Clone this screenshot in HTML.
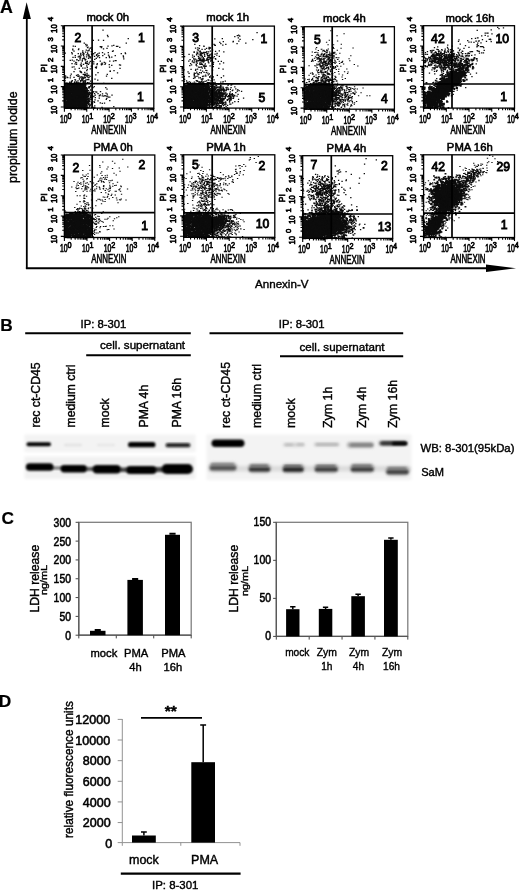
<!DOCTYPE html><html><head><meta charset="utf-8"><title>Figure</title><style>html,body{margin:0;padding:0;background:#fff}svg{display:block}text{font-family:"Liberation Sans",Arial,sans-serif;fill:#000;stroke:#000}</style></head><body>
<svg width="520" height="890" viewBox="0 0 520 890" stroke-width=".4">
<defs><filter id="b1" x="-20%" y="-50%" width="140%" height="200%"><feGaussianBlur stdDeviation="1.3"/></filter><filter id="b2" x="-20%" y="-50%" width="140%" height="200%"><feGaussianBlur stdDeviation="1.8"/></filter><filter id="b0" x="-20%" y="-50%" width="140%" height="200%"><feGaussianBlur stdDeviation="0.9"/></filter></defs>
<rect width="520" height="890" fill="#fff"/>
<text x="0" y="12.7" font-size="17.8" font-weight="bold" stroke-width=".2">A</text>
<path d="M26.8 268.8V18" stroke="#000" stroke-width="1.8" fill="none"/>
<path d="M26.6 2.2L30.9 19H22.8Z" fill="#000"/>
<path d="M25.9 268.2H487" stroke="#000" stroke-width="2.1" fill="none"/>
<path d="M516 268.2L486 264.5V271.9Z" fill="#000"/>
<text transform="translate(17.3,183) rotate(-90)" font-size="12.4">propidium Iodide</text>
<text x="255" y="288" font-size="11.6">Annexin-V</text>
<path transform="translate(64.40,108.10) scale(.25,-.25)" d="M26 12h1M57 5h1M46 34h1M0 48h1M0 40h1M3 40h1M74 10h1M16 60h1M86 55h1M33 94h1M1 82h1M9 9h1M24 78h1M12 55h1M56 34h1M48 4h1M0 18h1M60 40h1M25 55h1M38 27h1M71 67h1M18 54h1M45 84h1M65 26h1M35 72h1M9 46h1M3 64h1M50 84h1M25 66h1M52 55h1M39 81h1M86 44h1M59 4h1M62 62h1M22 36h1M59 2h1M11 9h1M0 73h1M7 22h1M32 84h1M2 42h1M48 85h1M74 83h1M22 39h1M29 85h1M87 12h1M12 20h1M17 45h1M52 24h1M1 39h1M49 92h1M61 48h1M54 64h1M3 86h1M79 76h1M33 37h1M5 60h1M1 4h1M15 14h1M27 3h1M4 33h1M54 12h1M19 32h1M30 10h1M40 45h1M3 8h1M28 24h1M75 13h1M46 12h1M47 0h1M46 94h1M78 66h1M20 34h1M11 74h1M46 75h1M26 20h1M73 95h1M77 77h1M74 71h1M17 49h1M29 0h1M1 25h1M62 92h1M38 90h1M30 19h1M17 17h1M14 59h1M82 81h1M41 62h1M72 6h1M58 87h1M70 72h1M41 15h1M71 30h1M72 94h1M33 37h1M86 69h1M11 10h1M9 87h1M73 12h1M74 94h1M58 32h1M48 10h1M57 50h1M85 40h1M79 79h1M15 22h1M23 21h1M51 23h1M35 10h1M82 33h1M39 55h1M82 39h1M83 47h1M46 49h1M1 41h1M11 44h1M65 53h1M26 49h1M48 75h1M5 53h1M19 25h1M69 48h1M49 73h1M83 41h1M54 48h1M44 66h1M38 50h1M41 91h1M62 84h1M86 23h1M49 91h1M76 11h1M6 41h1M2 21h1M2 64h1M70 86h1M10 68h1M58 12h1M80 93h1M16 92h1M33 46h1M10 40h1M44 31h1M14 29h1M64 2h1M37 1h1M55 48h1M71 94h1M5 24h1M1 75h1M7 39h1M83 79h1M20 12h1M83 54h1M62 6h1M0 66h1M36 5h1M85 60h1M72 6h1M77 4h1M78 42h1M27 52h1M84 24h1M7 50h1M18 8h1M10 3h1M14 28h1M24 73h1M23 47h1M12 32h1M0 22h1M65 52h1M13 44h1M85 8h1M74 40h1M42 80h1M33 48h1M61 95h1M28 80h1M63 60h1M34 32h1M0 10h1M66 23h1M10 6h1M76 84h1M59 25h1M18 27h1M39 13h1M38 24h1M47 22h1M88 28h1M29 1h1M40 47h1M14 47h1M0 24h1M33 2h1M1 28h1M51 50h1M67 63h1M64 84h1M32 30h1M65 61h1M3 80h1M55 70h1M73 11h1M45 47h1M75 77h1M74 55h1M81 65h1M62 20h1M1 11h1M5 80h1M49 60h1M55 65h1M42 3h1M67 47h1M46 63h1M1 70h1M19 5h1M20 70h1M14 71h1M89 46h1M32 45h1M61 73h1M54 61h1M2 12h1M19 71h1M24 54h1M21 64h1M61 64h1M23 49h1M40 44h1M6 86h1M14 94h1M39 79h1M88 42h1M21 18h1M86 18h1M51 12h1M45 92h1M7 79h1M44 85h1M63 20h1M81 46h1M42 42h1M24 11h1M28 29h1M67 80h1M6 89h1M63 87h1M23 34h1M33 96h1M52 33h1M36 25h1M3 8h1M22 90h1M19 24h1M44 16h1M31 92h1M80 78h1M56 88h1M85 52h1M64 2h1M65 42h1M67 61h1M22 2h1M84 10h1M40 32h1M23 71h1M89 23h1M58 27h1M48 37h1M11 14h1M15 87h1M43 19h1M38 11h1M13 6h1M28 7h1M18 23h1M50 85h1M67 38h1M35 49h1M31 31h1M1 25h1M88 10h1M43 60h1M78 19h1M21 22h1M33 42h1M87 81h1M3 68h1M40 56h1M3 36h1M74 82h1M89 22h1M5 13h1M45 65h1M86 69h1M57 73h1M39 52h1M1 75h1M83 61h1M24 10h1M19 60h1M62 9h1M1 49h1M51 36h1M16 57h1M2 27h1M87 61h1M80 45h1M17 22h1M87 67h1M24 2h1M60 39h1M19 64h1M84 20h1M2 31h1M61 17h1M72 71h1M43 18h1M88 28h1M74 20h1M16 73h1M23 92h1M43 16h1M16 39h1M59 91h1M9 36h1M15 94h1M8 3h1M0 36h1M81 85h1M65 96h1M85 30h1M13 90h1M67 1h1M59 35h1M31 30h1M22 32h1M87 10h1M88 18h1M29 79h1M74 40h1M1 44h1M83 17h1M30 86h1M3 38h1M69 2h1M83 23h1M67 86h1M27 24h1M87 59h1M20 68h1M25 25h1M3 72h1M56 91h1M2 21h1M32 22h1M36 46h1M84 16h1M72 71h1M74 74h1M53 30h1M25 33h1M70 5h1M14 72h1M19 4h1M1 52h1M90 24h1M3 7h1M43 68h1M38 21h1M35 59h1M60 71h1M76 63h1M6 81h1M23 54h1M31 71h1M14 22h1M18 13h1M80 55h1M26 37h1M90 48h1M17 77h1M58 96h1M5 44h1M74 81h1M23 9h1M13 94h1M51 90h1M31 83h1M38 23h1M70 91h1M5 56h1M54 19h1M30 12h1M14 23h1M53 62h1M14 1h1M60 16h1M25 18h1M71 52h1M1 8h1M33 52h1M56 7h1M10 66h1M34 26h1M24 92h1M25 54h1M29 39h1M30 17h1M65 18h1M36 79h1M34 85h1M39 14h1M2 52h1M82 6h1M55 34h1M43 12h1M22 49h1M84 8h1M42 77h1M88 17h1M7 91h1M89 45h1M32 87h1M55 79h1M10 75h1M16 38h1M76 80h1M12 19h1M33 49h1M32 10h1M18 69h1M81 2h1M49 72h1M0 80h1M53 52h1M55 28h1M35 55h1M36 63h1M38 41h1M2 59h1M17 73h1M70 43h1M12 44h1M5 10h1M36 7h1M37 48h1M0 60h1M65 74h1M44 3h1M43 35h1M86 11h1M65 78h1M13 95h1M42 92h1M83 14h1M71 90h1M1 32h1M68 13h1M81 25h1M73 12h1M43 88h1M15 24h1M43 29h1M1 16h1M85 65h1M81 14h1M70 9h1M46 60h1M29 84h1M48 55h1M80 8h1M91 60h1M33 76h1M20 95h1M50 33h1M68 41h1M12 71h1M1 79h1M56 95h1M51 63h1M25 0h1M9 58h1M36 48h1M81 11h1M17 62h1M29 8h1M29 20h1M51 56h1M14 59h1M40 11h1M85 22h1M9 7h1M56 84h1M70 37h1M20 2h1M49 32h1M57 41h1M85 70h1M19 87h1M1 50h1M18 3h1M70 2h1M85 12h1M14 58h1M44 61h1M73 15h1M25 27h1M3 85h1M64 3h1M67 44h1M66 42h1M16 8h1M17 1h1M27 72h1M62 81h1M63 24h1M48 41h1M71 49h1M20 61h1M88 19h1M20 21h1M66 91h1M67 30h1M80 30h1M18 87h1M56 66h1M59 94h1M40 81h1M62 82h1M37 69h1M50 28h1M15 59h1M2 88h1M9 0h1M5 89h1M28 12h1M62 60h1M62 70h1M1 56h1M30 78h1M74 86h1M1 83h1M83 91h1M5 18h1M5 1h1M76 78h1M56 79h1M56 26h1M4 7h1M68 18h1M25 39h1M1 23h1M64 34h1M26 93h1M43 82h1M54 1h1M35 41h1M69 32h1M63 51h1M16 83h1M3 79h1M14 73h1M42 46h1M72 16h1M42 32h1M75 23h1M86 26h1M15 67h1M43 8h1M56 6h1M71 66h1M71 60h1M29 37h1M33 86h1M3 85h1M1 18h1M82 47h1M31 85h1M17 43h1M46 72h1M67 61h1M28 30h1M10 81h1M59 71h1M11 41h1M69 55h1M7 43h1M80 21h1M13 27h1M63 81h1M10 13h1M19 30h1M45 13h1M26 16h1M89 70h1M4 93h1M4 36h1M90 76h1M65 41h1M14 61h1M5 18h1M32 1h1M33 76h1M62 47h1M56 43h1M8 57h1M34 71h1M82 40h1M50 72h1M35 20h1M64 85h1M69 67h1M77 65h1M57 42h1M25 60h1M4 39h1M70 68h1M55 22h1M36 43h1M55 38h1M60 90h1M12 62h1M70 36h1M42 94h1M1 51h1M70 91h1M45 8h1M50 51h1M64 48h1M56 79h1M45 38h1M86 18h1M61 36h1M68 10h1M90 33h1M0 25h1M33 1h1M35 67h1M29 24h1M16 71h1M85 50h1M16 77h1M32 18h1M7 74h1M73 60h1M40 53h1M16 93h1M29 61h1M74 78h1M40 27h1M48 10h1M75 33h1M77 24h1M31 23h1M36 16h1M1 69h1M18 27h1M41 40h1M56 63h1M30 89h1M77 3h1M75 87h1M70 11h1M75 60h1M87 62h1M19 8h1M8 21h1M70 32h1M9 87h1M71 14h1M81 58h1M70 64h1M81 75h1M76 17h1M62 50h1M66 41h1M80 52h1M20 21h1M8 46h1M0 44h1M9 46h1M43 51h1M76 44h1M49 63h1M76 35h1M35 93h1M2 61h1M56 0h1M54 65h1M85 30h1M89 48h1M41 86h1M2 69h1M27 83h1M30 44h1M45 74h1M15 41h1M35 52h1M74 26h1M75 37h1M43 24h1M44 94h1M58 76h1M27 29h1M24 56h1M56 75h1M3 69h1M47 2h1M24 1h1M84 58h1M58 76h1M82 58h1M54 60h1M62 56h1M60 19h1M59 43h1M68 8h1M12 1h1M69 88h1M58 34h1M74 75h1M49 23h1M24 39h1M25 40h1M57 90h1M0 54h1M6 78h1M50 88h1M38 1h1M52 90h1M89 45h1M34 8h1M57 19h1M0 65h1M79 10h1M1 69h1M65 16h1M3 74h1M77 70h1M3 60h1M63 43h1M85 23h1M88 68h1M57 78h1M2 28h1M65 14h1M78 46h1M0 34h1M50 41h1M60 12h1M72 33h1M57 60h1M35 36h1M71 91h1M70 54h1M23 4h1M89 67h1M75 30h1M53 94h1M75 57h1M24 40h1M80 35h1M61 57h1M81 77h1M22 1h1M35 56h1M73 85h1M3 80h1M78 54h1M21 82h1M73 65h1M83 32h1M3 52h1M72 17h1M67 90h1M17 58h1M60 44h1M15 23h1M67 76h1M39 6h1M73 74h1M17 55h1M81 85h1M45 45h1M52 16h1M13 15h1M62 33h1M49 37h1M45 12h1M31 8h1M56 75h1M10 57h1M28 49h1M42 54h1M20 75h1" stroke="#0c0c0c" stroke-width="6.4" stroke-linecap="square" fill="none"/><path transform="translate(64.40,108.10) scale(.25,-.25)" d="M3 79h1M86 1h1M71 50h1M55 57h1M90 58h1M75 20h1M120 23h1M91 62h1M35 55h1M75 39h1M5 28h1M98 33h1M20 67h1M97 114h1M73 44h1M75 51h1M5 100h1M103 12h1M106 61h1M37 2h1M61 44h1M84 87h1M97 28h1M35 85h1M50 31h1M37 67h1M77 71h1M61 65h1M81 82h1M103 49h1M52 53h1M71 36h1M112 20h1M63 34h1M35 50h1M108 19h1M23 21h1M15 95h1M2 52h1M64 63h1M100 63h1M31 40h1M68 27h1M32 55h1M41 105h1M39 62h1M19 47h1M63 37h1M61 44h1M89 17h1M59 80h1M43 69h1M59 74h1M169 39h1M63 39h1M31 110h1M100 63h1M24 129h1M110 51h1M39 60h1M113 46h1M28 42h1M1 73h1M32 38h1M74 94h1M44 25h1M62 52h1M18 22h1M46 66h1M9 13h1M66 7h1M53 56h1M45 13h1M47 35h1M61 19h1M86 2h1M123 52h1M1 55h1M74 100h1M36 59h1M18 76h1M90 46h1M11 58h1M88 79h1M77 1h1M41 16h1M49 34h1M108 2h1M8 42h1M42 44h1M73 41h1M56 59h1M49 103h1M64 48h1M42 26h1M95 50h1M13 28h1M45 31h1M86 9h1M66 50h1M9 47h1M46 61h1M34 55h1M1 11h1M1 22h1M86 1h1M2 74h1M3 91h1M36 65h1M31 74h1M110 39h1M102 15h1M56 37h1M3 37h1M49 78h1M27 23h1M37 43h1M12 60h1M68 48h1M107 35h1M94 28h1M75 3h1M97 55h1M44 92h1M43 84h1M91 25h1M49 83h1M1 76h1M32 88h1M82 74h1M88 35h1M45 80h1M30 42h1M62 57h1M40 76h1M43 68h1M86 66h1M74 9h1M5 26h1M65 92h1M8 55h1M20 22h1M40 67h1M56 82h1M16 73h1M81 47h1M65 28h1M12 33h1M27 136h1M33 97h1M56 55h1M74 21h1M80 57h1M0 64h1M63 124h1M48 27h1M33 70h1M28 7h1M86 2h1M45 3h1M3 54h1M64 37h1M51 43h1M54 4h1M2 46h1M3 72h1M23 26h1M13 56h1M44 20h1M16 71h1M27 64h1M64 2h1M29 52h1M43 62h1M9 26h1M114 82h1M20 99h1M94 1h1M0 76h1M91 57h1M3 46h1M2 18h1M1 40h1M21 78h1M0 107h1M31 11h1M76 63h1M14 69h1M3 16h1M13 48h1M1 2h1M58 28h1M10 124h1M68 12h1M105 88h1M26 3h1M76 24h1M65 67h1M9 43h1M57 64h1M18 14h1M2 125h1M83 54h1M56 19h1M48 43h1M27 102h1M6 21h1M62 80h1M24 37h1M24 15h1M94 45h1M35 54h1M81 89h1M61 54h1M69 79h1M70 7h1M53 35h1M107 50h1M25 90h1M37 60h1M48 60h1M86 22h1M28 73h1M41 52h1M84 19h1M85 37h1M30 29h1M125 65h1M67 24h1M99 11h1M34 85h1M88 36h1M73 38h1M8 77h1M54 72h1M77 20h1M56 23h1M64 71h1M84 122h1M38 84h1M81 71h1M23 66h1M65 52h1M64 19h1M50 66h1M44 68h1M98 55h1M38 61h1M45 32h1M41 104h1M75 70h1M81 1h1M16 85h1M1 100h1M88 34h1M54 79h1M85 81h1M44 112h1M21 30h1M50 88h1M65 107h1M78 72h1M23 39h1M54 15h1M25 11h1M37 74h1M67 55h1M67 23h1M41 32h1M19 34h1M21 45h1M76 56h1M52 61h1M43 20h1M3 84h1M99 4h1M68 64h1M100 54h1M33 20h1M7 69h1M41 23h1M67 21h1M34 31h1M105 91h1M44 0h1M69 50h1M58 71h1M42 51h1M31 87h1M77 99h1M0 24h1M48 79h1M37 19h1M114 46h1M54 20h1M113 62h1M41 39h1M50 61h1M55 25h1M98 19h1M94 70h1M5 78h1M62 23h1M119 86h1M2 79h1M45 2h1M38 48h1M38 14h1M0 40h1M50 36h1M31 1h1M2 22h1M24 39h1M79 56h1M30 56h1M42 61h1M36 0h1M51 69h1M12 42h1M78 34h1M28 107h1M77 77h1M18 95h1M1 30h1M26 9h1M3 58h1M70 62h1M34 62h1M75 55h1M66 91h1M33 50h1M32 77h1M36 60h1M54 47h1M106 43h1M96 70h1M93 40h1M80 68h1M29 53h1M45 44h1M92 24h1M2 1h1M50 62h1M107 55h1M64 23h1M68 86h1M93 1h1M63 2h1M39 63h1M63 21h1M20 74h1M6 89h1M50 54h1M6 27h1M72 1h1M117 3h1M9 47h1M65 67h1M37 39h1M41 28h1M0 74h1M85 54h1M69 92h1M114 46h1M86 2h1M24 57h1M28 13h1M22 59h1M3 63h1M83 1h1M39 78h1M20 34h1M54 58h1M32 76h1M122 33h1M110 3h1M4 6h1M97 63h1M27 29h1M2 12h1M32 24h1M10 100h1M71 49h1M33 15h1M92 69h1M18 75h1M13 65h1M18 33h1M65 58h1M82 20h1M101 86h1M49 59h1M24 41h1M6 48h1M56 86h1M80 70h1M37 39h1M38 52h1M2 68h1M37 0h1M103 42h1M100 81h1M33 57h1M92 35h1M52 29h1M51 35h1M52 75h1M95 49h1M56 71h1M40 14h1M85 17h1M80 16h1M109 14h1M77 90h1M18 90h1M22 0h1M10 82h1M101 29h1M94 57h1M84 68h1M55 31h1M95 24h1M49 66h1M2 65h1M54 50h1M96 81h1M66 82h1M36 92h1M35 57h1M79 18h1M26 3h1M80 48h1M73 75h1M92 5h1M70 50h1M70 2h1M19 68h1M85 96h1M2 85h1M76 58h1M64 110h1M41 40h1M65 71h1M6 54h1M25 64h1M94 47h1M46 51h1M0 68h1M80 82h1M45 70h1M23 45h1M11 29h1M151 19h1M92 54h1M58 3h1M17 12h1M31 65h1M69 3h1M37 21h1M54 2h1M28 23h1M16 35h1M78 56h1M4 129h1M17 49h1M50 68h1M38 59h1M118 48h1M14 55h1M23 34h1M55 55h1M40 71h1M43 6h1M78 34h1M89 26h1M68 55h1M1 0h1M55 13h1M58 37h1M1 52h1M49 52h1M63 67h1M42 24h1M31 58h1M2 8h1M67 93h1M94 36h1M104 73h1M71 25h1M64 61h1M2 31h1M70 35h1M23 91h1M29 20h1M36 20h1M82 57h1M95 58h1M29 77h1M28 31h1M44 47h1M88 27h1M61 44h1M8 12h1M42 58h1M60 60h1M51 32h1M63 15h1M5 35h1M2 30h1M25 29h1M48 21h1M35 3h1M28 96h1M86 40h1M42 83h1M66 39h1M88 47h1M16 1h1M1 117h1M50 32h1M67 48h1M86 59h1M29 39h1M79 34h1M62 61h1M43 1h1M107 55h1M54 134h1M1 46h1M15 92h1M20 52h1M63 37h1M48 34h1M28 20h1M57 37h1M17 33h1M121 9h1M32 29h1M49 70h1M27 54h1M66 96h1M31 25h1M73 45h1M31 38h1M94 1h1M50 1h1M30 77h1M65 34h1M30 7h1M6 57h1M66 31h1M73 26h1M62 1h1M122 1h1M65 48h1M54 45h1M66 36h1M48 31h1M74 87h1M75 61h1M96 21h1M119 0h1M55 101h1M46 37h1M25 45h1M35 52h1M152 57h1M21 104h1M78 70h1M73 70h1M71 88h1M82 86h1M33 45h1M25 74h1M77 31h1M68 125h1M90 11h1M46 65h1M48 57h1M88 55h1M13 67h1M46 49h1M30 3h1M8 35h1M14 3h1M42 14h1M34 75h1M82 40h1M23 67h1M125 133h1M96 47h1M72 35h1M24 26h1M50 66h1M98 86h1M65 0h1M39 19h1M23 14h1M13 122h1M105 46h1M74 16h1M1 2h1M48 15h1M41 15h1M3 38h1M36 21h1M20 17h1M57 88h1M42 114h1M2 54h1M25 49h1M98 101h1M8 38h1M1 35h1M79 97h1M2 56h1M83 3h1M81 54h1M80 0h1M64 65h1M75 63h1M63 9h1M35 49h1M2 110h1M12 57h1M66 0h1M35 18h1M24 42h1M28 66h1M44 49h1M63 84h1M69 52h1M44 21h1M38 66h1M57 33h1M5 1h1M2 71h1M42 52h1M19 56h1M43 20h1M8 70h1M61 18h1M16 72h1M69 36h1M102 36h1M14 79h1M43 56h1M50 15h1M10 39h1M96 15h1M94 52h1M12 53h1M68 18h1M2 56h1M9 47h1M72 4h1M47 14h1M99 57h1M3 28h1M67 60h1M105 72h1M61 53h1M50 5h1M97 61h1M40 10h1M98 62h1M10 66h1M112 45h1M62 33h1M28 78h1M151 49h1M45 69h1M39 67h1M77 14h1M14 43h1M77 54h1M90 3h1M65 26h1M52 55h1M17 38h1M11 53h1M21 30h1M56 25h1M87 26h1M77 54h1M15 39h1M22 34h1M40 101h1M35 93h1M64 6h1M2 66h1M58 38h1M5 63h1M114 64h1M90 64h1M82 109h1M2 24h1M26 4h1M43 66h1M59 30h1M69 35h1M61 54h1M67 1h1M35 25h1M92 19h1M56 54h1M46 37h1M64 23h1M54 86h1M31 82h1M92 102h1M20 99h1M84 91h1M83 41h1M82 52h1M34 28h1M35 41h1M2 57h1M42 31h1M57 31h1M150 3h1M21 41h1M16 88h1M0 47h1M2 51h1M35 42h1M66 64h1M101 8h1M60 116h1M94 54h1M80 39h1M96 30h1M78 54h1M25 53h1M48 26h1M56 20h1M89 62h1M85 68h1M60 4h1M41 47h1M34 44h1M38 32h1M21 32h1M14 78h1M60 62h1M78 35h1M87 2h1M58 57h1M61 35h1M7 46h1M77 69h1M71 79h1M17 44h1M60 75h1M54 61h1M54 109h1M0 45h1M86 33h1M60 6h1M40 24h1M49 27h1M48 53h1M17 69h1M31 109h1M88 66h1M54 87h1M61 0h1M50 88h1M59 44h1M11 13h1M61 19h1M63 13h1M54 43h1M82 33h1M37 53h1M51 96h1M41 29h1M39 60h1M57 66h1M4 120h1M109 44h1M10 50h1M63 2h1M34 30h1M3 2h1M53 32h1M43 17h1M95 115h1M23 0h1M87 3h1M47 3h1M19 27h1M76 3h1M23 121h1M0 30h1M108 34h1M48 105h1M52 66h1M25 51h1M2 48h1M41 15h1M62 2h1M108 24h1M37 53h1M12 1h1M3 12h1M89 46h1M66 47h1M63 15h1M19 24h1M37 64h1M9 93h1M28 28h1M72 58h1M38 13h1M16 0h1M45 37h1M59 27h1M38 123h1M33 62h1M85 18h1M76 26h1M2 45h1M71 44h1M59 29h1M48 45h1M86 113h1M1 61h1M40 57h1M2 25h1M3 96h1M42 35h1M23 21h1M80 38h1M24 8h1M20 72h1M16 2h1M0 110h1M75 4h1M15 33h1M50 2h1M49 37h1M41 60h1M118 26h1M77 78h1M40 41h1M5 78h1M32 26h1M51 19h1M15 36h1M98 39h1M66 1h1M3 100h1M39 22h1M73 80h1M77 1h1M75 74h1M64 32h1M48 26h1M45 55h1M39 75h1M134 29h1M60 70h1M70 38h1M33 76h1M70 61h1M23 64h1M75 40h1M70 111h1M2 64h1M54 19h1M82 88h1M6 53h1M22 1h1M2 98h1M38 88h1M46 99h1M111 60h1M20 33h1M74 36h1M50 57h1M2 30h1M0 75h1M32 88h1M96 36h1M28 1h1M101 26h1M31 72h1M60 18h1M76 104h1M9 38h1M14 0h1M43 55h1M15 65h1M79 8h1M19 30h1M25 34h1M83 3h1M79 83h1M50 8h1" stroke="#0c0c0c" stroke-width="4.32" stroke-linecap="square" fill="none"/><path transform="translate(64.40,108.10) scale(.25,-.25)" d="M130 174h1M73 160h1M38 165h1M109 234h1M64 173h1M74 215h1M30 178h1M73 223h1M78 217h1M38 146h1M85 184h1M72 197h1M91 187h1M120 207h1M92 221h1M108 216h1M23 191h1M133 217h1M93 217h1M56 190h1M56 234h1M87 249h1M91 252h1M90 177h1M129 214h1M112 211h1M66 210h1M42 177h1M49 193h1M34 203h1M85 255h1M132 205h1M103 201h1M88 205h1M59 208h1M31 217h1M67 180h1M65 219h1M55 218h1M94 244h1M43 203h1M92 242h1M84 224h1M31 192h1M127 199h1M143 188h1M67 167h1M96 212h1M138 210h1M68 172h1M73 229h1M99 236h1M103 205h1M95 210h1M35 248h1M88 180h1M88 213h1M107 241h1M3 220h1M86 179h1M83 194h1M107 226h1M55 205h1M76 211h1M117 185h1M159 183h1M29 222h1M33 236h1M85 195h1M98 207h1M50 194h1M135 209h1M84 179h1M139 220h1M64 204h1M57 237h1M103 187h1M62 193h1M79 260h1M65 214h1M62 199h1M87 232h1M38 188h1M67 180h1M122 222h1M109 215h1M38 228h1M71 188h1M48 175h1M59 208h1M112 188h1M97 213h1M98 205h1M33 233h1M96 175h1M76 199h1M147 244h1M79 199h1M98 212h1M96 199h1M42 156h1M31 164h1M75 220h1M128 211h1M143 246h1M71 191h1M83 192h1M61 205h1M91 155h1M78 205h1M100 181h1M92 180h1M45 183h1M80 197h1M113 216h1" stroke="#0c0c0c" stroke-width="4.32" stroke-linecap="square" fill="none"/><path transform="translate(64.40,108.10) scale(.25,-.25)" d="M149 246h1M235 209h1M244 218h1M180 164h1M208 247h1M174 248h1M255 278h1M121 195h1M221 243h1M212 141h1M195 229h1M136 272h1M197 251h1M237 197h1M179 207h1M213 247h1M117 177h1M117 218h1M111 168h1M224 172h1M189 119h1M198 150h1M227 218h1M189 171h1M181 188h1M206 190h1M152 176h1M148 242h1M152 222h1M43 247h1M102 127h1M168 128h1M236 204h1M156 237h1M153 210h1M172 291h1M196 188h1M171 135h1M222 159h1M140 202h1M179 174h1M131 178h1M48 181h1M190 249h1M128 165h1M203 190h1M220 173h1M180 202h1M170 239h1M167 202h1M156 271h1M189 204h1M98 230h1M134 142h1M162 175h1M160 216h1M150 180h1M154 312h1M124 163h1M127 160h1M148 173h1M176 212h1M203 210h1M175 222h1M43 210h1M147 176h1M164 180h1M192 227h1M103 240h1M93 229h1M247 260h1M115 271h1M243 221h1M174 286h1M183 148h1" stroke="#0c0c0c" stroke-width="4.32" stroke-linecap="square" fill="none"/><path transform="translate(64.40,108.10) scale(.25,-.25)" d="M78 123h1M89 169h1M89 150h1M62 101h1M82 132h1M110 160h1M64 144h1M70 112h1M81 121h1M83 109h1M91 114h1M77 106h1M81 101h1M68 142h1M86 132h1M82 100h1M62 148h1M80 135h1M81 143h1M66 146h1M52 128h1M97 131h1M84 104h1M93 124h1M90 138h1M77 109h1M90 139h1M83 135h1M72 124h1M90 129h1M48 131h1M74 116h1M82 160h1M54 100h1M104 108h1M103 157h1M69 117h1M91 163h1M80 129h1M76 175h1M58 129h1M92 132h1M75 135h1M72 99h1M107 168h1M70 121h1M98 122h1M76 119h1M57 127h1M69 115h1M60 120h1M74 108h1M89 63h1M77 71h1M59 159h1M83 136h1M55 89h1M87 128h1M93 125h1M84 132h1" stroke="#0c0c0c" stroke-width="4.32" stroke-linecap="square" fill="none"/><path transform="translate(64.40,108.10) scale(.25,-.25)" d="M143 21h1M175 44h1M141 50h1M167 48h1M103 58h1M181 44h1M190 52h1M157 99h1M183 147h1M120 58h1M172 48h1M117 66h1M139 49h1M129 64h1M143 53h1M123 42h1M101 63h1M139 40h1M144 66h1M162 50h1M170 76h1M81 28h1M166 60h1M165 82h1M110 61h1M181 30h1M197 6h1M133 112h1M134 58h1M157 48h1M171 56h1M122 116h1M167 35h1M78 45h1M160 20h1" stroke="#0c0c0c" stroke-width="4.32" stroke-linecap="square" fill="none"/><rect x="64.40" y="25.70" width="89.40" height="82.40" fill="none" stroke="#000" stroke-width="1.3"/><path d="M92.10 25.70V108.10M64.40 83.70H153.80" stroke="#000" stroke-width="1.7" fill="none"/><path d="M64.40 108.10v3.6M64.40 107.00h-3.6M71.13 108.10v2.2M64.40 100.88h-2.2M75.06 108.10v2.2M64.40 97.30h-2.2M77.86 108.10v2.2M64.40 94.76h-2.2M80.02 108.10v2.2M64.40 92.79h-2.2M81.79 108.10v2.2M64.40 91.18h-2.2M83.29 108.10v2.2M64.40 89.82h-2.2M84.58 108.10v2.2M64.40 88.64h-2.2M85.73 108.10v2.2M64.40 87.61h-2.2M86.75 108.10v3.6M64.40 86.67h-3.6M93.48 108.10v2.2M64.40 80.56h-2.2M97.41 108.10v2.2M64.40 76.98h-2.2M100.21 108.10v2.2M64.40 74.44h-2.2M102.37 108.10v2.2M64.40 72.47h-2.2M104.14 108.10v2.2M64.40 70.86h-2.2M105.64 108.10v2.2M64.40 69.50h-2.2M106.93 108.10v2.2M64.40 68.32h-2.2M108.08 108.10v2.2M64.40 67.28h-2.2M109.10 108.10v3.6M64.40 66.35h-3.6M115.83 108.10v2.2M64.40 60.23h-2.2M119.76 108.10v2.2M64.40 56.65h-2.2M122.56 108.10v2.2M64.40 54.11h-2.2M124.72 108.10v2.2M64.40 52.14h-2.2M126.49 108.10v2.2M64.40 50.53h-2.2M127.99 108.10v2.2M64.40 49.17h-2.2M129.28 108.10v2.2M64.40 47.99h-2.2M130.43 108.10v2.2M64.40 46.96h-2.2M131.45 108.10v3.6M64.40 46.02h-3.6M138.18 108.10v2.2M64.40 39.91h-2.2M142.11 108.10v2.2M64.40 36.33h-2.2M144.91 108.10v2.2M64.40 33.79h-2.2M147.07 108.10v2.2M64.40 31.82h-2.2M148.84 108.10v2.2M64.40 30.21h-2.2M150.34 108.10v2.2M64.40 28.85h-2.2M151.63 108.10v2.2M64.40 27.67h-2.2M152.78 108.10v2.2M64.40 26.63h-2.2M153.80 108.10v3.6M64.40 25.70h-3.6" stroke="#000" stroke-width="1.1" fill="none"/><g stroke-width=".7"><text transform="translate(60.00,123.00) scale(0.6,1)" font-size="11.4">10</text><text transform="translate(67.60,118.80) scale(0.78,1)" font-size="9.4">0</text><text transform="translate(57.00,114.20) rotate(-90) scale(0.86,1)" font-size="9">10</text><text transform="translate(52.90,102.60) rotate(-90) scale(0.95,1)" font-size="8.1">0</text><text transform="translate(81.63,123.00) scale(0.6,1)" font-size="11.4">10</text><text transform="translate(89.23,118.80) scale(0.78,1)" font-size="9.4">1</text><text transform="translate(57.00,93.88) rotate(-90) scale(0.86,1)" font-size="9">10</text><text transform="translate(52.90,82.27) rotate(-90) scale(0.95,1)" font-size="8.1">1</text><text transform="translate(103.26,123.00) scale(0.6,1)" font-size="11.4">10</text><text transform="translate(110.86,118.80) scale(0.78,1)" font-size="9.4">2</text><text transform="translate(57.00,73.55) rotate(-90) scale(0.86,1)" font-size="9">10</text><text transform="translate(52.90,61.95) rotate(-90) scale(0.95,1)" font-size="8.1">2</text><text transform="translate(124.89,123.00) scale(0.6,1)" font-size="11.4">10</text><text transform="translate(132.49,118.80) scale(0.78,1)" font-size="9.4">3</text><text transform="translate(57.00,53.23) rotate(-90) scale(0.86,1)" font-size="9">10</text><text transform="translate(52.90,41.62) rotate(-90) scale(0.95,1)" font-size="8.1">3</text><text transform="translate(146.52,123.00) scale(0.6,1)" font-size="11.4">10</text><text transform="translate(154.12,118.80) scale(0.78,1)" font-size="9.4">4</text><text transform="translate(57.00,32.90) rotate(-90) scale(0.86,1)" font-size="9">10</text><text transform="translate(52.90,21.30) rotate(-90) scale(0.95,1)" font-size="8.1">4</text><text x="91.20" y="133.90" font-size="12.2" textLength="35.2" lengthAdjust="spacingAndGlyphs" stroke-width=".6">ANNEXIN</text><text transform="translate(46.50,72.20) rotate(-90)" font-size="9" textLength="8" lengthAdjust="spacingAndGlyphs">PI</text></g><text x="107.80" y="21.20" font-size="11.3" text-anchor="middle" stroke-width=".55">mock 0h</text><text x="77.90" y="41.90" font-size="12.2" text-anchor="middle" stroke-width=".85">2</text><text x="141.30" y="41.90" font-size="12.2" text-anchor="middle" stroke-width=".85">1</text><text x="140.40" y="101.00" font-size="12.2" text-anchor="middle" stroke-width=".85">1</text>
<path transform="translate(183.70,108.10) scale(.25,-.25)" d="M47 9h1M20 62h1M54 76h1M85 92h1M15 5h1M85 54h1M14 66h1M21 21h1M32 49h1M63 5h1M69 59h1M43 64h1M75 2h1M63 67h1M60 15h1M91 75h1M19 40h1M91 18h1M36 92h1M85 20h1M69 33h1M62 73h1M8 19h1M17 24h1M1 11h1M37 5h1M54 90h1M53 33h1M66 41h1M13 45h1M1 64h1M32 92h1M72 80h1M60 60h1M66 93h1M15 73h1M25 23h1M77 57h1M80 84h1M54 17h1M3 50h1M23 4h1M65 1h1M22 68h1M7 90h1M92 12h1M29 49h1M27 39h1M43 23h1M1 6h1M12 7h1M58 66h1M22 75h1M68 31h1M45 16h1M88 53h1M1 13h1M65 35h1M67 20h1M75 76h1M5 55h1M15 67h1M76 75h1M19 7h1M62 53h1M9 17h1M54 8h1M59 21h1M21 39h1M49 69h1M1 69h1M24 60h1M64 58h1M85 18h1M27 63h1M21 13h1M18 73h1M78 68h1M91 76h1M26 29h1M67 3h1M56 6h1M0 48h1M11 89h1M83 43h1M15 9h1M46 49h1M32 68h1M48 74h1M6 4h1M34 45h1M21 63h1M18 29h1M43 68h1M72 34h1M40 89h1M89 58h1M6 42h1M59 25h1M86 10h1M42 58h1M25 4h1M70 73h1M39 6h1M35 7h1M24 73h1M9 8h1M3 14h1M49 80h1M12 15h1M72 39h1M29 10h1M20 93h1M7 23h1M69 85h1M86 44h1M91 57h1M24 43h1M67 70h1M8 17h1M91 8h1M77 31h1M20 23h1M42 95h1M10 82h1M28 15h1M70 31h1M14 39h1M77 82h1M53 3h1M56 86h1M90 30h1M80 78h1M22 34h1M33 32h1M33 8h1M18 87h1M36 60h1M84 72h1M20 88h1M76 95h1M68 72h1M77 22h1M61 35h1M79 11h1M49 31h1M77 32h1M80 81h1M83 11h1M89 71h1M63 62h1M0 83h1M50 42h1M29 75h1M74 83h1M17 31h1M20 7h1M28 0h1M75 20h1M3 4h1M69 17h1M42 37h1M76 91h1M26 60h1M85 44h1M85 70h1M27 84h1M53 8h1M54 79h1M47 45h1M37 84h1M62 18h1M32 33h1M91 66h1M8 88h1M2 56h1M67 40h1M5 49h1M77 75h1M31 19h1M70 76h1M17 84h1M94 40h1M33 67h1M88 17h1M26 30h1M69 16h1M50 47h1M62 12h1M51 76h1M14 87h1M50 72h1M82 33h1M88 18h1M3 47h1M85 92h1M46 89h1M51 12h1M58 77h1M38 57h1M21 25h1M37 48h1M42 7h1M3 31h1M70 21h1M21 48h1M13 57h1M86 17h1M54 68h1M70 68h1M66 24h1M79 89h1M40 6h1M2 76h1M63 12h1M41 60h1M95 31h1M72 22h1M15 13h1M36 58h1M26 13h1M17 6h1M15 29h1M46 16h1M43 41h1M93 45h1M90 44h1M15 56h1M10 14h1M3 67h1M92 37h1M31 39h1M31 66h1M35 13h1M82 54h1M68 32h1M58 88h1M36 40h1M25 52h1M62 70h1M90 12h1M32 81h1M74 56h1M63 31h1M90 52h1M36 15h1M7 86h1M75 0h1M28 45h1M45 33h1M85 32h1M49 89h1M59 44h1M29 36h1M56 75h1M21 34h1M34 33h1M87 51h1M23 30h1M77 13h1M64 1h1M1 77h1M10 20h1M1 24h1M69 68h1M86 91h1M50 88h1M4 89h1M39 17h1M70 82h1M34 7h1M83 72h1M55 94h1M66 60h1M7 13h1M14 57h1M63 93h1M31 94h1M39 36h1M21 20h1M66 15h1M13 13h1M30 70h1M1 50h1M63 1h1M39 75h1M53 42h1M83 57h1M29 36h1M90 82h1M87 53h1M10 15h1M34 66h1M74 48h1M37 63h1M52 69h1M36 92h1M57 29h1M33 24h1M86 75h1M74 78h1M94 65h1M27 72h1M22 58h1M11 82h1M44 25h1M88 6h1M88 72h1M10 72h1M53 87h1M54 40h1M89 6h1M73 8h1M23 9h1M82 41h1M68 23h1M68 61h1M5 46h1M67 19h1M61 25h1M32 88h1M38 54h1M76 72h1M41 83h1M35 91h1M43 9h1M70 12h1M63 3h1M94 51h1M69 10h1M59 35h1M20 78h1M0 45h1M80 85h1M2 43h1M67 69h1M30 89h1M14 11h1M77 9h1M14 47h1M29 14h1M88 44h1M74 22h1M87 19h1M86 58h1M92 73h1M58 50h1M81 41h1M5 87h1M76 65h1M70 20h1M42 79h1M11 65h1M51 37h1M12 11h1M42 46h1M22 34h1M51 73h1M54 13h1M84 34h1M9 55h1M92 35h1M50 28h1M0 18h1M24 59h1M52 91h1M64 33h1M90 60h1M50 82h1M62 33h1M56 27h1M92 22h1M1 52h1M46 9h1M79 63h1M64 89h1M94 64h1M67 0h1M38 93h1M27 53h1M3 38h1M54 79h1M1 17h1M79 8h1M88 24h1M83 48h1M28 93h1M36 66h1M2 79h1M70 24h1M10 33h1M61 91h1M58 62h1M12 69h1M50 33h1M85 23h1M10 13h1M10 55h1M75 13h1M46 54h1M51 38h1M50 0h1M38 21h1M71 21h1M78 21h1M5 45h1M34 31h1M72 19h1M62 80h1M41 47h1M88 57h1M14 4h1M4 30h1M4 61h1M38 28h1M47 90h1M20 13h1M26 29h1M86 67h1M38 14h1M3 10h1M60 13h1M58 3h1M46 31h1M6 71h1M67 48h1M12 63h1M39 63h1M5 86h1M35 17h1M4 65h1M95 31h1M22 64h1M18 37h1M64 40h1M11 4h1M50 95h1M87 7h1M46 46h1M15 63h1M45 77h1M25 89h1M77 44h1M10 45h1M8 65h1M65 54h1M67 76h1M7 29h1M1 55h1M68 32h1M65 34h1M67 25h1M93 41h1M68 83h1M59 13h1M82 68h1M7 35h1M62 0h1M31 84h1M95 29h1M86 75h1M82 55h1M92 61h1M90 53h1M15 49h1M44 31h1M33 48h1M54 19h1M23 47h1M46 39h1M62 16h1M49 25h1M72 67h1M73 48h1M20 89h1M46 34h1M24 37h1M66 78h1M44 69h1M17 42h1M31 28h1M31 72h1M69 18h1M19 75h1M61 64h1M59 66h1M23 4h1M31 1h1M91 49h1M62 93h1M76 20h1M29 8h1M75 70h1M44 34h1M22 45h1M67 86h1M80 83h1M39 39h1M27 93h1M14 13h1M23 88h1M81 30h1M80 85h1M38 16h1M73 34h1M7 86h1M39 37h1M55 23h1M1 36h1M3 34h1M29 64h1M58 16h1M2 64h1M25 17h1M81 87h1M19 55h1M53 29h1M2 30h1M56 48h1M8 18h1M27 39h1M32 86h1M19 82h1M20 55h1M33 1h1M75 77h1M22 74h1M43 95h1M1 35h1M18 59h1M73 80h1M50 36h1M75 8h1M21 72h1M39 95h1M5 43h1M5 6h1M32 40h1M46 26h1M66 48h1M93 14h1M46 46h1M33 82h1M16 84h1M31 31h1M57 53h1M24 6h1M91 34h1M7 62h1M49 30h1M28 81h1M29 39h1M91 33h1M36 13h1M62 63h1M40 37h1M19 75h1M41 79h1M33 70h1M3 19h1M64 64h1M45 44h1M15 15h1M60 66h1M21 61h1M9 58h1M13 48h1M27 52h1M9 45h1M57 11h1M26 64h1M50 58h1M73 54h1M18 41h1M78 53h1M71 33h1M40 93h1M77 62h1M6 58h1M92 69h1M22 81h1M13 79h1M47 3h1M39 79h1M64 50h1M82 18h1M85 31h1M0 31h1M3 59h1M8 13h1M25 25h1M87 87h1M39 76h1M23 89h1M76 70h1M18 7h1M88 52h1M57 82h1M10 66h1M42 75h1M41 17h1M91 25h1M70 79h1M20 66h1M35 20h1M17 91h1M32 48h1M45 0h1M71 71h1M83 33h1M16 32h1M69 62h1M36 49h1M11 88h1M43 47h1M74 17h1M68 32h1M77 7h1M23 60h1M44 35h1M53 19h1M39 3h1M21 79h1M51 57h1M58 10h1M73 26h1M82 75h1M63 78h1M39 64h1M91 16h1M6 38h1M46 12h1M18 83h1M34 12h1M14 54h1M14 44h1M49 41h1M46 80h1M15 1h1M72 54h1M49 19h1M73 28h1M68 20h1M53 61h1M33 45h1M2 61h1M64 13h1M50 70h1M6 80h1M82 3h1M20 6h1M21 6h1M44 22h1M25 43h1M33 75h1M68 9h1M18 1h1M6 66h1M16 1h1M71 38h1M88 36h1M27 5h1M90 48h1M39 41h1M72 79h1M43 15h1M36 85h1M36 63h1M51 43h1M53 22h1M51 83h1M3 34h1M2 59h1M80 44h1M9 27h1M67 69h1M16 61h1M61 62h1M1 41h1M55 31h1M8 64h1M24 75h1M26 51h1M76 9h1M68 4h1M68 34h1M13 36h1M45 38h1M8 49h1M25 93h1M34 40h1M18 93h1M28 61h1M79 36h1M71 25h1M6 2h1M40 84h1M16 41h1M72 25h1M11 49h1M38 90h1M85 21h1M51 38h1M3 41h1M26 55h1M66 4h1M88 8h1M26 68h1M0 34h1M43 0h1M18 6h1M4 17h1M47 11h1M77 39h1M21 21h1M79 2h1M70 7h1M90 38h1M55 82h1M5 4h1M65 55h1M67 25h1M45 16h1M39 25h1M54 27h1M23 61h1M4 76h1M45 20h1M7 48h1M46 68h1M33 38h1M85 24h1M21 78h1M57 18h1M95 61h1M76 52h1M3 82h1M13 23h1M57 17h1M42 68h1M5 63h1M6 44h1M60 65h1M3 16h1M34 39h1M33 66h1M69 62h1M36 54h1M47 16h1M73 95h1M42 80h1M19 71h1M67 90h1M79 84h1M22 75h1M43 28h1M32 76h1M80 81h1M62 14h1M11 53h1M17 31h1M6 13h1M67 20h1M80 30h1M80 27h1M22 36h1M1 40h1M33 3h1M18 22h1M66 55h1M46 22h1M24 93h1M33 95h1M84 10h1M80 2h1M76 66h1M50 78h1M11 51h1M22 37h1M15 67h1M53 74h1M58 56h1M87 77h1M52 30h1M88 34h1M6 30h1M66 89h1M60 63h1M89 74h1M40 43h1M71 29h1M6 59h1M76 22h1M64 85h1M8 11h1M45 30h1M40 76h1M58 15h1M92 15h1M3 42h1M1 45h1M91 38h1M80 74h1M54 21h1M26 46h1M35 61h1M46 29h1M56 96h1M16 31h1M1 39h1M79 66h1M92 80h1M54 55h1M1 35h1M57 4h1M50 34h1M45 37h1M6 70h1M75 56h1M7 56h1M71 2h1M83 63h1M23 88h1M78 86h1M20 54h1M33 27h1M71 58h1M29 51h1M88 53h1M87 53h1M41 52h1M68 93h1M58 45h1M59 50h1M66 91h1M3 29h1M1 75h1M3 61h1M19 35h1M18 67h1M48 57h1M28 55h1M91 74h1M90 22h1M47 35h1M30 77h1M13 52h1M73 90h1M2 24h1M89 14h1" stroke="#0c0c0c" stroke-width="6.4" stroke-linecap="square" fill="none"/><path transform="translate(183.70,108.10) scale(.25,-.25)" d="M86 19h1M0 24h1M52 61h1M87 65h1M47 6h1M116 84h1M41 44h1M96 1h1M133 24h1M64 46h1M115 2h1M120 76h1M72 1h1M122 1h1M110 1h1M38 2h1M94 12h1M59 69h1M42 41h1M118 1h1M44 1h1M115 83h1M67 19h1M91 60h1M70 10h1M73 28h1M93 63h1M81 32h1M125 68h1M114 70h1M90 57h1M21 1h1M54 48h1M47 65h1M79 3h1M1 36h1M92 67h1M55 70h1M62 24h1M48 68h1M102 12h1M24 49h1M149 10h1M13 58h1M84 27h1M62 60h1M1 44h1M2 84h1M6 85h1M94 26h1M105 76h1M58 2h1M46 80h1M53 78h1M3 59h1M105 29h1M85 41h1M115 24h1M93 22h1M73 45h1M107 1h1M77 26h1M64 10h1M41 56h1M84 0h1M92 42h1M34 68h1M3 15h1M37 23h1M76 52h1M10 40h1M2 74h1M38 71h1M109 110h1M21 24h1M36 56h1M44 78h1M2 74h1M67 55h1M84 69h1M81 1h1M72 12h1M15 36h1M78 48h1M33 4h1M3 93h1M59 56h1M7 30h1M65 54h1M53 46h1M59 2h1M55 78h1M66 65h1M95 97h1M2 59h1M21 91h1M14 19h1M23 70h1M104 123h1M40 11h1M51 34h1M49 65h1M67 41h1M3 66h1M57 19h1M71 93h1M44 93h1M23 88h1M4 20h1M0 108h1M71 40h1M25 36h1M68 18h1M82 98h1M2 29h1M132 57h1M73 80h1M95 45h1M28 2h1M1 63h1M50 27h1M10 36h1M60 25h1M50 72h1M95 61h1M57 5h1M94 90h1M114 80h1M75 56h1M63 83h1M53 109h1M94 35h1M63 2h1M60 121h1M70 44h1M46 69h1M77 76h1M71 41h1M81 22h1M151 51h1M60 66h1M93 65h1M82 58h1M63 86h1M31 54h1M3 36h1M13 103h1M77 6h1M27 49h1M120 94h1M49 36h1M140 16h1M125 55h1M67 84h1M83 20h1M3 46h1M84 86h1M1 85h1M61 36h1M60 61h1M93 76h1M97 94h1M110 70h1M77 33h1M78 97h1M1 59h1M1 92h1M148 31h1M79 82h1M83 39h1M104 1h1M63 3h1M147 91h1M121 78h1M58 18h1M47 16h1M64 36h1M100 33h1M79 12h1M77 21h1M55 43h1M47 46h1M102 9h1M3 83h1M80 42h1M45 2h1M156 52h1M13 61h1M76 22h1M154 58h1M62 54h1M150 122h1M62 24h1M116 98h1M36 10h1M92 69h1M67 44h1M51 50h1M83 45h1M139 28h1M62 36h1M47 11h1M41 46h1M0 41h1M94 22h1M60 68h1M6 56h1M2 17h1M1 38h1M100 48h1M55 60h1M54 49h1M105 28h1M109 12h1M55 1h1M60 24h1M12 31h1M67 26h1M21 93h1M101 0h1M68 59h1M52 2h1M73 8h1M2 18h1M33 11h1M2 47h1M93 69h1M25 61h1M28 34h1M30 66h1M0 105h1M128 50h1M28 66h1M31 29h1M64 51h1M131 1h1M28 51h1M144 69h1M79 25h1M62 93h1M77 12h1M41 60h1M88 3h1M105 73h1M128 41h1M41 50h1M125 64h1M131 69h1M40 15h1M137 2h1M108 69h1M36 56h1M123 23h1M85 61h1M34 79h1M44 75h1M74 27h1M57 18h1M158 19h1M37 83h1M96 66h1M22 14h1M58 52h1M101 73h1M80 69h1M2 1h1M35 32h1M68 27h1M60 78h1M84 35h1M71 61h1M72 72h1M9 77h1M25 65h1M7 78h1M99 26h1M91 34h1M113 40h1M47 17h1M61 62h1M92 26h1M49 12h1M36 42h1M80 70h1M42 10h1M128 46h1M49 50h1M62 67h1M86 10h1M49 66h1M55 70h1M22 90h1M79 3h1M52 33h1M87 50h1M61 83h1M87 8h1M36 55h1M131 39h1M57 53h1M95 42h1M75 32h1M42 21h1M90 28h1M85 57h1M102 2h1M50 22h1M61 58h1M76 44h1M35 26h1M80 76h1M91 35h1M93 83h1M37 14h1M99 102h1M83 57h1M66 82h1M12 51h1M51 2h1M138 60h1M99 48h1M98 78h1M68 29h1M42 104h1M56 31h1M35 1h1M97 83h1M54 60h1M85 72h1M92 67h1M14 33h1M3 77h1M95 60h1M138 20h1M125 20h1M2 33h1M87 61h1M132 82h1M45 74h1M45 42h1M44 3h1M90 27h1M106 87h1M50 17h1M50 60h1M86 15h1M78 19h1M42 79h1M61 1h1M49 15h1M108 5h1M27 35h1M51 109h1M74 20h1M87 56h1M75 43h1M82 10h1M16 32h1M19 66h1M141 83h1M81 55h1M36 6h1M85 0h1M76 41h1M93 47h1M68 27h1M1 35h1M3 34h1M26 66h1M45 123h1M76 1h1M58 9h1M75 17h1M109 13h1M13 57h1M80 9h1M68 44h1M115 15h1M1 49h1M30 87h1M81 18h1M122 43h1M84 50h1M111 64h1M50 67h1M48 49h1M129 13h1M22 33h1M44 85h1M3 115h1M52 0h1M90 65h1M94 68h1M141 40h1M91 39h1M65 52h1M61 56h1M30 40h1M39 10h1M35 30h1M58 2h1M19 51h1M61 54h1M8 54h1M95 102h1M121 3h1M83 12h1M78 67h1M54 0h1M102 46h1M31 79h1M123 84h1M17 103h1M47 68h1M111 117h1M0 14h1M4 32h1M81 39h1M2 127h1M94 39h1M161 57h1M59 85h1M29 77h1M154 15h1M86 28h1M67 40h1M1 83h1M27 76h1M69 94h1M53 34h1M77 39h1M51 18h1M74 55h1M137 44h1M4 59h1M109 28h1M56 82h1M129 39h1M26 1h1M1 23h1M69 40h1M12 36h1M119 101h1M39 53h1M17 67h1M61 46h1M117 72h1M85 63h1M92 3h1M65 48h1M65 3h1M58 50h1M36 55h1M1 0h1M57 31h1M71 78h1M99 43h1M45 77h1M85 72h1M52 19h1M71 26h1M110 71h1M0 65h1M62 1h1M102 76h1M66 10h1M2 53h1M30 24h1M81 77h1M4 25h1M29 35h1M73 88h1M61 22h1M7 1h1M104 33h1M16 1h1M0 119h1M47 78h1M62 1h1M118 25h1M79 45h1M106 53h1M113 52h1M45 30h1M90 20h1M101 38h1M26 18h1M58 99h1M94 46h1M27 103h1M52 45h1M47 86h1M71 31h1M71 15h1M21 40h1M3 81h1M121 20h1M57 29h1M139 58h1M37 6h1M51 68h1M108 27h1M100 49h1M55 55h1M151 36h1M65 42h1M46 53h1M52 3h1M69 30h1M81 46h1M106 2h1M71 106h1M90 64h1M180 46h1M3 72h1M81 6h1M134 41h1M158 10h1M123 71h1M69 72h1M0 123h1M44 52h1M111 45h1M49 9h1M67 17h1M6 72h1M38 1h1M102 4h1M26 31h1M49 40h1M92 61h1M73 52h1M50 2h1M81 93h1M90 7h1M71 85h1M38 60h1M112 95h1M1 1h1M49 44h1M47 82h1M2 53h1M28 14h1M72 16h1M178 45h1M69 29h1M86 59h1M52 31h1M111 50h1M95 46h1M43 59h1M95 45h1M65 73h1M30 60h1M60 51h1M98 2h1M60 45h1M73 112h1M37 51h1M100 0h1M11 45h1M90 63h1M19 14h1M24 14h1M52 53h1M141 51h1M122 0h1M67 26h1M48 62h1M112 1h1M83 19h1M93 36h1M9 24h1M68 75h1M122 78h1M72 61h1M53 89h1M31 16h1M105 4h1M76 82h1M78 65h1M73 55h1M13 98h1M54 34h1M74 86h1M54 44h1M107 68h1M50 38h1M68 22h1M21 25h1M11 109h1M30 65h1M4 30h1M70 7h1M51 2h1M168 24h1M65 23h1M24 31h1M72 99h1M75 93h1M21 47h1M46 3h1M137 45h1M58 91h1M2 47h1M58 51h1M14 52h1M57 59h1M48 46h1M84 75h1M36 75h1M24 39h1M69 50h1M1 15h1M42 67h1M61 9h1M65 42h1M82 61h1M35 68h1M2 98h1M2 8h1M0 12h1M58 52h1M112 35h1M50 39h1M62 15h1M43 25h1M98 30h1M50 110h1M69 70h1M0 52h1M81 99h1M101 60h1M77 3h1M127 89h1M17 90h1M2 57h1M62 63h1M50 45h1M106 100h1M1 17h1M18 49h1M88 60h1M121 22h1M8 43h1M128 2h1M142 65h1M79 65h1M95 73h1M24 28h1M41 48h1M53 7h1M36 100h1M149 19h1M79 44h1M29 67h1M61 96h1M82 36h1M3 42h1M45 50h1M16 55h1M69 26h1M42 134h1M119 48h1M120 74h1M1 78h1M85 30h1M80 49h1M99 59h1M101 40h1M61 37h1M13 41h1M107 69h1M29 54h1M94 3h1M78 55h1M94 53h1M4 3h1M115 84h1M67 10h1M119 44h1M84 60h1M102 76h1M6 2h1M69 45h1M95 41h1M56 107h1M119 81h1M105 21h1M60 43h1M19 18h1M70 8h1M85 60h1M54 35h1M88 60h1M78 8h1M2 108h1M67 85h1M88 22h1M14 61h1M122 42h1M86 82h1M43 77h1M62 39h1M28 44h1M2 11h1M7 54h1M56 68h1M13 43h1M75 97h1M25 45h1M62 104h1M142 3h1M64 57h1M57 40h1M102 8h1M41 74h1M54 28h1M16 86h1M41 8h1M86 58h1M63 53h1M30 14h1M110 27h1M103 28h1M31 42h1M2 61h1M102 45h1M82 86h1M17 43h1M126 22h1M72 49h1M47 5h1M36 15h1M107 53h1M92 9h1M84 50h1M106 23h1M96 87h1M136 17h1M18 0h1M102 63h1M77 19h1M114 94h1M62 41h1M111 61h1M118 33h1M77 35h1M41 36h1M52 61h1M51 47h1M31 8h1M121 15h1M137 74h1M2 26h1M119 69h1M118 125h1M2 29h1M36 86h1M52 12h1M57 77h1M57 23h1M89 75h1M55 35h1M49 127h1M56 98h1M58 58h1M3 51h1M124 60h1M30 20h1M38 13h1M89 89h1M88 65h1M95 13h1M2 42h1M25 71h1M101 49h1M194 70h1M113 20h1M107 96h1M48 100h1M31 11h1M62 21h1M89 11h1M67 1h1M31 61h1M137 75h1M45 12h1M0 27h1M25 82h1M17 37h1M62 67h1M46 20h1M145 19h1M96 40h1M44 44h1M53 55h1M3 44h1M42 64h1M76 41h1M109 0h1M120 32h1M31 66h1M25 21h1M122 1h1M134 48h1M28 9h1M78 51h1M95 27h1M1 59h1M54 37h1M1 26h1M101 89h1M138 34h1M88 2h1M3 28h1M22 12h1M80 71h1M27 100h1M70 20h1M78 45h1M97 56h1M152 81h1M38 69h1M94 15h1M33 21h1M1 64h1M18 39h1M78 59h1M2 43h1M152 72h1M119 94h1M120 58h1M83 64h1M3 70h1M24 58h1M23 67h1M44 121h1M71 61h1M27 36h1M61 36h1M46 19h1M94 33h1M31 56h1M31 40h1M43 17h1M55 20h1M13 56h1M52 1h1M48 51h1M81 56h1M74 63h1M44 21h1M88 33h1M64 65h1M102 82h1M36 34h1M86 2h1M13 64h1M39 17h1M96 61h1M101 35h1M52 35h1M76 1h1M30 72h1M63 66h1M106 79h1M3 41h1M133 3h1M85 48h1M146 36h1M21 16h1M24 58h1M95 76h1M60 61h1M100 15h1M88 27h1M34 33h1M77 26h1M32 13h1M56 56h1M14 48h1M75 26h1M77 70h1M73 24h1M57 39h1M119 69h1M44 45h1M1 58h1M24 34h1M51 45h1M103 18h1M44 66h1M100 112h1M85 20h1M22 21h1M67 53h1M61 27h1M57 43h1M88 48h1" stroke="#0c0c0c" stroke-width="4.32" stroke-linecap="square" fill="none"/><path transform="translate(183.70,108.10) scale(.25,-.25)" d="M92 21h1M153 47h1M109 49h1M144 42h1M118 44h1M129 25h1M119 74h1M145 64h1M122 87h1M133 83h1M82 23h1M135 43h1M102 27h1M153 21h1M117 16h1M109 103h1M179 37h1M87 88h1M91 7h1M123 24h1M75 76h1M94 24h1M118 45h1M144 52h1M156 76h1M161 76h1M116 62h1M114 12h1M82 67h1M51 30h1M80 48h1M86 55h1M109 38h1M91 2h1M89 43h1M123 55h1M59 37h1M125 38h1M113 5h1M60 55h1M123 70h1M70 46h1M91 56h1M132 31h1M96 58h1M71 53h1M87 77h1M109 49h1M135 44h1M47 32h1M116 58h1M118 63h1M133 25h1M134 54h1M97 48h1M93 99h1M95 55h1M102 42h1M74 45h1M142 66h1M97 87h1M69 13h1M100 39h1M130 84h1M117 41h1M94 59h1M59 59h1M72 34h1M115 29h1M94 33h1M80 54h1M105 36h1M122 37h1M93 93h1M139 47h1M121 47h1M131 45h1M158 58h1M137 84h1M127 50h1M106 57h1M89 53h1M111 21h1M165 39h1M142 98h1M141 30h1M97 47h1M105 65h1M126 81h1M92 87h1M68 29h1M158 74h1M75 48h1M116 87h1M77 71h1M100 42h1M99 88h1M152 53h1M72 38h1M99 74h1M69 55h1M143 62h1M111 82h1M112 66h1M120 101h1M77 88h1M111 30h1M110 48h1M148 35h1M138 69h1M73 50h1M99 102h1M106 43h1M137 3h1M99 86h1M149 10h1M160 69h1M114 93h1M102 24h1M153 24h1M182 47h1M74 31h1M100 27h1M81 49h1M118 68h1M143 10h1M100 14h1M78 47h1M112 47h1M46 72h1M122 76h1M132 58h1M117 44h1M128 7h1M128 35h1M137 39h1M50 68h1M74 39h1M115 51h1M112 61h1M123 33h1M153 39h1M129 85h1M100 77h1M159 71h1M122 18h1M104 28h1M130 65h1M111 18h1M127 63h1M109 50h1M142 57h1M151 88h1M145 79h1M120 29h1M32 29h1M93 33h1M134 46h1M136 43h1M93 59h1M81 8h1M107 35h1M157 47h1M60 47h1M142 70h1M124 8h1M109 41h1M92 52h1M92 34h1M81 58h1M65 22h1M109 69h1M119 60h1M149 4h1M131 66h1M158 21h1M198 39h1M110 58h1M113 78h1M134 51h1M73 56h1M121 60h1M108 59h1M123 57h1M131 1h1M161 61h1M135 19h1M98 93h1M121 53h1M132 44h1M153 28h1M125 52h1M104 38h1M93 17h1M117 77h1M126 98h1M85 22h1M106 43h1M149 21h1M77 46h1M68 51h1M92 45h1M95 47h1M146 50h1M143 21h1M122 78h1M82 33h1M82 56h1M92 2h1M66 45h1M108 38h1M112 71h1M94 72h1M87 132h1M111 26h1M94 1h1M66 4h1M74 85h1M121 29h1M144 84h1M92 61h1M71 58h1M161 15h1M115 34h1M111 51h1M121 71h1M127 74h1M140 76h1M96 59h1M104 29h1M165 56h1M115 1h1M110 87h1M156 100h1M94 24h1M134 56h1M46 81h1M136 75h1M177 80h1M112 4h1M113 34h1M114 56h1M103 46h1M120 63h1M155 28h1M97 113h1M121 61h1M77 79h1M152 74h1M67 37h1M109 55h1M149 72h1M67 47h1M120 68h1M126 96h1M109 36h1M112 42h1M93 53h1M117 10h1M106 34h1M151 59h1M112 46h1M144 5h1M92 72h1M77 4h1M94 25h1M117 21h1M147 56h1M92 61h1M98 60h1M96 87h1M136 31h1M121 39h1M69 45h1M119 25h1M148 104h1M83 27h1M106 59h1M88 38h1M144 26h1M115 17h1M114 36h1M149 48h1M99 40h1M149 70h1M107 13h1M112 78h1M118 14h1M123 43h1M114 45h1M90 28h1M139 61h1M86 6h1M142 63h1M117 37h1M164 13h1M103 63h1M125 63h1M76 68h1M145 37h1M141 42h1M113 49h1M108 52h1M147 82h1M131 63h1M81 44h1M126 51h1M101 27h1M139 65h1M39 119h1M130 54h1M144 63h1M159 39h1M139 69h1M66 102h1M103 17h1M112 76h1M87 45h1M103 45h1M43 84h1M87 66h1M114 4h1M111 25h1M109 33h1M110 46h1M119 63h1M87 81h1M169 56h1M169 82h1M149 39h1M148 1h1M118 44h1M121 14h1M116 35h1M142 64h1M81 26h1M129 78h1M134 46h1M143 2h1M87 59h1M100 52h1M133 58h1M140 96h1M77 87h1M60 29h1M148 26h1M94 55h1M92 41h1M117 43h1M97 32h1M84 64h1M199 41h1M71 97h1M145 41h1M97 43h1M121 22h1M118 2h1M102 20h1M134 69h1M129 55h1M140 46h1M133 69h1M148 62h1M116 66h1M73 7h1M156 53h1M86 35h1M110 51h1M94 73h1M69 117h1M85 89h1M131 9h1M81 51h1M121 39h1M114 53h1M84 51h1M174 34h1M87 65h1M149 74h1M97 47h1M119 44h1M124 75h1M128 49h1M108 93h1M81 98h1M133 51h1M94 94h1M146 71h1M169 6h1M116 42h1M94 51h1M128 62h1M110 17h1M129 64h1M170 72h1M114 21h1M186 33h1M119 67h1M127 81h1M86 32h1" stroke="#0c0c0c" stroke-width="4.32" stroke-linecap="square" fill="none"/><path transform="translate(183.70,108.10) scale(.25,-.25)" d="M143 25h1M114 85h1M148 51h1M115 54h1M135 29h1M166 24h1M185 46h1M51 18h1M147 34h1M204 85h1M216 74h1M187 40h1M185 43h1M135 22h1M139 62h1M134 28h1M171 74h1M133 71h1M174 31h1M135 11h1M98 63h1M103 62h1M150 6h1M118 88h1M137 56h1M110 17h1M76 119h1M130 33h1M141 9h1M189 92h1M108 61h1M102 73h1M105 50h1M186 65h1M124 19h1M76 81h1M156 55h1M184 57h1M109 51h1M133 53h1M231 67h1M147 48h1M111 31h1M65 43h1M79 11h1M101 7h1M189 82h1M100 100h1M162 2h1M100 71h1M139 46h1M88 46h1M129 33h1M87 30h1M94 77h1M166 41h1M93 49h1M152 38h1M127 76h1M123 42h1M181 50h1M131 30h1M173 57h1M121 49h1M186 49h1M127 55h1M137 74h1M122 42h1M106 55h1M83 39h1M73 49h1M125 47h1M112 31h1M141 1h1M152 40h1M134 51h1M155 31h1M93 61h1M117 65h1M117 23h1M165 59h1M164 46h1M123 82h1M72 93h1M156 52h1M140 67h1M107 60h1M100 11h1M144 56h1M161 66h1M163 71h1M96 81h1M239 40h1M88 69h1M171 77h1M195 21h1M151 64h1M184 33h1M137 45h1M130 50h1M130 13h1M135 55h1M121 2h1M113 69h1M174 1h1M159 129h1M99 64h1M113 88h1M179 50h1M160 35h1M76 73h1M199 46h1M116 12h1M218 26h1M99 49h1M183 55h1M135 54h1M169 52h1M142 52h1M94 84h1M110 23h1M119 54h1M168 19h1M88 57h1M151 28h1M93 57h1M131 16h1M103 88h1M96 78h1M77 88h1M197 39h1M110 68h1M89 66h1M183 59h1M149 50h1M175 34h1M197 53h1M124 16h1M119 59h1M184 16h1M131 37h1M90 53h1M107 73h1M33 70h1M63 8h1M156 45h1M141 31h1M96 36h1M134 34h1M120 33h1M145 27h1M56 1h1M217 55h1M82 48h1M175 11h1M51 98h1M89 77h1M154 34h1M104 64h1M115 73h1M144 47h1M203 51h1M85 41h1M116 90h1M162 37h1M109 53h1M136 98h1M110 34h1M121 42h1M172 54h1M114 47h1M103 48h1M131 91h1M96 82h1M136 31h1M208 62h1M88 44h1M117 27h1M140 52h1M188 47h1M67 81h1M177 34h1M189 55h1M94 69h1M146 43h1M154 37h1M136 60h1M160 65h1M47 43h1M151 70h1M98 77h1M102 80h1M143 59h1M82 36h1M144 59h1M129 46h1M188 37h1M157 73h1M151 57h1M89 91h1M190 33h1M103 30h1M81 51h1M98 54h1M153 37h1M88 73h1M170 49h1M101 63h1M145 74h1M142 39h1M105 56h1M78 35h1M169 71h1M157 84h1M124 39h1M140 73h1M98 96h1M183 24h1M103 69h1M149 78h1M152 50h1M116 63h1M154 37h1M124 54h1M119 28h1M155 18h1M135 35h1M136 84h1M221 70h1M128 27h1M126 60h1M74 40h1M149 60h1M119 30h1M146 30h1M213 48h1M116 79h1M100 40h1M161 21h1M148 37h1M88 52h1M130 51h1M152 30h1M177 91h1M77 40h1M133 21h1M147 49h1M125 65h1M118 41h1M156 55h1M158 79h1M95 60h1M183 55h1M136 63h1M156 58h1M117 61h1M114 56h1M129 7h1M129 61h1M152 51h1M98 22h1M56 58h1M173 83h1M204 26h1M160 33h1M62 50h1M115 65h1M161 56h1M192 94h1M123 73h1M194 48h1M120 58h1M115 68h1M174 46h1M166 50h1M214 68h1M196 72h1M110 43h1M156 32h1M184 50h1M219 35h1M94 78h1M128 20h1M194 58h1M138 38h1M148 58h1M119 50h1M159 34h1M198 52h1M114 60h1M89 67h1M188 16h1M132 58h1M106 23h1M95 20h1M156 24h1M145 43h1M189 42h1M155 61h1M116 38h1M164 46h1M91 56h1M166 46h1M184 30h1M53 30h1M183 28h1M125 51h1M146 86h1M177 75h1M114 72h1M168 14h1M135 28h1M28 38h1M183 39h1M208 77h1M154 57h1M122 41h1M137 18h1M178 97h1M192 53h1M204 49h1M66 60h1M190 40h1M168 64h1M126 32h1M157 75h1M163 73h1M186 75h1M157 106h1M178 74h1" stroke="#0c0c0c" stroke-width="4.32" stroke-linecap="square" fill="none"/><path transform="translate(183.70,108.10) scale(.25,-.25)" d="M76 190h1M65 182h1M75 192h1M42 207h1M73 190h1M62 239h1M112 209h1M61 199h1M97 201h1M100 181h1M79 223h1M95 204h1M105 169h1M93 219h1M104 210h1M47 196h1M40 199h1M117 201h1M98 204h1M80 191h1M93 197h1M160 225h1M61 216h1M76 195h1M75 218h1M83 164h1M81 188h1M35 212h1M96 218h1M29 155h1M122 206h1M58 207h1M92 193h1M69 190h1M87 167h1M74 207h1M90 168h1M50 187h1M103 196h1M70 165h1M81 247h1M63 250h1M31 173h1M117 176h1M68 218h1M50 181h1M42 224h1M92 226h1M95 211h1M84 207h1M56 188h1M53 224h1M52 192h1M104 211h1M100 203h1M94 192h1M67 189h1M64 163h1M115 152h1M109 196h1M126 198h1M82 220h1M41 195h1M127 227h1M71 176h1M67 212h1M55 220h1M51 213h1M93 195h1M142 207h1M101 238h1M72 209h1M111 203h1M80 197h1M106 202h1M115 177h1M85 223h1M54 218h1M81 220h1M69 201h1M51 216h1M78 201h1M68 223h1M89 222h1M65 193h1M106 241h1M133 219h1M111 216h1M63 195h1M52 169h1M83 208h1M101 243h1M54 180h1M70 213h1M75 175h1M98 194h1M66 228h1M108 188h1M89 191h1M73 186h1M79 184h1M93 216h1M80 168h1M107 189h1M125 216h1M85 235h1M61 202h1M103 204h1M86 177h1M118 175h1M20 188h1M110 201h1M78 199h1M95 192h1M70 193h1M67 217h1M83 214h1M70 175h1M142 229h1M99 210h1M82 221h1M35 204h1M111 217h1M73 189h1M70 219h1M117 177h1M77 202h1M59 232h1M65 209h1M82 196h1M65 175h1M105 215h1M98 188h1M65 197h1M64 194h1M56 241h1M56 128h1M73 221h1M55 233h1M62 225h1M99 225h1M80 248h1M47 240h1M66 193h1M34 185h1M71 164h1M56 189h1M115 232h1M64 177h1M73 235h1" stroke="#0c0c0c" stroke-width="4.32" stroke-linecap="square" fill="none"/><path transform="translate(183.70,108.10) scale(.25,-.25)" d="M50 174h1M144 177h1M52 110h1M70 142h1M157 156h1M63 142h1M71 180h1M134 131h1M48 155h1M84 172h1M59 199h1M55 156h1M21 126h1M66 191h1M150 187h1M43 189h1M98 184h1M159 181h1M112 191h1M35 189h1M91 239h1M14 89h1M107 199h1M106 201h1M84 190h1M92 150h1M79 105h1M84 172h1M21 139h1M48 139h1M21 215h1M49 172h1M41 182h1M102 237h1M108 129h1M119 183h1M84 159h1M27 178h1M50 173h1M138 187h1M106 228h1M24 170h1M156 252h1M81 97h1M105 240h1M41 224h1M70 141h1M118 166h1M25 194h1M126 251h1M44 255h1M93 197h1M59 164h1M59 191h1M72 114h1M74 160h1M128 196h1M132 212h1M1 153h1M104 126h1M102 137h1M78 195h1M66 122h1M52 144h1M3 206h1M67 196h1M140 159h1M166 108h1M62 190h1M40 183h1" stroke="#0c0c0c" stroke-width="4.32" stroke-linecap="square" fill="none"/><path transform="translate(183.70,108.10) scale(.25,-.25)" d="M47 151h1M77 188h1M81 143h1M85 107h1M74 104h1M56 138h1M78 169h1M125 103h1M80 128h1M42 138h1M22 105h1M111 120h1M75 148h1M98 133h1M77 102h1M88 151h1M103 101h1M96 140h1M83 168h1M56 136h1M91 109h1M17 145h1M67 152h1M65 105h1M61 104h1M91 96h1M73 91h1M70 100h1M90 142h1M75 127h1M80 93h1M42 128h1M88 128h1M76 116h1M95 102h1M121 113h1M60 135h1M42 140h1M42 132h1M115 121h1" stroke="#0c0c0c" stroke-width="4.32" stroke-linecap="square" fill="none"/><path transform="translate(183.70,108.10) scale(.25,-.25)" d="M144 263h1M158 266h1M124 277h1M276 274h1M198 267h1M123 252h1M219 292h1M214 290h1M204 286h1M220 268h1M248 260h1M218 281h1M148 258h1M225 275h1M224 288h1M154 278h1M213 258h1M197 265h1M168 255h1M222 289h1M293 302h1M121 255h1" stroke="#0c0c0c" stroke-width="4.32" stroke-linecap="square" fill="none"/><rect x="183.70" y="26.10" width="90.70" height="82.00" fill="none" stroke="#000" stroke-width="1.3"/><path d="M212.20 26.10V108.10M183.70 83.80H274.40" stroke="#000" stroke-width="1.7" fill="none"/><path d="M183.70 108.10v3.6M183.70 107.00h-3.6M190.53 108.10v2.2M183.70 100.91h-2.2M194.52 108.10v2.2M183.70 97.35h-2.2M197.35 108.10v2.2M183.70 94.82h-2.2M199.55 108.10v2.2M183.70 92.86h-2.2M201.34 108.10v2.2M183.70 91.26h-2.2M202.86 108.10v2.2M183.70 89.91h-2.2M204.18 108.10v2.2M183.70 88.74h-2.2M205.34 108.10v2.2M183.70 87.70h-2.2M206.38 108.10v3.6M183.70 86.78h-3.6M213.20 108.10v2.2M183.70 80.69h-2.2M217.19 108.10v2.2M183.70 77.13h-2.2M220.03 108.10v2.2M183.70 74.60h-2.2M222.22 108.10v2.2M183.70 72.64h-2.2M224.02 108.10v2.2M183.70 71.04h-2.2M225.54 108.10v2.2M183.70 69.68h-2.2M226.85 108.10v2.2M183.70 68.51h-2.2M228.01 108.10v2.2M183.70 67.48h-2.2M229.05 108.10v3.6M183.70 66.55h-3.6M235.88 108.10v2.2M183.70 60.46h-2.2M239.87 108.10v2.2M183.70 56.90h-2.2M242.70 108.10v2.2M183.70 54.37h-2.2M244.90 108.10v2.2M183.70 52.41h-2.2M246.69 108.10v2.2M183.70 50.81h-2.2M248.21 108.10v2.2M183.70 49.46h-2.2M249.53 108.10v2.2M183.70 48.29h-2.2M250.69 108.10v2.2M183.70 47.25h-2.2M251.72 108.10v3.6M183.70 46.33h-3.6M258.55 108.10v2.2M183.70 40.24h-2.2M262.54 108.10v2.2M183.70 36.68h-2.2M265.38 108.10v2.2M183.70 34.15h-2.2M267.57 108.10v2.2M183.70 32.19h-2.2M269.37 108.10v2.2M183.70 30.59h-2.2M270.89 108.10v2.2M183.70 29.23h-2.2M272.20 108.10v2.2M183.70 28.06h-2.2M273.36 108.10v2.2M183.70 27.03h-2.2M274.40 108.10v3.6M183.70 26.10h-3.6" stroke="#000" stroke-width="1.1" fill="none"/><g stroke-width=".7"><text transform="translate(179.30,123.00) scale(0.6,1)" font-size="11.4">10</text><text transform="translate(186.90,118.80) scale(0.78,1)" font-size="9.4">0</text><text transform="translate(176.30,114.20) rotate(-90) scale(0.86,1)" font-size="9">10</text><text transform="translate(172.20,102.60) rotate(-90) scale(0.95,1)" font-size="8.1">0</text><text transform="translate(201.25,123.00) scale(0.6,1)" font-size="11.4">10</text><text transform="translate(208.85,118.80) scale(0.78,1)" font-size="9.4">1</text><text transform="translate(176.30,93.98) rotate(-90) scale(0.86,1)" font-size="9">10</text><text transform="translate(172.20,82.38) rotate(-90) scale(0.95,1)" font-size="8.1">1</text><text transform="translate(223.21,123.00) scale(0.6,1)" font-size="11.4">10</text><text transform="translate(230.81,118.80) scale(0.78,1)" font-size="9.4">2</text><text transform="translate(176.30,73.75) rotate(-90) scale(0.86,1)" font-size="9">10</text><text transform="translate(172.20,62.15) rotate(-90) scale(0.95,1)" font-size="8.1">2</text><text transform="translate(245.16,123.00) scale(0.6,1)" font-size="11.4">10</text><text transform="translate(252.76,118.80) scale(0.78,1)" font-size="9.4">3</text><text transform="translate(176.30,53.53) rotate(-90) scale(0.86,1)" font-size="9">10</text><text transform="translate(172.20,41.93) rotate(-90) scale(0.95,1)" font-size="8.1">3</text><text transform="translate(267.12,123.00) scale(0.6,1)" font-size="11.4">10</text><text transform="translate(274.72,118.80) scale(0.78,1)" font-size="9.4">4</text><text transform="translate(176.30,33.30) rotate(-90) scale(0.86,1)" font-size="9">10</text><text transform="translate(172.20,21.70) rotate(-90) scale(0.95,1)" font-size="8.1">4</text><text x="210.50" y="133.90" font-size="12.2" textLength="35.2" lengthAdjust="spacingAndGlyphs" stroke-width=".6">ANNEXIN</text><text transform="translate(165.80,72.60) rotate(-90)" font-size="9" textLength="8" lengthAdjust="spacingAndGlyphs">PI</text></g><text x="227.70" y="21.20" font-size="11.3" text-anchor="middle" stroke-width=".55">mock 1h</text><text x="195.70" y="42.20" font-size="12.2" text-anchor="middle" stroke-width=".85">3</text><text x="263.90" y="42.60" font-size="12.2" text-anchor="middle" stroke-width=".85">1</text><text x="261.80" y="102.40" font-size="12.2" text-anchor="middle" stroke-width=".85">5</text>
<path transform="translate(304.20,109.20) scale(.25,-.25)" d="M71 20h1M78 61h1M42 69h1M80 68h1M26 97h1M95 43h1M38 18h1M28 48h1M18 23h1M78 0h1M65 40h1M75 25h1M52 20h1M41 29h1M98 36h1M58 13h1M45 88h1M87 82h1M96 22h1M9 12h1M69 54h1M41 71h1M26 61h1M46 13h1M82 17h1M84 76h1M48 45h1M24 13h1M74 36h1M60 36h1M31 15h1M81 43h1M19 88h1M19 22h1M19 56h1M82 2h1M97 70h1M88 42h1M48 8h1M30 87h1M32 91h1M88 93h1M18 42h1M88 30h1M28 0h1M57 55h1M25 25h1M68 16h1M83 88h1M46 12h1M61 29h1M14 71h1M60 26h1M29 72h1M96 34h1M63 21h1M51 58h1M34 60h1M58 3h1M16 41h1M19 54h1M64 62h1M93 61h1M82 10h1M92 93h1M63 83h1M59 43h1M20 48h1M76 80h1M94 51h1M99 36h1M5 42h1M58 77h1M27 1h1M77 18h1M90 56h1M17 52h1M82 21h1M19 59h1M72 60h1M97 19h1M8 53h1M39 39h1M44 89h1M32 69h1M61 27h1M96 24h1M34 18h1M74 69h1M40 10h1M64 33h1M59 65h1M86 87h1M12 21h1M47 84h1M35 96h1M13 91h1M9 60h1M102 72h1M96 34h1M100 91h1M31 77h1M96 20h1M43 77h1M62 92h1M47 44h1M21 26h1M92 25h1M94 80h1M61 29h1M87 96h1M101 27h1M98 43h1M41 91h1M86 68h1M33 9h1M22 25h1M23 57h1M35 20h1M92 36h1M59 1h1M60 1h1M51 62h1M58 20h1M88 98h1M86 94h1M102 36h1M59 41h1M83 16h1M26 44h1M59 100h1M38 1h1M92 8h1M56 60h1M88 32h1M65 96h1M102 56h1M38 65h1M77 68h1M72 38h1M76 34h1M27 9h1M60 16h1M32 29h1M41 41h1M102 52h1M59 39h1M59 82h1M56 51h1M39 17h1M25 7h1M32 3h1M46 57h1M15 76h1M49 62h1M47 80h1M72 11h1M59 25h1M79 36h1M26 2h1M29 94h1M9 40h1M47 68h1M83 98h1M36 7h1M31 62h1M94 9h1M31 89h1M63 39h1M26 61h1M9 50h1M33 41h1M65 74h1M72 43h1M38 62h1M50 93h1M57 58h1M71 48h1M53 66h1M64 101h1M34 49h1M102 82h1M60 29h1M22 41h1M47 43h1M29 48h1M62 9h1M70 71h1M23 24h1M7 47h1M72 40h1M63 60h1M55 93h1M75 44h1M30 12h1M69 77h1M43 7h1M32 71h1M81 39h1M93 38h1M6 19h1M94 71h1M12 28h1M43 48h1M57 25h1M7 57h1M98 72h1M90 88h1M71 4h1M35 58h1M46 21h1M10 87h1M71 29h1M51 88h1M18 63h1M27 91h1M84 95h1M42 50h1M36 34h1M53 66h1M95 42h1M96 80h1M32 35h1M73 15h1M29 18h1M14 91h1M55 75h1M73 43h1M56 11h1M28 34h1M40 66h1M28 23h1M92 78h1M98 78h1M23 48h1M88 81h1M27 48h1M63 1h1M79 67h1M49 57h1M57 34h1M12 74h1M82 43h1M81 83h1M73 81h1M99 45h1M82 74h1M14 58h1M13 73h1M38 37h1M31 81h1M68 29h1M78 17h1M85 60h1M81 61h1M103 69h1M50 59h1M61 28h1M35 80h1M86 97h1M73 50h1M44 70h1M69 95h1M79 38h1M32 3h1M82 42h1M43 4h1M54 90h1M32 74h1M80 66h1M64 24h1M72 58h1M101 51h1M39 91h1M67 33h1M69 14h1M23 89h1M50 80h1M25 47h1M28 80h1M64 39h1M42 20h1M25 69h1M35 9h1M43 45h1M103 38h1M44 98h1M76 45h1M44 21h1M19 47h1M68 9h1M52 16h1M64 34h1M71 78h1M44 37h1M12 20h1M66 81h1M18 98h1M96 36h1M58 67h1M37 36h1M77 48h1M48 56h1M15 46h1M33 15h1M57 70h1M57 49h1M71 41h1M103 20h1M4 57h1M74 37h1M44 33h1M28 79h1M91 27h1M61 45h1M17 73h1M57 100h1M96 91h1M30 10h1M85 9h1M73 16h1M75 4h1M12 87h1M56 44h1M102 79h1M26 71h1M43 46h1M35 22h1M34 26h1M23 88h1M42 56h1M86 68h1M19 96h1M98 84h1M37 83h1M68 2h1M42 70h1M59 95h1M83 84h1M103 33h1M84 7h1M54 43h1M11 63h1M83 21h1M28 77h1M57 0h1M35 95h1M31 28h1M49 89h1M85 38h1M71 1h1M10 36h1M68 13h1M8 86h1M22 4h1M12 6h1M32 58h1M70 28h1M56 32h1M62 10h1M67 3h1M25 55h1M23 44h1M30 64h1M82 85h1M102 45h1M59 34h1M33 50h1M79 31h1M64 26h1M76 49h1M35 44h1M95 7h1M44 67h1M24 97h1M47 58h1M65 7h1M55 75h1M83 73h1M72 11h1M45 50h1M8 77h1M14 56h1M31 15h1M100 62h1M78 60h1M61 88h1M10 37h1M26 59h1M43 93h1M27 26h1M96 72h1M47 37h1M78 14h1M77 22h1M85 6h1M96 87h1M6 15h1M96 82h1M33 80h1M62 24h1M73 41h1M18 85h1M76 23h1M47 68h1M41 25h1M57 96h1M13 24h1M52 99h1M68 12h1M25 12h1M54 100h1M101 36h1M94 69h1M11 91h1M31 98h1M17 90h1M55 51h1M22 48h1M80 55h1M103 53h1M95 12h1M78 60h1M93 33h1M50 81h1M29 36h1M89 65h1M53 3h1M46 23h1M43 12h1M89 80h1M101 67h1M20 42h1M38 14h1M21 26h1M66 5h1M91 42h1M21 9h1M57 34h1M54 9h1M39 50h1M12 50h1M89 59h1M17 63h1M12 13h1M5 53h1M22 27h1M16 90h1M18 67h1M85 44h1M62 32h1M86 68h1M11 70h1M18 48h1M22 48h1M70 73h1M36 4h1M49 92h1M59 62h1M81 64h1M78 81h1M18 25h1M75 58h1M91 78h1M37 16h1M70 10h1M54 27h1M44 65h1M68 62h1M10 90h1M75 91h1M65 64h1M93 75h1M68 2h1M6 72h1M89 38h1M25 44h1M89 76h1M17 19h1M25 75h1M29 89h1M45 18h1M46 13h1M46 37h1M7 21h1M46 88h1M95 86h1M77 56h1M55 72h1M64 98h1M22 90h1M80 44h1M89 28h1M43 57h1M102 23h1M89 66h1M97 29h1M71 89h1M93 70h1M88 63h1M59 18h1M56 98h1M34 23h1M89 17h1M81 18h1M38 98h1M16 58h1M31 76h1M10 68h1M30 96h1M37 67h1M68 92h1M79 5h1M79 37h1M24 89h1M71 34h1M11 65h1M10 23h1M8 16h1M79 26h1M103 27h1M84 74h1M69 60h1M18 83h1M97 53h1M23 7h1M29 98h1M36 27h1M57 2h1M83 78h1M35 1h1M95 81h1M81 20h1M100 64h1M74 17h1M94 59h1M68 1h1M25 79h1M5 18h1M11 58h1M18 79h1M49 78h1M23 36h1M84 32h1M98 33h1M67 25h1M77 27h1M46 72h1M87 13h1M21 20h1M81 67h1M76 81h1M27 49h1M4 34h1M64 25h1M84 20h1M48 68h1M26 66h1M44 3h1M14 65h1M87 68h1M91 66h1M82 84h1M64 53h1M20 23h1M12 10h1M43 28h1M60 83h1M31 90h1M88 18h1M63 19h1M10 21h1M24 0h1M85 87h1M91 6h1M6 86h1M41 34h1M74 53h1M37 14h1M15 71h1M26 52h1M31 48h1M54 25h1M15 41h1M86 13h1M58 81h1M61 34h1M97 78h1M104 29h1M52 44h1M89 62h1M59 51h1M94 34h1M17 16h1M28 8h1M102 55h1M84 45h1M56 21h1M94 41h1M45 74h1M52 42h1M87 42h1M24 47h1M35 25h1M82 34h1M67 29h1M15 78h1M82 70h1M65 16h1M54 84h1M83 59h1M67 16h1M9 85h1M5 24h1M44 70h1M74 87h1M98 26h1M29 11h1M37 9h1M101 57h1M53 4h1M96 23h1M81 19h1M31 12h1M58 27h1M61 71h1M26 12h1M56 39h1M49 36h1M20 11h1M77 63h1M73 64h1M55 18h1M96 53h1M50 25h1M42 99h1M45 81h1M16 60h1M31 22h1M34 39h1M69 40h1M91 14h1M90 43h1M84 39h1M30 90h1M68 72h1M56 71h1M100 74h1M101 34h1M34 89h1M88 89h1M48 41h1M99 19h1M20 16h1M34 41h1M42 45h1M7 33h1M55 4h1M52 91h1M70 95h1M90 49h1M62 85h1M37 12h1M80 53h1M51 11h1M60 57h1M75 91h1M11 83h1M36 41h1M38 81h1M48 6h1M52 14h1M42 44h1M95 54h1M103 54h1M100 69h1M43 3h1M19 79h1M71 29h1M20 64h1M98 24h1M104 53h1M25 17h1M75 93h1M24 23h1M18 20h1M26 41h1M28 66h1M28 26h1M46 16h1M9 8h1M4 67h1M9 47h1M93 61h1M35 39h1M47 31h1M9 14h1M18 20h1M37 9h1M66 19h1M55 69h1M54 74h1M82 44h1M25 3h1M74 36h1M33 7h1M22 90h1M51 85h1M89 24h1M26 89h1M28 60h1M98 46h1M47 96h1M91 93h1M75 21h1M97 54h1M93 96h1M28 98h1M31 17h1M31 100h1M99 34h1M52 83h1M85 90h1M40 22h1M55 94h1M66 88h1M23 50h1M96 57h1M84 81h1M48 69h1M74 43h1M56 81h1M41 68h1M59 85h1M28 46h1M29 81h1M75 0h1M18 59h1M82 34h1M12 58h1M66 42h1M31 34h1M27 82h1M42 71h1M59 22h1M32 67h1M91 92h1M19 25h1M14 18h1M43 72h1M96 59h1M18 37h1M18 27h1M62 50h1M21 27h1M94 63h1M64 31h1M34 76h1M5 65h1M100 63h1M83 17h1M46 65h1M72 28h1M73 92h1M51 39h1M73 88h1M73 93h1M83 96h1M29 67h1M25 10h1M38 95h1M33 30h1M80 34h1M87 5h1M37 23h1M90 44h1M90 48h1M41 33h1M8 45h1M98 8h1M48 84h1M19 5h1M24 7h1M78 71h1M75 80h1M22 6h1M103 79h1M11 17h1M70 16h1M48 14h1M13 48h1M58 85h1M4 35h1M11 55h1M20 32h1M102 65h1M71 60h1M24 68h1M88 34h1M24 65h1M90 15h1M24 50h1M24 50h1M47 19h1M20 59h1M99 46h1M60 70h1M90 97h1M37 16h1M96 60h1M93 13h1M83 10h1M17 11h1M40 41h1M70 94h1M47 58h1M45 38h1M30 1h1M77 80h1M73 43h1M45 18h1M63 40h1M58 49h1M33 41h1M47 90h1M94 28h1M50 21h1M100 12h1M52 2h1M50 1h1M54 47h1M34 4h1M36 34h1M14 60h1M26 53h1M75 2h1M68 90h1M73 84h1M71 21h1M86 76h1M53 93h1M9 91h1M40 54h1M84 15h1M54 0h1M100 21h1M47 11h1M98 50h1M90 26h1M50 24h1" stroke="#0c0c0c" stroke-width="6.4" stroke-linecap="square" fill="none"/><path transform="translate(304.20,109.20) scale(.25,-.25)" d="M36 49h1M40 56h1M48 127h1M88 72h1M36 12h1M84 55h1M100 61h1M37 55h1M31 36h1M91 57h1M91 57h1M66 57h1M57 54h1M112 69h1M20 111h1M106 97h1M69 66h1M59 73h1M85 70h1M50 47h1M117 111h1M39 55h1M71 84h1M69 76h1M82 98h1M37 97h1M84 83h1M31 65h1M65 86h1M90 87h1M37 101h1M74 93h1M72 53h1M142 86h1M92 59h1M66 97h1M84 112h1M104 44h1M30 98h1M88 64h1M64 57h1M120 66h1M35 92h1M70 79h1M61 69h1M21 83h1M53 61h1M80 101h1M14 67h1M87 95h1M47 78h1M83 93h1M55 66h1M58 97h1M101 60h1M68 76h1M47 68h1M95 89h1M53 55h1M69 35h1M80 73h1M36 65h1M54 64h1M48 103h1M46 88h1M77 105h1M70 70h1M74 26h1M137 65h1M63 44h1M68 109h1M51 81h1M100 93h1M61 29h1M83 84h1M63 60h1M119 33h1M58 56h1M30 54h1M50 100h1M25 38h1M79 34h1M18 56h1M39 47h1M67 81h1M54 64h1M91 67h1M91 57h1M85 100h1M34 141h1M63 62h1M67 81h1M39 71h1M56 104h1M25 86h1M63 53h1M75 65h1M73 76h1M104 61h1M117 7h1M121 99h1M114 75h1M79 47h1M108 43h1M50 70h1M78 78h1M40 62h1M85 98h1M92 80h1M65 58h1M58 68h1M86 59h1M127 47h1M94 66h1M68 62h1M113 63h1M87 73h1M92 84h1M116 53h1M49 110h1M106 72h1M64 76h1M107 53h1M111 69h1M62 61h1M15 78h1M36 57h1M47 76h1M91 71h1M77 80h1M115 84h1M114 69h1M81 55h1M88 50h1M84 56h1M62 99h1M76 89h1M65 27h1M111 66h1M54 93h1M41 53h1M103 54h1M102 63h1M66 72h1M58 96h1M101 72h1M88 83h1M117 33h1M99 92h1M63 71h1M62 99h1M41 85h1M106 84h1M59 60h1M15 47h1M101 48h1M28 65h1M32 81h1M48 93h1M69 37h1M51 55h1M49 99h1M45 79h1M56 84h1M33 34h1M85 104h1M34 63h1M58 49h1M98 72h1M34 66h1M108 54h1M58 51h1M76 58h1M96 51h1M32 81h1M0 48h1M106 83h1M75 88h1M105 70h1M65 93h1M75 89h1M121 121h1M70 47h1M129 113h1M81 63h1M95 47h1M101 68h1M69 71h1M54 62h1M86 58h1M90 55h1M87 33h1M105 57h1M59 85h1M73 82h1M65 91h1M74 68h1M40 70h1M95 102h1M84 109h1M99 115h1M68 80h1M83 84h1M88 86h1M98 66h1M37 96h1M83 75h1M89 54h1M80 84h1M69 2h1M38 93h1M54 74h1M62 91h1M72 114h1M95 83h1M71 64h1M109 62h1M62 57h1M87 116h1M77 69h1M80 55h1M104 86h1M115 97h1M85 53h1M92 94h1M72 63h1M68 58h1M60 80h1M101 85h1M54 122h1M108 48h1M33 68h1M57 94h1M45 62h1M22 87h1M116 67h1M87 54h1M89 78h1M26 70h1M66 15h1M76 50h1M101 80h1M46 114h1M100 53h1M79 31h1M43 67h1M118 57h1M0 39h1M100 104h1M49 63h1M97 93h1M84 59h1M136 27h1M84 100h1M48 72h1M88 83h1M121 53h1M102 61h1M63 70h1M40 85h1M82 70h1M68 64h1M90 67h1M59 37h1M80 97h1M57 77h1M64 76h1M53 7h1M46 64h1M57 69h1M69 32h1M93 85h1M102 97h1M127 75h1M119 89h1M84 98h1M57 13h1M83 60h1M66 44h1M87 94h1M77 68h1M61 41h1M95 51h1M72 118h1M104 94h1M70 78h1M98 112h1M106 116h1M109 116h1M110 82h1M37 63h1M89 62h1M107 69h1M80 53h1M115 69h1M54 73h1M97 48h1M128 67h1M72 31h1M97 111h1" stroke="#0c0c0c" stroke-width="6.4" stroke-linecap="square" fill="none"/><path transform="translate(304.20,109.20) scale(.25,-.25)" d="M59 36h1M80 56h1M77 102h1M70 1h1M1 104h1M69 83h1M59 101h1M97 5h1M39 86h1M43 86h1M40 46h1M105 2h1M66 36h1M70 101h1M83 9h1M102 36h1M70 85h1M51 79h1M70 22h1M51 9h1M111 55h1M102 16h1M98 13h1M75 49h1M39 59h1M65 23h1M33 10h1M119 54h1M48 71h1M28 14h1M78 98h1M75 54h1M134 3h1M187 16h1M60 9h1M14 42h1M162 21h1M38 58h1M22 42h1M96 2h1M107 69h1M98 78h1M89 7h1M40 53h1M138 23h1M50 50h1M45 21h1M32 68h1M60 67h1M34 19h1M2 71h1M39 49h1M57 89h1M34 11h1M62 20h1M69 8h1M63 66h1M8 6h1M134 32h1M87 12h1M64 76h1M84 30h1M12 53h1M83 51h1M86 103h1M67 36h1M126 128h1M100 98h1M3 17h1M120 80h1M61 41h1M95 40h1M15 58h1M14 36h1M136 74h1M45 47h1M37 49h1M4 70h1M64 31h1M38 130h1M45 35h1M39 34h1M116 70h1M80 61h1M17 0h1M63 32h1M70 52h1M128 56h1M69 47h1M71 57h1M33 65h1M90 103h1M109 77h1M100 85h1M82 65h1M95 48h1M6 63h1M114 49h1M108 81h1M41 12h1M7 88h1M110 65h1M3 30h1M66 80h1M30 32h1M181 87h1M42 54h1M67 54h1M82 40h1M3 20h1M35 36h1M29 1h1M69 81h1M2 11h1M56 100h1M74 62h1M116 52h1M23 33h1M38 43h1M76 90h1M24 71h1M102 32h1M63 38h1M50 50h1M71 69h1M45 62h1M95 39h1M58 61h1M15 90h1M2 30h1M37 23h1M86 20h1M82 67h1M67 39h1M87 89h1M44 18h1M39 23h1M53 45h1M2 94h1M33 86h1M108 44h1M3 79h1M72 96h1M52 77h1M76 21h1M103 31h1M77 37h1M54 54h1M117 2h1M1 68h1M56 66h1M127 22h1M3 41h1M54 36h1M14 2h1M11 69h1M74 70h1M9 0h1M39 18h1M87 54h1M42 95h1M90 72h1M14 13h1M141 48h1M82 87h1M23 25h1M30 32h1M68 96h1M106 16h1M7 1h1M2 23h1M112 50h1M74 30h1M2 105h1M10 38h1M89 22h1M114 20h1M17 75h1M59 59h1M51 50h1M39 107h1M90 46h1M82 75h1M42 55h1M71 32h1M32 43h1M51 37h1M0 52h1M69 61h1M94 9h1M67 117h1M85 82h1M56 7h1M75 53h1M103 119h1M91 34h1M118 63h1M90 112h1M125 23h1M75 3h1M16 84h1M125 53h1M3 80h1M2 64h1M15 27h1M92 51h1M60 98h1M113 27h1M66 5h1M82 69h1M4 24h1M8 73h1M45 73h1M84 78h1M46 42h1M68 48h1M59 21h1M94 40h1M125 57h1M9 90h1M41 20h1M31 9h1M50 68h1M33 16h1M86 55h1M47 55h1M23 45h1M44 100h1M62 38h1M2 3h1M66 72h1M49 70h1M80 70h1M3 49h1M130 63h1M42 31h1M144 52h1M84 67h1M39 102h1M148 26h1M109 0h1M50 51h1M65 67h1M79 61h1M58 59h1M41 109h1M66 87h1M67 45h1M56 11h1M147 62h1M68 36h1M115 40h1M45 33h1M125 59h1M57 30h1M115 58h1M50 76h1M99 20h1M110 82h1M53 10h1M107 39h1M55 41h1M52 75h1M19 66h1M110 81h1M92 58h1M55 46h1M28 100h1M59 19h1M97 95h1M75 40h1M19 69h1M54 30h1M88 11h1M93 2h1M47 26h1M57 80h1M83 10h1M48 116h1M2 40h1M60 21h1M109 48h1M44 21h1M38 47h1M35 73h1M62 31h1M82 92h1M0 60h1M3 70h1M34 80h1M60 51h1M89 61h1M82 35h1M52 89h1M44 7h1M50 76h1M135 54h1M39 68h1M76 85h1M84 72h1M84 62h1M27 45h1M127 89h1M102 61h1M59 60h1M51 82h1M51 27h1M2 96h1M37 57h1M84 1h1M86 25h1M54 50h1M65 73h1M85 106h1M97 41h1M74 24h1M40 39h1M104 29h1M2 20h1M17 44h1M52 15h1M33 37h1M80 68h1M116 42h1M89 52h1M21 31h1M151 45h1M129 74h1M130 44h1M101 41h1M21 15h1M82 2h1M79 24h1M78 9h1M98 43h1M4 7h1M67 1h1M78 64h1M39 91h1M121 59h1M83 64h1M54 88h1M44 1h1M132 81h1M3 12h1M89 71h1M72 83h1M45 110h1M84 37h1M167 49h1M1 92h1M125 32h1M26 83h1M67 21h1M46 52h1M103 96h1M40 95h1M5 71h1M59 63h1M48 29h1M76 83h1M3 51h1M23 63h1M46 40h1M47 90h1M114 34h1M90 129h1M71 28h1M56 56h1M65 28h1M93 5h1M72 10h1M64 58h1M58 47h1M1 43h1M16 65h1M79 67h1M44 37h1M80 68h1M143 24h1M104 76h1M55 54h1M63 95h1M165 59h1M55 78h1M84 44h1M94 75h1M49 75h1M1 11h1M101 58h1M89 23h1M92 58h1M69 78h1M38 92h1M61 40h1M109 96h1M114 11h1M91 93h1M117 71h1M77 109h1M88 20h1M48 3h1M29 15h1M25 87h1M92 76h1M78 57h1M42 21h1M89 123h1M50 87h1M37 51h1M132 47h1M90 33h1M139 13h1M87 42h1M73 60h1M116 76h1M106 60h1M23 89h1M125 64h1M96 43h1M8 79h1M36 107h1M92 49h1M41 53h1M25 38h1M128 41h1M137 47h1M81 22h1M53 36h1M10 107h1M88 47h1M22 51h1M23 21h1M57 114h1M3 66h1M112 45h1M4 21h1M65 59h1M87 5h1M63 1h1M105 18h1M112 36h1M72 41h1M89 84h1M43 23h1M139 78h1M140 78h1M70 98h1M38 37h1M49 70h1M31 44h1M31 43h1M109 83h1M56 126h1M37 63h1M46 1h1M59 22h1M97 49h1M67 50h1M8 38h1M54 81h1M31 66h1M82 86h1M58 43h1M86 33h1M35 53h1M44 21h1M27 34h1M46 49h1M106 46h1M25 103h1M43 103h1M45 57h1M34 38h1M100 140h1M105 36h1M85 6h1M56 65h1M40 40h1M65 7h1M76 103h1M109 42h1M107 43h1M108 53h1M9 106h1M1 38h1M58 53h1M124 65h1M91 54h1M1 78h1M126 51h1M56 33h1M136 22h1M133 27h1M3 35h1M105 81h1M41 72h1M57 61h1M89 0h1M112 52h1M114 55h1M115 119h1M42 84h1M56 117h1M98 51h1M73 101h1M7 94h1M53 64h1M47 53h1M92 81h1M38 40h1M84 84h1M19 62h1M52 34h1M78 50h1M81 3h1M84 73h1M30 116h1M8 75h1M73 54h1M72 94h1M3 70h1M3 3h1M98 66h1M97 84h1M45 49h1M103 66h1M34 27h1M6 57h1M43 3h1M42 59h1M71 43h1M70 69h1M16 25h1M103 72h1M8 28h1M122 72h1M58 80h1M118 92h1M8 11h1M44 48h1M50 57h1M123 83h1M103 50h1M130 63h1M74 49h1M1 114h1M19 136h1M98 35h1M29 1h1M61 51h1M19 84h1M106 42h1M29 66h1M56 45h1M149 9h1M68 50h1M54 66h1M73 2h1M91 42h1M76 79h1M37 56h1M123 25h1M56 71h1M55 80h1M23 5h1M79 46h1M76 78h1M106 39h1M48 2h1M13 87h1M1 3h1M2 55h1M0 26h1M54 85h1M74 31h1M66 36h1M36 78h1M52 12h1M100 10h1M26 75h1M1 90h1M76 71h1M63 107h1M51 28h1M3 82h1M80 124h1M201 90h1M20 120h1M124 59h1M130 23h1M42 42h1M71 124h1M82 33h1M32 85h1M54 70h1M77 38h1M35 26h1M3 61h1M64 44h1M90 0h1M73 100h1M98 21h1M76 41h1M58 107h1M71 28h1M24 35h1M60 18h1M34 98h1M50 21h1M56 26h1M37 49h1M40 77h1M93 64h1M42 72h1M3 47h1M57 66h1M135 84h1M67 3h1M43 61h1M98 67h1M65 36h1M48 54h1M75 88h1M6 1h1M65 61h1M67 57h1M83 50h1M19 42h1M102 30h1M83 59h1M28 2h1M67 78h1M23 62h1M58 67h1M146 60h1M174 36h1M18 82h1M68 64h1M100 50h1M78 13h1M68 85h1M37 44h1M2 73h1M128 46h1M126 100h1M48 18h1M85 92h1M80 82h1M88 76h1M117 41h1M7 46h1M32 14h1M57 71h1M3 5h1M29 51h1M52 44h1M3 51h1M86 61h1M8 55h1M82 46h1M95 76h1M66 42h1M16 83h1M41 59h1M125 72h1M13 47h1M35 1h1M32 67h1M77 43h1M71 15h1M33 45h1M95 40h1M57 59h1M122 12h1M85 55h1M61 57h1M3 50h1M1 48h1M50 72h1M27 28h1M97 75h1M144 36h1M5 6h1M16 53h1M54 30h1M23 29h1M49 85h1M89 90h1M96 72h1M111 63h1M125 83h1M136 56h1M33 124h1M52 65h1M48 29h1M81 17h1M57 91h1M69 74h1M89 61h1M68 68h1M25 67h1M21 27h1M40 10h1M1 61h1M62 54h1M134 15h1M2 83h1M142 21h1M47 72h1M2 89h1M57 55h1M2 97h1M87 3h1M58 13h1M33 120h1M86 1h1M118 65h1M55 34h1M42 80h1M63 64h1M89 78h1M135 54h1M35 62h1M63 77h1M11 21h1M5 71h1M3 24h1M64 43h1M51 62h1M75 33h1M96 36h1M99 89h1M78 77h1M10 66h1M4 44h1M91 2h1M21 66h1M19 98h1M3 36h1M89 6h1M97 27h1M35 2h1M77 27h1M106 101h1M2 24h1M62 65h1M88 35h1M88 83h1M52 9h1M131 66h1M47 25h1M105 32h1M65 36h1M39 99h1M38 5h1M60 43h1M70 42h1M65 76h1M45 50h1M43 57h1M44 74h1M119 86h1M90 54h1M95 30h1M96 41h1M14 45h1M1 103h1M77 14h1M17 99h1M69 47h1M8 19h1M22 48h1M59 32h1M36 53h1M110 8h1M6 83h1M6 37h1M68 103h1M1 1h1M69 26h1M71 1h1M59 24h1M58 78h1M74 6h1M17 81h1M73 30h1M96 21h1M10 3h1M73 84h1M61 44h1M24 74h1M17 61h1M74 36h1M57 24h1M102 67h1M94 75h1M85 79h1M151 129h1M74 82h1M15 21h1M117 94h1M51 59h1M12 68h1M21 88h1M35 103h1M131 26h1M102 62h1M24 43h1M84 88h1M81 62h1M1 102h1M122 39h1M9 2h1M60 14h1M87 0h1M73 46h1M53 40h1M65 16h1M114 95h1M65 117h1M24 76h1M1 67h1M34 48h1M53 62h1M61 75h1M55 33h1M125 119h1M52 39h1M108 10h1M2 0h1M81 50h1M13 59h1M71 39h1M80 56h1M1 105h1M65 40h1M42 39h1M69 77h1M64 76h1M69 78h1M19 28h1M59 24h1M115 56h1M52 69h1M2 90h1M61 40h1M3 36h1M108 10h1M177 79h1M132 55h1M3 63h1M63 36h1M51 37h1M44 57h1M59 59h1M46 46h1M66 104h1M49 89h1M101 16h1M103 1h1M114 142h1M94 36h1M79 44h1M75 111h1M127 87h1M75 102h1M96 76h1M17 31h1M70 43h1M43 2h1M70 105h1M35 60h1M73 3h1M56 50h1M114 55h1M118 59h1M110 90h1M125 55h1M89 166h1M15 56h1M82 29h1M97 45h1M95 55h1M26 81h1M144 77h1M75 3h1M122 65h1M79 34h1M40 61h1M104 34h1M78 29h1M9 19h1M46 70h1M112 72h1M40 61h1M48 74h1M102 79h1M79 68h1M3 121h1M81 108h1M97 39h1M80 7h1M2 27h1M6 2h1M67 52h1M55 15h1M141 1h1M80 88h1M82 51h1M94 61h1M38 57h1M37 1h1M88 15h1M65 2h1M41 87h1M77 28h1M59 53h1M47 40h1M39 56h1M127 93h1M14 119h1M59 8h1M5 54h1M73 31h1M32 43h1M74 70h1M86 1h1M75 67h1M50 78h1M100 24h1M6 52h1M80 77h1M49 54h1M45 88h1M38 35h1M111 67h1M65 52h1M127 38h1M96 39h1M73 2h1M95 55h1M32 73h1M40 41h1M65 56h1M47 59h1M64 56h1M79 31h1M10 48h1M112 60h1M73 28h1M19 13h1M28 39h1M3 46h1M2 69h1M63 1h1M78 65h1M48 88h1M96 59h1M93 81h1M86 105h1M98 61h1M62 1h1M141 27h1M30 39h1M85 94h1M118 66h1M67 70h1M33 29h1M85 56h1M73 19h1M74 7h1M100 50h1M39 36h1M173 143h1M36 91h1M1 83h1M121 58h1M36 0h1M84 81h1M59 66h1M71 57h1M44 57h1M81 52h1M46 6h1M22 96h1M104 59h1M75 45h1M91 78h1M54 59h1M101 3h1M27 33h1M18 37h1M31 38h1M83 15h1M68 91h1M71 13h1M40 85h1M54 31h1M95 28h1" stroke="#0c0c0c" stroke-width="4.32" stroke-linecap="square" fill="none"/><path transform="translate(304.20,109.20) scale(.25,-.25)" d="M106 67h1M146 40h1M161 78h1M183 56h1M161 65h1M93 90h1M122 42h1M116 33h1M183 54h1M125 14h1M151 53h1M109 52h1M81 68h1M103 65h1M148 7h1M106 39h1M173 67h1M167 91h1M135 43h1M80 31h1M165 35h1M115 75h1M59 84h1M190 14h1M161 54h1M177 46h1M141 85h1M124 63h1M167 51h1M175 65h1M174 16h1M109 60h1M186 85h1M146 37h1M107 11h1M128 67h1M143 21h1M142 55h1M119 86h1M160 78h1M149 32h1M183 78h1M125 25h1M173 41h1M105 52h1M164 37h1M146 76h1M171 20h1M170 93h1M177 52h1M158 19h1M125 42h1M217 54h1M111 91h1M188 18h1M138 17h1M181 4h1M209 31h1M109 100h1M164 62h1M175 32h1M175 48h1M163 59h1M193 26h1M97 68h1M227 66h1M139 69h1M103 56h1M87 56h1M170 91h1M128 74h1M192 31h1M136 13h1M115 64h1M75 47h1M170 86h1M59 62h1M124 3h1M110 67h1M144 69h1M135 68h1M111 32h1M139 15h1M188 48h1M111 35h1M112 57h1M132 73h1M105 52h1M93 44h1M192 51h1M176 52h1M107 34h1M106 61h1M153 119h1M203 73h1M111 56h1M114 106h1M120 80h1M98 71h1M103 44h1M151 57h1M143 52h1M115 51h1M143 33h1M165 58h1M119 83h1M125 12h1M189 46h1M195 63h1M114 79h1M161 74h1M146 88h1M177 46h1M93 53h1M147 32h1M138 87h1M129 79h1M113 32h1M177 50h1M152 77h1M201 26h1M165 59h1M150 94h1M137 41h1M162 9h1M158 34h1M156 37h1M162 48h1M120 66h1M171 18h1M100 48h1M132 83h1M200 64h1M183 47h1M98 61h1M84 90h1M154 80h1M123 18h1M138 65h1M137 43h1M148 50h1M193 25h1M69 52h1M154 20h1M143 64h1M156 61h1M119 22h1M178 46h1M97 88h1M170 0h1M180 47h1M152 39h1M86 44h1M134 19h1M212 81h1M207 68h1M98 41h1M155 94h1M146 36h1M178 43h1M161 41h1M127 65h1M164 56h1M169 76h1M127 55h1M189 37h1M116 52h1M75 79h1M106 66h1M177 43h1M153 47h1M140 42h1M142 63h1M200 20h1M156 27h1M178 72h1M191 32h1M251 54h1M190 44h1M201 59h1M142 52h1M138 55h1M195 67h1M147 33h1M160 69h1M151 83h1M133 104h1M170 55h1M116 36h1M175 65h1M132 94h1M148 87h1M127 32h1M187 62h1M165 64h1M164 47h1M165 50h1M153 55h1M185 12h1M140 75h1M117 81h1M131 78h1M128 38h1M179 79h1M142 52h1M81 72h1M99 34h1M168 51h1M128 62h1M183 35h1M181 30h1M114 84h1M139 81h1M101 25h1M146 92h1M95 45h1M181 70h1M187 72h1M154 32h1M98 67h1M50 30h1M174 24h1M137 60h1M133 39h1M129 21h1M152 47h1M112 56h1M129 69h1M164 32h1M127 50h1M96 42h1M168 68h1M140 83h1M235 85h1M81 87h1M203 62h1M176 39h1M109 76h1M135 70h1M189 37h1M104 54h1M161 17h1M138 73h1M134 58h1M129 59h1M128 36h1M133 68h1M144 70h1M174 37h1M114 48h1M191 45h1M171 84h1M262 54h1M143 38h1M73 75h1M154 14h1M123 46h1M117 29h1M152 60h1M65 45h1M120 83h1M203 82h1M168 41h1M133 16h1M77 74h1M173 59h1M194 83h1M142 37h1M121 30h1M110 44h1M102 42h1M130 74h1M171 82h1M155 39h1M114 41h1M150 61h1M202 62h1M164 68h1M120 53h1M109 41h1M153 88h1M88 10h1M112 88h1M111 33h1M174 58h1M134 57h1M199 79h1M180 73h1M148 82h1M122 65h1M116 59h1M182 45h1M186 81h1M175 86h1M157 2h1M85 49h1M161 13h1M84 24h1M143 31h1M97 86h1" stroke="#0c0c0c" stroke-width="4.32" stroke-linecap="square" fill="none"/><path transform="translate(304.20,109.20) scale(.25,-.25)" d="M103 178h1M118 167h1M76 166h1M80 212h1M73 162h1M85 205h1M88 173h1M96 219h1M105 199h1M96 241h1M58 179h1M79 191h1M113 135h1M112 192h1M93 138h1M130 174h1M93 180h1M148 187h1M54 146h1M81 219h1M103 209h1M118 187h1M64 196h1M89 218h1M77 220h1M62 178h1M64 174h1M57 190h1M109 142h1M50 166h1M79 205h1M78 203h1M88 129h1M73 175h1M109 224h1M72 183h1M121 188h1M146 172h1M94 129h1M95 184h1M67 217h1M75 178h1M78 236h1M108 183h1M125 167h1M95 179h1M58 216h1M99 142h1M108 218h1M102 193h1M109 200h1M106 218h1M49 217h1M52 264h1M90 197h1M56 190h1M86 185h1M90 208h1M45 210h1M74 173h1M54 220h1M73 185h1M80 194h1M67 195h1M76 213h1M89 181h1M93 197h1M61 202h1M116 171h1M82 204h1M42 174h1M89 236h1M46 241h1M96 185h1M93 156h1M62 211h1M104 172h1M59 177h1M121 197h1M121 225h1M112 191h1M82 231h1M57 158h1M111 116h1M95 203h1M32 196h1M71 201h1M64 186h1M119 213h1M41 204h1M99 205h1M115 225h1M54 202h1M106 199h1M56 217h1M89 268h1M70 218h1M63 194h1M89 192h1M137 151h1M74 180h1M90 212h1M103 195h1M79 213h1M98 160h1M102 190h1M118 209h1M77 140h1M54 226h1M112 215h1M73 157h1M64 170h1M60 203h1M49 157h1M68 220h1M72 200h1M82 187h1M88 184h1M101 229h1M66 199h1M31 194h1M70 169h1M99 183h1M113 215h1M96 144h1M56 215h1M87 211h1M124 171h1M110 178h1M78 165h1M42 227h1M81 125h1M97 213h1M128 159h1M103 138h1M80 233h1M103 208h1M107 192h1M91 216h1M67 154h1M122 147h1M76 213h1M68 200h1M105 150h1M66 156h1M78 211h1M84 178h1M96 189h1M93 234h1M94 181h1M108 178h1M103 214h1M87 229h1M53 152h1M122 164h1M66 151h1M112 152h1M29 191h1M97 185h1M90 226h1M60 182h1M68 190h1M57 208h1M84 147h1M95 201h1M44 195h1M77 234h1M85 213h1M92 175h1M98 161h1M108 195h1M72 186h1M65 212h1M33 200h1M47 228h1M73 233h1M100 220h1M82 139h1M118 204h1M116 248h1M68 240h1M117 258h1M67 185h1M117 165h1M79 161h1M87 228h1M104 154h1M81 180h1M65 195h1M50 181h1M82 189h1M77 211h1M67 200h1M89 208h1M36 193h1M95 258h1M58 140h1M111 160h1M96 181h1M69 171h1M92 209h1M76 178h1M118 222h1M85 183h1M84 192h1M19 174h1M100 219h1M49 206h1M52 166h1M132 236h1M85 177h1M124 193h1M87 163h1M112 173h1M76 189h1M61 192h1M64 199h1M96 169h1M97 202h1M97 162h1M56 235h1M106 187h1M96 208h1M118 226h1M78 166h1M57 147h1M97 189h1M51 200h1M57 201h1M61 197h1M63 178h1M76 217h1M86 174h1M67 193h1M86 188h1M49 247h1M79 170h1M81 158h1M92 197h1M101 196h1M32 229h1M105 168h1M67 157h1M91 166h1M74 174h1M86 211h1M67 203h1M78 185h1M71 224h1M94 144h1M54 206h1M134 200h1M63 148h1M101 207h1M70 240h1M84 174h1M98 186h1M102 216h1M31 215h1M130 207h1M79 167h1M103 224h1M101 194h1M101 202h1M127 188h1M52 177h1M56 155h1M111 128h1M102 181h1M99 183h1M108 216h1M127 206h1M123 183h1M82 223h1M106 200h1M90 174h1M95 211h1M71 209h1M79 199h1M67 165h1M68 174h1M115 163h1M62 181h1M97 166h1M58 207h1M108 201h1M127 220h1M86 176h1M91 229h1M61 182h1M70 200h1M77 194h1M98 198h1M99 193h1M90 214h1M25 144h1M71 141h1M47 173h1M81 187h1M75 200h1" stroke="#0c0c0c" stroke-width="4.32" stroke-linecap="square" fill="none"/><path transform="translate(304.20,109.20) scale(.25,-.25)" d="M74 102h1M72 130h1M95 120h1M92 142h1M76 138h1M75 99h1M125 128h1M107 158h1M104 121h1M81 121h1M91 166h1M78 112h1M80 134h1M88 90h1M68 150h1M67 124h1M79 123h1M72 63h1M91 146h1M58 103h1M83 102h1M81 100h1M85 95h1M47 100h1M91 150h1M78 131h1M83 108h1M86 135h1M86 86h1M71 149h1M68 146h1M96 129h1M96 118h1M74 91h1M57 131h1M73 93h1M85 103h1M84 151h1M86 96h1M101 125h1M90 115h1M68 115h1M52 113h1M76 137h1M32 146h1M96 127h1M85 151h1M86 93h1M70 115h1M52 115h1M79 128h1M102 118h1M105 116h1M75 137h1M109 107h1M78 122h1M75 148h1M98 139h1M69 127h1M37 114h1M105 91h1M77 141h1M40 132h1M83 133h1M83 121h1M30 119h1M79 122h1M71 163h1M78 114h1M61 130h1M86 135h1M74 147h1M97 117h1M84 121h1M71 127h1M95 131h1M73 92h1M74 163h1M71 76h1M78 114h1M90 63h1M100 99h1M107 159h1M52 125h1M92 116h1M123 132h1M87 117h1M47 137h1M65 104h1M86 124h1M74 134h1M104 116h1M78 173h1M99 109h1M93 119h1M61 51h1M85 162h1M98 80h1M79 148h1M97 143h1" stroke="#0c0c0c" stroke-width="4.32" stroke-linecap="square" fill="none"/><path transform="translate(304.20,109.20) scale(.25,-.25)" d="M152 188h1M153 192h1M90 226h1M164 123h1M116 247h1M139 141h1M141 183h1M170 161h1M111 194h1M133 199h1M133 172h1M138 160h1M118 243h1M118 214h1M133 273h1M159 302h1M108 208h1M147 244h1M122 228h1M106 314h1M200 179h1M182 194h1M179 202h1M119 228h1M88 127h1M214 173h1M90 237h1M186 214h1M175 149h1M75 186h1M100 276h1M115 226h1M161 150h1M112 179h1M131 294h1M111 162h1M138 206h1M153 137h1M142 224h1M152 190h1M64 194h1M148 260h1M195 245h1M157 181h1M140 192h1" stroke="#0c0c0c" stroke-width="4.32" stroke-linecap="square" fill="none"/><rect x="304.20" y="26.70" width="90.20" height="82.50" fill="none" stroke="#000" stroke-width="1.3"/><path d="M332.20 26.70V109.20M304.20 84.70H394.40" stroke="#000" stroke-width="1.7" fill="none"/><path d="M304.20 109.20v3.6M304.20 108.10h-3.6M310.99 109.20v2.2M304.20 101.97h-2.2M314.96 109.20v2.2M304.20 98.39h-2.2M317.78 109.20v2.2M304.20 95.85h-2.2M319.96 109.20v2.2M304.20 93.88h-2.2M321.75 109.20v2.2M304.20 92.26h-2.2M323.26 109.20v2.2M304.20 90.90h-2.2M324.56 109.20v2.2M304.20 89.72h-2.2M325.72 109.20v2.2M304.20 88.68h-2.2M326.75 109.20v3.6M304.20 87.75h-3.6M333.54 109.20v2.2M304.20 81.62h-2.2M337.51 109.20v2.2M304.20 78.04h-2.2M340.33 109.20v2.2M304.20 75.50h-2.2M342.51 109.20v2.2M304.20 73.53h-2.2M344.30 109.20v2.2M304.20 71.91h-2.2M345.81 109.20v2.2M304.20 70.55h-2.2M347.11 109.20v2.2M304.20 69.37h-2.2M348.27 109.20v2.2M304.20 68.33h-2.2M349.30 109.20v3.6M304.20 67.40h-3.6M356.09 109.20v2.2M304.20 61.27h-2.2M360.06 109.20v2.2M304.20 57.69h-2.2M362.88 109.20v2.2M304.20 55.15h-2.2M365.06 109.20v2.2M304.20 53.18h-2.2M366.85 109.20v2.2M304.20 51.56h-2.2M368.36 109.20v2.2M304.20 50.20h-2.2M369.66 109.20v2.2M304.20 49.02h-2.2M370.82 109.20v2.2M304.20 47.98h-2.2M371.85 109.20v3.6M304.20 47.05h-3.6M378.64 109.20v2.2M304.20 40.92h-2.2M382.61 109.20v2.2M304.20 37.34h-2.2M385.43 109.20v2.2M304.20 34.80h-2.2M387.61 109.20v2.2M304.20 32.83h-2.2M389.40 109.20v2.2M304.20 31.21h-2.2M390.91 109.20v2.2M304.20 29.85h-2.2M392.21 109.20v2.2M304.20 28.67h-2.2M393.37 109.20v2.2M304.20 27.63h-2.2M394.40 109.20v3.6M304.20 26.70h-3.6" stroke="#000" stroke-width="1.1" fill="none"/><g stroke-width=".7"><text transform="translate(299.80,124.10) scale(0.6,1)" font-size="11.4">10</text><text transform="translate(307.40,119.90) scale(0.78,1)" font-size="9.4">0</text><text transform="translate(296.80,115.30) rotate(-90) scale(0.86,1)" font-size="9">10</text><text transform="translate(292.70,103.70) rotate(-90) scale(0.95,1)" font-size="8.1">0</text><text transform="translate(321.63,124.10) scale(0.6,1)" font-size="11.4">10</text><text transform="translate(329.23,119.90) scale(0.78,1)" font-size="9.4">1</text><text transform="translate(296.80,94.95) rotate(-90) scale(0.86,1)" font-size="9">10</text><text transform="translate(292.70,83.35) rotate(-90) scale(0.95,1)" font-size="8.1">1</text><text transform="translate(343.46,124.10) scale(0.6,1)" font-size="11.4">10</text><text transform="translate(351.06,119.90) scale(0.78,1)" font-size="9.4">2</text><text transform="translate(296.80,74.60) rotate(-90) scale(0.86,1)" font-size="9">10</text><text transform="translate(292.70,63.00) rotate(-90) scale(0.95,1)" font-size="8.1">2</text><text transform="translate(365.29,124.10) scale(0.6,1)" font-size="11.4">10</text><text transform="translate(372.89,119.90) scale(0.78,1)" font-size="9.4">3</text><text transform="translate(296.80,54.25) rotate(-90) scale(0.86,1)" font-size="9">10</text><text transform="translate(292.70,42.65) rotate(-90) scale(0.95,1)" font-size="8.1">3</text><text transform="translate(387.12,124.10) scale(0.6,1)" font-size="11.4">10</text><text transform="translate(394.72,119.90) scale(0.78,1)" font-size="9.4">4</text><text transform="translate(296.80,33.90) rotate(-90) scale(0.86,1)" font-size="9">10</text><text transform="translate(292.70,22.30) rotate(-90) scale(0.95,1)" font-size="8.1">4</text><text x="331.00" y="135.00" font-size="12.2" textLength="35.2" lengthAdjust="spacingAndGlyphs" stroke-width=".6">ANNEXIN</text><text transform="translate(286.30,73.20) rotate(-90)" font-size="9" textLength="8" lengthAdjust="spacingAndGlyphs">PI</text></g><text x="344.40" y="22.40" font-size="11.3" text-anchor="middle" stroke-width=".55">mock 4h</text><text x="317.50" y="44.30" font-size="12.2" text-anchor="middle" stroke-width=".85">5</text><text x="383.40" y="42.60" font-size="12.2" text-anchor="middle" stroke-width=".85">1</text><text x="384.40" y="102.70" font-size="12.2" text-anchor="middle" stroke-width=".85">4</text>
<path transform="translate(423.60,108.10) scale(.25,-.25)" d="M134 99h1M92 87h1M59 87h1M124 103h1M85 66h1M68 60h1M94 131h1M62 57h1M72 89h1M69 68h1M54 60h1M56 69h1M161 170h1M53 84h1M130 122h1M44 69h1M140 130h1M84 76h1M64 84h1M78 62h1M106 68h1M78 102h1M113 122h1M37 21h1M97 129h1M70 39h1M128 136h1M117 143h1M86 73h1M174 169h1M65 74h1M106 88h1M117 104h1M121 105h1M67 59h1M84 79h1M60 74h1M43 25h1M1 2h1M65 74h1M63 80h1M45 48h1M127 93h1M27 48h1M84 81h1M148 111h1M72 54h1M197 165h1M81 78h1M66 65h1M37 44h1M90 96h1M32 35h1M24 20h1M194 191h1M59 78h1M71 65h1M159 144h1M130 125h1M44 45h1M110 118h1M63 26h1M119 125h1M52 52h1M82 94h1M83 89h1M84 91h1M142 121h1M57 58h1M84 68h1M147 114h1M83 106h1M1 40h1M116 118h1M146 135h1M99 76h1M90 70h1M38 35h1M140 94h1M60 33h1M98 109h1M105 101h1M61 65h1M62 58h1M108 103h1M158 113h1M22 44h1M76 67h1M72 71h1M82 89h1M105 140h1M15 15h1M57 62h1M54 56h1M102 100h1M92 105h1M53 53h1M119 136h1M136 118h1M56 76h1M88 94h1M69 87h1M108 88h1M108 101h1M75 87h1M103 91h1M54 46h1M99 75h1M44 90h1M67 69h1M50 45h1M98 101h1M29 32h1M44 66h1M70 102h1M117 93h1M131 120h1M86 88h1M32 56h1M108 87h1M37 47h1M131 137h1M107 98h1M125 134h1M69 57h1M1 25h1M200 195h1M99 113h1M60 103h1M64 48h1M140 156h1M119 116h1M88 91h1M113 100h1M110 143h1M82 64h1M69 118h1M42 69h1M75 60h1M132 127h1M82 96h1M129 133h1M155 139h1M65 79h1M133 98h1M72 86h1M66 102h1M32 37h1M78 47h1M83 82h1M83 70h1M133 111h1M84 56h1M149 118h1M163 143h1M72 104h1M38 65h1M49 41h1M107 114h1M100 105h1M165 131h1M57 74h1M45 33h1M165 189h1M108 110h1M94 77h1M70 51h1M43 47h1M116 97h1M110 84h1M108 101h1M86 90h1M136 139h1M66 69h1M99 110h1M138 120h1M41 54h1M45 55h1M176 198h1M46 32h1M108 102h1M114 118h1M97 108h1M22 46h1M49 33h1M3 6h1M109 102h1M71 29h1M124 100h1M75 80h1M84 92h1M143 156h1M54 55h1M92 75h1M119 111h1M92 105h1M174 160h1M94 136h1M146 150h1M62 66h1M73 65h1M31 27h1M7 29h1M114 106h1M91 93h1M78 85h1M79 89h1M60 63h1M161 143h1M51 71h1M101 104h1M102 94h1M66 77h1M90 103h1M83 127h1M79 107h1M72 117h1M135 119h1M155 142h1M136 120h1M102 105h1M166 122h1M10 32h1M124 113h1M113 79h1M84 72h1M121 125h1M73 96h1M59 75h1M77 87h1M65 94h1M53 94h1M129 112h1M60 88h1M158 133h1M90 103h1M171 182h1M73 93h1M103 86h1M92 88h1M82 85h1M112 97h1M132 101h1M110 120h1M122 93h1M70 75h1M100 115h1M34 37h1M143 119h1M51 44h1M84 79h1M134 139h1M12 30h1M85 103h1M75 103h1M101 92h1M37 57h1M104 71h1M108 134h1M8 22h1M96 131h1M144 129h1M99 115h1M21 52h1M100 117h1M49 67h1M92 87h1M88 96h1M35 37h1M121 90h1M125 176h1M115 116h1M64 44h1M36 56h1M56 62h1M65 84h1M128 146h1M103 125h1M163 145h1M107 95h1M95 91h1M87 102h1M70 21h1M89 111h1M60 91h1M173 173h1M77 89h1M135 105h1M131 91h1M49 55h1M115 92h1M78 105h1M24 38h1M152 125h1M129 138h1M79 81h1M89 91h1M91 78h1M106 140h1M68 98h1M76 52h1M111 117h1M117 99h1M65 87h1M146 151h1M133 81h1M52 80h1M169 152h1M2 5h1M50 41h1M96 113h1M24 25h1M62 56h1M107 105h1M98 113h1M135 131h1M21 44h1M80 114h1M130 141h1M145 133h1M85 98h1M109 94h1M133 122h1M131 148h1M103 73h1M127 127h1M4 9h1M118 129h1M47 70h1M56 62h1M42 45h1M121 124h1M82 97h1M65 78h1M40 63h1M74 122h1M115 122h1M98 70h1M72 87h1M93 74h1M141 100h1M111 134h1M82 107h1M143 125h1M123 109h1M68 92h1M51 70h1M83 96h1M80 74h1M88 97h1M88 78h1M59 97h1M50 48h1M58 79h1M107 88h1M102 110h1M89 68h1M119 112h1M93 74h1M62 93h1M72 85h1M49 56h1M171 197h1M56 67h1M102 109h1M93 100h1M43 35h1M115 102h1M129 97h1M112 116h1M94 131h1M94 87h1M86 97h1M71 56h1M167 151h1M76 91h1M52 52h1M105 92h1M136 115h1M1 29h1M131 80h1M196 158h1M22 36h1M115 100h1M1 16h1M106 89h1M99 89h1M43 60h1M88 90h1M50 39h1M84 74h1M100 102h1M81 80h1M92 113h1M38 60h1M112 129h1M65 72h1M179 152h1M121 117h1M147 150h1M126 114h1M52 86h1M47 39h1M92 69h1M124 100h1M92 89h1M6 12h1M31 35h1M8 2h1M115 121h1M111 144h1M117 114h1M77 91h1M54 36h1M68 105h1M44 52h1M54 71h1M101 102h1M124 119h1M4 49h1M80 88h1M125 110h1M79 66h1M104 114h1M109 84h1M73 47h1M46 34h1M93 104h1M15 31h1M84 117h1M135 106h1M103 109h1M108 94h1M139 141h1M86 52h1M93 68h1M16 52h1M75 96h1M120 136h1M85 63h1M80 85h1M86 81h1M109 81h1M139 116h1M102 85h1M144 132h1M58 53h1M134 109h1M46 38h1M148 89h1M97 143h1M71 92h1M103 68h1M65 80h1M50 47h1M59 69h1M178 179h1M22 58h1M82 75h1M98 114h1M92 100h1M108 85h1M107 125h1M78 45h1M64 69h1M137 142h1M1 0h1M36 32h1M85 101h1M100 134h1M67 61h1M66 78h1M160 163h1M104 87h1M21 60h1M69 99h1M124 114h1M107 90h1M113 111h1M103 129h1M57 76h1M110 100h1M85 111h1M83 104h1M87 114h1M87 82h1M137 91h1M52 85h1M40 80h1M153 143h1M56 66h1M102 139h1M153 138h1M126 116h1M123 133h1M143 141h1M133 108h1M47 59h1M82 102h1M181 167h1M56 37h1M52 78h1M106 101h1M115 113h1M98 99h1M29 48h1M71 117h1M99 88h1M103 89h1M91 85h1M111 93h1M89 82h1M53 54h1M106 122h1M102 100h1M127 122h1M133 98h1M52 39h1M134 129h1M118 96h1M1 61h1M131 166h1M97 84h1M101 97h1M99 50h1M122 77h1M87 57h1M178 151h1M70 79h1M74 81h1M131 118h1M110 108h1M37 45h1M37 61h1M87 92h1M136 119h1M43 75h1M112 121h1M14 18h1M60 50h1M46 15h1M69 78h1M72 70h1M77 106h1M66 70h1M194 191h1M134 109h1M54 47h1M212 197h1M148 137h1M63 27h1M84 106h1M64 57h1M56 43h1M134 123h1M43 57h1M100 100h1M165 169h1M148 122h1M73 100h1M108 127h1M36 33h1M138 167h1M0 2h1M172 114h1M84 101h1M148 127h1M122 138h1M52 86h1M129 147h1M69 76h1M70 105h1M194 175h1M163 170h1M72 58h1M146 152h1M66 64h1M77 75h1M168 152h1M112 50h1M99 119h1M177 163h1M83 76h1M42 44h1M62 59h1M88 104h1M66 116h1M97 108h1M112 110h1M126 129h1M44 35h1M166 132h1M158 159h1M87 113h1M105 95h1M12 2h1M36 53h1M105 86h1M127 144h1M175 178h1M41 45h1M110 128h1M33 45h1M112 120h1M32 24h1M88 84h1M131 122h1M42 1h1M118 102h1M77 100h1M70 71h1M47 24h1M101 124h1M67 64h1M108 99h1M98 90h1M120 109h1M87 60h1M77 47h1M74 95h1M49 34h1M55 66h1M82 76h1M56 52h1M86 70h1M141 150h1M81 88h1M174 185h1M70 70h1M131 139h1M79 81h1M50 45h1M77 73h1M144 143h1M137 135h1M18 45h1M71 69h1M119 146h1M83 109h1M64 78h1M44 65h1M61 75h1M28 58h1M158 151h1M104 84h1M99 70h1M120 118h1M137 136h1M91 74h1M117 114h1M60 31h1M130 127h1M94 83h1M70 70h1M112 87h1M178 194h1M15 18h1M142 128h1M31 43h1M67 67h1M156 154h1M152 135h1M23 17h1M68 82h1M130 89h1M52 44h1M69 57h1M76 80h1M42 25h1M42 67h1M100 70h1M100 118h1M41 18h1M108 108h1M97 129h1M106 125h1M56 85h1M60 67h1M16 10h1M132 112h1M96 53h1M92 65h1M98 89h1M67 61h1M75 75h1M68 91h1M160 108h1M146 140h1M115 96h1M109 119h1M81 59h1M106 115h1M79 36h1M43 52h1M152 130h1M80 59h1M113 97h1M151 160h1M88 80h1M135 126h1M75 77h1M117 144h1M91 66h1M57 55h1M145 91h1M112 119h1M115 85h1M101 90h1M48 61h1M138 140h1M103 122h1M97 88h1M157 142h1M76 83h1M86 67h1M134 132h1M71 60h1M106 121h1M87 110h1M74 105h1M139 115h1M85 91h1M102 82h1M111 109h1M48 24h1M67 85h1M89 92h1M131 125h1M93 92h1M134 120h1M115 100h1M84 105h1M57 67h1M93 97h1M112 112h1M92 127h1M77 56h1M117 123h1M175 160h1M126 114h1M80 68h1M71 53h1M82 79h1M86 101h1M59 58h1M50 67h1M61 55h1M51 73h1M59 37h1M81 74h1M45 68h1M94 53h1M99 73h1M73 63h1M63 55h1M71 83h1M195 178h1M63 85h1M148 161h1M62 100h1M83 106h1M85 61h1M153 133h1M52 55h1M50 64h1M98 93h1M56 85h1M132 153h1M25 59h1M78 111h1M120 105h1M37 25h1M143 132h1M168 141h1M118 114h1M36 44h1M80 75h1M25 7h1M69 66h1M39 80h1M75 79h1M66 91h1M103 122h1M33 37h1M80 92h1M66 69h1M59 53h1M111 100h1M62 60h1M100 107h1M52 45h1M59 40h1M169 190h1M122 115h1M108 137h1M131 143h1M29 77h1M111 127h1M101 108h1M95 61h1M131 180h1M103 115h1M83 98h1M87 85h1M134 99h1M149 139h1M106 117h1M134 165h1M53 35h1M115 82h1M116 113h1M53 70h1M64 50h1M82 98h1M88 81h1M103 95h1M11 31h1M98 119h1M91 100h1M43 17h1M6 31h1M50 77h1M112 102h1M96 80h1M70 77h1M122 111h1M19 43h1M41 56h1M43 26h1M8 23h1M74 135h1M160 160h1M15 13h1M96 103h1M107 86h1M58 96h1M74 66h1M52 40h1M132 137h1M75 68h1M127 114h1M63 57h1M1 6h1M60 64h1M60 69h1M184 170h1M117 142h1M146 126h1M122 116h1M158 138h1M84 64h1M101 55h1M93 96h1M85 79h1M164 139h1M112 110h1M77 80h1M90 81h1M106 114h1M114 146h1M151 135h1M89 69h1M92 103h1M103 107h1M68 92h1M130 139h1M58 59h1M120 128h1M142 115h1M92 75h1M106 135h1M122 131h1M70 80h1M119 123h1M56 46h1M126 100h1M119 115h1M70 87h1M103 115h1M53 54h1M56 89h1M103 59h1M46 40h1M33 9h1M37 71h1M26 26h1M106 90h1M62 51h1M101 117h1M127 121h1M119 139h1M36 42h1M114 130h1M39 48h1M41 46h1M110 109h1M121 126h1M96 99h1M111 73h1M115 115h1M90 108h1M107 106h1M46 63h1M92 109h1M90 62h1M124 94h1M75 85h1M146 147h1M124 94h1M66 55h1M128 132h1M110 119h1M110 84h1M164 138h1M99 54h1M113 138h1M68 50h1M115 130h1M151 132h1M159 143h1M122 129h1M140 112h1M48 50h1M56 68h1M55 73h1M76 70h1M104 127h1M57 47h1M57 55h1M123 122h1M61 58h1M70 60h1M79 82h1M58 77h1M54 32h1M120 124h1M81 103h1M178 151h1M101 56h1M38 39h1M119 141h1M73 97h1M83 106h1M15 41h1M29 25h1M76 99h1M60 58h1M83 85h1M103 117h1M82 59h1M92 83h1M85 128h1M101 110h1M55 48h1M159 129h1M60 50h1M0 2h1M112 82h1M138 156h1M156 140h1M109 145h1M94 96h1M89 60h1M113 88h1M99 101h1M66 40h1M39 67h1M52 68h1M83 56h1M83 74h1M83 52h1M106 79h1M71 64h1M194 190h1M72 101h1M104 81h1M72 90h1M114 142h1M1 3h1M73 54h1M100 104h1M71 72h1M78 67h1M147 132h1M157 167h1M87 74h1M39 61h1M128 115h1M147 103h1M146 137h1M101 94h1M94 57h1M31 63h1M32 63h1M55 78h1M81 74h1M117 125h1M35 47h1M186 172h1M121 142h1M99 103h1M144 166h1M91 69h1M50 38h1M118 131h1M101 97h1M91 84h1M69 67h1M102 104h1M1 11h1M57 64h1M67 78h1M1 23h1M141 109h1M30 39h1M0 2h1M129 102h1M104 102h1M54 34h1M128 137h1M129 101h1M26 51h1M119 110h1M71 108h1M103 82h1M198 192h1M66 55h1M95 97h1M52 66h1M111 117h1M146 121h1M75 83h1M176 156h1M112 82h1M86 72h1M89 88h1M74 85h1M127 146h1M56 63h1M117 89h1M73 36h1M97 116h1M140 152h1M94 88h1M79 86h1M126 100h1M76 106h1M171 153h1M83 86h1M64 76h1M91 74h1M116 102h1M175 145h1M82 80h1M129 91h1M119 142h1M114 122h1M79 90h1M45 2h1M1 1h1M106 117h1M114 97h1M29 62h1M68 56h1M110 101h1M93 118h1M32 35h1M129 100h1M104 131h1M88 96h1M70 88h1M72 72h1M74 60h1M136 133h1M142 110h1M56 39h1M151 171h1M180 169h1M111 116h1M75 86h1M85 94h1M35 16h1M36 69h1M135 115h1M116 104h1M58 41h1M203 201h1M75 99h1M114 91h1M150 189h1M130 113h1M88 90h1M22 74h1M98 86h1M85 78h1M0 2h1M109 106h1M19 32h1M128 107h1M55 44h1M67 20h1M83 71h1M84 106h1M73 44h1M80 93h1M136 152h1M96 96h1M19 33h1M122 119h1M76 83h1M103 112h1M123 93h1M88 56h1M95 143h1M63 60h1M108 94h1M153 155h1M149 190h1M118 102h1M144 137h1M63 59h1M142 125h1M74 90h1M71 88h1M143 131h1M59 37h1M134 142h1M98 90h1M137 126h1M191 194h1M20 41h1M101 100h1M72 95h1M57 86h1M53 71h1M25 44h1M57 53h1M128 111h1M111 110h1M131 146h1M103 98h1M43 70h1M95 71h1M81 44h1M63 54h1M91 107h1M141 105h1M67 78h1M104 103h1M54 67h1M90 85h1M89 84h1M91 111h1M100 87h1M88 84h1M102 115h1M144 158h1M36 20h1M40 46h1M175 180h1M55 81h1M123 106h1M39 68h1M141 100h1M57 67h1M40 40h1M75 43h1M77 66h1M119 85h1M104 96h1M18 42h1M69 77h1M145 151h1M124 126h1M67 70h1M26 36h1M117 124h1M77 54h1M65 60h1M16 54h1M58 61h1M71 73h1M19 1h1M90 88h1M111 99h1M119 122h1M88 88h1M131 128h1M148 148h1M99 98h1M97 104h1M58 73h1M182 189h1M103 87h1M70 54h1M107 93h1M156 145h1M66 48h1M88 84h1M133 117h1M93 110h1M97 64h1M89 107h1M105 104h1M3 32h1M51 49h1M141 154h1M79 86h1M108 106h1M30 37h1M57 52h1M97 82h1M89 70h1M169 158h1M83 123h1M55 61h1M100 109h1M116 118h1M36 56h1M149 130h1M187 173h1M119 106h1M137 142h1M0 39h1M123 117h1M80 51h1M23 29h1M106 97h1M164 110h1M127 102h1M79 74h1M64 59h1M76 120h1M83 95h1M131 111h1M112 103h1M130 117h1M140 121h1M63 79h1M120 134h1M155 172h1M80 97h1M50 65h1M107 102h1M51 71h1M15 13h1M40 34h1M82 65h1M64 69h1M147 177h1M87 78h1M122 104h1M23 42h1M59 87h1M118 89h1M96 104h1M106 79h1M13 49h1M1 3h1M115 113h1M93 113h1M56 81h1M97 100h1M103 108h1M39 68h1M74 69h1M17 3h1M117 139h1M146 164h1M53 78h1M133 121h1M82 88h1M77 52h1M88 81h1M67 81h1M97 104h1M80 118h1M137 116h1M67 83h1M111 104h1M143 173h1M51 99h1M81 90h1M39 75h1M135 113h1M52 49h1M19 59h1M73 79h1M64 55h1M30 74h1M79 61h1M116 109h1M109 156h1M128 147h1M82 91h1M154 142h1M73 85h1M95 63h1M85 90h1M51 71h1" stroke="#0c0c0c" stroke-width="6.4" stroke-linecap="square" fill="none"/><path transform="translate(423.60,108.10) scale(.25,-.25)" d="M24 66h1M21 37h1M25 32h1M21 1h1M49 58h1M37 44h1M22 34h1M25 13h1M45 77h1M3 25h1M36 49h1M30 58h1M35 25h1M36 38h1M52 2h1M17 24h1M27 52h1M52 35h1M17 37h1M27 27h1M1 65h1M38 35h1M93 25h1M99 1h1M62 31h1M42 23h1M42 24h1M60 8h1M21 3h1M18 66h1M64 21h1M30 21h1M8 53h1M13 22h1M39 37h1M4 39h1M75 78h1M25 87h1M3 53h1M8 22h1M47 39h1M43 31h1M2 3h1M6 20h1M41 19h1M50 46h1M26 25h1M22 52h1M19 59h1M61 25h1M41 21h1M70 10h1M39 37h1M22 42h1M49 35h1M47 14h1M20 17h1M85 70h1M58 26h1M68 28h1M27 39h1M42 34h1M20 43h1M34 15h1M57 41h1M65 39h1M66 23h1M64 28h1M10 26h1M55 37h1M10 40h1M64 16h1M3 83h1M30 30h1M18 32h1M12 51h1M55 8h1M63 26h1M58 52h1M50 22h1M45 33h1M24 25h1M23 27h1M23 32h1M80 14h1M23 34h1M22 31h1M74 17h1M45 42h1M26 23h1M46 43h1M79 44h1M42 40h1M35 39h1M44 2h1M3 23h1M25 29h1M36 32h1M73 25h1M31 26h1M50 2h1M58 27h1M5 63h1M7 48h1M37 21h1M0 20h1M53 33h1M24 53h1M37 36h1M17 7h1M26 40h1M27 40h1M31 29h1M35 41h1M2 34h1M45 42h1M32 27h1M31 32h1M73 59h1M21 45h1M70 45h1M4 24h1M54 46h1M35 37h1M12 44h1M1 35h1M13 42h1M46 53h1M39 55h1M22 16h1M42 67h1M64 63h1M47 26h1M48 57h1M62 40h1M1 37h1M36 27h1M14 32h1M19 51h1M19 61h1M36 33h1M20 42h1M14 4h1M45 3h1M32 33h1M25 3h1M26 39h1M24 35h1M32 47h1M67 3h1M3 13h1M18 44h1M32 47h1M44 19h1M0 56h1M31 31h1M29 29h1M20 35h1M41 9h1M1 44h1M55 23h1M32 24h1M45 32h1M24 19h1M46 41h1M26 41h1M3 25h1M54 20h1M39 40h1M16 26h1M28 19h1M30 62h1M56 23h1M37 30h1M0 32h1M40 14h1M63 49h1M57 32h1M54 52h1M91 55h1M19 18h1M55 43h1M48 35h1M18 36h1M4 39h1M86 48h1M17 17h1M89 46h1M25 45h1M29 13h1M39 43h1M65 9h1M69 29h1M0 53h1M2 46h1M47 2h1M21 82h1M73 41h1M47 35h1M50 38h1M15 27h1M1 17h1M79 52h1M93 28h1M59 21h1M76 62h1M56 29h1M40 40h1M23 43h1M25 50h1M43 15h1M51 58h1M28 35h1M19 38h1M35 77h1M62 35h1M54 22h1M53 17h1M30 51h1M72 11h1M81 15h1M36 39h1M25 10h1M28 47h1M31 1h1M48 49h1M28 49h1M37 31h1M16 65h1M57 44h1M95 25h1M25 2h1M20 21h1M61 39h1M46 35h1M1 31h1M25 34h1M1 6h1M44 34h1M38 57h1M3 42h1M25 28h1M25 14h1M36 34h1M22 46h1M15 48h1M43 11h1M43 56h1M30 32h1M12 22h1M16 11h1M37 26h1M29 49h1M6 4h1M11 61h1M53 36h1M3 24h1M80 3h1M30 81h1M52 57h1M39 44h1M22 62h1M32 24h1M3 76h1M3 14h1M47 35h1M75 46h1M44 19h1M49 6h1M19 61h1M42 12h1M22 31h1M43 38h1M55 3h1M53 18h1M74 62h1M8 28h1M34 20h1M62 24h1M21 23h1M1 14h1M43 65h1M30 12h1M37 10h1M41 51h1M28 52h1M63 70h1M29 45h1M55 50h1M58 44h1M52 52h1M47 45h1M43 33h1M3 33h1M48 48h1M4 22h1M60 23h1M40 39h1M1 17h1M24 4h1M51 35h1M21 35h1M61 52h1M54 57h1M42 34h1M37 44h1M3 40h1M29 51h1M10 28h1M79 55h1M48 4h1M60 47h1M68 70h1M41 43h1M11 33h1M3 46h1M15 27h1M47 25h1M28 33h1M40 22h1M5 22h1M45 39h1M7 34h1M43 52h1M66 25h1M50 59h1M36 40h1M76 37h1M52 31h1M32 1h1M66 77h1M42 31h1M39 66h1M28 41h1M82 43h1M58 27h1M35 5h1M55 34h1M7 38h1M81 18h1M42 11h1M4 82h1M33 1h1M13 39h1M2 54h1M34 11h1M70 14h1M11 101h1M61 7h1M27 15h1M43 42h1M17 56h1M51 21h1M28 9h1M76 9h1M72 37h1M23 80h1M56 42h1M66 41h1M45 37h1M25 29h1M81 37h1M50 15h1M53 13h1M44 28h1M68 42h1M28 59h1M35 11h1M22 81h1M19 49h1M31 34h1M7 27h1M53 61h1M1 49h1M79 57h1M25 83h1M26 19h1M3 34h1M48 47h1M58 48h1" stroke="#0c0c0c" stroke-width="6.4" stroke-linecap="square" fill="none"/><path transform="translate(423.60,108.10) scale(.25,-.25)" d="M70 98h1M69 1h1M49 44h1M63 50h1M92 117h1M146 124h1M100 97h1M88 159h1M119 147h1M92 108h1M2 11h1M120 121h1M169 163h1M55 52h1M82 90h1M66 131h1M7 59h1M162 146h1M60 95h1M105 121h1M80 87h1M139 106h1M33 72h1M50 59h1M42 68h1M60 91h1M3 16h1M139 108h1M107 103h1M151 107h1M168 176h1M40 82h1M141 156h1M84 57h1M24 77h1M94 93h1M53 94h1M60 88h1M28 3h1M123 90h1M211 140h1M98 115h1M112 108h1M23 140h1M114 93h1M1 5h1M110 84h1M2 19h1M3 11h1M149 133h1M107 127h1M92 117h1M105 146h1M96 89h1M153 95h1M0 0h1M102 114h1M123 75h1M125 168h1M102 58h1M68 101h1M153 145h1M127 139h1M41 22h1M64 60h1M89 52h1M76 3h1M32 85h1M84 114h1M151 170h1M71 134h1M46 10h1M92 72h1M118 55h1M8 33h1M75 89h1M75 74h1M3 54h1M109 75h1M104 136h1M138 166h1M104 90h1M48 87h1M22 58h1M155 166h1M86 65h1M107 114h1M101 132h1M92 96h1M78 85h1M164 172h1M72 57h1M62 96h1M26 49h1M96 137h1M62 12h1M149 94h1M82 76h1M157 125h1M69 50h1M104 112h1M143 120h1M2 39h1M54 85h1M30 33h1M93 83h1M121 67h1M135 118h1M140 203h1M36 101h1M167 138h1M58 98h1M66 55h1M8 2h1M65 44h1M52 118h1M121 140h1M32 1h1M159 142h1M122 130h1M119 171h1M73 14h1M130 139h1M114 98h1M37 77h1M121 102h1M88 97h1M46 26h1M110 114h1M26 37h1M166 184h1M42 28h1M78 53h1M66 47h1M109 68h1M125 134h1M160 185h1M123 139h1M105 70h1M118 120h1M55 70h1M117 95h1M162 144h1M77 112h1M74 64h1M116 105h1M89 53h1M108 95h1M108 141h1M76 102h1M32 86h1M69 66h1M84 68h1M125 124h1M39 65h1M82 101h1M108 93h1M18 11h1M31 72h1M55 104h1M169 205h1M210 177h1M88 54h1M56 15h1M143 116h1M66 86h1M45 97h1M129 152h1M153 169h1M79 116h1M160 114h1M120 153h1M1 27h1M68 43h1M29 30h1M9 40h1M77 59h1M81 128h1M70 64h1M2 19h1M49 95h1M123 133h1M104 98h1M104 127h1M88 97h1M34 31h1M155 161h1M40 27h1M69 117h1M183 180h1M82 87h1M20 65h1M26 52h1M90 57h1M75 130h1M35 44h1M42 79h1M50 11h1M97 56h1M159 110h1M102 86h1M143 125h1M52 109h1M96 137h1M143 158h1M134 79h1M24 13h1M83 120h1M63 54h1M200 161h1M84 82h1M34 85h1M27 20h1M31 11h1M193 126h1M18 21h1M119 95h1M113 107h1M72 76h1M164 125h1M122 131h1M94 71h1M91 118h1M37 63h1M77 105h1M106 100h1M88 110h1M28 31h1M2 0h1M117 147h1M135 165h1M96 70h1M214 189h1M68 83h1M53 59h1M109 92h1M45 48h1M126 94h1M94 98h1M45 60h1M16 48h1M42 77h1M94 96h1M19 47h1M3 79h1M106 112h1M79 103h1M103 116h1M131 125h1M187 136h1M9 31h1M117 67h1M51 30h1M133 154h1M43 2h1M118 78h1M74 57h1M82 102h1M70 54h1M73 127h1M115 103h1M133 128h1M20 44h1M181 143h1M145 105h1M89 86h1M78 75h1M129 112h1M86 77h1M114 93h1M119 129h1M88 47h1M61 95h1M118 118h1M150 199h1M88 134h1M86 75h1M134 72h1M101 85h1M139 156h1M166 150h1M152 155h1M106 120h1M20 52h1M60 82h1M106 74h1M72 83h1M48 104h1M141 143h1M49 98h1M72 111h1M68 4h1M107 137h1M87 82h1M101 119h1M87 88h1M82 117h1M168 82h1M112 102h1M124 147h1M70 68h1M2 1h1M38 80h1M153 140h1M30 74h1M39 30h1M70 79h1M110 80h1M122 134h1M77 129h1M167 174h1M78 70h1M105 70h1M70 54h1M100 124h1M14 2h1M19 20h1M110 76h1M165 182h1M98 114h1M41 91h1M42 59h1M105 154h1M112 64h1M104 97h1M151 96h1M46 52h1M171 162h1M104 100h1M104 77h1M162 173h1M171 130h1M43 32h1M129 155h1M40 103h1M110 120h1M63 105h1M58 89h1M66 67h1M83 82h1M27 47h1M83 82h1M3 1h1M47 111h1M162 108h1M58 64h1M119 150h1M106 145h1M106 133h1M75 36h1" stroke="#0c0c0c" stroke-width="4.32" stroke-linecap="square" fill="none"/><path transform="translate(423.60,108.10) scale(.25,-.25)" d="M55 218h1M119 173h1M63 195h1M93 200h1M124 199h1M65 189h1M110 189h1M91 186h1M33 153h1M63 179h1M101 187h1M41 208h1M58 234h1M57 195h1M46 223h1M83 190h1M70 154h1M116 194h1M113 178h1M122 181h1M74 232h1M56 194h1M67 196h1M78 191h1M88 186h1M118 207h1M34 184h1M62 212h1M6 215h1M6 182h1M43 187h1M100 212h1M69 190h1M39 216h1M56 245h1M19 181h1M96 229h1M62 202h1M52 198h1M0 206h1M55 202h1M68 175h1M20 175h1M71 208h1M111 212h1M143 213h1M134 209h1M84 161h1M106 191h1M60 169h1M116 194h1M58 179h1M70 202h1M93 196h1M80 195h1M58 216h1M68 183h1M132 176h1M57 196h1M67 192h1M106 213h1M27 230h1M32 174h1M96 175h1M32 210h1M90 201h1M121 214h1M57 185h1M87 186h1M82 211h1M82 167h1M129 193h1M85 163h1M71 169h1M127 185h1M25 192h1M41 195h1M40 161h1M66 188h1M45 207h1M102 192h1M70 201h1M104 197h1M34 206h1M154 206h1M84 183h1M20 204h1M93 202h1M78 218h1M69 158h1M68 197h1M99 205h1M97 203h1M83 172h1M62 213h1M129 143h1M68 186h1M102 157h1M53 197h1M45 161h1M137 189h1M75 206h1M138 180h1M67 187h1M105 212h1M127 186h1M31 182h1M7 200h1M2 202h1M37 202h1M123 192h1M68 195h1M51 200h1M64 197h1M45 204h1M84 177h1M70 167h1M24 173h1M86 186h1M71 199h1M63 190h1M53 235h1M44 205h1M64 228h1M33 192h1M86 185h1M146 199h1M86 162h1M87 171h1M92 201h1M68 183h1M44 182h1M125 179h1M62 202h1M26 186h1M111 199h1M92 207h1M71 149h1M98 205h1M3 190h1M78 183h1M74 164h1M107 199h1M51 193h1M92 211h1M104 194h1M45 192h1M0 188h1M39 198h1M42 156h1M120 219h1M137 170h1M100 233h1M57 210h1M59 228h1M60 185h1M58 218h1M96 170h1M58 179h1M101 172h1M50 184h1M45 186h1M7 222h1M52 198h1M52 201h1M67 180h1M63 172h1M33 207h1M119 190h1M80 210h1M103 216h1M83 190h1M71 203h1M8 187h1M110 224h1M38 208h1M8 166h1M163 174h1M3 169h1M31 181h1M65 204h1M47 198h1M153 194h1M95 243h1M46 194h1M60 199h1M45 188h1M97 194h1M6 215h1M85 230h1M43 200h1M41 209h1M52 218h1M76 152h1M33 206h1M98 213h1M89 185h1M76 195h1M72 213h1M40 188h1M117 191h1M91 184h1M74 218h1M127 194h1M50 222h1M7 190h1M97 238h1M108 191h1M70 193h1M39 186h1M83 162h1M44 137h1M104 196h1M15 165h1M48 225h1M88 173h1M54 163h1M39 161h1M134 207h1M116 202h1M46 212h1M88 180h1M15 193h1M30 188h1M1 159h1M105 204h1M77 189h1M78 175h1M98 224h1M51 164h1M72 161h1M140 192h1M86 197h1M54 179h1M34 231h1M74 214h1M123 188h1M54 186h1M84 175h1M105 189h1M45 207h1M121 176h1M65 190h1M90 209h1M67 176h1M51 210h1M136 197h1M43 242h1M111 179h1M28 176h1M174 217h1M37 179h1M59 169h1M92 172h1M63 205h1M63 212h1M53 216h1M49 182h1M21 200h1M95 194h1M121 206h1M84 162h1M65 200h1M30 222h1M83 222h1M29 228h1M119 196h1M60 225h1M38 189h1M111 192h1M43 171h1M54 218h1M167 174h1M29 205h1M66 185h1M66 219h1M99 179h1M89 170h1M111 154h1M56 211h1M131 203h1M3 190h1M104 206h1M85 182h1M4 184h1M77 180h1M42 201h1M60 197h1M109 179h1M106 171h1M102 201h1M89 207h1M79 160h1M131 198h1M79 194h1M85 189h1M25 170h1M134 205h1M34 225h1M82 172h1M45 181h1M112 208h1M63 189h1M47 196h1M35 211h1M68 212h1M127 199h1M102 134h1M39 198h1M41 214h1M60 190h1M1 207h1M0 158h1M102 188h1M43 192h1M64 215h1M48 172h1M119 211h1M59 196h1M15 226h1M53 151h1M67 203h1M95 198h1M80 190h1M69 189h1M159 195h1M77 153h1M71 204h1M97 163h1M70 224h1M65 190h1M93 192h1M53 181h1M12 197h1M92 205h1M46 202h1M35 161h1M94 169h1M23 187h1M60 224h1M108 234h1M78 161h1M27 199h1M24 202h1M109 205h1M13 215h1M132 214h1M155 178h1M67 210h1M107 223h1M67 180h1M65 179h1M75 187h1M99 180h1M104 178h1M115 217h1M71 189h1M84 202h1M36 207h1M7 170h1M30 197h1M43 147h1M110 182h1M61 200h1M85 205h1M27 200h1M106 208h1M124 165h1M115 165h1M33 197h1M154 217h1M68 195h1M111 169h1M60 182h1M114 204h1M83 217h1M63 175h1M104 157h1M82 193h1M16 197h1M42 220h1M99 211h1M107 193h1M111 206h1M92 215h1M142 160h1M56 165h1M29 207h1M38 189h1M53 213h1M129 196h1M48 182h1M66 161h1M30 197h1M81 197h1M84 179h1M69 174h1M81 154h1M91 198h1M58 196h1M108 195h1M140 217h1M77 190h1M31 172h1M80 196h1M85 226h1M87 201h1M65 172h1M57 192h1M98 207h1M37 191h1M99 166h1M64 165h1M49 216h1M86 236h1M37 212h1M67 162h1M80 198h1M63 217h1M62 208h1M73 183h1M86 214h1M123 217h1M14 167h1M64 217h1M7 196h1M32 209h1M109 188h1M120 208h1M68 222h1M147 192h1M82 200h1M102 186h1M65 217h1M69 220h1M83 227h1M125 171h1M97 189h1M52 211h1M110 204h1M112 226h1M86 206h1M90 223h1M43 192h1M32 183h1M86 187h1M47 189h1M113 235h1M78 180h1M80 182h1M85 207h1M141 179h1M69 178h1M111 175h1M119 229h1M15 215h1M153 196h1M72 234h1M66 192h1M42 207h1M120 179h1M103 204h1M128 192h1M47 199h1M90 189h1M41 207h1M19 171h1M70 167h1M91 162h1M67 202h1M121 178h1M83 218h1M46 201h1M113 216h1M72 201h1M49 205h1M89 184h1M157 207h1M45 195h1M91 174h1M43 209h1M71 193h1M110 189h1M22 172h1M69 190h1M61 177h1M13 189h1M88 200h1M96 252h1M33 182h1M79 147h1M98 192h1M184 192h1M70 194h1M66 181h1M112 201h1M85 189h1M8 185h1M3 182h1M94 202h1M70 182h1M24 194h1M101 204h1M149 149h1M59 194h1M80 199h1M46 165h1M32 208h1M101 193h1M30 188h1M75 206h1M82 171h1M101 187h1M35 216h1M84 168h1M125 191h1M42 198h1M113 186h1M72 193h1M33 189h1" stroke="#0c0c0c" stroke-width="4.32" stroke-linecap="square" fill="none"/><path transform="translate(423.60,108.10) scale(.25,-.25)" d="M124 168h1M77 159h1M115 144h1M91 182h1M117 213h1M148 182h1M117 166h1M98 168h1M149 173h1M129 174h1M149 190h1M148 149h1M124 175h1M40 231h1M51 147h1M97 191h1M93 143h1M117 139h1M173 178h1M101 160h1M98 182h1M87 193h1M79 218h1M135 192h1M94 199h1M95 151h1M144 153h1M116 129h1M143 169h1M110 199h1M82 156h1M139 267h1M106 180h1M104 216h1M103 215h1M45 158h1M115 182h1M99 226h1M89 200h1M152 127h1M132 135h1M81 174h1M100 188h1M105 183h1M82 186h1M144 184h1M83 205h1M152 145h1M84 205h1M187 165h1M106 201h1M145 235h1M90 179h1M148 144h1M101 213h1M73 215h1M164 161h1M109 189h1M119 211h1M110 152h1M127 164h1M78 179h1M126 153h1M84 187h1M138 174h1M166 191h1M153 178h1M84 210h1M121 191h1M98 197h1M66 180h1M84 168h1M123 162h1M137 223h1M98 182h1M105 173h1M119 157h1M67 163h1M69 132h1M98 195h1M115 121h1M98 171h1M91 175h1M53 196h1M114 248h1M87 154h1M122 204h1M140 159h1M149 159h1M129 170h1M107 194h1M139 208h1M95 191h1M103 200h1M84 203h1M142 175h1M155 175h1M78 170h1M130 206h1M109 182h1M102 187h1M78 183h1M150 222h1M86 188h1M100 173h1M77 193h1M118 192h1M140 221h1M72 144h1M80 162h1M86 188h1M93 181h1M138 173h1M117 229h1M124 173h1M152 146h1M85 176h1M149 185h1M53 168h1M79 139h1M94 146h1M135 173h1M145 180h1M109 228h1M110 163h1M93 183h1M113 141h1M102 164h1M132 204h1M89 187h1" stroke="#0c0c0c" stroke-width="4.32" stroke-linecap="square" fill="none"/><path transform="translate(423.60,108.10) scale(.25,-.25)" d="M251 267h1M125 207h1M192 278h1M217 281h1M176 209h1M319 321h1M178 218h1M176 270h1M154 228h1M154 209h1M210 268h1M156 227h1M257 300h1M214 248h1M205 213h1M223 220h1M155 227h1M240 242h1M143 211h1M178 221h1M215 281h1M146 183h1M246 300h1M219 268h1M216 260h1M169 190h1M270 266h1M219 250h1M167 218h1M183 218h1M267 276h1M239 221h1M146 256h1M132 172h1M192 211h1M270 313h1M179 218h1M149 208h1M229 261h1M213 245h1M185 225h1M227 246h1M181 264h1M237 246h1M232 289h1M110 215h1M268 274h1M150 179h1M143 230h1M214 254h1M217 228h1M253 300h1M195 226h1M257 288h1M214 230h1M201 263h1M242 231h1M138 240h1M209 268h1M222 227h1M214 311h1M172 188h1M273 297h1M167 209h1M112 209h1M301 318h1M172 210h1M124 190h1M207 279h1M222 269h1M101 164h1M232 246h1M190 264h1M141 273h1M235 274h1M167 250h1M161 201h1M296 323h1M161 239h1M156 218h1M181 243h1M262 275h1M105 204h1M246 291h1M232 221h1M190 226h1M182 210h1M121 207h1M181 208h1" stroke="#0c0c0c" stroke-width="4.32" stroke-linecap="square" fill="none"/><rect x="423.60" y="25.70" width="90.90" height="82.40" fill="none" stroke="#000" stroke-width="1.3"/><path d="M452.00 25.70V108.10M423.60 84.00H514.50" stroke="#000" stroke-width="1.7" fill="none"/><path d="M423.60 108.10v3.6M423.60 107.00h-3.6M430.44 108.10v2.2M423.60 100.88h-2.2M434.44 108.10v2.2M423.60 97.30h-2.2M437.28 108.10v2.2M423.60 94.76h-2.2M439.48 108.10v2.2M423.60 92.79h-2.2M441.28 108.10v2.2M423.60 91.18h-2.2M442.80 108.10v2.2M423.60 89.82h-2.2M444.12 108.10v2.2M423.60 88.64h-2.2M445.29 108.10v2.2M423.60 87.61h-2.2M446.33 108.10v3.6M423.60 86.67h-3.6M453.17 108.10v2.2M423.60 80.56h-2.2M457.17 108.10v2.2M423.60 76.98h-2.2M460.01 108.10v2.2M423.60 74.44h-2.2M462.21 108.10v2.2M423.60 72.47h-2.2M464.01 108.10v2.2M423.60 70.86h-2.2M465.53 108.10v2.2M423.60 69.50h-2.2M466.85 108.10v2.2M423.60 68.32h-2.2M468.01 108.10v2.2M423.60 67.28h-2.2M469.05 108.10v3.6M423.60 66.35h-3.6M475.89 108.10v2.2M423.60 60.23h-2.2M479.89 108.10v2.2M423.60 56.65h-2.2M482.73 108.10v2.2M423.60 54.11h-2.2M484.93 108.10v2.2M423.60 52.14h-2.2M486.73 108.10v2.2M423.60 50.53h-2.2M488.25 108.10v2.2M423.60 49.17h-2.2M489.57 108.10v2.2M423.60 47.99h-2.2M490.74 108.10v2.2M423.60 46.96h-2.2M491.77 108.10v3.6M423.60 46.02h-3.6M498.62 108.10v2.2M423.60 39.91h-2.2M502.62 108.10v2.2M423.60 36.33h-2.2M505.46 108.10v2.2M423.60 33.79h-2.2M507.66 108.10v2.2M423.60 31.82h-2.2M509.46 108.10v2.2M423.60 30.21h-2.2M510.98 108.10v2.2M423.60 28.85h-2.2M512.30 108.10v2.2M423.60 27.67h-2.2M513.46 108.10v2.2M423.60 26.63h-2.2M514.50 108.10v3.6M423.60 25.70h-3.6" stroke="#000" stroke-width="1.1" fill="none"/><g stroke-width=".7"><text transform="translate(419.20,123.00) scale(0.6,1)" font-size="11.4">10</text><text transform="translate(426.80,118.80) scale(0.78,1)" font-size="9.4">0</text><text transform="translate(416.20,114.20) rotate(-90) scale(0.86,1)" font-size="9">10</text><text transform="translate(412.10,102.60) rotate(-90) scale(0.95,1)" font-size="8.1">0</text><text transform="translate(441.21,123.00) scale(0.6,1)" font-size="11.4">10</text><text transform="translate(448.81,118.80) scale(0.78,1)" font-size="9.4">1</text><text transform="translate(416.20,93.88) rotate(-90) scale(0.86,1)" font-size="9">10</text><text transform="translate(412.10,82.27) rotate(-90) scale(0.95,1)" font-size="8.1">1</text><text transform="translate(463.21,123.00) scale(0.6,1)" font-size="11.4">10</text><text transform="translate(470.81,118.80) scale(0.78,1)" font-size="9.4">2</text><text transform="translate(416.20,73.55) rotate(-90) scale(0.86,1)" font-size="9">10</text><text transform="translate(412.10,61.95) rotate(-90) scale(0.95,1)" font-size="8.1">2</text><text transform="translate(485.22,123.00) scale(0.6,1)" font-size="11.4">10</text><text transform="translate(492.82,118.80) scale(0.78,1)" font-size="9.4">3</text><text transform="translate(416.20,53.23) rotate(-90) scale(0.86,1)" font-size="9">10</text><text transform="translate(412.10,41.62) rotate(-90) scale(0.95,1)" font-size="8.1">3</text><text transform="translate(507.22,123.00) scale(0.6,1)" font-size="11.4">10</text><text transform="translate(514.82,118.80) scale(0.78,1)" font-size="9.4">4</text><text transform="translate(416.20,32.90) rotate(-90) scale(0.86,1)" font-size="9">10</text><text transform="translate(412.10,21.30) rotate(-90) scale(0.95,1)" font-size="8.1">4</text><text x="450.40" y="133.90" font-size="12.2" textLength="35.2" lengthAdjust="spacingAndGlyphs" stroke-width=".6">ANNEXIN</text><text transform="translate(405.70,72.20) rotate(-90)" font-size="9" textLength="8" lengthAdjust="spacingAndGlyphs">PI</text></g><text x="470.00" y="21.60" font-size="11.3" text-anchor="middle" stroke-width=".55">mock 16h</text><text x="437.90" y="42.60" font-size="12.2" text-anchor="middle" stroke-width=".85">42</text><text x="502.30" y="42.60" font-size="12.2" text-anchor="middle" stroke-width=".85">10</text><text x="503.70" y="101.00" font-size="12.2" text-anchor="middle" stroke-width=".85">1</text>
<path transform="translate(64.40,237.50) scale(.25,-.25)" d="M19 86h1M57 25h1M47 63h1M30 43h1M79 62h1M57 63h1M36 93h1M75 4h1M38 25h1M102 61h1M73 58h1M110 49h1M24 95h1M28 61h1M60 92h1M84 96h1M86 60h1M14 14h1M39 32h1M18 61h1M99 52h1M83 34h1M41 61h1M15 69h1M76 31h1M103 78h1M79 43h1M62 60h1M110 61h1M27 81h1M65 42h1M67 45h1M42 50h1M94 86h1M103 64h1M43 44h1M41 74h1M91 89h1M32 96h1M40 52h1M64 13h1M59 27h1M21 1h1M65 4h1M78 62h1M79 29h1M93 86h1M74 23h1M98 47h1M31 29h1M38 44h1M93 20h1M54 9h1M15 43h1M42 27h1M92 0h1M36 23h1M82 31h1M11 47h1M104 49h1M16 77h1M8 23h1M82 69h1M55 38h1M7 47h1M47 13h1M80 21h1M27 29h1M60 49h1M82 38h1M46 39h1M32 73h1M84 81h1M77 84h1M30 66h1M105 39h1M64 22h1M67 61h1M5 5h1M48 69h1M26 27h1M85 37h1M11 51h1M32 24h1M96 16h1M88 24h1M105 61h1M18 85h1M24 19h1M94 91h1M52 49h1M10 76h1M44 21h1M103 81h1M86 11h1M60 11h1M59 88h1M63 82h1M35 49h1M42 60h1M74 28h1M52 73h1M28 26h1M77 87h1M19 64h1M22 0h1M106 14h1M48 77h1M87 86h1M12 35h1M67 38h1M28 35h1M38 88h1M78 33h1M59 33h1M69 78h1M40 28h1M73 1h1M34 19h1M54 38h1M23 17h1M72 53h1M6 88h1M4 28h1M19 54h1M13 6h1M4 49h1M5 56h1M67 63h1M60 13h1M107 51h1M1 66h1M5 30h1M49 78h1M66 76h1M31 83h1M40 78h1M27 29h1M9 79h1M75 62h1M39 44h1M84 61h1M4 29h1M95 67h1M108 35h1M10 48h1M47 49h1M102 73h1M36 59h1M74 29h1M57 75h1M17 31h1M39 61h1M48 1h1M107 56h1M36 11h1M65 45h1M64 30h1M100 67h1M12 17h1M44 79h1M17 8h1M23 40h1M92 21h1M71 39h1M69 45h1M22 38h1M30 41h1M8 56h1M72 96h1M6 48h1M63 68h1M55 53h1M57 64h1M6 18h1M39 29h1M108 82h1M84 61h1M90 76h1M30 34h1M77 93h1M79 63h1M59 38h1M25 37h1M6 67h1M75 96h1M66 81h1M92 66h1M8 65h1M25 28h1M37 53h1M85 13h1M76 88h1M36 16h1M69 14h1M41 79h1M57 2h1M33 13h1M13 59h1M28 16h1M82 33h1M22 5h1M31 46h1M37 73h1M50 0h1M33 78h1M88 31h1M106 50h1M70 67h1M95 69h1M15 13h1M38 34h1M109 39h1M26 18h1M25 57h1M1 23h1M92 7h1M96 36h1M82 52h1M24 9h1M41 88h1M48 75h1M34 28h1M5 19h1M105 40h1M95 5h1M72 53h1M22 77h1M64 35h1M45 25h1M53 83h1M71 51h1M11 3h1M22 53h1M42 77h1M22 93h1M5 64h1M52 82h1M7 76h1M81 51h1M83 63h1M63 29h1M93 22h1M59 1h1M22 88h1M14 76h1M20 54h1M65 72h1M97 5h1M34 56h1M91 66h1M105 43h1M88 34h1M99 16h1M62 87h1M82 89h1M87 70h1M107 69h1M87 0h1M103 89h1M44 6h1M49 32h1M21 67h1M67 58h1M107 18h1M98 62h1M27 95h1M65 0h1M63 95h1M79 59h1M90 3h1M58 39h1M24 88h1M98 62h1M91 77h1M60 92h1M5 86h1M45 26h1M56 86h1M71 70h1M74 32h1M87 56h1M14 14h1M10 40h1M16 54h1M11 73h1M95 78h1M29 66h1M38 35h1M14 76h1M47 17h1M30 18h1M55 82h1M110 49h1M15 77h1M89 7h1M75 57h1M62 8h1M99 49h1M56 19h1M29 56h1M26 63h1M83 94h1M80 46h1M83 34h1M105 35h1M29 88h1M72 13h1M34 27h1M102 57h1M13 46h1M92 14h1M28 47h1M45 96h1M40 58h1M10 20h1M97 21h1M3 72h1M34 27h1M54 47h1M41 64h1M44 48h1M91 4h1M107 30h1M8 35h1M6 30h1M1 30h1M43 62h1M99 53h1M90 19h1M17 79h1M88 41h1M85 3h1M93 24h1M48 6h1M95 82h1M6 58h1M23 42h1M60 92h1M50 9h1M47 53h1M85 56h1M30 37h1M40 90h1M22 77h1M94 21h1M105 84h1M71 87h1M51 11h1M40 32h1M104 52h1M72 9h1M40 82h1M7 5h1M37 26h1M57 91h1M85 66h1M52 44h1M57 81h1M88 31h1M8 31h1M48 96h1M19 2h1M61 6h1M64 25h1M80 38h1M28 66h1M35 35h1M88 8h1M89 42h1M98 19h1M21 15h1M23 16h1M60 77h1M15 45h1M101 51h1M100 73h1M3 28h1M41 81h1M61 2h1M23 10h1M49 78h1M55 3h1M71 37h1M38 25h1M42 48h1M109 21h1M91 85h1M69 86h1M68 84h1M11 38h1M81 89h1M21 59h1M52 24h1M54 49h1M8 67h1M63 64h1M25 0h1M59 96h1M64 20h1M73 1h1M11 7h1M19 89h1M64 64h1M43 5h1M70 29h1M21 4h1M99 71h1M40 19h1M59 38h1M91 54h1M37 94h1M102 23h1M108 82h1M33 77h1M19 15h1M27 27h1M35 81h1M69 3h1M17 75h1M26 92h1M70 59h1M29 82h1M7 79h1M61 38h1M43 2h1M52 34h1M21 55h1M49 19h1M24 15h1M1 68h1M19 65h1M40 8h1M23 69h1M35 53h1M8 92h1M49 77h1M23 91h1M24 65h1M99 60h1M10 84h1M86 65h1M68 3h1M32 30h1M24 77h1M12 23h1M18 15h1M96 1h1M3 74h1M32 26h1M17 58h1M11 40h1M70 1h1M13 1h1M87 1h1M47 67h1M62 94h1M46 85h1M27 36h1M110 40h1M66 81h1M96 88h1M1 34h1M103 34h1M24 22h1M93 54h1M41 16h1M28 22h1M53 3h1M58 57h1M82 52h1M83 14h1M91 19h1M37 57h1M10 78h1M89 69h1M35 16h1M20 20h1M69 21h1M61 74h1M97 71h1M35 69h1M105 62h1M8 50h1M51 1h1M94 44h1M102 82h1M51 51h1M19 62h1M15 51h1M52 66h1M78 89h1M98 81h1M15 42h1M77 39h1M0 56h1M1 14h1M24 19h1M44 71h1M66 37h1M41 43h1M37 85h1M43 71h1M60 41h1M64 75h1M51 63h1M30 64h1M24 26h1M103 66h1M70 27h1M62 27h1M23 61h1M13 0h1M72 33h1M36 60h1M97 62h1M12 73h1M59 90h1M10 33h1M7 27h1M50 42h1M37 71h1M103 55h1M50 77h1M67 58h1M27 53h1M76 10h1M64 57h1M62 67h1M103 80h1M16 69h1M79 50h1M49 35h1M40 38h1M21 78h1M64 94h1M56 93h1M105 7h1M58 60h1M101 39h1M84 22h1M38 38h1M65 24h1M16 0h1M17 84h1M94 28h1M49 37h1M61 21h1M3 53h1M106 80h1M67 9h1M45 46h1M109 59h1M78 44h1M82 15h1M74 38h1M25 58h1M91 25h1M76 87h1M87 48h1M88 84h1M50 21h1M36 34h1M68 15h1M17 35h1M46 73h1M28 66h1M4 32h1M34 12h1M57 32h1M30 25h1M85 35h1M75 67h1M90 79h1M75 48h1M36 92h1M7 8h1M10 37h1M98 90h1M75 90h1M25 52h1M36 52h1M97 13h1M56 5h1M12 32h1M55 0h1M85 27h1M39 78h1M2 43h1M16 71h1M80 18h1M88 13h1M15 14h1M45 90h1M30 41h1M58 82h1M21 31h1M14 91h1M82 47h1M38 56h1M39 33h1M75 4h1M10 15h1M46 38h1M51 66h1M80 81h1M21 94h1M71 67h1M35 53h1M41 62h1M61 55h1M28 68h1M21 86h1M51 88h1M5 47h1M8 51h1M14 8h1M68 88h1M77 3h1M58 90h1M21 89h1M93 74h1M65 32h1M11 12h1M6 86h1M81 39h1M95 50h1M75 2h1M104 25h1M39 35h1M50 63h1M28 56h1M51 20h1M89 10h1M63 24h1M85 23h1M71 40h1M66 52h1M48 70h1M88 1h1M6 48h1M83 71h1M77 31h1M57 53h1M9 63h1M1 49h1M48 46h1M93 68h1M65 45h1M74 62h1M27 41h1M17 90h1M47 54h1M97 40h1M44 3h1M51 34h1M60 66h1M59 24h1M96 71h1M21 84h1M46 7h1M63 52h1M66 65h1M34 87h1M82 10h1M64 15h1M37 32h1M57 11h1M70 59h1M27 96h1M50 1h1M106 39h1M62 74h1M91 68h1M101 90h1M108 53h1M34 31h1M71 69h1M69 4h1M29 38h1M83 56h1M78 91h1M74 73h1M30 69h1M96 66h1M31 89h1M41 55h1M39 44h1M92 57h1M99 82h1M6 87h1M104 19h1M88 65h1M70 15h1M98 34h1M51 0h1M20 91h1M31 90h1M21 69h1M48 64h1M2 58h1M31 61h1M16 25h1M7 62h1M11 86h1M108 19h1M74 72h1M88 58h1M20 79h1M84 32h1M41 29h1M78 6h1M86 46h1M48 41h1M41 33h1M51 8h1M28 52h1M49 1h1M52 43h1M35 3h1M49 85h1M22 2h1M20 41h1M63 41h1M85 63h1M97 19h1M19 69h1M104 82h1M84 22h1M53 56h1M74 57h1M73 18h1M51 44h1M9 16h1M71 43h1M49 90h1M97 53h1M67 76h1M108 58h1M51 6h1M83 2h1M31 17h1M95 60h1M63 1h1M103 11h1M41 25h1M14 10h1M83 44h1M30 77h1M49 62h1M33 2h1M95 38h1M11 74h1M27 76h1M68 78h1M11 74h1M21 91h1M88 1h1M101 54h1M45 60h1M8 48h1M47 97h1M2 60h1M43 50h1M83 16h1M72 55h1M8 48h1M64 47h1M21 38h1M32 69h1M20 9h1M26 57h1M3 6h1M37 24h1M92 66h1M64 42h1M20 34h1M105 84h1M61 76h1M60 69h1M1 83h1M103 68h1M91 56h1M15 22h1M43 55h1M44 2h1M54 33h1M66 57h1M76 66h1M106 76h1M95 2h1M80 24h1M96 13h1M40 49h1M3 65h1M100 13h1M23 19h1M26 53h1M1 59h1M87 26h1M72 22h1M76 32h1M11 8h1M28 68h1M88 14h1M95 44h1M27 80h1M87 39h1M40 67h1M41 91h1M104 57h1M91 10h1M47 37h1M41 29h1M91 17h1M70 1h1M101 58h1M24 36h1M96 11h1M58 45h1M58 81h1M27 52h1M16 46h1M7 9h1M60 70h1M60 0h1M70 80h1M93 2h1M83 2h1M50 4h1M36 23h1M81 34h1M46 41h1M31 71h1M51 13h1M10 66h1M55 1h1M109 43h1M2 19h1M98 2h1M16 35h1M84 35h1M12 55h1M51 46h1M5 68h1M45 12h1M88 41h1M69 5h1M31 54h1M63 82h1M36 58h1M76 1h1M29 64h1M0 80h1M59 35h1M46 80h1M30 41h1M70 30h1M52 85h1M91 89h1M56 38h1M17 84h1M1 69h1M63 69h1M56 23h1M25 86h1M36 15h1M20 23h1M34 67h1M5 58h1M68 62h1M63 0h1M57 28h1M56 65h1M51 55h1M59 92h1M77 61h1M61 8h1M7 60h1M35 29h1M28 22h1M44 9h1M32 34h1M11 89h1M108 57h1M107 67h1M82 26h1M92 75h1M29 17h1M47 48h1M59 42h1M22 57h1M103 88h1M61 76h1M64 65h1M101 88h1M29 96h1M42 68h1M50 10h1M103 53h1M52 1h1M26 69h1M103 64h1M95 79h1M68 34h1M50 16h1M87 29h1M92 20h1M7 12h1M66 59h1M109 32h1M94 6h1M3 66h1M49 20h1M61 45h1M76 39h1M39 54h1M59 31h1M41 72h1M43 46h1M11 23h1M78 86h1M59 31h1M66 77h1M5 40h1M2 51h1M40 0h1M13 49h1M99 22h1M41 58h1M97 58h1M83 32h1M26 82h1M69 11h1M79 7h1M87 66h1M96 37h1M26 90h1M1 47h1M32 8h1M9 90h1M36 68h1M41 0h1M68 9h1M4 12h1M100 28h1M62 33h1M38 6h1M1 76h1M103 5h1" stroke="#0c0c0c" stroke-width="6.4" stroke-linecap="square" fill="none"/><path transform="translate(64.40,237.50) scale(.25,-.25)" d="M92 1h1M76 18h1M107 69h1M63 29h1M55 42h1M53 49h1M82 73h1M107 13h1M53 40h1M75 42h1M29 19h1M33 75h1M56 28h1M120 12h1M44 87h1M81 20h1M97 64h1M87 96h1M79 82h1M42 94h1M109 39h1M29 79h1M39 30h1M13 49h1M88 87h1M76 90h1M94 30h1M88 22h1M21 69h1M78 2h1M30 36h1M74 84h1M73 70h1M96 69h1M61 65h1M86 54h1M88 33h1M17 48h1M72 110h1M48 19h1M2 22h1M57 53h1M81 57h1M96 36h1M74 86h1M9 14h1M53 2h1M50 72h1M72 69h1M38 79h1M77 91h1M69 13h1M33 58h1M60 32h1M61 77h1M67 13h1M59 61h1M115 3h1M67 13h1M66 30h1M98 65h1M2 38h1M49 112h1M42 25h1M68 88h1M30 68h1M2 49h1M89 97h1M43 59h1M73 70h1M127 52h1M44 56h1M51 0h1M35 90h1M15 50h1M50 38h1M137 71h1M28 77h1M38 52h1M71 31h1M66 9h1M29 60h1M78 21h1M112 44h1M31 100h1M88 4h1M29 75h1M54 99h1M94 87h1M56 58h1M32 41h1M3 13h1M58 13h1M75 32h1M31 41h1M92 20h1M66 41h1M43 53h1M113 36h1M61 61h1M3 41h1M72 60h1M57 20h1M42 66h1M30 77h1M67 97h1M1 48h1M2 16h1M119 71h1M66 18h1M55 63h1M98 2h1M39 52h1M111 38h1M72 54h1M77 32h1M43 59h1M84 61h1M107 33h1M26 66h1M68 32h1M20 93h1M8 24h1M50 85h1M20 63h1M52 105h1M85 77h1M45 63h1M5 2h1M25 56h1M53 69h1M68 7h1M62 94h1M50 47h1M56 2h1M77 62h1M82 33h1M30 18h1M49 48h1M73 21h1M29 15h1M37 75h1M83 50h1M91 62h1M39 69h1M12 28h1M61 50h1M32 39h1M18 26h1M144 67h1M86 85h1M3 71h1M29 7h1M36 52h1M90 82h1M59 86h1M1 45h1M101 33h1M103 45h1M129 75h1M83 81h1M33 62h1M95 34h1M106 46h1M85 77h1M43 16h1M95 105h1M75 108h1M32 75h1M67 76h1M52 116h1M46 56h1M96 22h1M18 34h1M67 51h1M72 105h1M43 13h1M104 119h1M55 105h1M51 52h1M13 60h1M23 32h1M128 66h1M115 16h1M66 2h1M52 82h1M111 76h1M49 74h1M4 44h1M30 2h1M2 22h1M93 41h1M89 67h1M99 22h1M11 54h1M133 85h1M56 81h1M53 55h1M95 58h1M50 52h1M93 88h1M105 63h1M21 75h1M44 25h1M51 27h1M12 51h1M23 75h1M65 11h1M69 61h1M15 73h1M41 40h1M78 1h1M48 70h1M50 46h1M113 117h1M3 58h1M6 81h1M90 64h1M89 3h1M15 20h1M8 101h1M40 43h1M36 50h1M60 54h1M39 49h1M44 78h1M141 22h1M99 94h1M1 63h1M27 51h1M15 73h1M44 1h1M142 22h1M93 50h1M70 81h1M120 90h1M77 46h1M81 75h1M53 23h1M24 6h1M67 82h1M73 42h1M18 63h1M149 96h1M52 92h1M55 49h1M58 9h1M108 35h1M59 57h1M75 25h1M32 41h1M23 24h1M80 40h1M76 41h1M67 29h1M106 31h1M71 104h1M106 29h1M32 57h1M64 87h1M40 67h1M49 31h1M104 94h1M76 59h1M43 104h1M25 84h1M34 69h1M60 39h1M48 56h1M41 28h1M101 26h1M59 15h1M14 34h1M128 55h1M80 75h1M21 21h1M52 80h1M61 13h1M52 1h1M65 9h1M24 2h1M0 101h1M21 86h1M90 94h1M92 68h1M3 48h1M3 73h1M41 86h1M21 2h1M61 118h1M78 45h1M16 86h1M88 39h1M82 66h1M110 77h1M59 72h1M48 17h1M44 36h1M95 52h1M73 25h1M80 32h1M4 68h1M63 92h1M112 49h1M10 2h1M44 44h1M20 15h1M67 42h1M61 33h1M74 1h1M62 50h1M34 45h1M3 14h1M108 22h1M58 62h1M142 39h1M25 81h1M80 36h1M23 74h1M64 42h1M18 29h1M37 62h1M11 63h1M94 85h1M22 53h1M31 89h1M66 93h1M43 53h1M54 60h1M75 63h1M75 86h1M51 79h1M54 45h1M55 68h1M53 64h1M20 94h1M70 50h1M32 47h1M14 52h1M56 80h1M53 47h1M65 88h1M86 68h1M70 47h1M43 89h1M38 85h1M93 78h1M3 72h1M62 61h1M98 87h1M43 68h1M85 60h1M1 3h1M89 45h1M58 57h1M55 71h1M28 35h1M47 9h1M12 23h1M12 74h1M89 63h1M18 59h1M58 6h1M92 62h1M77 1h1M81 35h1M81 1h1M28 21h1M38 1h1M62 49h1M97 54h1M67 75h1M12 47h1M52 65h1M89 13h1M94 3h1M42 50h1M80 34h1M42 36h1M15 79h1M38 54h1M30 75h1M120 28h1M56 47h1M104 32h1M93 58h1M85 33h1M28 39h1M84 45h1M81 97h1M1 16h1M33 28h1M72 14h1M24 45h1M52 52h1M53 1h1M58 67h1M91 75h1M18 31h1M65 19h1M26 52h1M48 50h1M102 14h1M5 29h1M82 42h1M74 42h1M17 20h1M108 75h1M69 61h1M53 95h1M100 37h1M88 61h1M52 39h1M27 24h1M33 26h1M40 40h1M67 57h1M4 91h1M58 75h1M80 3h1M23 52h1M72 29h1M55 66h1M53 59h1M2 89h1M23 93h1M56 72h1M4 1h1M125 63h1M77 22h1M50 57h1M34 48h1M45 61h1M107 37h1M50 11h1M64 15h1M20 90h1M68 44h1M5 60h1M53 43h1M20 12h1M29 64h1M55 12h1M55 90h1M81 68h1M58 27h1M54 88h1M3 102h1M38 5h1M31 66h1M38 29h1M91 99h1M50 133h1M40 36h1M1 18h1M94 39h1M31 51h1M88 72h1M91 33h1M12 42h1M92 14h1M32 46h1M115 73h1M28 21h1M8 19h1M72 83h1M58 2h1M71 9h1M76 6h1M88 46h1M91 35h1M6 18h1M18 56h1M31 66h1M49 33h1M35 40h1M69 89h1M36 50h1M88 91h1M23 11h1M33 87h1M38 78h1M47 67h1M68 45h1M31 51h1M134 18h1M80 41h1M7 45h1M83 10h1M15 72h1M6 85h1M92 28h1M59 85h1M84 2h1M46 33h1M93 0h1M23 71h1M54 110h1M119 74h1M26 47h1M91 58h1M72 31h1M3 72h1M80 1h1M63 32h1M127 40h1M57 32h1M119 56h1M57 59h1M91 77h1M52 43h1M55 28h1M77 31h1M2 4h1M48 60h1M1 1h1M37 30h1M45 12h1M59 29h1M35 50h1M46 46h1M56 62h1M61 21h1M44 53h1M85 117h1M75 95h1M51 23h1M30 18h1M72 46h1M35 82h1M48 28h1M1 66h1M74 53h1M16 50h1M64 47h1M39 49h1M57 72h1M16 34h1M75 36h1M22 10h1M5 20h1M51 69h1M59 54h1M75 47h1M9 53h1M59 114h1M54 115h1M49 8h1M45 42h1M50 39h1M134 59h1M48 49h1M53 83h1M54 79h1M21 57h1M50 56h1M13 30h1M1 63h1M97 49h1M6 39h1M91 1h1M87 63h1M65 62h1M66 63h1M16 26h1M73 21h1M112 61h1M23 55h1M73 37h1M117 76h1M121 33h1M80 56h1M11 17h1M20 18h1M67 2h1M14 44h1M7 63h1M57 56h1M92 38h1M85 1h1M77 26h1M15 53h1M1 83h1M16 47h1M51 62h1M56 0h1M13 51h1M45 32h1M103 29h1M125 127h1M3 41h1M18 62h1M117 61h1M48 39h1M14 14h1M79 107h1M43 24h1M3 36h1M69 27h1M3 31h1M62 65h1M59 47h1M60 56h1M47 44h1M41 120h1M54 83h1M23 95h1M90 54h1M138 75h1M118 23h1M3 73h1M71 78h1M35 49h1M13 15h1M95 69h1M56 3h1M50 35h1M30 11h1M40 65h1M44 60h1M30 18h1M81 46h1M45 66h1M87 33h1M56 43h1M100 9h1M28 48h1M1 3h1M3 46h1M72 51h1M27 57h1M52 89h1M45 6h1M62 31h1M58 62h1M1 1h1M33 48h1M70 32h1M50 34h1M88 49h1M20 57h1M28 40h1M10 43h1M81 71h1M74 23h1M53 48h1M45 41h1M2 107h1M28 54h1M60 16h1M32 61h1M52 66h1M19 47h1M21 50h1M31 34h1M73 84h1M51 57h1M21 35h1M39 62h1M112 0h1M73 1h1M79 5h1M7 55h1M33 72h1M23 1h1M75 81h1M44 29h1M64 55h1M42 95h1M9 1h1M85 87h1M32 33h1M97 56h1M15 44h1M40 87h1M10 30h1M81 76h1M61 34h1M22 0h1M63 102h1M13 40h1M67 25h1M4 27h1M27 75h1M87 74h1M49 34h1M38 8h1M30 26h1M93 93h1M63 2h1M47 34h1M95 19h1M67 48h1M82 32h1M110 60h1M48 43h1M37 83h1M81 42h1M150 64h1M86 99h1" stroke="#0c0c0c" stroke-width="4.32" stroke-linecap="square" fill="none"/><path transform="translate(64.40,237.50) scale(.25,-.25)" d="M104 224h1M53 196h1M96 213h1M70 240h1M94 244h1M69 195h1M74 233h1M50 214h1M91 219h1M88 165h1M89 234h1M54 221h1M76 214h1M157 208h1M46 199h1M60 216h1M86 205h1M135 224h1M77 207h1M82 197h1M72 204h1M96 199h1M48 206h1M103 223h1M66 213h1M57 198h1M84 201h1M55 208h1M78 226h1M65 219h1M87 250h1M80 170h1M84 194h1M85 217h1M51 167h1M89 198h1M102 186h1M45 184h1M83 244h1M81 190h1M90 185h1M78 245h1M75 185h1M76 222h1M38 224h1M78 168h1M89 193h1M65 238h1M92 203h1M94 255h1M114 204h1M121 209h1M49 195h1M29 202h1M73 250h1" stroke="#0c0c0c" stroke-width="4.32" stroke-linecap="square" fill="none"/><path transform="translate(64.40,237.50) scale(.25,-.25)" d="M155 162h1M181 209h1M208 158h1M193 160h1M150 248h1M146 228h1M150 248h1M178 227h1M227 154h1M194 215h1M129 203h1M179 155h1M149 263h1M154 145h1M253 282h1M149 225h1M156 224h1M192 305h1M201 297h1M175 174h1M179 197h1M73 268h1M141 288h1M117 187h1M228 173h1M170 274h1M131 250h1M176 172h1M168 232h1M233 313h1M178 184h1M180 219h1M128 147h1M139 202h1M164 239h1M157 203h1M210 150h1M102 269h1M203 170h1M212 221h1M142 281h1M110 171h1M171 241h1M171 249h1M128 195h1M218 192h1M147 180h1M167 195h1M83 126h1M222 265h1M163 247h1M141 234h1M203 185h1M158 220h1M207 185h1M193 205h1M145 257h1M220 151h1M174 191h1M124 211h1M165 179h1M119 241h1M207 209h1M91 236h1M227 203h1M108 150h1M163 188h1M156 205h1M192 276h1M183 196h1M148 135h1M219 190h1M162 144h1M182 203h1M138 227h1M252 194h1M160 233h1M142 193h1M222 195h1M173 165h1M121 193h1M163 152h1M148 222h1M174 282h1M140 153h1M182 189h1M189 173h1M100 288h1M150 234h1M224 185h1M116 218h1M191 229h1M105 193h1M246 150h1M214 139h1M144 150h1M207 250h1M187 168h1M185 227h1M224 150h1M162 234h1M161 161h1M153 302h1M198 257h1M184 201h1M155 196h1M156 194h1M122 186h1M171 161h1M219 278h1M134 153h1M84 207h1M141 198h1M110 218h1M129 215h1M156 240h1M145 238h1M151 150h1M201 208h1M225 206h1" stroke="#0c0c0c" stroke-width="4.32" stroke-linecap="square" fill="none"/><path transform="translate(64.40,237.50) scale(.25,-.25)" d="M78 156h1M69 91h1M83 89h1M78 80h1M96 129h1M85 102h1M62 144h1M87 109h1M66 116h1M73 109h1M62 143h1M81 156h1M84 114h1M87 107h1M89 132h1M95 115h1M77 142h1M78 103h1M92 107h1M90 139h1M70 115h1M81 113h1M76 143h1M81 119h1M80 104h1M84 135h1M67 126h1M97 132h1M96 118h1M73 105h1M78 162h1M78 99h1M95 138h1M85 125h1M74 90h1M78 107h1M62 167h1M76 97h1M77 124h1M81 144h1M78 148h1M79 117h1M82 117h1M69 81h1M60 104h1M73 111h1M81 135h1M60 100h1M86 98h1M84 100h1M64 100h1M74 84h1M77 100h1M91 89h1M84 101h1" stroke="#0c0c0c" stroke-width="4.32" stroke-linecap="square" fill="none"/><path transform="translate(64.40,237.50) scale(.25,-.25)" d="M128 65h1M177 32h1M106 22h1M124 72h1M123 55h1M106 52h1M195 67h1M139 65h1M120 19h1M127 18h1M170 73h1M155 61h1M144 44h1M176 32h1M87 68h1M124 92h1M141 24h1M171 31h1M115 77h1M181 83h1M217 83h1M182 47h1M125 81h1M193 47h1M113 62h1M209 79h1M119 27h1M163 44h1M138 84h1M174 77h1M123 52h1M195 67h1M200 75h1M167 45h1M126 31h1M129 44h1M155 103h1M156 44h1M162 73h1M137 58h1M198 34h1M140 73h1" stroke="#0c0c0c" stroke-width="4.32" stroke-linecap="square" fill="none"/><rect x="64.40" y="155.00" width="90.40" height="82.50" fill="none" stroke="#000" stroke-width="1.3"/><path d="M92.20 155.00V237.50M64.40 212.60H154.80" stroke="#000" stroke-width="1.7" fill="none"/><path d="M64.40 237.50v3.6M64.40 236.40h-3.6M71.20 237.50v2.2M64.40 230.27h-2.2M75.18 237.50v2.2M64.40 226.69h-2.2M78.01 237.50v2.2M64.40 224.15h-2.2M80.20 237.50v2.2M64.40 222.18h-2.2M81.99 237.50v2.2M64.40 220.56h-2.2M83.50 237.50v2.2M64.40 219.20h-2.2M84.81 237.50v2.2M64.40 218.02h-2.2M85.97 237.50v2.2M64.40 216.98h-2.2M87.00 237.50v3.6M64.40 216.05h-3.6M93.80 237.50v2.2M64.40 209.92h-2.2M97.78 237.50v2.2M64.40 206.34h-2.2M100.61 237.50v2.2M64.40 203.80h-2.2M102.80 237.50v2.2M64.40 201.83h-2.2M104.59 237.50v2.2M64.40 200.21h-2.2M106.10 237.50v2.2M64.40 198.85h-2.2M107.41 237.50v2.2M64.40 197.67h-2.2M108.57 237.50v2.2M64.40 196.63h-2.2M109.60 237.50v3.6M64.40 195.70h-3.6M116.40 237.50v2.2M64.40 189.57h-2.2M120.38 237.50v2.2M64.40 185.99h-2.2M123.21 237.50v2.2M64.40 183.45h-2.2M125.40 237.50v2.2M64.40 181.48h-2.2M127.19 237.50v2.2M64.40 179.86h-2.2M128.70 237.50v2.2M64.40 178.50h-2.2M130.01 237.50v2.2M64.40 177.32h-2.2M131.17 237.50v2.2M64.40 176.28h-2.2M132.20 237.50v3.6M64.40 175.35h-3.6M139.00 237.50v2.2M64.40 169.22h-2.2M142.98 237.50v2.2M64.40 165.64h-2.2M145.81 237.50v2.2M64.40 163.10h-2.2M148.00 237.50v2.2M64.40 161.13h-2.2M149.79 237.50v2.2M64.40 159.51h-2.2M151.30 237.50v2.2M64.40 158.15h-2.2M152.61 237.50v2.2M64.40 156.97h-2.2M153.77 237.50v2.2M64.40 155.93h-2.2M154.80 237.50v3.6M64.40 155.00h-3.6" stroke="#000" stroke-width="1.1" fill="none"/><g stroke-width=".7"><text transform="translate(60.00,252.40) scale(0.6,1)" font-size="11.4">10</text><text transform="translate(67.60,248.20) scale(0.78,1)" font-size="9.4">0</text><text transform="translate(57.00,243.60) rotate(-90) scale(0.86,1)" font-size="9">10</text><text transform="translate(52.90,232.00) rotate(-90) scale(0.95,1)" font-size="8.1">0</text><text transform="translate(81.88,252.40) scale(0.6,1)" font-size="11.4">10</text><text transform="translate(89.48,248.20) scale(0.78,1)" font-size="9.4">1</text><text transform="translate(57.00,223.25) rotate(-90) scale(0.86,1)" font-size="9">10</text><text transform="translate(52.90,211.65) rotate(-90) scale(0.95,1)" font-size="8.1">1</text><text transform="translate(103.76,252.40) scale(0.6,1)" font-size="11.4">10</text><text transform="translate(111.36,248.20) scale(0.78,1)" font-size="9.4">2</text><text transform="translate(57.00,202.90) rotate(-90) scale(0.86,1)" font-size="9">10</text><text transform="translate(52.90,191.30) rotate(-90) scale(0.95,1)" font-size="8.1">2</text><text transform="translate(125.64,252.40) scale(0.6,1)" font-size="11.4">10</text><text transform="translate(133.24,248.20) scale(0.78,1)" font-size="9.4">3</text><text transform="translate(57.00,182.55) rotate(-90) scale(0.86,1)" font-size="9">10</text><text transform="translate(52.90,170.95) rotate(-90) scale(0.95,1)" font-size="8.1">3</text><text transform="translate(147.52,252.40) scale(0.6,1)" font-size="11.4">10</text><text transform="translate(155.12,248.20) scale(0.78,1)" font-size="9.4">4</text><text transform="translate(57.00,162.20) rotate(-90) scale(0.86,1)" font-size="9">10</text><text transform="translate(52.90,150.60) rotate(-90) scale(0.95,1)" font-size="8.1">4</text><text x="91.20" y="263.30" font-size="12.2" textLength="35.2" lengthAdjust="spacingAndGlyphs" stroke-width=".6">ANNEXIN</text><text transform="translate(46.50,201.50) rotate(-90)" font-size="9" textLength="8" lengthAdjust="spacingAndGlyphs">PI</text></g><text x="113.00" y="151.20" font-size="11.3" text-anchor="middle" stroke-width=".55">PMA 0h</text><text x="75.90" y="171.80" font-size="12.2" text-anchor="middle" stroke-width=".85">2</text><text x="141.80" y="169.20" font-size="12.2" text-anchor="middle" stroke-width=".85">2</text><text x="144.60" y="229.80" font-size="12.2" text-anchor="middle" stroke-width=".85">1</text>
<path transform="translate(183.70,237.30) scale(.25,-.25)" d="M16 21h1M24 85h1M58 5h1M98 29h1M0 72h1M81 76h1M9 87h1M15 60h1M108 67h1M40 62h1M55 62h1M61 89h1M82 36h1M81 65h1M25 66h1M61 15h1M60 51h1M55 79h1M75 86h1M15 83h1M45 84h1M28 90h1M3 79h1M107 58h1M53 51h1M41 29h1M79 37h1M65 3h1M27 72h1M58 74h1M19 80h1M50 58h1M69 1h1M54 69h1M14 40h1M57 17h1M85 23h1M50 53h1M15 77h1M84 62h1M77 86h1M75 76h1M20 91h1M76 35h1M86 22h1M89 66h1M12 84h1M78 43h1M86 45h1M98 1h1M5 66h1M53 48h1M32 64h1M108 43h1M84 38h1M49 49h1M91 31h1M1 74h1M96 90h1M37 15h1M5 22h1M59 29h1M45 66h1M49 33h1M15 81h1M2 49h1M100 35h1M71 48h1M87 49h1M104 52h1M10 90h1M7 2h1M38 62h1M67 6h1M66 67h1M75 56h1M34 4h1M10 11h1M50 61h1M57 64h1M36 16h1M63 79h1M38 13h1M100 8h1M70 37h1M45 86h1M20 78h1M100 80h1M108 75h1M5 29h1M7 26h1M49 38h1M98 92h1M77 49h1M95 5h1M1 85h1M56 83h1M73 52h1M40 71h1M103 50h1M23 38h1M30 80h1M34 52h1M42 5h1M100 63h1M79 29h1M104 44h1M41 2h1M74 62h1M69 10h1M47 43h1M56 8h1M73 20h1M87 29h1M38 33h1M79 57h1M95 29h1M99 19h1M92 79h1M76 21h1M6 30h1M47 94h1M24 65h1M45 6h1M108 21h1M9 11h1M1 58h1M1 71h1M30 81h1M12 75h1M107 79h1M29 14h1M91 5h1M38 59h1M89 56h1M52 29h1M76 70h1M88 41h1M83 36h1M14 57h1M2 12h1M109 32h1M34 85h1M101 78h1M29 43h1M73 68h1M100 42h1M78 3h1M93 27h1M78 1h1M51 46h1M55 95h1M92 35h1M3 18h1M88 68h1M56 71h1M20 45h1M49 31h1M50 10h1M61 62h1M58 75h1M92 61h1M47 34h1M35 89h1M4 12h1M39 16h1M70 93h1M73 52h1M55 36h1M53 68h1M34 18h1M18 0h1M60 65h1M17 55h1M49 11h1M12 74h1M100 27h1M63 40h1M56 30h1M55 13h1M25 14h1M55 59h1M61 28h1M68 40h1M101 33h1M12 40h1M31 79h1M80 92h1M50 73h1M70 6h1M6 86h1M103 35h1M3 18h1M90 34h1M79 67h1M29 6h1M17 23h1M24 46h1M74 48h1M26 87h1M2 77h1M50 47h1M2 84h1M36 90h1M8 34h1M93 88h1M96 4h1M84 81h1M95 69h1M17 47h1M13 0h1M62 60h1M95 5h1M92 47h1M80 26h1M51 69h1M34 1h1M31 65h1M55 51h1M6 73h1M60 37h1M83 11h1M23 85h1M16 91h1M88 58h1M20 77h1M84 91h1M80 4h1M92 69h1M60 3h1M21 4h1M0 42h1M76 3h1M104 74h1M43 61h1M14 93h1M63 24h1M7 24h1M25 61h1M37 27h1M43 65h1M101 74h1M12 88h1M76 55h1M12 91h1M83 19h1M83 12h1M55 44h1M45 5h1M78 38h1M31 82h1M54 9h1M95 11h1M58 49h1M56 22h1M23 45h1M59 87h1M73 3h1M84 63h1M41 92h1M81 49h1M24 11h1M81 69h1M70 43h1M2 35h1M101 19h1M98 56h1M80 36h1M95 42h1M19 62h1M68 41h1M24 59h1M18 74h1M13 71h1M50 58h1M95 38h1M62 58h1M95 94h1M105 85h1M70 56h1M8 35h1M20 21h1M48 35h1M5 33h1M70 60h1M91 58h1M41 60h1M103 45h1M43 90h1M83 46h1M38 14h1M76 84h1M40 77h1M103 20h1M81 17h1M104 43h1M10 25h1M30 96h1M50 6h1M23 74h1M65 19h1M33 66h1M83 14h1M91 26h1M45 35h1M90 26h1M56 43h1M55 66h1M94 42h1M83 33h1M38 15h1M32 64h1M23 31h1M9 38h1M39 23h1M80 56h1M98 7h1M106 75h1M36 42h1M36 90h1M62 8h1M29 33h1M52 49h1M92 27h1M86 66h1M65 66h1M94 77h1M66 4h1M8 5h1M1 15h1M45 50h1M57 65h1M38 74h1M93 13h1M76 41h1M93 41h1M17 59h1M40 94h1M14 68h1M72 80h1M66 9h1M83 49h1M6 8h1M46 85h1M75 76h1M58 40h1M12 85h1M39 55h1M24 22h1M81 13h1M46 62h1M66 47h1M19 89h1M103 75h1M95 92h1M2 20h1M37 5h1M64 65h1M64 83h1M61 60h1M82 74h1M63 17h1M89 78h1M83 2h1M13 15h1M91 68h1M63 72h1M47 88h1M75 36h1M24 57h1M51 25h1M12 86h1M103 30h1M69 59h1M83 71h1M66 64h1M94 51h1M72 41h1M23 25h1M85 45h1M89 94h1M41 44h1M10 21h1M77 76h1M2 42h1M50 20h1M2 66h1M94 10h1M70 42h1M18 37h1M28 19h1M24 79h1M0 22h1M88 88h1M32 37h1M44 33h1M13 20h1M96 17h1M95 75h1M97 54h1M29 34h1M52 4h1M85 32h1M81 87h1M60 22h1M102 20h1M56 58h1M4 70h1M5 69h1M32 28h1M2 35h1M23 63h1M23 27h1M46 58h1M72 4h1M39 67h1M21 37h1M97 60h1M53 79h1M76 51h1M72 10h1M53 28h1M53 13h1M6 59h1M20 57h1M81 71h1M81 52h1M1 68h1M55 73h1M33 7h1M59 15h1M68 57h1M85 42h1M3 55h1M49 19h1M103 79h1M76 3h1M49 80h1M19 59h1M67 5h1M97 48h1M44 55h1M66 21h1M89 35h1M99 81h1M78 32h1M75 4h1M99 16h1M16 58h1M35 51h1M39 43h1M9 29h1M58 37h1M73 20h1M54 23h1M85 26h1M87 38h1M51 87h1M1 10h1M9 47h1M64 81h1M54 11h1M22 1h1M63 41h1M34 46h1M3 50h1M33 50h1M39 75h1M46 5h1M40 60h1M17 60h1M28 88h1M52 92h1M16 28h1M47 20h1M38 27h1M85 26h1M90 79h1M35 19h1M62 90h1M6 83h1M53 42h1M23 95h1M22 20h1M90 12h1M71 2h1M1 61h1M52 18h1M20 12h1M107 47h1M1 14h1M19 59h1M108 53h1M85 0h1M64 49h1M0 44h1M64 93h1M37 27h1M52 63h1M92 4h1M17 36h1M20 72h1M38 27h1M33 28h1M106 69h1M49 2h1M21 77h1M57 15h1M17 62h1M67 30h1M15 16h1M72 8h1M44 72h1M79 67h1M1 31h1M67 6h1M63 94h1M106 41h1M44 18h1M50 70h1M40 32h1M75 74h1M58 78h1M80 73h1M10 10h1M54 20h1M3 52h1M21 92h1M11 92h1M79 28h1M57 50h1M39 74h1M77 73h1M35 83h1M5 30h1M66 45h1M7 73h1M88 58h1M18 78h1M75 81h1M55 47h1M49 64h1M33 14h1M49 9h1M18 77h1M2 79h1M97 65h1M61 16h1M13 82h1M90 18h1M105 63h1M85 73h1M34 37h1M26 13h1M61 34h1M89 29h1M8 2h1M52 94h1M96 63h1M83 0h1M84 56h1M21 1h1M74 4h1M53 0h1M68 1h1M104 73h1M104 79h1M85 45h1M88 71h1M89 25h1M6 44h1M63 87h1M57 20h1M3 15h1M3 62h1M52 83h1M66 38h1M39 3h1M20 4h1M74 61h1M0 40h1M65 29h1M64 13h1M100 63h1M81 80h1M46 3h1M61 57h1M81 53h1M56 17h1M17 8h1M35 70h1M3 41h1M64 7h1M83 11h1M108 42h1M19 84h1M40 21h1M55 94h1M24 57h1M57 0h1M31 72h1M76 7h1M67 77h1M16 48h1M61 56h1M20 66h1M60 93h1M20 19h1M11 63h1M43 51h1M73 13h1M69 8h1M75 83h1M15 56h1M12 69h1M44 16h1M35 67h1M88 26h1M73 35h1M69 48h1M20 13h1M26 64h1M95 36h1M84 21h1M71 57h1M56 78h1M7 36h1M77 65h1M9 35h1M0 47h1M100 60h1M92 6h1M43 13h1M41 55h1M90 94h1M35 77h1M90 88h1M24 74h1M4 56h1M99 23h1M36 57h1M35 63h1M9 7h1M3 17h1M58 21h1M36 86h1M78 89h1M100 27h1M16 54h1M87 15h1M39 6h1M89 27h1M47 68h1M2 41h1M34 85h1M4 63h1M59 21h1M92 90h1M35 94h1M61 67h1M43 19h1M1 63h1M48 43h1M49 81h1M17 81h1M53 34h1M41 75h1M58 37h1M24 43h1M63 36h1M41 49h1M51 68h1M29 33h1M25 5h1M85 34h1M8 86h1M25 11h1M68 88h1M48 8h1M80 32h1M83 77h1M3 33h1M87 23h1M93 30h1M59 48h1M24 48h1M22 27h1M109 36h1M78 28h1M53 54h1M5 63h1M51 69h1M6 23h1M15 28h1M95 77h1M24 28h1M25 84h1M3 64h1M33 76h1M35 30h1M33 15h1M46 3h1M87 86h1M33 50h1M1 12h1M109 23h1M80 82h1M27 79h1M77 82h1M18 51h1M104 87h1M31 0h1M1 21h1M79 87h1M30 58h1M49 87h1M23 60h1M70 77h1M85 76h1M10 52h1M22 44h1M7 80h1M30 57h1M75 73h1M61 10h1M29 85h1M66 92h1M45 59h1M5 79h1M99 69h1M4 14h1M56 95h1M19 29h1M84 49h1M107 25h1M76 83h1M46 79h1M27 9h1M47 71h1M88 86h1M89 76h1M99 41h1M85 69h1M9 35h1M14 80h1M107 18h1M65 2h1M34 61h1M44 14h1M29 84h1M32 87h1M26 89h1M3 35h1M100 20h1M65 68h1M2 84h1M99 63h1M50 67h1M44 34h1M2 36h1M61 3h1M37 56h1M109 73h1M83 75h1M61 89h1M61 34h1M79 38h1M96 40h1M50 66h1M51 31h1M84 86h1M0 65h1M95 25h1M50 58h1M107 60h1M48 67h1M1 15h1M26 31h1M26 74h1M77 84h1M19 11h1M98 92h1M32 10h1M58 53h1M34 92h1M66 67h1M78 38h1M10 5h1M4 43h1M59 54h1M52 53h1M9 48h1M1 66h1M56 41h1M77 55h1M19 13h1M63 53h1M66 77h1M91 44h1M22 28h1M96 47h1M46 48h1M42 58h1M38 22h1M18 30h1M85 44h1M8 65h1M86 11h1M51 65h1M1 79h1M38 89h1M12 31h1M104 16h1M56 68h1M88 23h1M7 47h1M9 24h1M55 13h1M84 87h1M17 72h1M87 30h1M26 59h1M0 17h1M102 26h1M77 31h1M12 59h1M53 1h1M83 44h1M63 13h1M89 69h1M32 31h1M91 21h1M28 60h1M62 78h1M9 67h1M91 26h1M18 15h1M17 71h1M52 72h1M0 55h1M53 6h1M89 82h1M88 44h1M67 31h1M32 74h1M24 76h1M18 40h1M27 16h1M61 6h1M10 80h1M7 76h1M98 17h1M101 86h1M78 4h1M32 95h1M79 62h1M82 14h1M89 46h1M42 95h1M108 19h1M52 47h1M58 51h1M51 77h1M66 18h1M54 96h1M1 50h1M3 50h1M99 85h1M48 18h1M92 23h1M70 19h1M96 25h1M35 63h1M93 33h1M55 91h1M68 50h1M93 43h1M90 35h1M96 32h1M105 80h1M29 16h1M86 9h1M61 16h1M55 67h1M1 32h1M25 78h1M77 24h1M69 5h1M3 66h1M52 33h1M24 55h1M100 23h1M8 59h1M5 19h1M3 5h1M81 16h1M100 27h1M35 69h1M80 10h1M54 12h1M82 14h1M103 69h1M33 77h1M5 33h1M76 28h1M42 77h1M73 74h1M80 93h1M37 46h1M70 21h1M2 88h1M107 24h1M24 77h1M8 13h1M22 32h1M2 13h1M29 6h1M17 82h1M50 55h1M107 57h1M16 41h1M66 71h1M34 1h1M65 3h1M31 19h1M47 88h1M3 26h1M12 26h1M91 71h1M64 76h1M2 61h1M46 94h1M6 71h1M51 61h1M14 62h1M33 75h1M106 38h1M61 16h1M83 55h1M14 36h1M5 26h1M28 43h1M35 70h1M29 74h1M29 94h1M64 25h1M26 9h1M24 65h1M100 57h1M101 21h1" stroke="#0c0c0c" stroke-width="6.4" stroke-linecap="square" fill="none"/><path transform="translate(183.70,237.30) scale(.25,-.25)" d="M27 17h1M68 69h1M70 51h1M38 1h1M130 26h1M62 33h1M49 45h1M50 10h1M38 40h1M1 44h1M148 2h1M52 25h1M29 70h1M82 49h1M96 20h1M26 90h1M63 24h1M18 28h1M1 72h1M2 0h1M27 40h1M2 76h1M118 115h1M86 36h1M92 12h1M159 58h1M170 42h1M60 45h1M17 47h1M17 19h1M130 40h1M67 5h1M99 36h1M87 30h1M108 33h1M45 78h1M36 15h1M108 44h1M55 72h1M83 34h1M38 68h1M100 58h1M41 12h1M38 69h1M23 1h1M68 60h1M86 33h1M50 52h1M155 20h1M57 89h1M55 53h1M117 85h1M84 70h1M20 53h1M1 65h1M56 59h1M98 86h1M57 74h1M101 53h1M2 1h1M105 28h1M83 39h1M1 37h1M28 47h1M116 67h1M5 76h1M79 55h1M93 37h1M124 25h1M46 42h1M12 56h1M149 49h1M5 8h1M3 59h1M27 98h1M58 76h1M82 79h1M130 51h1M80 56h1M54 7h1M44 42h1M79 41h1M111 64h1M74 77h1M168 8h1M79 67h1M52 68h1M130 73h1M111 64h1M139 83h1M61 59h1M67 24h1M64 75h1M64 81h1M95 66h1M31 27h1M122 72h1M39 8h1M23 64h1M28 104h1M3 58h1M55 14h1M98 71h1M64 16h1M103 72h1M52 3h1M88 66h1M54 24h1M29 99h1M162 37h1M77 6h1M81 75h1M63 85h1M102 109h1M34 71h1M138 30h1M69 37h1M118 29h1M122 51h1M118 42h1M29 31h1M150 36h1M40 42h1M85 69h1M106 31h1M90 2h1M3 50h1M35 4h1M79 38h1M24 87h1M20 53h1M64 102h1M74 34h1M63 77h1M3 64h1M82 29h1M86 71h1M77 32h1M91 38h1M85 73h1M109 39h1M79 64h1M68 39h1M144 101h1M43 19h1M60 0h1M81 35h1M123 24h1M208 14h1M58 56h1M85 91h1M115 1h1M121 59h1M2 26h1M118 79h1M156 37h1M62 26h1M50 46h1M3 27h1M45 63h1M141 32h1M7 35h1M146 60h1M0 25h1M99 77h1M104 97h1M82 62h1M88 79h1M73 76h1M107 29h1M97 48h1M79 43h1M84 54h1M12 16h1M75 20h1M3 112h1M62 40h1M68 51h1M107 62h1M107 71h1M63 31h1M63 42h1M76 59h1M42 12h1M118 20h1M24 3h1M113 12h1M3 12h1M87 84h1M146 30h1M129 69h1M105 25h1M46 52h1M143 33h1M86 76h1M22 22h1M83 82h1M6 6h1M0 66h1M96 15h1M40 17h1M71 28h1M12 40h1M114 69h1M73 37h1M131 13h1M184 74h1M90 58h1M153 2h1M56 70h1M62 102h1M45 67h1M120 13h1M46 8h1M1 97h1M2 96h1M143 47h1M3 59h1M96 56h1M113 13h1M96 48h1M107 53h1M69 29h1M72 12h1M30 5h1M94 3h1M18 1h1M53 42h1M82 26h1M31 70h1M139 66h1M26 99h1M87 36h1M134 53h1M136 7h1M23 90h1M133 77h1M101 63h1M42 81h1M84 31h1M81 54h1M71 79h1M127 37h1M73 78h1M44 2h1M98 78h1M103 0h1M63 53h1M82 44h1M100 5h1M90 43h1M47 32h1M47 24h1M85 46h1M124 58h1M95 59h1M49 29h1M148 75h1M24 58h1M18 76h1M10 68h1M78 34h1M4 32h1M71 54h1M39 73h1M72 59h1M71 36h1M52 47h1M135 42h1M39 25h1M113 91h1M102 59h1M107 12h1M53 61h1M90 108h1M50 74h1M147 16h1M67 67h1M92 57h1M144 85h1M29 23h1M32 39h1M108 52h1M117 65h1M46 2h1M25 25h1M3 0h1M7 73h1M3 162h1M166 55h1M69 46h1M52 24h1M101 20h1M106 11h1M3 37h1M57 37h1M106 36h1M19 36h1M198 65h1M149 83h1M79 3h1M59 38h1M22 65h1M8 14h1M144 26h1M84 0h1M110 46h1M86 80h1M129 52h1M73 69h1M26 78h1M10 30h1M79 71h1M40 34h1M75 43h1M30 41h1M119 48h1M1 85h1M51 62h1M13 27h1M29 1h1M3 51h1M47 63h1M80 24h1M43 79h1M1 1h1M134 60h1M64 42h1M23 48h1M37 38h1M2 40h1M40 44h1M51 62h1M61 101h1M26 2h1M71 90h1M59 77h1M16 77h1M119 58h1M32 2h1M73 82h1M70 72h1M54 20h1M138 1h1M106 85h1M81 47h1M119 13h1M68 56h1M80 3h1M92 58h1M122 35h1M37 1h1M103 39h1M109 38h1M77 35h1M66 23h1M89 9h1M87 14h1M44 53h1M102 54h1M79 43h1M57 23h1M50 33h1M25 52h1M156 40h1M104 43h1M114 61h1M137 9h1M24 61h1M44 96h1M96 60h1M0 1h1M161 81h1M56 46h1M47 41h1M56 19h1M104 34h1M34 29h1M26 42h1M64 18h1M116 53h1M112 49h1M101 1h1M33 62h1M99 86h1M111 33h1M158 28h1M0 86h1M90 32h1M71 79h1M109 51h1M101 50h1M88 15h1M64 91h1M79 60h1M146 82h1M157 79h1M151 12h1M97 48h1M0 56h1M81 47h1M164 99h1M93 2h1M66 63h1M95 67h1M81 54h1M52 97h1M28 40h1M13 77h1M60 44h1M13 96h1M46 81h1M76 46h1M67 24h1M98 68h1M184 2h1M40 88h1M37 26h1M16 34h1M80 54h1M0 106h1M79 32h1M136 42h1M46 35h1M86 27h1M147 59h1M104 51h1M27 32h1M100 51h1M51 4h1M36 63h1M2 102h1M194 29h1M36 2h1M92 18h1M104 73h1M70 89h1M70 72h1M62 31h1M101 6h1M58 8h1M51 57h1M82 14h1M80 2h1M109 99h1M87 28h1M161 14h1M59 30h1M87 72h1M89 24h1M3 56h1M104 64h1M70 65h1M26 15h1M180 12h1M68 57h1M48 22h1M139 60h1M13 88h1M122 80h1M127 50h1M1 19h1M106 28h1M174 0h1M133 7h1M49 63h1M97 24h1M130 83h1M102 53h1M23 3h1M60 37h1M124 29h1M42 30h1M77 64h1M95 12h1M16 135h1M74 17h1M133 14h1M59 82h1M101 100h1M81 69h1M40 42h1M145 60h1M73 15h1M118 109h1M93 95h1M97 21h1M108 29h1M87 87h1M82 51h1M17 28h1M75 0h1M1 47h1M24 18h1M81 34h1M4 46h1M32 5h1M61 43h1M97 1h1M115 100h1M36 74h1M65 70h1M112 74h1M84 22h1M154 59h1M123 12h1M100 89h1M42 61h1M80 60h1M110 51h1M111 24h1M64 26h1M59 74h1M83 83h1M2 132h1M143 67h1M36 52h1M33 50h1M128 8h1M113 1h1M37 53h1M89 1h1M59 2h1M43 26h1M15 38h1M65 33h1M92 16h1M67 2h1M36 25h1M60 46h1M73 1h1M120 101h1M93 20h1M75 31h1M33 85h1M85 90h1M58 79h1M88 73h1M130 35h1M68 0h1M63 31h1M105 20h1M97 30h1M125 77h1M117 115h1M70 31h1M77 5h1M84 34h1M141 3h1M79 68h1M120 29h1M49 14h1M23 55h1M107 1h1M116 72h1M64 93h1M74 52h1M88 41h1M3 62h1M4 37h1M85 93h1M168 45h1M97 53h1M37 52h1M30 77h1M153 19h1M84 26h1M148 31h1M64 60h1M132 32h1M68 6h1M60 104h1M121 3h1M104 4h1M159 45h1M62 81h1M57 39h1M97 77h1M107 84h1M2 4h1M30 0h1M3 59h1M63 22h1M51 56h1M87 117h1M102 26h1M74 48h1M78 12h1M38 90h1M15 16h1M132 35h1M20 66h1M125 10h1M32 16h1M138 2h1M28 30h1M39 98h1M2 40h1M143 70h1M161 28h1M130 48h1M121 0h1M107 20h1M2 29h1M130 2h1M69 95h1M99 32h1M91 61h1M154 59h1M98 61h1M59 51h1M53 30h1M120 16h1M57 126h1M51 113h1M71 62h1M1 16h1M118 62h1M101 30h1M136 21h1M107 67h1M100 84h1M128 54h1M184 52h1M114 11h1M70 66h1M49 25h1M100 30h1M42 67h1M72 9h1M138 60h1M47 57h1M122 44h1M22 3h1M92 48h1M134 51h1M83 109h1M98 3h1M44 49h1M98 21h1M71 90h1M89 3h1M152 8h1M68 39h1M106 17h1M29 16h1M154 2h1M28 22h1M59 47h1M156 56h1M1 3h1M36 81h1M64 55h1M125 12h1M44 22h1M93 61h1M66 23h1M27 23h1M170 64h1M20 3h1M156 21h1M69 26h1M86 71h1M135 69h1M87 13h1M36 129h1M18 74h1M46 36h1M119 14h1M43 31h1M8 38h1M108 55h1M121 54h1M55 38h1M49 22h1M54 92h1M97 49h1M2 47h1M63 73h1M137 41h1M134 63h1M95 39h1M63 54h1M124 56h1M66 12h1M7 17h1M106 96h1M102 31h1M71 10h1M97 98h1M46 44h1M28 0h1M26 55h1M71 58h1M79 27h1M52 31h1M98 37h1M67 55h1M39 69h1M81 37h1M104 28h1M84 14h1M91 17h1M90 38h1M2 45h1M23 95h1M58 68h1M39 107h1M63 105h1M120 20h1M42 32h1M1 18h1M47 70h1M89 47h1M116 41h1M79 46h1M12 72h1M132 93h1M55 113h1M84 78h1M67 53h1M93 78h1M59 61h1M105 79h1M105 1h1M155 21h1M112 22h1M62 30h1M1 29h1M97 0h1M103 68h1M75 64h1M5 22h1M168 11h1M7 1h1M87 34h1M91 42h1M158 44h1M162 2h1M86 7h1M79 0h1M145 28h1M33 0h1M60 71h1M111 49h1M134 71h1M98 56h1M80 1h1M61 30h1M39 91h1M2 7h1M74 21h1M74 23h1M36 55h1M57 50h1M81 43h1M61 19h1M95 76h1M63 94h1M85 82h1M17 47h1M58 1h1M55 3h1M62 92h1M101 28h1M0 48h1M112 23h1M31 2h1M9 21h1M117 11h1M67 39h1M115 111h1M91 77h1M188 0h1M79 32h1M161 1h1M60 43h1M61 70h1M99 84h1M88 46h1M126 65h1M12 85h1M66 17h1M54 18h1M69 16h1M25 30h1M113 47h1M79 59h1M92 35h1M107 68h1M1 26h1M31 3h1M87 55h1M79 49h1M115 73h1M1 10h1M87 3h1M98 31h1M11 62h1M2 56h1M109 59h1M106 45h1M46 14h1M1 1h1M118 3h1M139 81h1M82 69h1M61 1h1M128 64h1M84 111h1M109 34h1M114 36h1M58 77h1M17 61h1M55 25h1M78 11h1M104 16h1M63 38h1M78 100h1M18 40h1M108 134h1M78 78h1M104 22h1M93 83h1M100 39h1M78 8h1M25 18h1M149 24h1M126 25h1M135 17h1M15 54h1M109 25h1M72 23h1M32 75h1M141 60h1M111 45h1M74 19h1M101 55h1M115 60h1M29 1h1M126 49h1M43 16h1M40 13h1M10 8h1M150 79h1M130 57h1M88 3h1M119 48h1M66 2h1M82 19h1M35 13h1M146 42h1M123 30h1M36 60h1M133 116h1M52 49h1M15 29h1M128 69h1M50 1h1M68 116h1M13 51h1M24 28h1M88 16h1M69 37h1M57 47h1M4 54h1M89 14h1M78 3h1M80 70h1M8 40h1M54 105h1M68 70h1M67 67h1M92 64h1M65 28h1M111 54h1M49 84h1M175 2h1M100 94h1M39 73h1M25 32h1M130 42h1M30 29h1M106 75h1M120 2h1M70 2h1M3 1h1M153 2h1M69 37h1M109 65h1M107 21h1M115 107h1M108 73h1M64 35h1M171 45h1M66 25h1M109 93h1M36 1h1M99 81h1M74 61h1" stroke="#0c0c0c" stroke-width="4.32" stroke-linecap="square" fill="none"/><path transform="translate(183.70,237.30) scale(.25,-.25)" d="M121 45h1M108 62h1M149 68h1M151 75h1M102 72h1M139 41h1M114 63h1M110 57h1M110 46h1M162 72h1M127 60h1M145 59h1M106 76h1M142 33h1M74 37h1M98 71h1M124 64h1M83 51h1M202 30h1M115 58h1M113 45h1M120 61h1M101 86h1M131 58h1M178 76h1M124 42h1M136 63h1M138 40h1M143 36h1M154 60h1M86 52h1M148 51h1M100 53h1M107 45h1M111 40h1M142 62h1M108 69h1M162 78h1M149 66h1M136 110h1M186 110h1M131 46h1M159 43h1M119 62h1M177 65h1M113 53h1M137 66h1M134 53h1M140 55h1M121 59h1M95 71h1M145 47h1M91 98h1M114 54h1M129 58h1M88 67h1M136 57h1M107 54h1M157 62h1M158 84h1M183 67h1M121 35h1M151 83h1M149 62h1M149 58h1M130 61h1M112 64h1M132 52h1M125 81h1M158 29h1M112 51h1M164 86h1M113 59h1M142 78h1M125 45h1M145 55h1M118 44h1M157 53h1M156 67h1M121 41h1M167 64h1M100 57h1M151 47h1M131 82h1M157 29h1M142 88h1M110 75h1M150 72h1M110 78h1M117 57h1M102 60h1M146 44h1M171 79h1M194 66h1M140 67h1M107 72h1M156 39h1M155 45h1M135 56h1M117 88h1M129 59h1M149 63h1M149 91h1M165 81h1M145 61h1M98 82h1M103 86h1M147 70h1M72 94h1M139 67h1M175 63h1M180 80h1M131 74h1M157 69h1M141 63h1M104 38h1M156 74h1M128 73h1M107 59h1M122 47h1M145 63h1M80 59h1M116 87h1M190 67h1M129 59h1M103 56h1M155 89h1M57 60h1M69 55h1M107 65h1M130 63h1M142 78h1M149 33h1M137 42h1M129 57h1M154 75h1M122 55h1M143 87h1M136 78h1M123 62h1M149 64h1M130 72h1M107 69h1M143 27h1M88 82h1M95 85h1M150 77h1M160 60h1M122 50h1M139 42h1M162 61h1M124 38h1M106 46h1M117 65h1M129 94h1M169 60h1M182 53h1M140 66h1M97 71h1M113 98h1M159 46h1M124 56h1M170 82h1M127 33h1M99 82h1M122 42h1M100 82h1M177 47h1M129 74h1M137 69h1M138 55h1M117 43h1M119 43h1M142 62h1M124 57h1M123 77h1M181 31h1M169 70h1M144 56h1M96 71h1M174 46h1M132 68h1M97 44h1M205 53h1M135 44h1M107 61h1M137 98h1M177 40h1M121 55h1M133 64h1M160 30h1M156 81h1M137 85h1M157 57h1M126 73h1M112 45h1M122 50h1M104 58h1M120 66h1M129 41h1M198 80h1M128 63h1M134 68h1M72 63h1M167 100h1M135 65h1M185 61h1M163 68h1M140 55h1M139 74h1M79 58h1M129 77h1M124 38h1M143 83h1M121 58h1M121 73h1M129 69h1M106 50h1M141 50h1M135 58h1M137 47h1M101 44h1M136 65h1M86 56h1M135 76h1M157 42h1M124 20h1M121 47h1M193 64h1M145 60h1M143 67h1M143 72h1M150 59h1M98 43h1M139 88h1M130 25h1M199 55h1M117 39h1M145 85h1M111 67h1M169 65h1M151 60h1M89 48h1M72 50h1M150 44h1M156 64h1M154 52h1M159 78h1M106 76h1M182 64h1M122 66h1M91 38h1M133 63h1M121 59h1M119 78h1M80 62h1M99 33h1M137 45h1M140 55h1M110 63h1M122 56h1M126 26h1M169 75h1M144 73h1M138 48h1M115 54h1M75 66h1M167 57h1M144 85h1M172 86h1M139 64h1M179 64h1M213 49h1M138 52h1M150 47h1M117 68h1M153 79h1M123 22h1M127 36h1M114 62h1M149 67h1M151 54h1M123 81h1M107 54h1M195 107h1M120 57h1M121 67h1M134 77h1M85 58h1M137 77h1M151 61h1M128 110h1M110 71h1M113 65h1M148 40h1M166 67h1M113 41h1M156 60h1M197 65h1M81 28h1M158 75h1M102 81h1M150 64h1M159 75h1M80 61h1M86 85h1M73 18h1M174 67h1M169 103h1M181 62h1M141 60h1M158 66h1M107 71h1M144 67h1M150 50h1M112 62h1M193 57h1M118 62h1M163 83h1M130 33h1M123 72h1M97 93h1M97 78h1M137 55h1M99 87h1M140 80h1M133 52h1M124 51h1M117 75h1M173 31h1M148 46h1M76 83h1M112 75h1M133 62h1M76 55h1M91 63h1M131 29h1M127 62h1M110 81h1M156 84h1M182 44h1M172 81h1M103 44h1M102 69h1M159 85h1M116 53h1M134 56h1M91 49h1M161 80h1M146 83h1M145 50h1M104 43h1M166 25h1M161 77h1M157 66h1M117 24h1M99 20h1M147 63h1M167 65h1M143 58h1M156 72h1M172 44h1M110 59h1M148 77h1M121 55h1M191 44h1M124 29h1M139 54h1M119 80h1M99 74h1M132 65h1M120 52h1M148 71h1M96 64h1M94 55h1M98 66h1M179 82h1M169 71h1M129 65h1M111 37h1M108 48h1M117 58h1M138 74h1M171 71h1M151 82h1M145 69h1M119 49h1M183 68h1M152 53h1M203 60h1M178 63h1M154 75h1M138 81h1M90 81h1M150 81h1M178 85h1M116 75h1M110 94h1M110 30h1M133 54h1M130 52h1M120 69h1M117 57h1M122 105h1M99 62h1M154 53h1M72 66h1M138 30h1M118 60h1M124 78h1M149 64h1M85 48h1M101 72h1M112 42h1M134 56h1M146 44h1M81 67h1M123 81h1M114 61h1M95 65h1M126 59h1M140 81h1M112 53h1M132 67h1M83 78h1M191 63h1M167 67h1M114 65h1M140 71h1M104 44h1M141 48h1M145 80h1M181 49h1M163 47h1M152 55h1M167 60h1M151 49h1M146 65h1M134 44h1M93 71h1M92 79h1M124 44h1M99 67h1M105 58h1M168 70h1M185 55h1M112 68h1M117 55h1M144 85h1M63 70h1M164 76h1M149 43h1M103 67h1M149 82h1M141 56h1M119 58h1M127 62h1M114 61h1M99 36h1M148 57h1M140 80h1M123 58h1M85 73h1M164 57h1M140 74h1M168 56h1M189 111h1M127 55h1M125 66h1M80 97h1M105 50h1M141 56h1M102 65h1M123 98h1M65 76h1M121 68h1M136 52h1M139 44h1M110 81h1M178 44h1M136 41h1M166 59h1M124 66h1M136 70h1M84 70h1M143 63h1M101 85h1M139 91h1M162 53h1M109 60h1M122 95h1M192 34h1M144 65h1M181 23h1M117 46h1M155 61h1M129 59h1M125 82h1M139 57h1M96 54h1M102 85h1M108 61h1M163 54h1M139 86h1M131 83h1M141 63h1M108 118h1M187 75h1M128 66h1M78 50h1M125 78h1M137 68h1M141 81h1M173 30h1M115 64h1M176 73h1M154 54h1M167 65h1M177 47h1M137 44h1M114 38h1M120 88h1M145 61h1M166 56h1M147 66h1M152 86h1M91 79h1M82 56h1M153 70h1M110 70h1M128 70h1M101 60h1M128 59h1M138 63h1M141 72h1M153 35h1M123 68h1M148 48h1M161 53h1M128 79h1M150 64h1M113 48h1M163 97h1M140 78h1M141 48h1M107 66h1M162 49h1M60 64h1M146 73h1M118 63h1M180 49h1M174 85h1M154 67h1M115 47h1M150 59h1M146 66h1M126 50h1M91 32h1M130 69h1M129 90h1M92 63h1M146 44h1M123 64h1M176 64h1M119 55h1M127 42h1M127 93h1M163 88h1M83 46h1M131 57h1M122 78h1M96 82h1M95 82h1M117 38h1M160 72h1M172 41h1M155 65h1M125 59h1M165 75h1M113 57h1M127 65h1M134 78h1M166 57h1M116 55h1M101 52h1M156 59h1M122 56h1M129 62h1M161 62h1M132 66h1M85 53h1M83 47h1M102 66h1M119 33h1M157 52h1M134 56h1M116 64h1M134 55h1M106 63h1M126 67h1" stroke="#0c0c0c" stroke-width="4.32" stroke-linecap="square" fill="none"/><path transform="translate(183.70,237.30) scale(.25,-.25)" d="M148 57h1M179 87h1M108 23h1M93 81h1M122 76h1M59 19h1M142 31h1M123 54h1M145 57h1M137 61h1M109 45h1M160 60h1M158 39h1M201 38h1M120 22h1M185 16h1M184 83h1M104 88h1M133 72h1M125 69h1M162 85h1M241 31h1M166 87h1M180 33h1M201 78h1M132 26h1M144 34h1M156 75h1M204 54h1M128 35h1M208 43h1M226 95h1M149 72h1M88 78h1M141 24h1M184 43h1M154 17h1M162 77h1M82 12h1M67 94h1M170 67h1M83 53h1M145 59h1M165 41h1M162 61h1M144 67h1M77 99h1M97 76h1M167 38h1M207 26h1M218 36h1M221 75h1M148 33h1M155 35h1M67 83h1M71 78h1M157 27h1M190 14h1M150 38h1M163 23h1M93 46h1M122 38h1M139 44h1M146 51h1M164 76h1M180 36h1M226 45h1M93 50h1M100 40h1M138 71h1M150 32h1M175 19h1M116 20h1M86 59h1M143 28h1M137 46h1M203 49h1M97 69h1M158 89h1M210 10h1M155 38h1M97 79h1M103 85h1M215 30h1M157 20h1M85 52h1M187 30h1M196 53h1M79 76h1M95 57h1M134 65h1M120 72h1M178 66h1M174 22h1M168 49h1M166 57h1M141 68h1M154 72h1M123 55h1M171 43h1M192 63h1M136 71h1M108 49h1M111 67h1M195 51h1M119 26h1M105 21h1M193 56h1M109 61h1M157 71h1M116 63h1M87 105h1M45 21h1M100 42h1M144 61h1M144 53h1M146 12h1M122 68h1M114 73h1M152 84h1M130 36h1M133 41h1M131 90h1M137 32h1M74 83h1M125 29h1M184 24h1M168 75h1M152 53h1M228 33h1M157 65h1M129 90h1M182 81h1M153 93h1M149 66h1M142 53h1M100 59h1M129 57h1M149 84h1M93 114h1M126 49h1M108 66h1M146 74h1M94 77h1M199 62h1M139 84h1M127 35h1M158 50h1M165 87h1M206 79h1M90 33h1M130 38h1M92 38h1M155 2h1M38 41h1M94 78h1M186 81h1M128 96h1M146 73h1M178 85h1M121 42h1M174 66h1M201 100h1M67 47h1M211 60h1M110 46h1M151 65h1M133 18h1M214 40h1M204 83h1M113 19h1M109 53h1M131 48h1M127 55h1M133 71h1M134 50h1M130 58h1M73 77h1M172 29h1M80 77h1M199 80h1M152 69h1M187 37h1M145 77h1M100 50h1M134 18h1M130 113h1M146 39h1M170 29h1M130 49h1M119 57h1M173 88h1M174 29h1M157 53h1M130 44h1M74 64h1M166 102h1M211 72h1M130 43h1M137 19h1M188 24h1M184 80h1M142 79h1M134 28h1M119 17h1M118 70h1M157 55h1M170 73h1M218 54h1M181 26h1M179 36h1M127 101h1M165 74h1M132 36h1M94 74h1M155 52h1M117 46h1M73 100h1M132 33h1M72 33h1M63 76h1M136 54h1M104 71h1M97 67h1M192 42h1M167 57h1M158 59h1M147 73h1M128 49h1M140 59h1M191 60h1M202 50h1M120 45h1M65 42h1M141 67h1M185 61h1M87 100h1M165 27h1M96 68h1M209 49h1M212 77h1M151 65h1M195 63h1M157 22h1M140 4h1M125 61h1M141 18h1M105 57h1M90 51h1M221 21h1M140 40h1M116 51h1M151 64h1M157 75h1M180 2h1M103 38h1M112 59h1M160 64h1M181 54h1M119 39h1M85 78h1M124 47h1M144 79h1M190 57h1M201 85h1M161 71h1M105 75h1M127 58h1M178 28h1M141 78h1M134 38h1M163 41h1M165 98h1M133 63h1M194 11h1M90 32h1M166 61h1M179 86h1M129 48h1M120 69h1M143 82h1M145 66h1M67 36h1M146 58h1M171 64h1M95 45h1M100 16h1M158 53h1M125 16h1M204 17h1M157 70h1M164 90h1M150 63h1M176 51h1M131 57h1M121 48h1M113 50h1M113 65h1M105 42h1M181 36h1M117 51h1M160 40h1M156 53h1M125 57h1M136 76h1M147 54h1M125 54h1M112 58h1M157 55h1M108 22h1M153 94h1M143 55h1M182 28h1M152 94h1M128 97h1M180 27h1M105 51h1M92 18h1M160 46h1M134 37h1M167 87h1M163 85h1M164 61h1M130 28h1M117 59h1M173 15h1M88 16h1M181 80h1M162 58h1M168 73h1M192 46h1M108 56h1M224 45h1M140 53h1M161 73h1M148 95h1M91 56h1M172 63h1M81 60h1M174 54h1M130 6h1M136 70h1M95 54h1M169 75h1M82 71h1M109 119h1M139 37h1M133 15h1M93 12h1M140 76h1M150 66h1M130 47h1M148 33h1M109 2h1M193 20h1M174 33h1M75 45h1M115 45h1M178 31h1M113 25h1M131 28h1M134 64h1M106 74h1M146 53h1M102 107h1M120 7h1M159 74h1M57 59h1M100 37h1M187 48h1M184 32h1M76 50h1M108 47h1M105 29h1M120 67h1M133 73h1M96 45h1M82 44h1M213 55h1M155 37h1M151 19h1M235 3h1M109 92h1M237 69h1M64 66h1M193 110h1M147 38h1M209 92h1M109 23h1M119 38h1M228 71h1M207 42h1M84 77h1M143 54h1M148 78h1M173 45h1M201 88h1M143 105h1M85 50h1M103 45h1M90 91h1M123 62h1M157 110h1M130 77h1M178 109h1M88 115h1M179 8h1M125 36h1M88 54h1M128 98h1M71 6h1M218 62h1M185 28h1M117 79h1M141 38h1M101 43h1M172 64h1M228 34h1M191 43h1M123 11h1M186 72h1M96 39h1M134 60h1M133 52h1M154 42h1M218 44h1M161 84h1M146 51h1M129 70h1M212 32h1M113 53h1M108 29h1M148 13h1M123 64h1M119 45h1M183 74h1M241 62h1M219 52h1M161 69h1M131 70h1M105 38h1M206 89h1M148 22h1M111 56h1M109 46h1M130 79h1M187 74h1M208 28h1M97 101h1M135 76h1M188 85h1M87 62h1M143 36h1M192 99h1M189 80h1M181 53h1M178 41h1M59 47h1M104 64h1M150 9h1M154 74h1M187 40h1M115 28h1M97 78h1M29 62h1M92 69h1M2 40h1M134 49h1M167 105h1M72 58h1M126 77h1M154 46h1M199 87h1M148 88h1M72 77h1M121 31h1M136 41h1M95 62h1M179 94h1M154 51h1" stroke="#0c0c0c" stroke-width="4.32" stroke-linecap="square" fill="none"/><path transform="translate(183.70,237.30) scale(.25,-.25)" d="M112 247h1M88 184h1M96 211h1M122 176h1M108 234h1M100 177h1M115 205h1M77 186h1M130 209h1M36 189h1M62 235h1M149 198h1M76 199h1M118 213h1M70 173h1M51 202h1M79 172h1M108 177h1M91 180h1M60 188h1M35 147h1M40 212h1M9 235h1M124 242h1M70 154h1M34 194h1M127 234h1M79 237h1M93 223h1M79 197h1M120 228h1M44 204h1M2 238h1M122 202h1M62 142h1M58 243h1M168 215h1M81 197h1M103 179h1M158 250h1M46 224h1M68 234h1M104 217h1M102 170h1M89 152h1M64 169h1M104 221h1M129 182h1M70 166h1M59 206h1M103 186h1M134 239h1M92 154h1M64 251h1M93 166h1M164 190h1M74 182h1M93 187h1M104 196h1M107 229h1M145 172h1M129 189h1M141 190h1M198 219h1M130 231h1M75 204h1M73 206h1M154 185h1M1 198h1M62 195h1M1 180h1M92 195h1M83 193h1M82 209h1M134 206h1M96 188h1M90 158h1M114 201h1M70 195h1M73 204h1M113 235h1M94 218h1M110 220h1M121 158h1M75 189h1M131 194h1M62 289h1M116 208h1M69 187h1M66 201h1M61 256h1M41 166h1M116 198h1M85 202h1M90 222h1M149 187h1M75 197h1M87 225h1M28 207h1M146 215h1M139 237h1M65 231h1M31 235h1M136 200h1M56 212h1M71 221h1M167 228h1M122 204h1M132 167h1M37 213h1M111 202h1M96 147h1M92 231h1M99 218h1M133 192h1M118 205h1M66 220h1M72 225h1M37 157h1M137 193h1M127 189h1M19 209h1M73 232h1M39 205h1M32 216h1M39 174h1M91 174h1M123 213h1M138 174h1M126 170h1M37 197h1M33 174h1M124 230h1M121 187h1M50 223h1M181 172h1M98 245h1M136 176h1M109 233h1M122 164h1M46 180h1M59 142h1M106 197h1M101 193h1M111 170h1M42 205h1M82 215h1M78 200h1M91 209h1M108 196h1M180 241h1M147 230h1M30 203h1M56 255h1M98 223h1M93 222h1M85 178h1M149 236h1M68 267h1M160 217h1M56 188h1M72 247h1M86 196h1M140 237h1M123 213h1M80 227h1M74 229h1M104 229h1M68 177h1M92 213h1M146 212h1M81 162h1M93 171h1M117 182h1M116 248h1M113 226h1M82 218h1M165 236h1M33 241h1M103 204h1M133 211h1M104 189h1M89 165h1M65 229h1M97 233h1M65 199h1M91 210h1M57 188h1M71 176h1M46 223h1M36 165h1M97 235h1M150 232h1M76 255h1M110 208h1M132 173h1M74 225h1M103 197h1M99 166h1M83 221h1M114 176h1M110 190h1M2 200h1M93 252h1M140 224h1M73 220h1M82 209h1M105 170h1M88 244h1M136 236h1M117 166h1M99 212h1M110 159h1M95 236h1M70 195h1M57 181h1M72 201h1M103 231h1M76 179h1M122 202h1M77 211h1M52 201h1M59 207h1M103 270h1M56 220h1M29 188h1M32 209h1M155 234h1M37 202h1M68 206h1M96 222h1M73 242h1M49 205h1M90 210h1M102 192h1M125 216h1M171 186h1M91 208h1M39 162h1M56 169h1M146 229h1M89 178h1M73 280h1M77 213h1M84 207h1M63 222h1M46 218h1M77 230h1M121 173h1M61 237h1M97 224h1M175 208h1M93 217h1M47 200h1M49 225h1M53 213h1M118 183h1M124 151h1M119 243h1M116 191h1M182 214h1M74 238h1M64 169h1M109 238h1M44 193h1M14 168h1M120 217h1M104 209h1M88 175h1M96 213h1M26 261h1M124 193h1M126 232h1M73 227h1M77 241h1M159 210h1M3 210h1M47 188h1M85 206h1M78 145h1M25 222h1M147 259h1M110 180h1M141 186h1M177 175h1M70 213h1M77 213h1M100 195h1M66 136h1M102 208h1M60 197h1M144 175h1M69 160h1M100 159h1M68 175h1M92 224h1M73 155h1M126 194h1M75 176h1M103 221h1M39 219h1M65 200h1M12 254h1M69 174h1M0 201h1M120 232h1M62 193h1M130 195h1M86 231h1M16 199h1M111 202h1M119 212h1M78 263h1M66 215h1M56 195h1M107 192h1M58 187h1M46 170h1M51 200h1M160 193h1M51 200h1M153 160h1M126 172h1M65 159h1M85 198h1M152 189h1M97 187h1M10 189h1M45 222h1M76 157h1M100 202h1M78 213h1M86 178h1M64 198h1M83 146h1M85 190h1M108 248h1M77 199h1M88 198h1M54 174h1" stroke="#0c0c0c" stroke-width="4.32" stroke-linecap="square" fill="none"/><path transform="translate(183.70,237.30) scale(.25,-.25)" d="M72 121h1M92 149h1M98 131h1M80 132h1M72 147h1M99 166h1M100 180h1M52 126h1M86 136h1M86 122h1M104 143h1M98 102h1M84 163h1M69 124h1M120 130h1M60 120h1M64 99h1M107 114h1M100 128h1M101 164h1M96 138h1M72 133h1M76 116h1M82 168h1M71 131h1M87 125h1M82 135h1M77 180h1M97 130h1M75 173h1M84 111h1M74 81h1M74 126h1M88 107h1M81 153h1M96 132h1M83 132h1M113 162h1M55 138h1M80 107h1M95 142h1M68 126h1M97 162h1M60 127h1M112 161h1M49 100h1M105 100h1M82 128h1M92 127h1M87 166h1M79 130h1M90 152h1M90 119h1M102 130h1M98 87h1M64 145h1M77 110h1M116 102h1M74 156h1M105 84h1M78 143h1M108 161h1M74 126h1M60 130h1M72 145h1M62 106h1M68 129h1M38 117h1M89 131h1M90 143h1M86 158h1M74 143h1M108 133h1M65 139h1M68 115h1M66 124h1M85 131h1M43 116h1M84 142h1M100 89h1" stroke="#0c0c0c" stroke-width="4.32" stroke-linecap="square" fill="none"/><path transform="translate(183.70,237.30) scale(.25,-.25)" d="M215 235h1M203 251h1M298 323h1M282 315h1M225 276h1M247 284h1M225 257h1M210 255h1M226 263h1M233 283h1M225 287h1M207 270h1M176 235h1M196 231h1M142 235h1M192 242h1M193 222h1M208 263h1M262 309h1M209 272h1M185 239h1M240 291h1M220 286h1M212 258h1M168 243h1M141 206h1M241 267h1M208 285h1M192 245h1M289 299h1M159 234h1M147 237h1M179 245h1M266 312h1M145 206h1M168 210h1M196 225h1M238 250h1M266 319h1M125 208h1M168 242h1M213 255h1M222 248h1M179 246h1" stroke="#0c0c0c" stroke-width="4.32" stroke-linecap="square" fill="none"/><rect x="183.70" y="154.80" width="91.10" height="82.50" fill="none" stroke="#000" stroke-width="1.3"/><path d="M212.20 154.80V237.30M183.70 212.90H274.80" stroke="#000" stroke-width="1.7" fill="none"/><path d="M183.70 237.30v3.6M183.70 236.20h-3.6M190.56 237.30v2.2M183.70 230.07h-2.2M194.57 237.30v2.2M183.70 226.49h-2.2M197.41 237.30v2.2M183.70 223.95h-2.2M199.62 237.30v2.2M183.70 221.98h-2.2M201.42 237.30v2.2M183.70 220.36h-2.2M202.95 237.30v2.2M183.70 219.00h-2.2M204.27 237.30v2.2M183.70 217.82h-2.2M205.43 237.30v2.2M183.70 216.78h-2.2M206.47 237.30v3.6M183.70 215.85h-3.6M213.33 237.30v2.2M183.70 209.72h-2.2M217.34 237.30v2.2M183.70 206.14h-2.2M220.19 237.30v2.2M183.70 203.60h-2.2M222.39 237.30v2.2M183.70 201.63h-2.2M224.20 237.30v2.2M183.70 200.01h-2.2M225.72 237.30v2.2M183.70 198.65h-2.2M227.04 237.30v2.2M183.70 197.47h-2.2M228.21 237.30v2.2M183.70 196.43h-2.2M229.25 237.30v3.6M183.70 195.50h-3.6M236.11 237.30v2.2M183.70 189.37h-2.2M240.12 237.30v2.2M183.70 185.79h-2.2M242.96 237.30v2.2M183.70 183.25h-2.2M245.17 237.30v2.2M183.70 181.28h-2.2M246.97 237.30v2.2M183.70 179.66h-2.2M248.50 237.30v2.2M183.70 178.30h-2.2M249.82 237.30v2.2M183.70 177.12h-2.2M250.98 237.30v2.2M183.70 176.08h-2.2M252.03 237.30v3.6M183.70 175.15h-3.6M258.88 237.30v2.2M183.70 169.02h-2.2M262.89 237.30v2.2M183.70 165.44h-2.2M265.74 237.30v2.2M183.70 162.90h-2.2M267.94 237.30v2.2M183.70 160.93h-2.2M269.75 237.30v2.2M183.70 159.31h-2.2M271.27 237.30v2.2M183.70 157.95h-2.2M272.59 237.30v2.2M183.70 156.77h-2.2M273.76 237.30v2.2M183.70 155.73h-2.2M274.80 237.30v3.6M183.70 154.80h-3.6" stroke="#000" stroke-width="1.1" fill="none"/><g stroke-width=".7"><text transform="translate(179.30,252.20) scale(0.6,1)" font-size="11.4">10</text><text transform="translate(186.90,248.00) scale(0.78,1)" font-size="9.4">0</text><text transform="translate(176.30,243.40) rotate(-90) scale(0.86,1)" font-size="9">10</text><text transform="translate(172.20,231.80) rotate(-90) scale(0.95,1)" font-size="8.1">0</text><text transform="translate(201.35,252.20) scale(0.6,1)" font-size="11.4">10</text><text transform="translate(208.95,248.00) scale(0.78,1)" font-size="9.4">1</text><text transform="translate(176.30,223.05) rotate(-90) scale(0.86,1)" font-size="9">10</text><text transform="translate(172.20,211.45) rotate(-90) scale(0.95,1)" font-size="8.1">1</text><text transform="translate(223.41,252.20) scale(0.6,1)" font-size="11.4">10</text><text transform="translate(231.01,248.00) scale(0.78,1)" font-size="9.4">2</text><text transform="translate(176.30,202.70) rotate(-90) scale(0.86,1)" font-size="9">10</text><text transform="translate(172.20,191.10) rotate(-90) scale(0.95,1)" font-size="8.1">2</text><text transform="translate(245.47,252.20) scale(0.6,1)" font-size="11.4">10</text><text transform="translate(253.06,248.00) scale(0.78,1)" font-size="9.4">3</text><text transform="translate(176.30,182.35) rotate(-90) scale(0.86,1)" font-size="9">10</text><text transform="translate(172.20,170.75) rotate(-90) scale(0.95,1)" font-size="8.1">3</text><text transform="translate(267.52,252.20) scale(0.6,1)" font-size="11.4">10</text><text transform="translate(275.12,248.00) scale(0.78,1)" font-size="9.4">4</text><text transform="translate(176.30,162.00) rotate(-90) scale(0.86,1)" font-size="9">10</text><text transform="translate(172.20,150.40) rotate(-90) scale(0.95,1)" font-size="8.1">4</text><text x="210.50" y="263.10" font-size="12.2" textLength="35.2" lengthAdjust="spacingAndGlyphs" stroke-width=".6">ANNEXIN</text><text transform="translate(165.80,201.30) rotate(-90)" font-size="9" textLength="8" lengthAdjust="spacingAndGlyphs">PI</text></g><text x="226.00" y="151.20" font-size="11.3" text-anchor="middle" stroke-width=".55">PMA 1h</text><text x="195.50" y="169.20" font-size="12.2" text-anchor="middle" stroke-width=".85">5</text><text x="261.80" y="169.60" font-size="12.2" text-anchor="middle" stroke-width=".85">2</text><text x="262.60" y="228.40" font-size="12.2" text-anchor="middle" stroke-width=".85">10</text>
<path transform="translate(302.70,238.40) scale(.25,-.25)" d="M77 42h1M11 1h1M59 49h1M62 40h1M69 37h1M40 24h1M16 49h1M2 1h1M1 30h1M168 46h1M128 82h1M96 50h1M13 16h1M89 27h1M128 42h1M43 28h1M96 37h1M56 85h1M98 67h1M28 64h1M65 76h1M73 24h1M131 47h1M67 70h1M110 23h1M71 96h1M123 45h1M140 83h1M13 71h1M39 63h1M107 80h1M70 73h1M35 37h1M1 40h1M117 35h1M59 28h1M61 40h1M83 106h1M84 48h1M43 71h1M129 23h1M47 0h1M48 17h1M24 21h1M194 64h1M53 41h1M86 53h1M35 10h1M53 24h1M55 53h1M68 68h1M39 70h1M60 46h1M66 72h1M7 7h1M48 57h1M91 62h1M134 86h1M125 72h1M112 39h1M127 46h1M107 78h1M35 37h1M77 42h1M37 62h1M37 38h1M90 21h1M97 57h1M61 35h1M54 27h1M15 51h1M112 54h1M42 1h1M129 53h1M11 34h1M116 38h1M92 123h1M143 105h1M97 81h1M0 11h1M4 63h1M86 76h1M89 15h1M20 58h1M193 34h1M123 81h1M81 54h1M105 76h1M121 58h1M83 49h1M40 30h1M44 54h1M57 94h1M91 42h1M125 70h1M60 35h1M123 53h1M62 66h1M134 118h1M69 79h1M90 39h1M63 47h1M98 52h1M64 56h1M65 99h1M103 74h1M146 69h1M130 100h1M140 106h1M47 84h1M93 72h1M58 54h1M4 1h1M45 57h1M108 88h1M29 63h1M83 63h1M114 90h1M113 75h1M44 33h1M125 36h1M65 30h1M42 36h1M84 27h1M99 35h1M119 77h1M36 43h1M18 33h1M7 36h1M137 34h1M54 60h1M100 45h1M110 77h1M14 63h1M28 18h1M94 14h1M69 58h1M131 37h1M82 63h1M63 5h1M47 42h1M59 57h1M54 31h1M62 28h1M9 6h1M64 31h1M22 12h1M70 76h1M48 31h1M44 42h1M38 73h1M89 77h1M73 50h1M138 80h1M140 88h1M91 45h1M96 0h1M30 41h1M83 84h1M109 42h1M23 2h1M136 82h1M104 54h1M87 41h1M112 34h1M60 74h1M116 2h1M10 98h1M55 52h1M51 19h1M1 5h1M86 90h1M54 50h1M36 73h1M158 19h1M103 12h1M12 25h1M208 80h1M55 57h1M81 62h1M122 73h1M33 24h1M72 26h1M59 35h1M103 31h1M100 50h1M56 27h1M117 63h1M61 24h1M92 32h1M52 60h1M134 33h1M72 84h1M119 47h1M86 45h1M37 64h1M100 66h1M102 88h1M83 59h1M109 16h1M67 45h1M0 35h1M109 65h1M5 73h1M65 74h1M87 45h1M59 1h1M67 58h1M91 1h1M1 54h1M40 7h1M95 89h1M62 40h1M41 8h1M24 18h1M100 33h1M13 31h1M88 53h1M108 62h1M122 56h1M66 26h1M79 58h1M48 53h1M100 64h1M27 44h1M38 8h1M69 59h1M79 52h1M87 80h1M49 52h1M85 55h1M149 46h1M82 87h1M159 93h1M80 40h1M13 33h1M123 70h1M56 44h1M80 57h1M130 91h1M136 69h1M123 35h1M53 44h1M51 33h1M67 40h1M125 24h1M173 64h1M1 23h1M40 38h1M100 36h1M55 51h1M153 102h1M100 60h1M141 54h1M121 98h1M146 35h1M89 96h1M21 55h1M119 43h1M48 31h1M117 45h1M78 17h1M0 34h1M117 88h1M93 31h1M33 66h1M52 106h1M153 39h1M83 32h1M78 71h1M44 53h1M35 41h1M102 45h1M79 92h1M78 23h1M93 41h1M57 77h1M81 26h1M121 59h1M111 34h1M103 30h1M68 35h1M40 37h1M36 32h1M45 97h1M66 51h1M84 3h1M80 50h1M134 86h1M11 88h1M101 45h1M110 91h1M89 111h1M92 25h1M108 84h1M65 13h1M24 31h1M191 88h1M76 63h1M97 31h1M58 33h1M149 62h1M51 40h1M66 31h1M112 92h1M98 72h1M124 63h1M110 95h1M70 56h1M97 60h1M20 14h1M68 62h1M47 75h1M36 4h1M87 34h1M83 72h1M56 50h1M34 47h1M59 20h1M33 47h1M54 66h1M46 83h1M103 78h1M63 49h1M96 30h1M109 60h1M2 25h1M79 20h1M111 49h1M127 39h1M84 47h1M119 52h1M64 56h1M41 52h1M112 72h1M120 63h1M36 1h1M8 48h1M39 16h1M80 88h1M63 46h1M166 3h1M33 70h1M80 55h1M144 39h1M96 16h1M103 16h1M101 38h1M37 80h1M54 54h1M44 57h1M83 61h1M53 35h1M31 24h1M65 68h1M100 65h1M124 79h1M124 51h1M1 7h1M15 52h1M61 77h1M101 89h1M83 22h1M110 45h1M33 26h1M109 76h1M44 76h1M19 31h1M78 59h1M168 89h1M88 39h1M86 52h1M129 37h1M90 136h1M20 81h1M1 29h1M60 72h1M62 38h1M35 42h1M1 5h1M50 40h1M88 88h1M23 29h1M54 28h1M12 16h1M115 55h1M140 71h1M83 51h1M30 24h1M172 96h1M73 64h1M134 82h1M89 86h1M54 1h1M19 65h1M109 44h1M43 43h1M110 82h1M128 74h1M91 28h1M57 63h1M30 48h1M118 65h1M118 44h1M28 29h1M99 22h1M125 59h1M60 26h1M70 27h1M48 26h1M5 55h1M84 69h1M88 123h1M58 43h1M87 83h1M44 57h1M85 53h1M110 13h1M45 70h1M59 35h1M21 30h1M150 43h1M24 11h1M73 65h1M42 25h1M52 46h1M120 108h1M90 33h1M34 2h1M84 4h1M101 70h1M70 65h1M96 2h1M40 41h1M31 70h1M84 13h1M53 39h1M81 55h1M116 53h1M103 59h1M68 74h1M46 57h1M141 83h1M117 48h1M73 81h1M165 72h1M115 48h1M42 75h1M39 15h1M117 50h1M15 41h1M6 27h1M32 49h1M2 32h1M73 88h1M19 86h1M61 77h1M33 34h1M64 14h1M82 67h1M72 1h1M1 45h1M48 34h1M65 85h1M104 34h1M127 27h1M86 52h1M33 75h1M101 46h1M100 80h1M71 19h1M128 23h1M4 84h1M46 87h1M73 87h1M13 61h1M27 10h1M99 76h1M24 73h1M38 64h1M127 48h1M8 28h1M2 16h1M127 61h1M27 28h1M82 54h1M130 108h1M39 10h1M14 30h1M61 26h1M72 46h1M29 45h1M63 59h1M64 47h1M34 1h1M17 34h1M96 70h1M34 41h1M122 87h1M94 62h1M60 91h1M109 83h1M141 66h1M24 50h1M24 70h1M54 31h1M159 38h1M103 43h1M111 40h1M143 48h1M28 60h1M86 34h1M3 50h1M103 49h1M151 28h1M73 61h1M9 42h1M50 11h1M170 51h1M74 59h1M43 25h1M217 113h1M117 79h1M89 50h1M92 43h1M160 39h1M57 57h1M81 59h1M53 32h1M42 68h1M111 19h1M80 63h1M3 61h1M115 57h1M53 16h1M56 81h1M63 62h1M21 41h1M132 90h1M99 23h1M70 52h1M58 56h1M26 7h1M2 84h1M60 7h1M94 30h1M2 50h1M45 81h1M55 15h1M83 27h1M50 26h1M28 67h1M87 33h1M63 20h1M119 97h1M93 71h1M105 107h1M2 29h1M8 26h1M50 39h1M85 78h1M65 60h1M1 76h1M65 42h1M61 11h1M132 54h1M19 62h1M1 30h1M71 93h1M168 64h1M27 41h1M26 90h1M5 56h1M33 37h1M77 18h1M86 57h1M71 33h1M2 47h1M63 72h1M40 43h1M46 66h1M114 31h1M94 106h1M65 2h1M70 58h1M36 51h1M71 49h1M77 48h1M24 45h1M94 45h1M102 36h1M86 38h1M55 18h1M106 71h1M173 56h1M66 35h1M107 67h1M28 49h1M45 1h1M63 41h1M109 65h1M41 13h1M48 3h1M90 25h1M112 65h1M78 59h1M87 71h1M54 15h1M106 33h1M42 52h1M98 35h1M113 62h1M104 22h1M37 67h1M74 28h1M114 70h1M98 58h1M68 107h1M60 56h1M86 88h1M118 50h1M70 36h1M174 37h1M38 56h1M90 1h1M51 30h1M83 59h1M88 46h1M0 68h1M120 40h1M112 112h1M85 48h1M120 41h1M128 54h1M112 58h1M84 95h1M167 85h1M60 30h1M87 52h1M203 72h1M135 50h1M151 34h1M71 83h1M38 44h1M103 12h1M77 48h1M89 72h1M126 41h1M52 25h1M91 72h1M38 51h1M115 45h1M27 24h1M149 90h1M141 19h1M22 18h1M148 49h1M142 90h1M69 52h1M72 48h1M137 60h1M2 18h1M91 31h1M160 81h1M61 21h1M74 47h1M74 54h1M141 44h1M50 57h1M123 68h1M112 70h1M77 10h1M93 36h1M61 3h1M147 58h1M23 40h1M113 70h1M49 24h1M99 82h1M58 26h1M64 93h1M57 51h1M86 45h1M37 39h1M140 49h1M34 68h1M70 91h1M82 52h1M22 47h1M89 50h1M47 8h1M87 65h1M91 80h1M60 38h1M23 42h1M27 10h1M27 27h1M55 99h1M44 24h1M4 20h1M62 61h1M68 27h1M142 127h1M125 42h1M75 57h1M103 18h1M54 63h1M101 36h1M129 51h1M108 84h1M56 43h1M107 74h1M70 18h1M82 51h1M66 2h1M104 72h1M96 45h1M42 45h1M2 56h1M107 91h1M75 44h1M76 45h1M142 77h1M80 51h1M68 43h1M147 104h1M80 110h1M90 58h1M132 36h1M78 33h1M40 55h1M56 60h1M66 44h1M71 83h1M50 15h1M9 41h1M170 46h1M46 4h1M58 76h1M39 14h1M99 58h1M104 54h1M68 49h1M85 72h1M81 44h1M101 78h1M52 53h1M122 56h1M47 0h1M81 76h1M88 27h1M25 46h1M75 23h1M123 65h1M40 16h1M89 71h1M82 39h1M103 80h1M2 32h1M74 82h1M69 8h1M110 47h1M112 36h1M205 88h1M57 50h1M97 92h1M130 47h1M80 13h1M52 75h1M64 94h1M121 49h1M59 64h1M121 58h1M149 89h1M45 2h1M104 39h1M45 43h1M103 62h1M81 79h1M83 77h1M82 55h1M114 92h1M77 55h1M146 66h1M77 34h1M128 93h1M121 109h1M2 1h1M110 50h1M150 27h1M84 14h1M70 71h1M3 41h1M70 49h1M77 14h1M66 24h1M51 57h1M79 35h1M96 108h1M2 13h1M105 60h1M84 59h1M104 95h1M77 26h1M108 83h1M156 38h1M1 13h1M51 17h1M78 83h1M61 84h1M77 40h1M118 72h1M84 2h1M67 37h1M86 36h1M57 11h1M118 60h1M42 20h1M29 55h1M61 38h1M78 37h1M76 89h1M63 48h1M75 75h1M75 2h1M94 69h1M63 33h1M126 43h1M119 51h1M131 88h1M57 27h1M54 34h1M104 9h1M82 13h1M103 33h1M18 48h1M116 82h1M56 39h1M29 63h1M10 10h1M100 104h1M80 39h1M137 90h1M128 104h1M3 55h1M50 115h1M82 37h1M30 68h1M35 12h1M36 37h1M128 10h1M71 74h1M33 10h1M87 2h1M56 39h1M32 51h1M39 73h1M98 39h1M33 35h1M67 66h1M43 43h1M62 35h1M158 104h1M52 26h1M37 56h1M0 88h1M80 40h1M69 9h1M88 119h1M101 128h1M78 78h1M101 75h1M130 70h1M89 38h1M122 66h1M65 63h1M113 60h1M164 13h1M42 57h1M64 50h1M107 112h1M101 64h1M129 62h1M61 44h1M38 94h1M24 42h1M47 65h1M93 3h1M74 20h1M28 9h1M40 63h1M15 23h1M85 81h1M112 31h1M103 60h1M12 31h1M90 88h1M27 21h1M141 63h1M111 58h1M65 45h1M88 58h1M150 48h1M79 96h1M61 33h1M1 12h1M86 48h1M59 94h1M75 30h1M45 69h1M105 33h1M69 53h1M55 42h1M130 15h1M43 12h1M98 71h1M66 3h1M95 77h1M40 9h1M44 30h1M7 18h1M61 46h1M3 1h1M72 89h1M127 2h1M69 41h1M26 66h1M54 53h1M145 29h1M85 17h1M30 34h1M129 82h1M68 24h1M143 100h1M22 1h1M61 55h1M36 25h1M54 64h1M87 106h1M109 22h1M48 31h1M11 30h1M82 50h1M177 98h1M58 71h1M134 31h1M78 84h1M107 74h1M35 74h1M122 86h1M28 48h1M85 85h1M125 58h1M74 78h1M80 87h1M0 69h1M49 25h1M82 72h1M118 59h1M98 31h1M0 2h1M17 41h1M130 88h1M93 85h1M130 42h1M75 82h1M71 45h1M88 2h1M115 85h1M89 115h1M26 17h1M41 27h1M77 46h1M1 38h1M5 23h1M80 28h1M119 66h1M40 73h1M65 13h1M63 51h1M53 25h1M119 89h1M77 44h1M110 28h1M99 51h1M50 77h1M8 37h1M89 14h1M102 82h1M147 62h1M87 57h1M89 78h1M126 44h1M121 52h1M123 93h1M72 86h1M79 57h1M36 52h1M111 39h1M87 16h1M74 35h1M36 102h1M134 63h1M74 36h1M168 69h1M67 44h1M99 43h1M83 34h1M66 30h1M45 44h1M90 34h1M144 21h1M143 25h1M22 67h1M118 62h1M2 2h1M66 74h1M120 44h1M155 80h1M83 41h1M103 43h1M160 111h1M72 38h1M81 75h1M130 40h1M59 55h1M0 47h1M29 26h1M177 79h1M96 31h1M78 76h1M130 57h1M64 70h1M62 62h1M104 18h1M83 56h1M53 37h1M134 114h1M125 97h1M59 30h1M47 33h1M55 58h1M142 95h1M39 40h1M143 54h1M243 42h1M72 62h1M55 36h1M30 12h1M119 18h1M85 65h1M42 53h1M52 54h1M42 70h1M45 74h1M42 51h1M32 43h1M50 55h1M107 75h1M113 74h1M45 8h1M53 61h1M86 60h1M89 92h1M4 39h1M0 44h1M112 54h1M120 80h1M53 59h1M76 47h1M34 19h1M85 47h1M71 60h1M97 76h1M13 25h1M113 82h1M143 57h1M145 71h1M102 90h1M84 29h1M122 62h1M76 29h1M12 68h1M9 1h1M58 82h1M5 47h1M1 32h1M2 61h1M132 92h1M121 63h1M153 81h1M112 42h1M4 67h1M1 35h1M20 2h1M131 96h1M64 59h1M27 102h1M26 25h1M107 37h1M34 37h1M174 66h1M26 4h1M72 27h1M99 59h1M35 7h1M140 49h1M130 32h1M132 46h1M63 85h1M21 46h1M33 3h1M66 9h1M60 6h1M126 42h1M9 35h1M92 78h1M34 23h1M2 17h1M110 39h1M68 64h1M60 21h1M113 64h1M97 43h1M85 3h1M55 51h1M51 1h1M88 6h1M127 73h1M103 51h1M43 25h1M165 92h1M64 58h1M3 86h1M50 31h1M96 31h1M45 82h1M3 1h1M58 49h1M88 113h1M70 33h1M54 50h1M70 91h1M104 30h1M6 16h1M96 45h1M68 17h1M136 147h1M18 11h1M82 44h1M78 5h1M38 4h1M40 9h1M86 42h1M4 71h1M100 58h1M70 37h1M96 69h1M53 25h1M59 16h1M131 28h1M121 152h1M35 22h1M43 32h1M45 32h1M109 41h1M60 31h1M61 29h1M2 94h1M46 83h1M81 46h1M113 65h1M43 6h1M74 32h1M115 65h1M46 33h1M103 50h1M55 39h1M103 30h1M168 101h1M0 53h1M110 48h1M113 58h1M73 8h1M107 92h1M169 48h1M96 6h1M80 56h1M123 29h1M33 41h1M133 78h1M96 93h1M70 62h1M100 53h1M71 39h1M55 72h1M159 44h1M3 22h1M36 22h1M74 59h1M85 44h1M141 75h1M94 32h1M77 33h1M91 90h1M154 49h1M74 62h1M80 67h1M29 31h1M50 36h1M29 88h1M57 72h1M57 65h1M84 36h1M80 57h1M76 77h1M33 63h1M51 39h1M77 55h1M89 99h1M19 16h1M19 3h1M161 63h1M26 15h1M105 39h1M89 65h1M46 51h1M32 1h1M132 84h1M114 20h1M79 75h1M127 83h1M151 23h1M88 4h1M70 61h1M48 66h1M131 70h1M159 99h1M76 31h1M101 119h1M100 83h1M120 58h1M131 69h1M59 46h1M130 86h1M110 71h1M50 67h1M159 125h1M16 10h1M131 75h1M42 58h1M99 9h1M66 82h1M36 23h1M25 32h1M71 17h1M108 34h1M76 46h1M5 61h1M35 39h1M81 64h1M82 81h1M134 98h1M90 79h1M49 73h1M73 48h1M102 83h1M123 92h1M75 65h1M106 54h1M62 23h1M150 114h1M117 73h1M78 30h1M15 3h1M10 36h1M118 50h1M7 39h1M70 35h1M131 49h1M49 55h1M30 72h1M96 54h1M42 70h1M54 31h1M66 57h1M69 59h1M2 49h1M64 46h1M52 78h1M55 17h1M124 78h1M128 71h1M34 43h1M52 53h1M123 69h1M125 75h1M83 74h1M23 51h1M81 52h1M113 70h1M33 2h1M1 45h1M77 86h1M103 2h1M133 54h1M93 52h1M108 94h1M45 50h1M30 57h1M147 84h1M55 45h1M100 34h1M95 77h1M2 2h1M32 61h1M50 35h1M40 4h1M85 36h1M67 57h1M79 80h1M133 47h1M39 3h1M98 80h1M117 67h1M96 69h1M107 50h1M122 76h1M27 18h1M3 71h1M75 41h1M79 37h1M66 32h1M80 61h1M113 84h1M67 27h1M81 22h1M33 15h1M58 53h1M46 74h1M91 78h1M69 41h1M31 53h1M39 20h1M62 55h1M88 65h1M121 61h1M111 50h1M40 55h1M77 51h1M1 16h1M112 51h1M44 76h1M57 58h1M84 19h1M67 36h1M59 10h1M48 60h1M87 56h1M30 73h1M127 63h1M18 45h1M16 70h1M60 45h1M10 58h1M101 42h1M129 73h1M48 2h1M104 20h1M45 29h1M142 38h1M137 60h1M26 45h1M29 23h1M66 36h1M144 38h1M53 27h1M40 6h1M190 91h1M87 59h1M16 30h1M50 67h1M6 30h1M23 12h1M120 65h1M63 60h1M33 58h1M69 41h1M62 1h1M41 62h1M72 68h1M119 94h1M79 62h1M102 1h1M55 55h1M136 105h1M64 1h1M104 35h1M20 45h1M3 37h1M47 15h1M83 52h1M42 21h1M71 33h1M48 58h1M24 3h1M3 2h1M61 29h1M93 64h1M90 29h1M48 83h1M90 115h1M82 2h1M71 46h1M78 70h1M111 42h1M47 75h1M157 46h1M2 27h1M153 18h1M100 90h1M76 76h1M141 61h1M65 19h1M15 65h1M68 72h1M79 27h1M146 67h1M86 100h1M42 39h1M93 51h1M26 3h1M63 51h1M102 47h1M71 46h1M72 0h1M82 43h1M72 75h1M49 8h1M33 46h1M108 81h1M55 34h1M29 1h1M45 18h1M126 66h1M18 19h1M26 57h1M41 54h1M111 99h1M39 44h1M67 52h1M62 36h1M43 99h1M3 66h1M125 96h1M73 57h1M62 3h1M70 21h1M29 49h1M74 82h1M44 53h1M102 52h1M97 23h1M81 85h1M89 102h1M60 76h1M0 94h1M1 1h1M78 52h1M13 25h1M75 72h1M56 74h1M23 25h1M167 68h1M83 96h1M116 88h1M82 53h1M14 71h1M55 40h1M8 10h1M34 27h1M126 19h1M118 44h1M77 62h1M132 64h1M122 58h1M3 56h1M46 23h1M58 44h1M52 74h1M88 65h1M102 83h1M87 110h1M26 22h1M152 45h1M98 8h1M91 83h1M90 54h1M1 43h1M16 15h1M114 49h1M6 14h1M112 58h1M86 55h1M98 2h1M36 21h1M67 41h1M192 77h1M113 20h1M143 52h1M47 56h1M45 4h1M107 66h1M72 68h1M71 3h1M91 74h1M67 18h1M50 1h1M39 50h1M113 17h1M136 85h1M98 47h1M37 65h1M56 37h1M0 33h1M63 14h1M94 92h1M37 39h1M104 87h1M53 31h1M116 48h1M72 52h1M35 55h1M197 113h1M115 78h1M5 29h1M114 105h1M69 46h1M74 15h1M62 63h1M143 101h1M51 28h1M2 53h1M53 47h1M159 32h1M116 85h1M5 14h1M107 73h1M48 19h1M144 76h1M65 39h1M87 76h1M0 1h1M101 67h1M103 124h1M124 87h1M42 50h1M2 51h1M85 15h1M77 69h1M4 28h1M102 66h1M75 33h1M63 40h1M107 22h1M60 75h1M77 13h1M62 16h1M26 6h1M135 54h1M23 35h1M140 87h1M62 62h1M108 72h1M50 33h1M42 39h1M77 74h1M103 36h1M137 45h1M92 51h1M73 31h1M47 58h1M39 87h1M69 2h1M50 19h1M112 53h1M53 7h1M111 87h1M137 47h1M114 62h1M99 46h1M124 80h1M39 41h1M15 20h1M70 24h1M67 79h1M174 35h1M143 65h1M48 50h1M96 21h1M150 94h1M124 84h1M26 1h1M56 83h1M110 115h1M2 2h1M85 51h1M92 50h1M95 49h1M111 53h1M30 62h1M80 57h1M106 97h1M137 38h1M75 80h1M2 17h1M133 48h1M127 91h1M95 57h1M12 43h1M52 37h1M64 38h1M112 43h1M4 67h1M31 36h1M110 80h1M112 86h1M41 9h1M97 68h1M3 28h1M49 2h1M55 34h1M157 64h1M94 84h1M10 21h1M84 20h1M2 0h1M57 23h1M109 46h1M71 33h1M91 41h1M83 92h1M38 56h1M75 27h1M94 2h1M98 75h1M97 44h1M59 48h1M95 53h1M83 85h1M108 48h1M42 52h1M40 55h1M117 58h1M59 69h1M103 31h1M149 31h1M19 66h1M1 47h1M95 71h1M120 75h1M62 56h1M61 11h1M103 59h1M37 14h1M98 72h1M33 65h1M105 54h1M3 80h1M2 43h1M89 78h1M153 110h1M54 61h1M120 44h1M97 46h1M91 68h1M98 64h1M67 38h1M81 39h1M47 17h1M131 113h1M138 59h1M86 59h1M57 47h1M94 29h1M96 32h1M135 108h1M29 36h1M91 1h1M47 42h1M76 86h1M39 91h1M114 41h1M13 21h1M60 48h1M85 55h1M56 38h1M84 68h1M112 120h1M106 86h1M10 2h1M103 26h1M78 40h1M97 62h1M94 32h1M166 98h1M68 74h1M51 1h1M72 21h1M143 59h1M129 114h1M84 78h1M103 39h1M37 56h1M78 78h1M86 63h1M113 77h1M77 45h1M137 53h1M120 79h1M108 39h1M55 35h1M103 65h1M105 9h1M16 20h1M119 92h1M77 77h1M122 58h1M10 11h1M105 55h1M77 59h1M120 21h1M77 77h1M77 67h1M47 40h1M72 81h1M69 20h1M38 56h1M42 63h1M48 64h1M101 61h1M19 55h1M95 61h1M122 51h1M86 81h1M23 52h1M97 24h1M36 50h1M73 70h1M63 27h1M99 62h1M88 94h1M118 57h1M38 80h1M114 69h1M62 53h1M58 72h1M115 88h1M110 48h1M2 56h1M69 41h1M90 59h1M73 95h1M87 72h1M61 76h1M60 38h1M148 56h1M105 54h1M71 54h1M88 77h1M69 2h1M42 77h1M50 83h1M45 83h1M88 68h1M20 16h1M28 44h1M2 31h1M137 72h1M127 69h1M83 66h1M43 71h1M42 3h1M33 66h1M98 74h1M28 50h1M105 42h1M97 35h1M3 36h1M120 66h1M43 74h1M84 55h1M53 11h1M47 18h1M120 36h1M42 46h1M104 59h1M90 53h1M43 86h1M80 29h1" stroke="#0c0c0c" stroke-width="6.4" stroke-linecap="square" fill="none"/><path transform="translate(302.70,238.40) scale(.25,-.25)" d="M40 50h1M74 7h1M48 1h1M29 70h1M73 22h1M65 19h1M40 30h1M51 47h1M32 73h1M70 12h1M55 18h1M12 2h1M3 53h1M27 40h1M48 77h1M84 48h1M45 42h1M80 39h1M45 15h1M3 48h1M57 23h1M64 12h1M54 4h1M54 54h1M69 58h1M135 35h1M64 28h1M18 19h1M10 1h1M50 16h1M29 21h1M55 40h1M10 0h1M50 11h1M99 26h1M74 35h1M21 7h1M35 56h1M64 43h1M72 19h1M34 49h1M48 32h1M2 14h1M31 1h1M39 55h1M50 49h1M38 73h1M74 9h1M62 35h1M57 12h1M54 29h1M74 39h1M33 3h1M64 80h1M47 39h1M76 27h1M54 10h1M50 39h1M39 42h1M32 14h1M78 20h1M80 18h1M92 45h1M101 3h1M37 11h1M50 60h1M25 36h1M3 32h1M26 6h1M25 33h1M45 20h1M23 59h1M17 63h1M11 37h1M14 56h1M100 44h1M71 31h1M43 58h1M3 33h1M63 46h1M56 10h1M18 52h1M77 37h1M23 37h1M35 32h1M52 8h1M38 9h1M61 15h1M32 45h1M35 71h1M36 37h1M42 1h1M66 26h1M66 2h1M27 65h1M61 19h1M10 26h1M43 31h1M12 82h1M49 68h1M108 53h1M78 61h1M39 24h1M18 6h1M55 33h1M79 19h1M46 46h1M41 54h1M60 45h1M30 43h1M40 62h1M0 26h1M45 31h1M23 2h1M10 10h1M14 10h1M55 22h1M66 2h1M21 3h1M40 42h1M67 22h1M14 42h1M99 1h1M34 66h1M64 34h1M37 59h1M37 35h1M17 29h1M34 45h1M66 39h1M56 57h1M39 27h1M90 41h1M54 21h1M73 13h1M1 17h1M8 26h1M53 51h1M1 31h1M8 49h1M73 46h1M43 35h1M53 35h1M33 33h1M8 31h1M59 27h1M37 9h1M69 23h1M49 2h1M26 14h1M54 21h1M6 63h1M58 45h1M21 29h1M84 1h1M75 36h1M71 12h1M68 12h1M14 63h1M61 25h1M45 51h1M91 26h1M25 65h1M25 41h1M23 35h1M1 50h1M29 12h1M107 21h1M37 71h1M110 2h1M75 39h1M72 12h1M9 43h1M51 1h1M57 40h1M17 6h1M51 6h1M15 32h1M61 20h1M22 58h1M66 67h1M28 53h1M35 45h1M20 5h1M55 42h1M2 19h1M51 41h1M50 38h1M67 50h1M63 43h1M89 53h1M59 15h1M33 53h1M56 44h1M58 30h1M49 25h1M48 34h1M73 13h1M71 7h1M88 14h1M33 34h1M32 16h1M74 2h1M8 73h1M49 38h1M64 31h1M21 35h1M101 31h1M86 28h1M53 24h1M15 66h1M22 43h1M0 30h1M45 29h1M40 39h1M3 49h1M45 34h1M29 25h1M46 49h1M76 33h1M47 42h1M49 27h1M76 1h1M20 61h1M62 2h1M90 26h1M74 1h1M83 41h1M11 20h1M72 52h1M55 24h1M65 48h1M72 15h1M45 69h1M90 51h1M42 22h1M74 22h1M81 13h1M88 65h1M65 37h1M8 19h1M15 41h1M35 12h1M80 53h1M49 18h1M30 60h1M52 35h1M38 42h1M28 62h1M35 18h1M47 30h1M24 39h1M79 55h1M53 25h1M51 33h1M36 27h1M30 8h1M89 27h1M93 84h1M86 3h1M62 12h1M50 76h1M42 17h1M53 25h1M35 20h1M87 48h1M54 23h1M53 7h1M72 21h1M135 69h1M66 1h1M38 43h1M64 50h1M27 36h1M73 33h1M35 8h1M71 3h1M54 35h1M19 40h1M48 5h1M62 49h1M39 47h1M52 75h1M71 33h1M9 53h1M66 19h1M11 26h1M58 55h1M89 37h1M38 52h1M70 34h1M44 41h1M82 82h1M29 45h1M35 15h1M37 36h1M1 42h1M59 13h1M80 40h1M58 36h1" stroke="#0c0c0c" stroke-width="6.4" stroke-linecap="square" fill="none"/><path transform="translate(302.70,238.40) scale(.25,-.25)" d="M87 112h1M52 99h1M57 64h1M87 80h1M0 1h1M109 34h1M99 42h1M132 1h1M127 1h1M129 56h1M29 56h1M132 47h1M73 100h1M70 43h1M82 57h1M106 48h1M106 76h1M174 23h1M85 36h1M66 12h1M74 41h1M83 94h1M15 49h1M62 78h1M99 8h1M2 32h1M3 3h1M130 44h1M117 75h1M0 1h1M57 20h1M104 6h1M94 2h1M114 56h1M95 42h1M189 72h1M82 96h1M0 44h1M170 49h1M133 60h1M123 12h1M76 32h1M137 88h1M106 2h1M123 67h1M79 86h1M99 65h1M121 12h1M79 46h1M137 109h1M1 37h1M65 17h1M21 1h1M38 50h1M111 35h1M70 43h1M92 117h1M161 41h1M60 81h1M160 92h1M60 13h1M175 31h1M74 85h1M104 69h1M9 53h1M62 1h1M118 106h1M138 105h1M66 28h1M2 22h1M151 40h1M83 61h1M62 27h1M6 2h1M0 43h1M60 8h1M55 10h1M200 28h1M68 59h1M111 122h1M103 88h1M158 80h1M89 98h1M100 130h1M75 31h1M58 2h1M89 34h1M178 79h1M160 55h1M11 40h1M109 84h1M1 85h1M143 58h1M3 3h1M18 52h1M117 34h1M51 50h1M33 32h1M95 66h1M46 51h1M33 28h1M101 17h1M134 28h1M14 42h1M172 13h1M11 76h1M72 0h1M74 2h1M14 83h1M124 48h1M36 39h1M1 45h1M70 53h1M94 46h1M127 45h1M75 77h1M152 97h1M176 47h1M8 0h1M195 71h1M113 53h1M55 35h1M79 106h1M61 97h1M21 25h1M10 10h1M140 70h1M145 33h1M79 9h1M11 31h1M3 55h1M143 56h1M29 49h1M40 64h1M77 49h1M78 46h1M48 45h1M109 63h1M2 66h1M50 3h1M65 13h1M77 28h1M75 11h1M83 35h1M108 59h1M28 5h1M96 39h1M70 32h1M22 91h1M180 100h1M106 69h1M2 3h1M95 36h1M118 86h1M107 25h1M83 20h1M84 56h1M118 95h1M20 92h1M47 30h1M95 66h1M141 96h1M30 1h1M1 61h1M54 129h1M72 47h1M21 1h1M25 44h1M86 29h1M76 1h1M4 0h1M47 72h1M1 62h1M90 20h1M80 59h1M151 36h1M79 92h1M125 41h1M11 43h1M39 41h1M59 85h1M19 26h1M155 52h1M16 5h1M84 80h1M103 11h1M95 52h1M117 41h1M96 28h1M79 75h1M57 105h1M93 46h1M101 26h1M52 49h1M103 76h1M11 42h1M119 43h1M48 38h1M33 54h1M135 76h1M87 14h1M50 25h1M3 70h1M75 59h1M72 81h1M23 44h1M104 53h1M123 107h1M69 82h1M56 84h1M184 113h1M36 110h1M163 68h1M62 95h1M102 15h1M1 20h1M97 52h1M143 28h1M59 96h1M187 48h1M2 22h1M16 66h1M81 72h1M78 1h1M139 31h1M110 53h1M13 80h1M111 51h1M120 54h1M67 71h1M38 130h1M110 24h1M3 68h1M3 62h1M187 38h1M3 0h1M69 56h1M26 3h1M72 41h1M54 117h1M35 82h1M65 60h1M123 49h1M23 1h1M34 70h1M50 3h1M115 97h1M64 5h1M24 69h1M152 67h1M27 55h1M231 35h1M80 70h1M48 14h1M83 75h1M165 62h1M65 1h1M62 25h1M175 11h1M2 28h1M47 0h1M30 25h1M111 57h1M123 55h1M83 99h1M72 24h1M87 78h1M145 56h1M99 157h1M68 29h1M118 103h1M126 91h1M170 69h1M94 80h1M86 56h1M121 74h1M127 79h1M49 5h1M102 80h1M49 80h1M58 53h1M167 129h1M145 32h1M93 33h1M66 54h1M165 9h1M109 43h1M69 79h1M114 24h1M72 65h1M4 3h1M31 102h1M44 13h1M130 2h1M129 19h1M40 1h1M21 114h1M52 79h1M91 86h1M141 82h1M129 47h1M121 50h1M86 126h1M78 40h1M148 84h1M131 94h1M151 114h1M206 40h1M36 15h1M47 24h1M2 37h1M18 45h1M51 50h1M2 2h1M112 110h1M50 2h1M67 34h1M2 2h1M74 82h1M130 57h1M63 57h1M103 106h1M115 71h1M2 35h1M45 33h1M3 45h1M3 34h1M137 119h1M24 64h1M99 88h1M109 51h1M18 60h1M31 6h1M163 22h1M29 36h1M95 93h1M104 96h1M58 66h1M14 58h1M116 91h1M75 122h1M150 42h1M188 97h1M203 89h1M45 2h1M110 110h1M57 16h1M104 84h1M79 42h1M2 101h1M1 107h1M89 47h1M81 94h1M61 43h1M33 1h1M94 26h1M84 81h1M50 80h1M115 49h1M72 101h1M176 78h1M138 68h1M58 35h1M149 19h1M108 71h1M129 46h1M114 65h1M107 77h1M46 0h1M21 77h1M49 8h1M25 77h1M160 112h1M207 64h1M76 10h1M44 41h1M6 66h1M198 1h1M30 6h1M102 27h1M98 78h1M1 50h1M147 129h1M119 82h1M129 25h1M73 33h1M71 31h1M53 62h1M44 58h1M124 12h1M62 72h1M51 79h1M105 37h1M37 20h1M123 25h1M115 31h1M3 5h1M1 136h1M3 26h1M47 17h1M118 2h1M72 71h1M119 9h1M135 38h1M126 71h1M21 3h1M6 2h1M89 88h1M56 65h1M61 62h1M105 64h1M107 52h1M66 1h1M48 52h1M0 50h1M151 77h1M2 41h1M106 19h1M84 77h1M28 36h1M108 93h1M156 49h1M33 1h1M48 2h1M102 105h1M21 41h1M68 55h1M158 83h1M88 92h1M133 77h1M105 77h1M101 83h1M114 101h1M60 100h1M76 60h1M85 103h1M87 23h1M103 1h1M91 68h1M134 104h1M101 25h1M75 118h1M65 58h1M41 1h1M121 76h1M177 75h1M54 30h1M201 73h1M44 2h1M56 68h1M63 73h1M90 35h1M71 38h1M64 43h1M0 30h1M47 48h1M27 68h1M182 39h1M169 70h1M129 73h1M117 25h1M70 30h1M66 43h1M36 27h1M10 61h1M144 0h1M75 82h1M22 36h1M32 49h1M85 81h1M87 74h1M72 33h1M98 10h1M56 125h1M192 62h1M164 131h1M107 3h1M49 14h1M33 25h1M1 44h1M80 29h1M27 34h1M146 49h1M139 53h1M106 15h1M108 4h1M32 1h1M126 34h1M34 21h1M175 42h1M34 65h1M47 2h1M137 80h1M3 24h1M94 89h1M70 11h1M86 98h1M60 62h1M110 117h1M144 35h1M8 37h1M138 55h1M85 48h1M86 16h1M75 87h1M30 80h1M7 1h1M64 46h1M45 47h1M83 42h1M129 81h1M118 73h1M98 114h1M153 111h1M38 0h1M39 89h1M65 102h1M115 22h1M106 49h1M92 103h1M43 19h1M65 30h1M124 49h1M90 21h1M98 21h1M42 3h1M0 10h1M42 45h1M19 50h1M3 7h1M101 112h1M3 53h1M3 70h1M131 22h1M80 85h1M95 50h1M129 70h1M1 92h1M3 54h1M109 130h1M59 83h1M105 62h1M59 47h1M139 22h1M160 31h1M95 2h1M108 44h1M14 4h1M112 9h1M197 36h1M115 34h1M82 50h1M61 95h1M107 36h1M163 66h1M9 77h1M3 50h1M200 38h1M92 17h1M110 6h1M4 82h1M64 63h1M7 54h1M160 90h1M58 20h1M21 34h1M67 5h1M26 2h1M83 12h1M105 49h1M36 7h1M43 91h1M123 102h1M45 63h1M63 62h1M103 38h1M36 35h1M59 99h1M18 35h1M4 26h1M11 33h1M185 71h1M46 69h1M186 112h1M36 54h1M68 24h1M96 63h1M80 2h1M77 68h1M1 30h1M2 26h1M135 18h1M52 2h1M152 56h1M64 0h1M74 34h1M80 36h1M119 69h1M76 111h1M79 82h1M81 2h1M80 101h1M64 75h1M85 84h1M9 80h1M134 149h1M2 2h1M45 40h1M51 92h1M84 22h1M104 108h1M100 32h1M226 54h1M83 35h1M40 88h1M145 77h1M86 33h1M0 75h1M97 45h1M3 1h1M130 2h1M126 60h1M81 35h1M122 45h1M3 80h1M30 67h1M133 38h1M95 67h1M1 56h1M101 129h1M6 63h1M31 26h1M216 127h1M81 100h1M98 100h1M0 27h1M33 4h1M138 94h1M37 80h1M115 82h1M82 39h1M128 0h1M51 18h1M62 30h1M91 101h1M66 42h1M2 2h1M135 3h1M46 1h1M74 2h1M3 48h1M9 86h1M79 133h1M2 20h1M149 45h1M67 57h1M99 55h1M57 73h1M164 69h1M77 83h1M205 65h1M36 20h1M38 46h1M67 85h1M162 11h1M121 20h1M73 1h1M61 68h1M131 79h1M9 0h1M141 31h1M116 68h1M82 64h1M98 9h1M149 135h1M78 66h1M1 147h1M84 27h1M141 21h1M147 76h1M124 79h1M177 107h1M76 9h1M0 119h1M77 29h1M171 59h1M121 64h1M122 2h1M107 46h1M155 95h1M71 56h1M113 20h1M83 47h1M94 64h1M81 51h1M93 65h1M59 0h1M31 50h1M58 63h1M161 53h1M85 48h1M118 26h1M108 127h1M10 49h1M89 101h1M173 80h1M96 64h1M45 84h1M5 60h1M40 24h1M51 68h1M115 9h1M2 65h1M138 40h1M137 52h1M33 18h1M137 45h1M1 3h1M137 17h1M100 46h1M78 26h1M121 91h1M61 44h1M80 58h1M109 36h1M3 1h1M92 0h1M116 74h1M147 1h1M49 87h1M146 28h1M1 43h1M34 53h1M143 77h1M51 114h1M166 56h1M99 39h1M83 39h1M197 73h1M30 14h1M53 22h1M89 18h1M120 76h1M97 39h1M30 2h1M71 71h1M67 91h1M106 56h1M131 27h1M174 70h1M154 121h1M39 2h1M48 0h1M90 53h1M78 19h1M137 104h1M115 6h1M62 46h1M78 67h1M62 75h1M99 3h1M127 1h1M194 75h1M40 60h1M47 2h1M89 127h1M1 38h1M43 2h1M26 31h1M77 29h1M66 0h1M101 54h1M64 92h1M123 52h1M103 70h1M54 108h1M154 54h1M29 53h1M70 61h1M85 61h1M49 22h1M79 48h1M68 39h1M74 57h1M112 67h1M101 1h1M42 57h1M122 14h1M78 1h1M91 46h1M145 19h1M156 67h1M140 63h1M58 1h1M164 74h1M62 42h1M153 7h1M118 64h1M93 62h1M46 60h1M130 49h1M138 95h1M133 98h1M111 96h1M122 65h1M118 13h1M1 28h1M52 78h1M130 66h1M204 78h1M161 49h1M35 25h1M110 74h1M117 62h1M98 46h1M21 42h1M2 81h1M26 79h1M101 51h1M47 1h1M3 22h1M120 49h1M108 1h1M83 64h1M38 99h1M32 28h1M2 66h1M37 58h1M11 137h1M52 1h1M45 36h1M5 48h1M49 50h1M53 34h1M9 3h1M192 163h1M58 0h1M18 78h1M3 16h1M100 62h1M102 72h1M115 25h1M111 70h1M71 32h1M59 26h1M91 96h1M9 57h1M154 21h1M139 91h1M178 72h1M36 10h1M66 59h1M144 1h1M60 2h1M80 66h1M52 45h1M140 49h1M51 36h1M140 100h1M86 23h1M6 43h1M69 29h1M104 22h1M46 1h1M15 25h1M172 47h1M70 3h1M42 49h1M110 2h1M102 64h1M109 2h1M183 108h1M135 48h1M113 1h1M92 54h1M56 115h1M76 2h1M86 1h1M83 56h1M124 26h1M113 55h1M186 87h1M91 3h1M70 31h1M1 53h1M49 99h1M83 41h1M1 2h1M83 50h1M98 12h1M83 36h1M131 42h1M33 40h1M176 62h1M48 52h1M133 0h1M214 70h1M61 34h1M107 53h1M46 68h1M2 1h1M58 37h1M149 73h1M62 45h1M116 54h1M52 49h1M26 59h1M29 93h1M18 36h1M135 50h1M125 27h1M131 0h1M160 84h1M76 46h1M50 21h1M3 73h1M2 111h1M66 1h1M160 32h1M29 66h1M93 49h1M167 41h1M125 2h1M24 42h1M4 20h1M17 1h1M99 98h1M120 86h1M103 66h1M126 44h1M38 5h1M106 64h1M32 57h1M53 98h1M80 65h1M142 35h1M62 71h1M99 25h1M22 3h1M51 38h1M72 105h1M97 118h1M3 14h1M117 106h1M16 69h1M49 51h1M64 101h1M39 40h1M8 12h1M94 33h1M199 67h1M69 42h1M1 42h1M94 82h1M137 15h1M82 73h1M82 44h1M124 95h1M106 38h1M69 40h1M164 88h1M52 8h1M100 1h1M78 59h1M37 4h1M103 45h1M30 50h1M27 20h1M150 68h1M128 93h1M50 3h1M76 43h1M37 110h1M94 104h1M67 63h1M79 75h1M37 3h1M101 135h1M102 76h1M17 43h1M154 29h1M56 39h1M36 28h1M1 19h1M32 84h1M248 56h1M81 17h1M70 45h1M38 93h1M74 66h1M2 96h1M2 36h1M128 85h1M2 1h1M9 84h1M89 0h1M144 75h1M24 15h1M71 26h1M64 91h1" stroke="#0c0c0c" stroke-width="4.32" stroke-linecap="square" fill="none"/><path transform="translate(302.70,238.40) scale(.25,-.25)" d="M145 82h1M121 69h1M131 49h1M176 65h1M132 34h1M160 55h1M159 33h1M103 71h1M144 60h1M209 35h1M155 69h1M203 83h1M136 67h1M125 52h1M100 22h1M120 54h1M195 46h1M90 55h1M130 34h1M128 34h1M116 29h1M122 31h1M211 48h1M127 40h1M201 14h1M154 68h1M153 54h1M196 60h1M109 22h1M132 24h1M157 23h1M160 69h1M142 31h1M185 33h1M142 9h1M161 36h1M163 43h1M199 40h1M151 26h1M192 20h1M194 42h1M167 61h1M177 55h1M120 84h1M173 29h1M138 57h1M94 60h1M150 35h1M148 67h1M144 98h1M172 50h1M178 40h1M148 26h1M154 42h1M200 27h1M123 67h1M123 83h1M180 45h1M166 10h1M168 82h1M170 45h1M124 40h1M135 88h1M131 36h1M167 55h1M156 46h1M145 45h1M135 50h1M148 61h1M154 38h1M228 57h1M128 18h1M138 67h1M141 2h1M171 71h1M141 67h1M142 52h1M142 3h1M144 39h1M130 33h1M109 55h1M143 25h1M112 61h1M139 67h1M134 18h1M126 45h1M168 14h1M154 82h1M154 53h1M167 21h1M201 50h1M145 31h1M203 40h1M199 23h1M189 28h1M168 24h1M185 49h1M212 59h1M86 42h1M156 10h1M169 35h1M164 14h1M193 77h1M145 55h1M140 10h1M137 21h1M127 44h1M185 63h1M166 87h1M125 40h1M152 47h1M179 34h1M156 2h1M152 66h1M128 58h1M184 28h1M158 83h1M200 34h1M144 52h1M98 6h1M145 82h1M152 20h1M164 33h1M140 30h1M106 98h1M164 73h1M144 54h1M161 77h1M163 9h1M87 31h1M169 67h1M143 72h1M97 61h1M149 49h1M125 77h1M163 58h1M173 75h1M92 74h1M198 31h1M121 51h1M187 75h1M174 33h1M130 55h1M129 49h1M156 84h1M133 44h1M164 33h1M149 71h1M125 83h1M184 66h1M104 70h1M151 26h1M150 74h1M184 21h1M146 85h1M153 69h1M182 95h1M197 0h1M222 87h1M148 120h1M181 43h1M159 83h1M107 27h1M125 23h1M140 69h1M79 82h1M131 74h1M153 81h1M106 57h1M118 30h1M152 1h1M131 16h1M188 43h1M113 48h1M140 96h1M142 33h1M158 41h1M138 62h1M197 88h1M109 57h1M181 48h1M127 68h1M157 34h1M140 95h1M171 58h1M141 33h1M159 45h1M138 56h1M171 63h1M118 9h1M128 55h1M118 49h1M152 76h1M164 50h1M156 21h1M160 75h1M206 45h1M187 45h1M140 42h1M130 15h1M100 70h1M190 45h1M147 8h1M192 48h1M155 99h1M185 46h1M177 55h1M136 54h1M153 82h1M133 72h1M175 44h1M128 26h1M203 13h1M149 79h1M145 28h1M117 29h1M184 25h1M91 44h1M120 91h1M189 83h1M168 29h1M119 34h1M109 78h1M160 3h1M192 111h1M124 70h1M172 36h1M151 28h1M162 38h1M153 81h1M158 42h1M163 55h1M169 58h1M128 96h1M132 3h1M124 59h1M142 88h1M212 77h1M158 43h1M128 46h1M196 96h1M129 80h1M162 22h1M142 64h1M164 85h1M127 127h1M172 36h1M125 69h1M175 58h1M144 45h1M150 30h1M161 52h1M137 31h1M114 9h1M122 68h1M175 29h1M151 35h1M144 48h1M170 71h1M165 9h1M158 87h1M95 29h1M150 71h1M143 44h1M152 76h1M123 34h1M152 56h1M135 89h1M108 50h1M208 19h1M134 48h1M139 52h1M143 46h1M169 55h1M117 25h1M174 82h1M138 37h1M135 50h1M145 106h1M154 2h1M131 32h1M175 64h1M141 53h1M177 109h1M143 60h1M159 50h1M103 42h1M140 21h1M139 48h1M117 10h1M145 57h1M157 40h1M148 75h1M175 41h1M161 47h1M154 55h1M136 33h1M161 25h1M132 63h1M172 25h1M164 38h1M153 94h1M164 52h1M145 33h1M116 24h1M131 54h1M176 62h1M108 44h1M135 45h1M207 53h1M158 60h1M155 62h1M136 33h1M157 59h1M157 60h1M159 8h1M143 73h1M152 57h1M161 82h1M137 54h1M196 56h1M148 53h1M165 5h1M137 81h1M133 68h1M211 74h1M151 57h1M163 48h1M117 88h1M155 46h1M179 26h1M173 60h1M142 46h1M144 136h1M121 78h1M143 7h1M118 31h1M173 55h1M132 80h1M150 49h1M159 74h1M102 47h1M146 31h1M168 49h1M85 14h1M167 36h1M126 82h1M184 40h1M135 45h1M130 54h1M156 49h1M134 21h1M104 75h1M109 49h1M115 57h1M191 70h1M181 59h1M152 60h1M184 67h1M153 47h1M141 2h1M123 71h1M180 53h1M202 61h1M113 44h1M158 36h1M121 65h1M130 18h1M124 27h1M147 45h1M121 34h1M153 74h1M82 39h1M172 13h1M157 56h1M184 63h1M137 60h1M175 61h1M120 54h1M123 30h1" stroke="#0c0c0c" stroke-width="4.32" stroke-linecap="square" fill="none"/><path transform="translate(302.70,238.40) scale(.25,-.25)" d="M108 181h1M89 227h1M126 231h1M95 161h1M62 218h1M111 166h1M86 199h1M81 199h1M73 172h1M114 151h1M74 131h1M89 251h1M54 209h1M86 201h1M51 199h1M1 215h1M2 197h1M130 215h1M66 157h1M75 177h1M68 184h1M66 151h1M102 145h1M92 187h1M96 186h1M49 141h1M89 206h1M42 191h1M108 155h1M82 197h1M70 213h1M77 173h1M42 244h1M106 223h1M43 202h1M75 185h1M96 239h1M77 220h1M33 225h1M81 218h1M112 208h1M88 184h1M55 178h1M44 208h1M96 211h1M66 187h1M82 208h1M55 202h1M34 159h1M81 162h1M41 162h1M43 173h1M90 208h1M86 185h1M88 200h1M51 177h1M99 231h1M71 164h1M82 131h1M28 212h1M46 210h1M109 183h1M105 200h1M39 204h1M83 150h1M104 205h1M60 235h1M157 228h1M81 165h1M52 206h1M40 247h1M72 192h1M144 172h1M36 204h1M104 176h1M89 220h1M101 199h1M83 210h1M79 231h1M97 142h1M55 183h1M87 246h1M91 200h1M99 165h1M59 254h1M111 168h1M129 185h1M61 204h1M118 240h1M70 223h1M46 161h1M82 207h1M129 208h1M60 182h1M77 150h1M126 181h1M76 192h1M109 209h1M81 189h1M99 209h1M56 162h1M35 204h1M51 196h1M132 194h1M118 190h1M69 195h1M86 203h1M106 184h1M44 141h1M67 248h1M24 184h1M114 125h1M55 234h1M99 202h1M53 221h1M125 165h1M133 129h1M93 172h1M103 235h1M62 169h1M74 199h1M95 211h1M56 244h1M44 208h1M88 129h1M128 192h1M41 237h1M3 190h1M115 236h1M67 228h1M94 174h1M98 187h1M88 178h1M64 156h1M64 174h1M91 158h1M37 187h1M46 210h1M35 214h1M115 201h1M103 147h1M96 217h1M30 154h1M65 180h1M62 169h1M45 167h1M60 123h1M83 215h1M102 186h1M74 161h1M36 215h1M131 247h1M56 180h1M57 172h1M76 241h1M102 168h1M73 218h1M121 173h1M62 233h1M53 154h1M73 151h1M95 234h1M129 158h1M93 231h1M86 196h1M68 180h1M75 207h1M7 165h1M81 182h1M53 213h1M87 211h1M0 180h1M124 207h1M26 175h1M27 188h1M65 224h1M77 217h1M73 176h1M100 195h1M80 205h1M66 239h1M50 191h1M106 172h1M17 188h1M57 198h1M111 190h1M86 197h1M86 204h1M93 211h1M62 112h1M64 215h1M100 203h1M41 169h1M69 189h1M72 155h1M62 198h1M71 226h1M110 186h1M53 232h1M77 204h1M86 205h1M103 207h1M109 192h1M69 154h1M122 177h1M72 174h1M72 234h1M49 156h1M102 212h1M47 199h1M93 184h1M83 154h1M102 213h1M34 171h1M87 183h1M98 236h1M93 188h1M79 181h1M169 192h1M83 162h1M101 157h1M52 195h1M3 163h1M84 228h1M88 181h1M68 197h1M34 167h1M72 188h1M66 145h1M75 207h1M106 215h1M68 217h1M66 177h1M51 188h1M34 195h1M64 148h1M71 193h1M109 188h1M105 190h1M94 187h1M105 226h1M76 200h1M38 191h1M21 192h1M49 220h1M87 180h1M79 182h1M71 223h1M31 217h1M69 174h1M59 247h1M72 185h1M60 202h1M56 136h1M80 176h1M61 166h1M27 158h1M70 211h1M58 189h1M87 179h1M51 256h1M156 204h1M78 247h1M116 200h1M107 156h1M124 213h1M64 195h1M144 186h1M77 200h1M119 200h1M32 173h1M95 200h1M65 178h1M110 173h1M60 202h1M73 165h1M125 116h1M81 194h1M70 177h1M84 146h1M111 160h1M39 241h1M81 216h1M99 214h1M54 212h1M61 176h1M38 184h1M91 197h1M53 221h1M67 115h1M118 238h1M70 199h1M59 140h1M113 172h1M87 202h1M58 227h1M30 198h1M89 215h1M78 236h1M92 197h1M74 174h1M106 207h1M80 177h1M92 164h1M129 180h1M117 243h1M26 231h1M70 213h1M128 225h1M75 208h1M99 148h1M138 173h1M77 234h1M63 207h1M44 207h1M88 224h1M92 171h1M55 211h1M64 182h1M80 195h1M42 157h1M55 174h1M50 193h1M53 234h1M64 194h1M118 218h1M72 211h1M99 180h1M79 171h1M83 206h1M71 165h1M63 165h1M62 177h1M60 200h1M2 239h1M50 189h1M70 180h1M127 225h1M57 191h1M71 185h1M97 200h1M114 201h1M21 173h1M115 219h1M20 221h1M103 244h1M107 202h1M59 183h1M127 177h1M39 171h1M84 163h1M96 205h1M164 197h1M48 237h1M54 205h1M90 198h1M109 212h1M3 165h1M110 195h1M39 234h1M114 153h1M132 192h1M117 222h1M95 192h1M24 165h1M52 210h1M120 180h1M106 209h1M32 197h1M95 181h1M81 242h1M92 193h1M102 155h1M109 185h1M59 177h1M43 223h1M44 187h1M99 169h1M124 193h1M108 182h1" stroke="#0c0c0c" stroke-width="4.32" stroke-linecap="square" fill="none"/><path transform="translate(302.70,238.40) scale(.25,-.25)" d="M134 161h1M77 178h1M112 178h1M145 144h1M108 215h1M148 148h1M123 204h1M102 191h1M139 128h1M115 199h1M88 99h1M146 216h1M94 125h1M127 150h1M67 122h1M95 183h1M133 108h1M165 183h1M143 106h1M155 138h1M132 112h1M128 210h1M143 232h1M117 223h1M104 82h1M111 192h1M115 130h1M138 133h1M146 219h1M130 156h1M190 201h1M129 189h1M100 248h1M65 187h1M121 132h1M135 105h1M126 150h1M127 145h1M132 206h1M125 139h1M131 158h1M126 141h1M161 121h1M131 122h1M123 143h1M144 91h1M195 134h1M54 133h1M94 181h1M120 171h1M139 151h1M143 154h1M117 185h1M87 136h1M70 115h1M95 131h1M167 116h1M92 161h1M119 140h1M111 170h1M134 116h1M161 89h1M97 210h1M118 137h1M58 181h1M97 69h1M155 115h1M92 142h1M117 170h1M136 215h1" stroke="#0c0c0c" stroke-width="4.32" stroke-linecap="square" fill="none"/><path transform="translate(302.70,238.40) scale(.25,-.25)" d="M58 83h1M81 146h1M45 123h1M64 102h1M77 83h1M79 140h1M99 153h1M91 120h1M76 88h1M87 101h1M54 147h1M87 77h1M45 97h1M47 139h1M61 119h1M89 144h1M80 153h1M93 140h1M72 154h1M69 85h1M74 94h1M44 93h1M102 117h1M128 123h1M122 148h1M70 138h1M87 128h1M75 116h1M77 138h1M50 132h1M105 105h1M90 136h1M81 100h1M68 140h1M64 113h1M88 109h1M61 111h1M79 109h1M70 133h1M78 79h1M105 99h1M98 124h1M75 104h1M93 129h1M79 98h1M110 139h1M98 133h1M84 153h1M75 149h1M87 132h1M48 92h1M78 159h1M80 121h1M94 109h1M90 106h1M86 105h1M71 110h1M82 146h1M67 93h1M84 123h1M52 107h1M72 130h1M67 114h1M50 91h1M37 113h1M36 122h1M71 141h1M72 89h1M72 121h1M102 113h1M69 120h1M94 148h1M81 146h1M68 75h1M84 164h1M85 130h1M91 162h1M51 132h1M57 165h1M67 114h1M90 155h1M64 132h1M81 146h1M113 104h1M89 141h1M86 106h1M88 176h1M99 113h1M61 136h1M68 137h1M86 122h1M118 129h1M63 101h1M78 113h1M98 125h1M116 127h1M68 101h1M73 131h1M88 114h1M84 85h1M56 142h1M76 132h1M55 136h1M79 180h1M106 78h1M120 112h1M87 162h1M71 91h1M66 132h1M108 150h1M67 107h1M105 114h1M81 100h1M61 133h1M129 93h1M71 150h1M75 148h1M74 98h1M81 86h1M73 142h1" stroke="#0c0c0c" stroke-width="4.32" stroke-linecap="square" fill="none"/><path transform="translate(302.70,238.40) scale(.25,-.25)" d="M107 197h1M130 290h1M63 181h1M174 234h1M3 101h1M144 193h1M227 241h1M143 195h1M225 220h1M247 297h1M145 264h1M151 266h1M173 267h1M147 274h1M125 221h1M246 259h1M137 269h1M194 256h1M172 175h1M142 270h1M253 319h1M294 314h1M141 258h1M173 231h1" stroke="#0c0c0c" stroke-width="4.32" stroke-linecap="square" fill="none"/><rect x="302.70" y="155.70" width="90.00" height="82.70" fill="none" stroke="#000" stroke-width="1.3"/><path d="M331.30 155.70V238.40M302.70 214.00H392.70" stroke="#000" stroke-width="1.7" fill="none"/><path d="M302.70 238.40v3.6M302.70 237.30h-3.6M309.47 238.40v2.2M302.70 231.16h-2.2M313.44 238.40v2.2M302.70 227.57h-2.2M316.25 238.40v2.2M302.70 225.02h-2.2M318.43 238.40v2.2M302.70 223.04h-2.2M320.21 238.40v2.2M302.70 221.43h-2.2M321.71 238.40v2.2M302.70 220.06h-2.2M323.02 238.40v2.2M302.70 218.88h-2.2M324.17 238.40v2.2M302.70 217.83h-2.2M325.20 238.40v3.6M302.70 216.90h-3.6M331.97 238.40v2.2M302.70 210.76h-2.2M335.94 238.40v2.2M302.70 207.17h-2.2M338.75 238.40v2.2M302.70 204.62h-2.2M340.93 238.40v2.2M302.70 202.64h-2.2M342.71 238.40v2.2M302.70 201.03h-2.2M344.21 238.40v2.2M302.70 199.66h-2.2M345.52 238.40v2.2M302.70 198.48h-2.2M346.67 238.40v2.2M302.70 197.43h-2.2M347.70 238.40v3.6M302.70 196.50h-3.6M354.47 238.40v2.2M302.70 190.36h-2.2M358.44 238.40v2.2M302.70 186.77h-2.2M361.25 238.40v2.2M302.70 184.22h-2.2M363.43 238.40v2.2M302.70 182.24h-2.2M365.21 238.40v2.2M302.70 180.63h-2.2M366.71 238.40v2.2M302.70 179.26h-2.2M368.02 238.40v2.2M302.70 178.08h-2.2M369.17 238.40v2.2M302.70 177.03h-2.2M370.20 238.40v3.6M302.70 176.10h-3.6M376.97 238.40v2.2M302.70 169.96h-2.2M380.94 238.40v2.2M302.70 166.37h-2.2M383.75 238.40v2.2M302.70 163.82h-2.2M385.93 238.40v2.2M302.70 161.84h-2.2M387.71 238.40v2.2M302.70 160.23h-2.2M389.21 238.40v2.2M302.70 158.86h-2.2M390.52 238.40v2.2M302.70 157.68h-2.2M391.67 238.40v2.2M302.70 156.63h-2.2M392.70 238.40v3.6M302.70 155.70h-3.6" stroke="#000" stroke-width="1.1" fill="none"/><g stroke-width=".7"><text transform="translate(298.30,253.30) scale(0.6,1)" font-size="11.4">10</text><text transform="translate(305.90,249.10) scale(0.78,1)" font-size="9.4">0</text><text transform="translate(295.30,244.50) rotate(-90) scale(0.86,1)" font-size="9">10</text><text transform="translate(291.20,232.90) rotate(-90) scale(0.95,1)" font-size="8.1">0</text><text transform="translate(320.08,253.30) scale(0.6,1)" font-size="11.4">10</text><text transform="translate(327.68,249.10) scale(0.78,1)" font-size="9.4">1</text><text transform="translate(295.30,224.10) rotate(-90) scale(0.86,1)" font-size="9">10</text><text transform="translate(291.20,212.50) rotate(-90) scale(0.95,1)" font-size="8.1">1</text><text transform="translate(341.86,253.30) scale(0.6,1)" font-size="11.4">10</text><text transform="translate(349.46,249.10) scale(0.78,1)" font-size="9.4">2</text><text transform="translate(295.30,203.70) rotate(-90) scale(0.86,1)" font-size="9">10</text><text transform="translate(291.20,192.10) rotate(-90) scale(0.95,1)" font-size="8.1">2</text><text transform="translate(363.64,253.30) scale(0.6,1)" font-size="11.4">10</text><text transform="translate(371.24,249.10) scale(0.78,1)" font-size="9.4">3</text><text transform="translate(295.30,183.30) rotate(-90) scale(0.86,1)" font-size="9">10</text><text transform="translate(291.20,171.70) rotate(-90) scale(0.95,1)" font-size="8.1">3</text><text transform="translate(385.42,253.30) scale(0.6,1)" font-size="11.4">10</text><text transform="translate(393.02,249.10) scale(0.78,1)" font-size="9.4">4</text><text transform="translate(295.30,162.90) rotate(-90) scale(0.86,1)" font-size="9">10</text><text transform="translate(291.20,151.30) rotate(-90) scale(0.95,1)" font-size="8.1">4</text><text x="329.50" y="264.20" font-size="12.2" textLength="35.2" lengthAdjust="spacingAndGlyphs" stroke-width=".6">ANNEXIN</text><text transform="translate(284.80,202.20) rotate(-90)" font-size="9" textLength="8" lengthAdjust="spacingAndGlyphs">PI</text></g><text x="346.40" y="152.20" font-size="11.3" text-anchor="middle" stroke-width=".55">PMA 4h</text><text x="314.00" y="169.20" font-size="12.2" text-anchor="middle" stroke-width=".85">7</text><text x="384.30" y="170.20" font-size="12.2" text-anchor="middle" stroke-width=".85">2</text><text x="384.50" y="231.20" font-size="12.2" text-anchor="middle" stroke-width=".85">13</text>
<path transform="translate(423.60,237.50) scale(.25,-.25)" d="M95 165h1M96 163h1M62 167h1M84 144h1M69 188h1M82 176h1M73 143h1M77 148h1M85 179h1M96 144h1M144 247h1M93 226h1M68 109h1M57 192h1M64 151h1M57 176h1M97 191h1M75 88h1M128 192h1M106 185h1M88 134h1M97 128h1M98 100h1M101 197h1M92 195h1M42 231h1M59 144h1M107 194h1M82 114h1M78 183h1M83 180h1M98 171h1M123 189h1M42 177h1M78 194h1M88 164h1M93 209h1M72 168h1M67 189h1M115 216h1M37 121h1M67 160h1M82 81h1M68 158h1M109 176h1M95 159h1M71 181h1M134 205h1M86 204h1M94 136h1M127 215h1M46 239h1M110 176h1M126 212h1M62 150h1M130 212h1M128 142h1M139 210h1M70 150h1M53 171h1M116 155h1M84 176h1M57 170h1M52 154h1M30 189h1M87 125h1M91 166h1M125 192h1M91 174h1M111 129h1M116 182h1M77 176h1M117 230h1M76 160h1M74 184h1M84 169h1M61 166h1M83 202h1M87 179h1M81 101h1M80 125h1M38 142h1M76 200h1M90 167h1M130 168h1M75 223h1M122 156h1M75 165h1M100 153h1M61 175h1M113 156h1M83 127h1M135 193h1M125 183h1M64 148h1M103 158h1M72 129h1M79 164h1M96 190h1M113 155h1M118 208h1M56 162h1M84 150h1M109 187h1M139 154h1M61 207h1M97 183h1M71 211h1M148 209h1M77 179h1M66 174h1M99 176h1M107 142h1M59 176h1M105 181h1M57 194h1M65 162h1M89 171h1M142 118h1M143 104h1M57 174h1M87 168h1M74 144h1M99 173h1M85 169h1M58 129h1M73 165h1M48 170h1M97 166h1M127 184h1M89 121h1M111 167h1M64 137h1M77 168h1M66 176h1M98 111h1M102 109h1M100 174h1M43 135h1M74 177h1M122 166h1M66 82h1M109 186h1M106 131h1M64 172h1M88 179h1M89 197h1M90 164h1M113 205h1M129 195h1M99 204h1M70 151h1M99 210h1M119 154h1M76 189h1M73 124h1M110 186h1M57 149h1M76 123h1M112 193h1M77 166h1M42 113h1M74 164h1M105 153h1M78 180h1M73 167h1M56 142h1M52 158h1M87 182h1M68 128h1M25 212h1M72 171h1M98 156h1M55 182h1M98 163h1M90 167h1M125 152h1M118 240h1M74 197h1M23 151h1M106 166h1M44 158h1M114 185h1M98 215h1M125 147h1M81 177h1M89 148h1M49 183h1M91 160h1M29 215h1M80 192h1M79 177h1M92 165h1M106 172h1M38 164h1M79 167h1M86 165h1M95 133h1M144 164h1M62 201h1M64 152h1M70 224h1M114 186h1M63 161h1M94 184h1M125 184h1M105 158h1M107 146h1M77 123h1M65 151h1M125 168h1M110 229h1M90 145h1M74 166h1M71 102h1M79 117h1M61 124h1M67 188h1M86 149h1M88 151h1M66 167h1M84 159h1M63 188h1M75 163h1M118 177h1M53 168h1M101 178h1M44 186h1M99 155h1M136 183h1M94 161h1M106 159h1M39 125h1M60 143h1M52 138h1M118 178h1M113 198h1M96 199h1M69 158h1M56 181h1M35 84h1M83 219h1M79 174h1M97 191h1M74 168h1M76 160h1M81 136h1M72 188h1M88 167h1M105 154h1M70 175h1M86 243h1M114 172h1M93 227h1M96 203h1M112 179h1M145 171h1M144 151h1M106 178h1M129 177h1M135 230h1M74 173h1M87 182h1M108 156h1M52 163h1M90 189h1M119 175h1M117 177h1M86 142h1M102 144h1M87 159h1M138 206h1M50 189h1M101 191h1M125 195h1M88 205h1M86 204h1M130 242h1M98 141h1M97 213h1M101 155h1M104 168h1M98 168h1M79 203h1M36 175h1M132 200h1M159 220h1M99 149h1M129 174h1M88 169h1M95 126h1M104 188h1M66 114h1M96 201h1M109 189h1M125 169h1M108 207h1M133 126h1M90 125h1M90 173h1M83 161h1M109 180h1M118 156h1M124 220h1M59 178h1M38 171h1M75 150h1M102 183h1M65 158h1M49 143h1M115 131h1M90 152h1M81 169h1M167 123h1M119 186h1M130 195h1M106 195h1M144 189h1M100 142h1M107 213h1M61 186h1M61 171h1M67 149h1M109 205h1M133 142h1M51 142h1M121 184h1M80 113h1M89 186h1M126 185h1M96 154h1M94 167h1M110 157h1M89 193h1M108 173h1M90 170h1M62 238h1M81 154h1M93 169h1M100 174h1M23 161h1M78 187h1M80 197h1M126 230h1M83 167h1M110 174h1M90 167h1M71 129h1M97 173h1M85 195h1M100 171h1M124 143h1M119 185h1M94 185h1M41 246h1M123 135h1M105 175h1M112 152h1M109 187h1M126 169h1M86 138h1M59 164h1M82 173h1M79 149h1M48 168h1M140 170h1M134 206h1M107 159h1M63 173h1M88 169h1M137 170h1M78 144h1M53 192h1M55 163h1M108 154h1M78 125h1M79 178h1M103 165h1M82 167h1M75 176h1M75 192h1M78 233h1M82 129h1M70 145h1M77 149h1M150 174h1M83 208h1M84 200h1M129 188h1M106 178h1M51 128h1M107 176h1M61 177h1M106 162h1M152 166h1M131 134h1M74 127h1M72 166h1M90 153h1M52 94h1M97 171h1M38 164h1M88 194h1M30 133h1M94 153h1M94 151h1M105 212h1M132 206h1M97 175h1M149 183h1M111 181h1M97 188h1M85 149h1M87 124h1M77 158h1M132 133h1M49 151h1M72 190h1M95 195h1M89 222h1M148 217h1M61 184h1M31 135h1M92 153h1M73 192h1M70 143h1M45 163h1M29 192h1M89 144h1M105 195h1M101 181h1M105 135h1M81 159h1M105 182h1M51 174h1M67 176h1M48 174h1M75 160h1M87 152h1M70 198h1M103 120h1M93 177h1M63 183h1M96 167h1M90 143h1M115 96h1M85 179h1M87 183h1M53 107h1M94 126h1M94 204h1M62 167h1M100 190h1M132 157h1M132 214h1M78 171h1M71 192h1M89 107h1M118 173h1M33 182h1M67 153h1M50 116h1M75 179h1M114 147h1M96 186h1M118 156h1M80 178h1M88 143h1M133 140h1M128 141h1M69 129h1M103 178h1M65 180h1M96 206h1M115 217h1M89 218h1M107 187h1M127 157h1M58 110h1M91 154h1M110 153h1M74 199h1M102 120h1M85 170h1M107 150h1M142 224h1M79 181h1M71 162h1M124 162h1M81 166h1M91 116h1M79 168h1M81 178h1M78 154h1M120 187h1M73 144h1M101 216h1M103 167h1M68 224h1M121 207h1M81 146h1M87 146h1M69 184h1M80 183h1M69 179h1M120 145h1M92 181h1M96 140h1M120 197h1M83 184h1M72 143h1M49 191h1M96 213h1M105 198h1M94 150h1M35 124h1M146 241h1M72 153h1M114 159h1M107 149h1M51 241h1M114 215h1M121 113h1M70 185h1M96 198h1M116 187h1M52 141h1M121 155h1M63 181h1M38 164h1M88 168h1M136 190h1M77 223h1M85 190h1M87 190h1M77 184h1M128 174h1M77 190h1M72 170h1M113 189h1M106 185h1M111 216h1M84 177h1M104 127h1M118 167h1M124 157h1M55 156h1M100 176h1M107 160h1M131 214h1M74 134h1M137 201h1M80 240h1M97 150h1M87 166h1M86 145h1M84 189h1M98 217h1M81 122h1M45 147h1M118 172h1M102 155h1M78 195h1M59 186h1M72 163h1M89 154h1M82 184h1M80 190h1M67 168h1M59 157h1M84 172h1M96 152h1M77 135h1M74 190h1M83 138h1M96 199h1M82 173h1M67 126h1M70 175h1M104 201h1M40 162h1M107 167h1M79 180h1M82 142h1M36 142h1M88 167h1M116 121h1M135 248h1M125 180h1M93 155h1M87 211h1M153 136h1M106 190h1M109 145h1M101 151h1M83 183h1M145 188h1M89 136h1M96 132h1M106 178h1M132 134h1M85 168h1M60 149h1M102 173h1M113 145h1M95 195h1M80 158h1M85 195h1M111 108h1M90 191h1M78 167h1M82 154h1M123 181h1M87 160h1M137 170h1M113 121h1M88 163h1M123 129h1M62 154h1M125 217h1M77 182h1M83 185h1M88 204h1M54 135h1M84 116h1M126 223h1M92 184h1M101 123h1M94 162h1M129 91h1M94 178h1M104 197h1M55 224h1M92 172h1M93 177h1M136 188h1M121 175h1M111 184h1M130 173h1M121 167h1M118 215h1M117 145h1M121 177h1M102 178h1M80 165h1M134 228h1M74 153h1M111 193h1M70 112h1M71 157h1M128 175h1M122 196h1M96 178h1M126 154h1M91 208h1M105 123h1M88 177h1M104 171h1M75 221h1M89 145h1M119 181h1M127 216h1M79 159h1M76 170h1M85 118h1M54 219h1M101 170h1M109 185h1M105 166h1M72 185h1M97 155h1M56 198h1M118 113h1M82 202h1M82 206h1M20 143h1M54 175h1M57 159h1M129 232h1M123 169h1M83 155h1M87 190h1M114 205h1M83 175h1M86 177h1M68 180h1M65 232h1M95 151h1M104 130h1M106 186h1M80 149h1M92 134h1M54 192h1M107 180h1M101 197h1M99 169h1M83 135h1M104 143h1M84 235h1M109 185h1M112 144h1M93 165h1M75 193h1M102 204h1M66 124h1M85 193h1M93 186h1M145 174h1M75 211h1M84 193h1M95 208h1M42 186h1M125 175h1M127 150h1M94 118h1M107 135h1M162 167h1M126 212h1M93 191h1M91 193h1M92 156h1M85 180h1M75 156h1M107 168h1M72 164h1M48 156h1M132 160h1M53 148h1M120 158h1M96 183h1M75 181h1M68 146h1M112 216h1M75 182h1M68 185h1M57 171h1M138 175h1M102 192h1M71 165h1M67 142h1M71 151h1M104 130h1M117 185h1M83 147h1M77 181h1M109 223h1M84 154h1M52 146h1M120 179h1M91 198h1M95 203h1M67 164h1M88 201h1M100 101h1M85 174h1M87 111h1M100 242h1M81 172h1M113 180h1M99 166h1M94 173h1M131 181h1M89 144h1M116 175h1M38 109h1M122 220h1M119 199h1M47 147h1M57 130h1M118 185h1M106 168h1M123 189h1M126 196h1M88 150h1M78 159h1M82 174h1M100 151h1M108 188h1M85 142h1M99 164h1M48 168h1M124 146h1M79 187h1M94 138h1M74 136h1M35 162h1M104 229h1M107 187h1M132 171h1M96 166h1M95 119h1M109 198h1M64 143h1M109 192h1M85 199h1M68 201h1M83 111h1M57 162h1M73 234h1M136 188h1M95 202h1M102 155h1M98 156h1M122 184h1M77 157h1M82 196h1M45 127h1M88 130h1M69 169h1M91 171h1M86 193h1M118 203h1M111 178h1M100 191h1M87 196h1M107 204h1M113 189h1M72 134h1M107 155h1M50 180h1M82 173h1M68 167h1M104 207h1M105 166h1M62 113h1M96 180h1M73 156h1M89 149h1M159 185h1M50 192h1M108 192h1M81 140h1M79 208h1M51 163h1M58 162h1M124 176h1M78 204h1M89 105h1M68 169h1M62 197h1M86 194h1M102 78h1M32 132h1M34 178h1M43 186h1M102 160h1M69 139h1M66 199h1M92 146h1M84 192h1M71 88h1M126 150h1M92 125h1M99 176h1M105 167h1M75 151h1M79 135h1M85 176h1M60 195h1M71 161h1M153 210h1M102 182h1M73 204h1M94 136h1M90 229h1M50 93h1M123 169h1M83 128h1M46 103h1M99 205h1M120 150h1M86 208h1M67 157h1M136 191h1M123 187h1M120 168h1M122 187h1M63 196h1M61 230h1M71 163h1M103 160h1M97 144h1M42 192h1M102 137h1M96 167h1M92 136h1M130 193h1M80 150h1M90 127h1M82 183h1M143 211h1M122 172h1M139 149h1M85 140h1M87 169h1M110 242h1M112 175h1M80 126h1M99 241h1M90 202h1M102 171h1M81 141h1M109 214h1M152 176h1M139 164h1M58 152h1M126 159h1M118 228h1M107 161h1M61 205h1M42 140h1M54 156h1M118 161h1M92 185h1M66 130h1M100 113h1M72 163h1M94 144h1M117 184h1M68 152h1M68 133h1M71 173h1M145 203h1M94 186h1M89 196h1M83 183h1M89 172h1M129 175h1M140 204h1M133 210h1M63 150h1M107 173h1M84 178h1M108 187h1M84 195h1M88 172h1M111 150h1M108 161h1M57 162h1M92 198h1M86 243h1M88 160h1M152 131h1M30 149h1M134 184h1M98 125h1M150 133h1M135 171h1M69 150h1M111 211h1M88 197h1M76 155h1M91 207h1M56 159h1M66 157h1M41 193h1M126 158h1M93 161h1M137 184h1M65 138h1M63 186h1M67 171h1M83 173h1M78 144h1M105 206h1M79 193h1M128 201h1M93 133h1M97 213h1M114 151h1M76 137h1M74 202h1M66 109h1M76 133h1M95 184h1M70 222h1M146 169h1M86 162h1M87 168h1M37 164h1M151 165h1M143 234h1M127 196h1M108 208h1M122 148h1M77 160h1M84 135h1M98 126h1M120 131h1M88 139h1M48 164h1M67 200h1M83 174h1M59 160h1M97 141h1M86 140h1M68 164h1M110 130h1M90 168h1M112 211h1M140 168h1M99 236h1M93 171h1M97 147h1M41 145h1M95 119h1M108 242h1M94 173h1M89 144h1M124 179h1M66 168h1M83 134h1M108 198h1M126 210h1M69 154h1M108 179h1M78 187h1M123 228h1M73 176h1M67 143h1M85 166h1M62 149h1M106 144h1M86 138h1M92 186h1M105 133h1M140 200h1M99 170h1M106 125h1M91 149h1M94 170h1M79 158h1M120 204h1M51 192h1M85 188h1M95 164h1M102 205h1M117 130h1M105 150h1M54 158h1M78 143h1M101 164h1M95 126h1M53 148h1M136 157h1M95 175h1M98 200h1M89 161h1M105 163h1M142 221h1M85 159h1M72 190h1M86 152h1M87 255h1M114 137h1M91 184h1M108 243h1M90 209h1M96 206h1M93 156h1M43 184h1M86 194h1M83 181h1M96 207h1M59 194h1M117 190h1M90 173h1M60 154h1M104 138h1M138 169h1M118 201h1M79 195h1M46 195h1M125 183h1M107 170h1M90 167h1M69 136h1M105 167h1M51 158h1M70 141h1M94 179h1M111 164h1M82 184h1M105 146h1M106 202h1M146 205h1M63 115h1M119 162h1M101 167h1M93 149h1M113 188h1M104 164h1M72 226h1M99 169h1M61 158h1M94 186h1M105 140h1M98 224h1M171 204h1M107 142h1M72 222h1M57 212h1M99 188h1M110 216h1M62 136h1M50 157h1M82 159h1M51 196h1M29 186h1M89 174h1M71 181h1M76 112h1M126 155h1M52 196h1M91 164h1M100 212h1M15 157h1M106 200h1M106 205h1M109 164h1M85 186h1M97 146h1M91 161h1M68 172h1M106 174h1M72 147h1M96 156h1M103 237h1M71 113h1M90 203h1M132 143h1M110 174h1M101 176h1M88 223h1M113 164h1M84 162h1M76 184h1M83 173h1M90 171h1M95 174h1M99 140h1M66 116h1M97 146h1M118 165h1M123 126h1M104 169h1M119 164h1M49 163h1M79 181h1M49 205h1M87 163h1M85 137h1M78 139h1M67 189h1M132 176h1M108 142h1M108 208h1M107 160h1M46 192h1M72 159h1M59 200h1M93 145h1M51 172h1M106 133h1M107 171h1M82 150h1M50 144h1M59 211h1M56 188h1M99 86h1M55 167h1M98 150h1M113 217h1M79 132h1M67 150h1M98 154h1M103 173h1M55 154h1M86 174h1M102 178h1M101 195h1M67 116h1M58 212h1M83 160h1M113 187h1M76 202h1M90 171h1M94 114h1M106 154h1M93 111h1M73 215h1M104 125h1M112 182h1M60 167h1M49 165h1M107 179h1M103 193h1M73 207h1M99 160h1M82 196h1M91 165h1M110 126h1M51 110h1M97 163h1M151 185h1M133 189h1M94 220h1M29 134h1M88 148h1M92 149h1M81 188h1M72 147h1M81 199h1M70 131h1M90 161h1M107 118h1M95 137h1M69 199h1M78 161h1M138 133h1M68 153h1M98 162h1M38 205h1M99 164h1M63 183h1M78 140h1M133 173h1M117 188h1M121 195h1M83 132h1M114 130h1M103 130h1M114 147h1M106 186h1M111 141h1M141 148h1M87 193h1M91 131h1M76 149h1M101 132h1M83 152h1M80 174h1M100 166h1M66 153h1M123 166h1M84 170h1M80 148h1M88 118h1M75 186h1M75 184h1M56 139h1M98 188h1M46 186h1M100 133h1M95 141h1M83 159h1M73 141h1M152 141h1M76 208h1M67 119h1M107 187h1M64 151h1M45 119h1M108 222h1M120 170h1M104 122h1M111 216h1M80 169h1M85 176h1M90 173h1M87 203h1M63 187h1M81 164h1M99 146h1M51 206h1M81 152h1M53 157h1M52 135h1M78 99h1M111 161h1M36 118h1M92 172h1M80 177h1M93 157h1M110 190h1M89 121h1M49 160h1M96 116h1M111 182h1M123 200h1M118 137h1M142 148h1M33 154h1M119 111h1M82 235h1M107 159h1M99 144h1M120 196h1M69 130h1M29 159h1M72 165h1M148 190h1M80 186h1M44 169h1M113 146h1M97 136h1M102 174h1M100 167h1M110 192h1M73 205h1M120 174h1M100 190h1M49 201h1M59 191h1M42 205h1M91 197h1M118 151h1M105 160h1M99 187h1M57 182h1M15 195h1M107 183h1M104 154h1M125 172h1M40 188h1M107 179h1M58 103h1M67 183h1M77 180h1M99 164h1M67 136h1M106 171h1M54 187h1M102 181h1M67 176h1M61 149h1M84 172h1M73 141h1M35 183h1M91 153h1M110 171h1M130 195h1M111 192h1M128 190h1M92 168h1M56 167h1M123 159h1M53 192h1M66 197h1M104 152h1M112 123h1M21 164h1M82 172h1M94 175h1M127 211h1M115 199h1M64 152h1M125 232h1M70 162h1M117 141h1M63 177h1M55 143h1M113 172h1M87 165h1M124 183h1M82 201h1M73 189h1M96 97h1M87 131h1M71 219h1M99 163h1M79 176h1M54 208h1M77 164h1M114 186h1M125 189h1M92 176h1M145 248h1M90 107h1M45 132h1M106 210h1M80 164h1M75 170h1M122 173h1M105 155h1M71 210h1M78 203h1M117 137h1M76 183h1M104 140h1M90 188h1M107 172h1M100 184h1M79 143h1M73 149h1M74 122h1M76 178h1M100 232h1M60 241h1M104 198h1M76 178h1M121 190h1M76 154h1M79 164h1M60 191h1M87 176h1M148 168h1M54 171h1M99 175h1M71 128h1M136 184h1M29 113h1M72 142h1M90 110h1M71 197h1M118 143h1M30 180h1M86 157h1M125 148h1M95 196h1M57 203h1M78 186h1M62 178h1M75 155h1M77 155h1M131 136h1M117 224h1M104 150h1M62 174h1M61 150h1M104 151h1M92 195h1M79 148h1M79 176h1M148 166h1M70 133h1M125 162h1M117 169h1M100 159h1M104 198h1M72 167h1M105 165h1M92 132h1M77 177h1M103 195h1M108 204h1M121 170h1M121 187h1M97 185h1M62 109h1M84 192h1M48 86h1M123 154h1M73 187h1M96 190h1M82 205h1M76 128h1M64 155h1M83 151h1M103 222h1M45 145h1M98 158h1M111 78h1M95 154h1M117 160h1M48 216h1M123 174h1M91 187h1M95 183h1M56 219h1M109 193h1M96 164h1M54 158h1M114 159h1M96 132h1M76 172h1M87 145h1M84 158h1M87 205h1M51 159h1M76 212h1M103 137h1M130 158h1M52 194h1M100 222h1M57 163h1M97 195h1M106 226h1M59 155h1M38 144h1M101 199h1M78 203h1M103 206h1M133 154h1M94 188h1M64 169h1M55 177h1M76 151h1M47 140h1M100 170h1M101 161h1M107 188h1M107 218h1M86 141h1M142 195h1M50 166h1M59 191h1M95 153h1M83 174h1M89 171h1M65 155h1M66 136h1M88 135h1M90 158h1M76 192h1M106 141h1M63 136h1M108 202h1M84 159h1M112 180h1M112 167h1M88 144h1M96 184h1M69 176h1M93 152h1M107 164h1M97 200h1M140 161h1M128 139h1M70 155h1M103 212h1M32 147h1M97 196h1M69 135h1M59 186h1M91 236h1M64 196h1M92 154h1M111 154h1M84 207h1M82 147h1M88 151h1M84 155h1M77 184h1M58 153h1M135 178h1M44 172h1M102 226h1M101 130h1M90 151h1M72 202h1M72 183h1M104 224h1M78 144h1M105 193h1M133 153h1M127 196h1M74 177h1M101 95h1M88 129h1M49 133h1M50 100h1M49 103h1M76 76h1M94 178h1M103 134h1M81 171h1M114 228h1M96 171h1M82 136h1M106 199h1M94 217h1M94 147h1M104 159h1M107 161h1M100 222h1M85 203h1M73 169h1M78 195h1M95 137h1M116 197h1M65 199h1M82 217h1M73 168h1M66 141h1M10 192h1M110 155h1M108 174h1M61 159h1M79 181h1M106 184h1M89 194h1M117 189h1M97 179h1M70 183h1M60 160h1M70 140h1M65 134h1M75 193h1M73 138h1M53 217h1M82 110h1M85 160h1M79 211h1M105 129h1M92 182h1M73 122h1M100 183h1M79 162h1M130 181h1M35 189h1M101 205h1M78 144h1M129 191h1M57 173h1M118 172h1M56 164h1M105 179h1M98 157h1M93 224h1M71 162h1M47 143h1M106 149h1M66 152h1M89 220h1M59 165h1M84 161h1M103 140h1M83 217h1M114 149h1M49 189h1M96 131h1M121 149h1M91 184h1M131 136h1M131 196h1M108 197h1M103 146h1M77 157h1M89 166h1M88 166h1M112 145h1M79 132h1M101 181h1M109 192h1M81 126h1M114 201h1M76 155h1M58 141h1M89 221h1M80 148h1M113 196h1M85 212h1M116 198h1M67 171h1M120 180h1M65 144h1M88 140h1M70 162h1M108 169h1M95 180h1M96 219h1M78 187h1M45 164h1M103 117h1M106 151h1M108 212h1M94 159h1M74 166h1M89 139h1M68 184h1M88 166h1M61 144h1M86 97h1M103 169h1M70 150h1M88 232h1M108 199h1M78 157h1M92 153h1M68 226h1M95 165h1M91 113h1M54 183h1M81 156h1M67 145h1M63 206h1M104 141h1M128 148h1M58 173h1M96 186h1M92 217h1M81 171h1M116 147h1M70 172h1M115 163h1M99 179h1M101 142h1M79 154h1M130 183h1M88 206h1M82 180h1M83 137h1M110 171h1M85 159h1M126 215h1M89 102h1M109 199h1M70 162h1M84 140h1M100 125h1M101 177h1M54 158h1M85 182h1M101 159h1M97 154h1M71 166h1M114 201h1M72 128h1M90 133h1M96 170h1M103 172h1M99 186h1M99 244h1M118 178h1M93 169h1M120 221h1M81 208h1M110 172h1M49 181h1M81 178h1M60 155h1M99 185h1M105 203h1M105 185h1M80 178h1M101 154h1M90 149h1M63 165h1M118 167h1M65 175h1M95 187h1M128 192h1M77 160h1M127 181h1M53 133h1M74 141h1M67 185h1M78 147h1M70 194h1" stroke="#0c0c0c" stroke-width="6.4" stroke-linecap="square" fill="none"/><path transform="translate(423.60,237.50) scale(.25,-.25)" d="M79 123h1M7 29h1M85 77h1M60 90h1M82 78h1M14 52h1M103 91h1M47 67h1M11 2h1M64 100h1M63 98h1M58 92h1M48 46h1M23 20h1M93 100h1M20 13h1M49 42h1M38 60h1M79 101h1M34 51h1M28 42h1M14 43h1M78 94h1M29 68h1M46 55h1M66 81h1M12 17h1M39 35h1M5 33h1M51 54h1M67 103h1M73 88h1M45 53h1M73 71h1M99 109h1M40 31h1M79 84h1M39 2h1M56 40h1M17 37h1M22 3h1M30 54h1M26 33h1M37 66h1M21 74h1M49 78h1M47 80h1M52 61h1M49 61h1M34 59h1M22 62h1M51 55h1M77 58h1M73 118h1M49 78h1M74 75h1M64 68h1M35 3h1M73 88h1M38 53h1M54 40h1M63 81h1M67 98h1M35 26h1M94 69h1M22 8h1M61 58h1M72 79h1M81 109h1M52 61h1M51 45h1M10 30h1M56 59h1M40 17h1M49 62h1M88 114h1M59 60h1M52 50h1M51 65h1M32 46h1M44 72h1M71 108h1M55 49h1M70 92h1M25 17h1M60 90h1M45 66h1M55 57h1M33 45h1M16 18h1M36 67h1M12 26h1M75 84h1M57 56h1M72 63h1M66 83h1M84 98h1M10 24h1M51 67h1M59 46h1M46 62h1M22 28h1M65 55h1M61 58h1M50 60h1M2 6h1M70 72h1M38 34h1M86 77h1M35 55h1M41 13h1M59 67h1M71 91h1M69 118h1M38 47h1M88 93h1M71 112h1M81 93h1M39 42h1M65 75h1M66 100h1M71 75h1M54 32h1M12 10h1M51 45h1M27 52h1M35 51h1M64 72h1M64 49h1M56 75h1M51 82h1M46 54h1M69 63h1M61 41h1M44 38h1M52 73h1M3 3h1M65 68h1M11 40h1M36 63h1M62 48h1M34 48h1M43 47h1M69 112h1M39 27h1M16 53h1M69 71h1M31 50h1M33 62h1M45 71h1M26 38h1M31 44h1M74 63h1M37 83h1M39 38h1M44 45h1M61 76h1M62 44h1M41 45h1M52 54h1M32 11h1M55 59h1M50 37h1M81 65h1M55 47h1M53 46h1M20 73h1M59 62h1M67 88h1M80 106h1M50 41h1M42 52h1M38 55h1M55 49h1M74 58h1M75 73h1M65 57h1M68 102h1M46 98h1M54 44h1M77 102h1M44 39h1M42 75h1M39 26h1M67 64h1M30 57h1M34 66h1M47 62h1M44 40h1M14 24h1M62 55h1M40 38h1M98 131h1M51 38h1M104 109h1M41 37h1M46 74h1M36 53h1M31 86h1M40 91h1M40 42h1M62 93h1M20 29h1M52 44h1M44 54h1M28 50h1M77 119h1M21 17h1M67 82h1M64 51h1M73 61h1M76 91h1M90 149h1M46 44h1M67 100h1M86 79h1M34 3h1M51 61h1M40 29h1M59 69h1M82 95h1M65 89h1M39 44h1M66 68h1M89 77h1M6 40h1M37 29h1M28 43h1M2 2h1M53 57h1M63 46h1M42 45h1M0 2h1M64 66h1M70 64h1M25 39h1M73 113h1M39 61h1M18 32h1M64 85h1M54 64h1M67 83h1M2 16h1M39 60h1M67 93h1M38 51h1M76 82h1M47 26h1M26 65h1M36 63h1M54 54h1M54 49h1M48 56h1M76 91h1M69 68h1M58 86h1M6 16h1M52 71h1M55 54h1M52 75h1M31 24h1M76 114h1M41 37h1M55 57h1M59 83h1M12 39h1M86 107h1M2 19h1M36 14h1M50 36h1M48 66h1M47 64h1M46 70h1M58 114h1M90 77h1M3 2h1M27 39h1M61 73h1M55 69h1M78 112h1M44 33h1M65 83h1M36 64h1M67 72h1M60 58h1M11 25h1M27 33h1M80 80h1M46 20h1M34 47h1M102 99h1M62 78h1M24 55h1M98 131h1M2 2h1M58 49h1M76 88h1M60 66h1M33 53h1M68 77h1M71 61h1M45 28h1M49 84h1M61 87h1M40 38h1M32 54h1M58 52h1M12 20h1M39 54h1M50 26h1M44 68h1M39 88h1M38 71h1M60 84h1M63 82h1M45 70h1M61 87h1M39 37h1M50 74h1M35 52h1M37 34h1M79 125h1M52 49h1M63 46h1M69 68h1M37 17h1M55 42h1M75 76h1M74 127h1M73 86h1M44 33h1M30 62h1M55 76h1M50 31h1M32 61h1M46 45h1M64 68h1M61 70h1M34 62h1M49 65h1M36 74h1M83 93h1M23 29h1M59 56h1M47 69h1M13 25h1M56 33h1M22 28h1M31 43h1M61 92h1M64 75h1M28 29h1M65 65h1M2 5h1M27 32h1M51 55h1M64 106h1M61 115h1M7 26h1M52 58h1M32 30h1M69 76h1M52 74h1M15 17h1M36 60h1M66 57h1M22 9h1M76 107h1M3 0h1M52 70h1M100 123h1M47 41h1M40 18h1M84 121h1M28 56h1M38 38h1M83 135h1M58 58h1M73 80h1M75 76h1M63 56h1M74 59h1M58 42h1M82 101h1M62 51h1M35 62h1M38 59h1M32 5h1M68 70h1M3 1h1M51 54h1M3 10h1M57 55h1M32 65h1M68 52h1M55 50h1M58 99h1M36 19h1M47 47h1M51 69h1M68 74h1M40 44h1M47 63h1M55 54h1M39 77h1M35 26h1M52 51h1M72 78h1M37 50h1M67 109h1M73 91h1M58 80h1M69 68h1M28 22h1M52 35h1M31 75h1M57 82h1M60 59h1M32 35h1M50 95h1M25 13h1M52 55h1M84 106h1M32 26h1M35 36h1M35 34h1M49 73h1M47 45h1M43 93h1M22 28h1M83 85h1M108 107h1M38 74h1M21 26h1M57 78h1M23 49h1M79 47h1M63 98h1M64 101h1M81 121h1M76 59h1M48 45h1M70 44h1M44 40h1M31 65h1M37 68h1M58 94h1M70 77h1M55 66h1M19 12h1M51 71h1M45 53h1M9 24h1M62 14h1M61 77h1M25 3h1M40 69h1M53 61h1M54 56h1M33 34h1M57 65h1M22 25h1M36 64h1M66 30h1M54 64h1M66 73h1M37 93h1M31 32h1M33 39h1M45 66h1M21 10h1M83 101h1M43 71h1M67 111h1M31 40h1M59 65h1M22 32h1M52 36h1M48 29h1M31 58h1M35 46h1M54 73h1M59 86h1M49 29h1M19 23h1M59 72h1M37 59h1M23 67h1M73 94h1M50 71h1M5 15h1M36 21h1M28 54h1M46 61h1M44 56h1M72 62h1M110 136h1M79 65h1M72 96h1M69 75h1M31 22h1M32 23h1M57 72h1M74 78h1M34 41h1M82 109h1M23 51h1M22 46h1M88 80h1M57 50h1M53 34h1M36 60h1M56 61h1M42 61h1M64 79h1M72 76h1M27 15h1M26 3h1M63 56h1M85 119h1" stroke="#0c0c0c" stroke-width="6.4" stroke-linecap="square" fill="none"/><path transform="translate(423.60,237.50) scale(.25,-.25)" d="M40 30h1M57 61h1M31 60h1M56 19h1M23 61h1M50 32h1M40 17h1M13 25h1M28 1h1M13 20h1M3 61h1M14 53h1M56 50h1M40 27h1M51 31h1M41 51h1M7 34h1M34 52h1M25 25h1M44 24h1M25 31h1M41 33h1M18 1h1M20 42h1M22 29h1M24 41h1M47 70h1M48 9h1M32 31h1M60 38h1M34 34h1M20 44h1M35 40h1M16 43h1M45 44h1M41 14h1M29 15h1M89 29h1M66 27h1M74 49h1M32 26h1M8 45h1M52 49h1M48 45h1M57 19h1M49 23h1M44 47h1M42 61h1M60 18h1M56 51h1M2 22h1M41 56h1M15 31h1M18 56h1M4 32h1M32 50h1M32 32h1M68 23h1M27 56h1M44 18h1M16 29h1M11 20h1M38 41h1M47 45h1M20 46h1M49 35h1M1 42h1M50 67h1M26 36h1M24 35h1M32 43h1M58 35h1M20 34h1M38 56h1M22 70h1M45 25h1M71 22h1M49 22h1M44 3h1M50 45h1M1 66h1M67 1h1M67 20h1M59 24h1M18 35h1M21 35h1M44 52h1M27 43h1M22 43h1M21 42h1M13 12h1M21 54h1M37 3h1M43 27h1M25 52h1M78 47h1M15 55h1M51 22h1M1 52h1M35 53h1M2 42h1M39 51h1M39 14h1M28 29h1M53 17h1M10 37h1M26 43h1M35 27h1M31 42h1M28 21h1M39 25h1M13 31h1M44 39h1M19 26h1M7 32h1M30 43h1M45 40h1M17 44h1M33 43h1M49 29h1M36 40h1M28 42h1M31 34h1M46 18h1M35 50h1M24 36h1M24 45h1M30 35h1M41 47h1M21 66h1M23 59h1M35 51h1M40 40h1M26 44h1M20 55h1M35 26h1M19 40h1M39 42h1M27 37h1M4 47h1M31 6h1M29 43h1M12 57h1M27 29h1M74 35h1M46 49h1M38 22h1M79 53h1M32 69h1M37 55h1M49 16h1M39 36h1M33 14h1M41 25h1M29 36h1M34 41h1M13 20h1M33 37h1M6 8h1M39 33h1M25 15h1M10 78h1M32 23h1M47 2h1M37 59h1M38 48h1M10 39h1M18 14h1M35 26h1M66 25h1M47 49h1M21 33h1M16 43h1M39 3h1M35 28h1M21 32h1M53 15h1M18 21h1M38 32h1M50 1h1M27 32h1M9 42h1M63 7h1M27 50h1M40 42h1M70 2h1M13 37h1M65 20h1M18 38h1M53 19h1M22 37h1M65 48h1M28 22h1M20 47h1M6 25h1M19 50h1M56 52h1M56 50h1M37 44h1M53 19h1" stroke="#0c0c0c" stroke-width="6.4" stroke-linecap="square" fill="none"/><path transform="translate(423.60,237.50) scale(.25,-.25)" d="M127 178h1M113 155h1M105 143h1M134 171h1M138 163h1M100 145h1M127 142h1M154 174h1M123 153h1M152 174h1M130 160h1M115 135h1M109 150h1M127 152h1M125 126h1M134 155h1M130 167h1M172 191h1M169 170h1M167 189h1M104 134h1M104 132h1M172 194h1M150 182h1M90 134h1M152 153h1M168 170h1M115 148h1M132 147h1M134 129h1M153 183h1M137 173h1M101 154h1M157 186h1M153 188h1M151 164h1M119 158h1M120 178h1M148 189h1M131 147h1M123 147h1M138 141h1M123 149h1M160 170h1M139 157h1M178 208h1M141 179h1M134 145h1M121 165h1M129 133h1M134 156h1M127 167h1M127 150h1M153 167h1M151 192h1M135 171h1M115 123h1M127 174h1M135 168h1M165 174h1M141 178h1M163 166h1M103 110h1M132 163h1M127 185h1M170 172h1M137 160h1M98 150h1M127 169h1M119 136h1M139 152h1M135 171h1M148 156h1M116 143h1M160 167h1M137 161h1M153 153h1M171 159h1M117 170h1M159 193h1M185 220h1M148 160h1M161 171h1M151 176h1M166 207h1M132 148h1M146 184h1M117 139h1M131 148h1M142 161h1M124 165h1M191 213h1M138 167h1M134 154h1M115 130h1M157 170h1M181 193h1M167 155h1M150 148h1M95 141h1M106 166h1M151 190h1M144 189h1M183 194h1M140 140h1M141 153h1M109 143h1M150 192h1M166 186h1M88 143h1M161 191h1M149 162h1M123 172h1M122 142h1M139 168h1M78 135h1M125 151h1M124 149h1M110 176h1M132 197h1M120 144h1M104 131h1M185 190h1M159 204h1M144 170h1M143 171h1M159 192h1M136 172h1M142 202h1M124 165h1M134 149h1M180 185h1M132 153h1M153 166h1M112 144h1M159 179h1M140 157h1M146 141h1M173 188h1M144 179h1M182 161h1M154 205h1M130 157h1M162 207h1M135 160h1M163 180h1M103 146h1M116 159h1M111 157h1M195 223h1M161 172h1M168 188h1M153 165h1M179 170h1M157 134h1M134 168h1M133 178h1M111 159h1M114 154h1M163 190h1M152 162h1M149 150h1M160 198h1M161 193h1M148 182h1M133 159h1M143 150h1M131 154h1M150 193h1M156 168h1M145 155h1M187 213h1M138 193h1M106 109h1M153 150h1M94 150h1M128 166h1M150 179h1M105 148h1M152 156h1M155 169h1M137 178h1M122 138h1M102 140h1M120 167h1M105 152h1M89 126h1M106 145h1M146 159h1M102 159h1M109 156h1M112 162h1M168 190h1M129 148h1M117 124h1M151 175h1M101 145h1M141 152h1M118 147h1M130 162h1M133 189h1M131 145h1M116 179h1M107 167h1M161 157h1M142 175h1M111 140h1M114 159h1M178 202h1M117 156h1M140 164h1M122 173h1M95 119h1M117 138h1M161 172h1M132 175h1M114 147h1M118 154h1M140 155h1M92 120h1M145 174h1M104 149h1M154 186h1M125 173h1M128 114h1M124 152h1M146 153h1M144 210h1M147 158h1M115 160h1M179 184h1M160 168h1M108 145h1M146 189h1M143 147h1M128 155h1M173 152h1M140 166h1M135 135h1M185 155h1M126 177h1M142 172h1M148 153h1M122 158h1M77 123h1M135 172h1M130 171h1M136 174h1M101 105h1M162 179h1M153 159h1M149 173h1M155 189h1M121 147h1M140 174h1M178 204h1M108 152h1M85 126h1M136 158h1M136 159h1M137 158h1M149 155h1M143 139h1M177 151h1M156 176h1M147 175h1M160 197h1M133 146h1M152 138h1M135 164h1M129 155h1M127 152h1M134 142h1M136 162h1M124 162h1M140 183h1M110 130h1M150 159h1M169 190h1M169 191h1M178 203h1M124 152h1M148 163h1M108 136h1M107 145h1M165 175h1M100 96h1M69 137h1M120 157h1M161 157h1M94 144h1M110 134h1M117 163h1M148 185h1M157 155h1M109 150h1M163 155h1M101 150h1M137 132h1M133 136h1M78 109h1M91 123h1M184 163h1M112 151h1M115 146h1M93 144h1M169 214h1M107 127h1M143 140h1M180 194h1M115 175h1M174 173h1M115 139h1M117 154h1M135 170h1M136 164h1M126 141h1M161 177h1M165 198h1M126 134h1M96 148h1M169 203h1M151 183h1M147 152h1M106 143h1M128 160h1M157 178h1M148 169h1M161 194h1M129 157h1" stroke="#0c0c0c" stroke-width="4.32" stroke-linecap="square" fill="none"/><path transform="translate(423.60,237.50) scale(.25,-.25)" d="M78 182h1M94 147h1M133 201h1M101 140h1M64 99h1M108 105h1M104 113h1M110 148h1M93 114h1M113 132h1M82 116h1M84 112h1M10 75h1M33 82h1M1 58h1M71 147h1M80 99h1M25 156h1M65 84h1M23 137h1M51 94h1M12 43h1M111 112h1M65 86h1M122 67h1M75 188h1M65 106h1M63 111h1M128 113h1M108 102h1M114 127h1M73 162h1M80 146h1M61 128h1M76 91h1M105 170h1M121 211h1M67 96h1M166 278h1M86 66h1M92 90h1M153 198h1M163 141h1M107 144h1M78 112h1M21 32h1M139 239h1M102 134h1M32 25h1M159 176h1M48 79h1M65 44h1M58 145h1M105 98h1M69 189h1M2 20h1M73 69h1M62 144h1M103 92h1M95 71h1M109 114h1M126 140h1M86 81h1M111 129h1M25 93h1M118 104h1M115 168h1M138 169h1M158 204h1M68 82h1M101 150h1M100 114h1M83 187h1M92 120h1M87 1h1M90 113h1M119 157h1M158 243h1M83 130h1M165 165h1M34 138h1M65 154h1M96 137h1M164 256h1M4 61h1M8 41h1M62 209h1M136 167h1M35 100h1M23 107h1M98 109h1M40 8h1M87 111h1M145 284h1M64 57h1M16 114h1M79 91h1M109 221h1M45 11h1M65 184h1M104 148h1M116 166h1M114 71h1M114 90h1M115 202h1M20 76h1M135 136h1M73 78h1M97 110h1M141 250h1M51 95h1M49 48h1M92 163h1M91 71h1M71 108h1M89 112h1M29 58h1M82 80h1M127 110h1M149 130h1M21 71h1M107 143h1M120 175h1M87 128h1M123 168h1M158 192h1M159 184h1M101 135h1M112 153h1M89 61h1M80 143h1M119 228h1M1 92h1M153 169h1M154 191h1M193 191h1M107 135h1M85 127h1M124 221h1M36 94h1M113 137h1M17 33h1M87 165h1M100 181h1M55 92h1M116 179h1M19 60h1M129 172h1M77 179h1M67 134h1M30 120h1M123 203h1M85 161h1M95 165h1M51 56h1M153 209h1M40 71h1M42 45h1M104 127h1M91 133h1M77 62h1M116 130h1M89 87h1M86 55h1M12 64h1M24 2h1M66 111h1M75 99h1M108 133h1M162 190h1M117 171h1M158 216h1M125 170h1M123 129h1M43 59h1M96 193h1M136 123h1M148 138h1M116 158h1M108 199h1M108 123h1M117 145h1M104 158h1M64 64h1M88 91h1M127 100h1M147 170h1M31 74h1M136 223h1M140 181h1M86 127h1M91 109h1M116 95h1M47 110h1M91 69h1M86 161h1M172 224h1M143 145h1M93 126h1M85 89h1M138 226h1M73 117h1M142 121h1M113 102h1M85 91h1M100 139h1M3 12h1M103 129h1M76 79h1M113 199h1M105 110h1M131 121h1M106 119h1M3 93h1M113 105h1M72 147h1M112 175h1M24 40h1M198 204h1M139 134h1M105 208h1M34 62h1M81 235h1M102 179h1M90 73h1M78 110h1M158 270h1M41 73h1M42 77h1M36 108h1M105 147h1M77 40h1M51 54h1M103 100h1M99 120h1M84 117h1M96 74h1M107 145h1M68 101h1M103 214h1M50 83h1M134 163h1M52 144h1M128 131h1M2 17h1M66 67h1M85 104h1M70 122h1M102 154h1M104 138h1M10 17h1M99 119h1M109 169h1M63 149h1M70 70h1M69 95h1M97 109h1M99 88h1M137 153h1M126 120h1M100 154h1M82 108h1M43 77h1M143 166h1M161 213h1M79 86h1M90 122h1M28 74h1M64 123h1M105 170h1M170 198h1M128 123h1M60 91h1M28 89h1M118 141h1M178 159h1M88 127h1M53 70h1M68 168h1M32 96h1M68 95h1M126 132h1M90 115h1M29 110h1M26 119h1M92 162h1M127 107h1M46 168h1M100 177h1M51 138h1M90 147h1M70 68h1M101 89h1M109 212h1M133 187h1M63 25h1M108 145h1M38 140h1M77 139h1M152 176h1M47 103h1M69 195h1M146 158h1M109 103h1M45 50h1M118 129h1M34 80h1M109 185h1M74 115h1M164 209h1M87 168h1M109 119h1M19 28h1M130 155h1M126 199h1M165 165h1M104 132h1M0 18h1M60 150h1M61 122h1M65 140h1M109 120h1M26 147h1M112 194h1M120 151h1M112 127h1M11 87h1M105 158h1M103 96h1M76 108h1M142 143h1M91 121h1M86 138h1M48 129h1M81 141h1M56 53h1M94 107h1M126 186h1M83 193h1M10 107h1M27 14h1M75 85h1M126 149h1M95 137h1M86 100h1M70 126h1M138 114h1M86 131h1M57 144h1M90 101h1M115 72h1M63 136h1M99 115h1M30 81h1M42 42h1M137 135h1M96 179h1M89 136h1M91 139h1M32 92h1M90 132h1M62 132h1M112 85h1M109 194h1M98 157h1M74 112h1M73 111h1M116 109h1M71 120h1M1 40h1M64 165h1M100 209h1M67 165h1M105 154h1M150 112h1M45 121h1M6 10h1M56 156h1M105 169h1M80 165h1M102 142h1M129 177h1M69 75h1M123 146h1M39 130h1M76 78h1M128 141h1M37 158h1M167 195h1M100 110h1M106 115h1M76 36h1M95 113h1M56 99h1M61 95h1M123 224h1M134 219h1M131 250h1M56 95h1M133 188h1M124 197h1M70 147h1M146 199h1M85 102h1M65 155h1M121 177h1M70 80h1M92 158h1M102 71h1M110 190h1M142 219h1M39 89h1M100 215h1M32 97h1M82 111h1M72 110h1M99 184h1M85 85h1M68 144h1M131 193h1M205 206h1M69 144h1M159 204h1M97 156h1M40 47h1M37 145h1M67 161h1M68 98h1M118 192h1M64 119h1M126 188h1M138 149h1M149 181h1M102 194h1M165 160h1M99 220h1M80 137h1M15 93h1M89 159h1M100 116h1M117 133h1M78 199h1M56 118h1M66 104h1M117 208h1M135 185h1M49 100h1M87 116h1M130 164h1M1 73h1M123 187h1M110 154h1M89 45h1M113 184h1M168 198h1M92 205h1M96 38h1M44 81h1M40 81h1M22 41h1M161 237h1M73 157h1M91 145h1M86 100h1M58 95h1M48 126h1M73 130h1M165 257h1M21 88h1M118 194h1M118 129h1M80 146h1M74 159h1M71 42h1M63 115h1M110 112h1M141 79h1M171 174h1M87 102h1M143 175h1" stroke="#0c0c0c" stroke-width="4.32" stroke-linecap="square" fill="none"/><path transform="translate(423.60,237.50) scale(.25,-.25)" d="M142 214h1M213 257h1M169 218h1M139 226h1M156 203h1M166 237h1M134 193h1M142 199h1M253 278h1M166 205h1M132 205h1M206 237h1M181 241h1M191 210h1M145 188h1M155 200h1M147 213h1M147 213h1M170 235h1M121 197h1M239 263h1M80 147h1M169 215h1M168 225h1M144 222h1M207 281h1M188 266h1M204 260h1M174 228h1M179 256h1M142 215h1M121 209h1M276 325h1M155 223h1M181 229h1M168 214h1M201 227h1M206 257h1M273 300h1M172 223h1M229 294h1M203 256h1M203 259h1M159 220h1M92 172h1M219 288h1M171 236h1M148 215h1M212 273h1M104 186h1M154 203h1M93 174h1M199 225h1M126 177h1M222 256h1M146 198h1M229 247h1M213 269h1M216 271h1M220 258h1M211 262h1M192 252h1M112 197h1M166 243h1M191 245h1M237 258h1M116 207h1M144 195h1M195 273h1M183 245h1M126 228h1M126 193h1M186 265h1M196 243h1M115 193h1M176 255h1M140 217h1M170 221h1M174 244h1M101 171h1M168 212h1M214 266h1M217 251h1M205 233h1M170 276h1M201 270h1M155 222h1M142 190h1M229 288h1M151 208h1M124 175h1M117 184h1M190 247h1M140 240h1M213 264h1M226 252h1M197 272h1M99 191h1M199 231h1M132 191h1M215 284h1M149 202h1M183 240h1M190 200h1M255 299h1M182 216h1M191 221h1M203 245h1M141 199h1M144 200h1M190 241h1M255 317h1M264 328h1M185 225h1M188 240h1M124 181h1M202 271h1M199 266h1M142 212h1M210 247h1M187 255h1M68 154h1M174 251h1M195 270h1M187 233h1M206 260h1M254 268h1M148 183h1M191 246h1M182 256h1M121 182h1M106 162h1M143 188h1M168 202h1M156 244h1M160 256h1M193 274h1M115 230h1M173 227h1M148 224h1M260 303h1M197 231h1M170 225h1M200 260h1M178 235h1M166 226h1M167 222h1M162 219h1M113 202h1M236 251h1M218 266h1M124 192h1M186 247h1M199 227h1M215 268h1M123 178h1M171 240h1M155 211h1M208 259h1M183 222h1M145 221h1M186 228h1M186 225h1M144 221h1M178 225h1M160 216h1M162 189h1M139 221h1M169 240h1M204 289h1M216 242h1M154 213h1M206 239h1M173 235h1M189 230h1M98 184h1M176 231h1M213 271h1M165 205h1M200 252h1M173 237h1M190 236h1M211 265h1M195 237h1M81 163h1M190 265h1M199 269h1M137 185h1M167 239h1M187 237h1M182 205h1M141 212h1M157 228h1M142 176h1M235 293h1M226 258h1M115 201h1M183 248h1M189 236h1M182 272h1M157 201h1M144 221h1M172 225h1M162 227h1M199 240h1M173 252h1M216 271h1M178 232h1M223 273h1M160 227h1M209 265h1M219 243h1M174 236h1M159 218h1M168 268h1M148 204h1M130 199h1M162 225h1M174 245h1M110 173h1M192 265h1M216 247h1M236 262h1M110 178h1M103 177h1M163 244h1M212 246h1M164 203h1M201 234h1M171 213h1M119 187h1M193 263h1M191 250h1M77 161h1M215 256h1M94 156h1M111 213h1M228 274h1M123 229h1M125 186h1M204 233h1M211 285h1M175 213h1M176 234h1M238 276h1M201 231h1M167 226h1M198 264h1M156 221h1M223 273h1M168 218h1M177 248h1M159 211h1M192 251h1M182 238h1M185 260h1M132 195h1M158 204h1M159 228h1M161 229h1M175 227h1M154 239h1M132 190h1M144 186h1M296 304h1M191 238h1M191 256h1M176 262h1M206 251h1M168 227h1M144 207h1M213 267h1M188 235h1M200 297h1M68 166h1M285 315h1M213 273h1M138 193h1M88 168h1M222 260h1M155 219h1M199 245h1M97 197h1M156 209h1M103 211h1M142 231h1M145 198h1M164 205h1M221 229h1M203 289h1M150 225h1M155 220h1M189 250h1M199 255h1M201 249h1M171 231h1M104 202h1M183 242h1M68 170h1M147 186h1M214 247h1M183 242h1M221 227h1M177 241h1M187 245h1M175 199h1M165 166h1M226 263h1M182 237h1M173 222h1M106 197h1M157 206h1M162 209h1M200 236h1M134 193h1M210 250h1M252 289h1M199 260h1M162 196h1M145 207h1M252 259h1M229 261h1M196 221h1M126 186h1M235 293h1M249 260h1M145 221h1M134 193h1M72 164h1M203 253h1M190 219h1M158 177h1M203 242h1M133 208h1M199 246h1M237 277h1M177 259h1M167 252h1M220 260h1M209 260h1M178 232h1M201 255h1M162 218h1M209 222h1M158 204h1M193 235h1M239 261h1M198 243h1M181 259h1M161 178h1M176 204h1M177 244h1M129 194h1M128 207h1M200 249h1M211 245h1M149 200h1M206 268h1M196 261h1M146 212h1M177 228h1M126 197h1M152 208h1M101 199h1M148 216h1M173 229h1M242 264h1M199 250h1M153 209h1M218 262h1M185 224h1M196 227h1M69 159h1M216 255h1M111 193h1M169 208h1M155 219h1M218 291h1M195 263h1M172 235h1M178 255h1M122 204h1M102 170h1M204 257h1M211 249h1M124 187h1M218 251h1M191 257h1M179 183h1M145 216h1M173 213h1M179 261h1M132 218h1M159 195h1M167 220h1M204 258h1M157 247h1M134 204h1M190 254h1M189 218h1M141 186h1M193 242h1M154 207h1M90 200h1M227 268h1M152 235h1M191 236h1M175 237h1M230 266h1M198 259h1M99 174h1M176 233h1M158 245h1M151 227h1M193 229h1M161 183h1M136 228h1M199 229h1" stroke="#0c0c0c" stroke-width="4.32" stroke-linecap="square" fill="none"/><path transform="translate(423.60,237.50) scale(.25,-.25)" d="M49 193h1M45 135h1M62 184h1M61 165h1M24 138h1M50 216h1M44 219h1M40 157h1M61 159h1M67 210h1M58 162h1M4 211h1M29 175h1M15 190h1M51 181h1M3 171h1M64 174h1M78 151h1M7 219h1M52 195h1M47 186h1M23 174h1M23 190h1M36 219h1M31 172h1M71 211h1M40 177h1M21 191h1M101 174h1M67 196h1M52 238h1M50 170h1M71 153h1M48 140h1M40 155h1M36 214h1M53 237h1M19 227h1M74 162h1M41 201h1M22 186h1M21 184h1M34 174h1M58 197h1M57 168h1M48 187h1M1 126h1M32 155h1M29 196h1M8 199h1M49 176h1M10 141h1M58 190h1M34 174h1M91 182h1M15 193h1M91 198h1M63 212h1M58 188h1M26 218h1" stroke="#0c0c0c" stroke-width="4.32" stroke-linecap="square" fill="none"/><rect x="423.60" y="154.80" width="90.90" height="82.70" fill="none" stroke="#000" stroke-width="1.3"/><path d="M452.00 154.80V237.50M423.60 213.20H514.50" stroke="#000" stroke-width="1.7" fill="none"/><path d="M423.60 237.50v3.6M423.60 236.40h-3.6M430.44 237.50v2.2M423.60 230.26h-2.2M434.44 237.50v2.2M423.60 226.67h-2.2M437.28 237.50v2.2M423.60 224.12h-2.2M439.48 237.50v2.2M423.60 222.14h-2.2M441.28 237.50v2.2M423.60 220.53h-2.2M442.80 237.50v2.2M423.60 219.16h-2.2M444.12 237.50v2.2M423.60 217.98h-2.2M445.29 237.50v2.2M423.60 216.93h-2.2M446.33 237.50v3.6M423.60 216.00h-3.6M453.17 237.50v2.2M423.60 209.86h-2.2M457.17 237.50v2.2M423.60 206.27h-2.2M460.01 237.50v2.2M423.60 203.72h-2.2M462.21 237.50v2.2M423.60 201.74h-2.2M464.01 237.50v2.2M423.60 200.13h-2.2M465.53 237.50v2.2M423.60 198.76h-2.2M466.85 237.50v2.2M423.60 197.58h-2.2M468.01 237.50v2.2M423.60 196.53h-2.2M469.05 237.50v3.6M423.60 195.60h-3.6M475.89 237.50v2.2M423.60 189.46h-2.2M479.89 237.50v2.2M423.60 185.87h-2.2M482.73 237.50v2.2M423.60 183.32h-2.2M484.93 237.50v2.2M423.60 181.34h-2.2M486.73 237.50v2.2M423.60 179.73h-2.2M488.25 237.50v2.2M423.60 178.36h-2.2M489.57 237.50v2.2M423.60 177.18h-2.2M490.74 237.50v2.2M423.60 176.13h-2.2M491.77 237.50v3.6M423.60 175.20h-3.6M498.62 237.50v2.2M423.60 169.06h-2.2M502.62 237.50v2.2M423.60 165.47h-2.2M505.46 237.50v2.2M423.60 162.92h-2.2M507.66 237.50v2.2M423.60 160.94h-2.2M509.46 237.50v2.2M423.60 159.33h-2.2M510.98 237.50v2.2M423.60 157.96h-2.2M512.30 237.50v2.2M423.60 156.78h-2.2M513.46 237.50v2.2M423.60 155.73h-2.2M514.50 237.50v3.6M423.60 154.80h-3.6" stroke="#000" stroke-width="1.1" fill="none"/><g stroke-width=".7"><text transform="translate(419.20,252.40) scale(0.6,1)" font-size="11.4">10</text><text transform="translate(426.80,248.20) scale(0.78,1)" font-size="9.4">0</text><text transform="translate(416.20,243.60) rotate(-90) scale(0.86,1)" font-size="9">10</text><text transform="translate(412.10,232.00) rotate(-90) scale(0.95,1)" font-size="8.1">0</text><text transform="translate(441.21,252.40) scale(0.6,1)" font-size="11.4">10</text><text transform="translate(448.81,248.20) scale(0.78,1)" font-size="9.4">1</text><text transform="translate(416.20,223.20) rotate(-90) scale(0.86,1)" font-size="9">10</text><text transform="translate(412.10,211.60) rotate(-90) scale(0.95,1)" font-size="8.1">1</text><text transform="translate(463.21,252.40) scale(0.6,1)" font-size="11.4">10</text><text transform="translate(470.81,248.20) scale(0.78,1)" font-size="9.4">2</text><text transform="translate(416.20,202.80) rotate(-90) scale(0.86,1)" font-size="9">10</text><text transform="translate(412.10,191.20) rotate(-90) scale(0.95,1)" font-size="8.1">2</text><text transform="translate(485.22,252.40) scale(0.6,1)" font-size="11.4">10</text><text transform="translate(492.82,248.20) scale(0.78,1)" font-size="9.4">3</text><text transform="translate(416.20,182.40) rotate(-90) scale(0.86,1)" font-size="9">10</text><text transform="translate(412.10,170.80) rotate(-90) scale(0.95,1)" font-size="8.1">3</text><text transform="translate(507.22,252.40) scale(0.6,1)" font-size="11.4">10</text><text transform="translate(514.82,248.20) scale(0.78,1)" font-size="9.4">4</text><text transform="translate(416.20,162.00) rotate(-90) scale(0.86,1)" font-size="9">10</text><text transform="translate(412.10,150.40) rotate(-90) scale(0.95,1)" font-size="8.1">4</text><text x="450.40" y="263.30" font-size="12.2" textLength="35.2" lengthAdjust="spacingAndGlyphs" stroke-width=".6">ANNEXIN</text><text transform="translate(405.70,201.30) rotate(-90)" font-size="9" textLength="8" lengthAdjust="spacingAndGlyphs">PI</text></g><text x="469.80" y="151.20" font-size="11.3" text-anchor="middle" stroke-width=".55">PMA 16h</text><text x="438.20" y="171.20" font-size="12.2" text-anchor="middle" stroke-width=".85">42</text><text x="503.20" y="171.20" font-size="12.2" text-anchor="middle" stroke-width=".85">29</text><text x="504.20" y="228.80" font-size="12.2" text-anchor="middle" stroke-width=".85">1</text>
<text x="0.3" y="330.6" font-size="17.3" font-weight="bold" stroke-width=".2">B</text>
<text x="80.5" y="328" font-size="11.3">IP: 8-301</text>
<text x="278.8" y="327.6" font-size="11.3">IP: 8-301</text>
<path d="M25.2 333.3H190.8M86.2 355.2H190.8M209.5 333.3H403.2M280 356.2H403.2" stroke="#000" stroke-width="1.9" fill="none"/>
<text x="100" y="349.2" font-size="11.6">cell. supernatant</text>
<text x="299.5" y="350.7" font-size="11.6">cell. supernatant</text>
<text transform="translate(39.5,427.5) rotate(-90)" font-size="12.2">rec ct-CD45</text>
<text transform="translate(75.0,427.5) rotate(-90)" font-size="12.2">medium ctrl</text>
<text transform="translate(108.6,427.5) rotate(-90)" font-size="12.2">mock</text>
<text transform="translate(148.0,427.5) rotate(-90)" font-size="12.2">PMA 4h</text>
<text transform="translate(180.5,427.5) rotate(-90)" font-size="12.2">PMA 16h</text>
<text transform="translate(230.0,428) rotate(-90)" font-size="12.4">rec ct-CD45</text>
<text transform="translate(261.2,428) rotate(-90)" font-size="12.4">medium ctrl</text>
<text transform="translate(295.0,428) rotate(-90)" font-size="12.4">mock</text>
<text transform="translate(332.3,428) rotate(-90)" font-size="12.4">Zym 1h</text>
<text transform="translate(365.8,428) rotate(-90)" font-size="12.4">Zym 4h</text>
<text transform="translate(397.0,428) rotate(-90)" font-size="12.4">Zym 16h</text>
<text x="420.5" y="451.7" font-size="11.35">WB: 8-301(95kDa)</text>
<text x="421.2" y="475.5" font-size="11.1">SaM</text>
<rect x="24.5" y="434.5" width="171" height="17.5" fill="#f3f3f3" filter="url(#b2)"/>
<rect x="24.5" y="456.5" width="171" height="22.5" fill="#f1f1f1" filter="url(#b2)"/>
<rect x="206.5" y="434.5" width="205" height="45.5" fill="#f3f3f3" filter="url(#b2)"/>
<rect x="26.5" y="442.3" width="24.5" height="4.0" rx="2.0" fill="#000" opacity="1" filter="url(#b1)"/>
<rect x="64.0" y="443.7" width="18.0" height="2.6" rx="1.3" fill="#e2e2e2" opacity="1" filter="url(#b1)"/>
<rect x="97.0" y="443.7" width="18.0" height="2.6" rx="1.3" fill="#e6e6e6" opacity="1" filter="url(#b1)"/>
<rect x="128.0" y="442.1" width="27.5" height="5.2" rx="2.6" fill="#000" opacity="1" filter="url(#b1)"/>
<rect x="165.0" y="442.4" width="26.0" height="5.5" rx="2.8" fill="#bdbdbd" opacity="1" filter="url(#b1)"/>
<rect x="166.0" y="443.6" width="24.0" height="3.1" rx="1.6" fill="#111" opacity="1" filter="url(#b1)"/>
<rect x="25.8" y="463.2" width="27.7" height="7.6" rx="3.8" fill="#000" opacity="1" filter="url(#b1)"/>
<rect x="60.5" y="465.0" width="26.5" height="7.4" rx="3.7" fill="#000" opacity="1" filter="url(#b1)"/>
<rect x="92.5" y="465.0" width="28.5" height="8.4" rx="4.2" fill="#000" opacity="1" filter="url(#b1)"/>
<rect x="126.0" y="465.9" width="30.5" height="8.2" rx="4.1" fill="#000" opacity="1" filter="url(#b1)"/>
<rect x="161.5" y="463.9" width="31.5" height="10.2" rx="5.1" fill="#000" opacity="1" filter="url(#b1)"/>
<rect x="50.0" y="466.5" width="14.0" height="3.0" rx="1.5" fill="#000" opacity="0.5" filter="url(#b1)"/>
<rect x="85.0" y="467.0" width="10.0" height="4.0" rx="2.0" fill="#000" opacity="0.6" filter="url(#b1)"/>
<rect x="119.0" y="467.4" width="9.0" height="4.5" rx="2.2" fill="#000" opacity="0.7" filter="url(#b1)"/>
<rect x="154.0" y="467.1" width="10.0" height="5.0" rx="2.5" fill="#000" opacity="0.7" filter="url(#b1)"/>
<rect x="211.5" y="439.5" width="33.0" height="7.6" rx="3.8" fill="#000" opacity="1" filter="url(#b1)"/>
<rect x="283.0" y="443.0" width="22.0" height="3.4" rx="1.7" fill="#cdcdcd" opacity="1" filter="url(#b2)"/>
<rect x="285.0" y="443.8" width="8.0" height="2.0" rx="1.0" fill="#bbb" opacity="1" filter="url(#b1)"/>
<rect x="297.0" y="443.6" width="7.0" height="2.0" rx="1.0" fill="#bbb" opacity="1" filter="url(#b1)"/>
<rect x="314.0" y="442.7" width="25.5" height="3.6" rx="1.8" fill="#c4c4c4" opacity="1" filter="url(#b2)"/>
<rect x="316.0" y="443.6" width="22.0" height="1.8" rx="0.9" fill="#b4b4b4" opacity="1" filter="url(#b1)"/>
<rect x="347.0" y="442.2" width="27.0" height="5.6" rx="2.8" fill="#a8a8a8" opacity="1" filter="url(#b2)"/>
<rect x="350.0" y="443.4" width="23.0" height="3.2" rx="1.6" fill="#808080" opacity="1" filter="url(#b1)"/>
<rect x="379.0" y="440.9" width="28.0" height="4.6" rx="2.3" fill="#555" opacity="1" filter="url(#b2)"/>
<rect x="381.0" y="441.8" width="26.0" height="3.0" rx="1.5" fill="#333" opacity="1" filter="url(#b1)"/>
<rect x="392.0" y="441.9" width="15.0" height="3.2" rx="1.6" fill="#000" opacity="1" filter="url(#b1)"/>
<rect x="208.0" y="465.9" width="203.0" height="5.5" rx="2.8" fill="#dcdcdc" opacity="1" filter="url(#b2)"/>
<rect x="209.0" y="462.5" width="28.0" height="9.0" rx="4.5" fill="#a2a2a2" opacity="1" filter="url(#b2)"/>
<rect x="210.0" y="466.1" width="26.0" height="3.8" rx="1.9" fill="#555" opacity="1" filter="url(#b1)"/>
<rect x="211.0" y="463.5" width="23.0" height="1.8" rx="0.9" fill="#555" opacity="0.6" filter="url(#b0)"/>
<rect x="248.0" y="463.8" width="23.0" height="9.0" rx="4.5" fill="#a2a2a2" opacity="1" filter="url(#b2)"/>
<rect x="249.0" y="467.4" width="21.0" height="3.8" rx="1.9" fill="#333" opacity="1" filter="url(#b1)"/>
<rect x="250.0" y="464.8" width="18.0" height="1.8" rx="0.9" fill="#333" opacity="0.6" filter="url(#b0)"/>
<rect x="282.0" y="464.0" width="22.5" height="9.0" rx="4.5" fill="#a2a2a2" opacity="1" filter="url(#b2)"/>
<rect x="283.0" y="467.6" width="20.5" height="3.8" rx="1.9" fill="#222" opacity="1" filter="url(#b1)"/>
<rect x="284.0" y="465.0" width="17.5" height="1.8" rx="0.9" fill="#222" opacity="0.6" filter="url(#b0)"/>
<rect x="314.0" y="463.9" width="24.5" height="9.0" rx="4.5" fill="#a2a2a2" opacity="1" filter="url(#b2)"/>
<rect x="315.0" y="467.5" width="22.5" height="3.8" rx="1.9" fill="#3a3a3a" opacity="1" filter="url(#b1)"/>
<rect x="316.0" y="464.9" width="19.5" height="1.8" rx="0.9" fill="#3a3a3a" opacity="0.6" filter="url(#b0)"/>
<rect x="350.0" y="463.8" width="24.5" height="9.0" rx="4.5" fill="#a2a2a2" opacity="1" filter="url(#b2)"/>
<rect x="351.0" y="467.4" width="22.5" height="3.8" rx="1.9" fill="#3a3a3a" opacity="1" filter="url(#b1)"/>
<rect x="352.0" y="464.8" width="19.5" height="1.8" rx="0.9" fill="#3a3a3a" opacity="0.6" filter="url(#b0)"/>
<rect x="385.5" y="466.5" width="24.0" height="9.0" rx="4.5" fill="#a2a2a2" opacity="1" filter="url(#b2)"/>
<rect x="386.5" y="470.1" width="22.0" height="3.8" rx="1.9" fill="#444" opacity="1" filter="url(#b1)"/>
<rect x="387.5" y="467.5" width="19.0" height="1.8" rx="0.9" fill="#444" opacity="0.6" filter="url(#b0)"/>
<text x="1.6" y="524.2" font-size="17.3" font-weight="bold" stroke-width=".2">C</text>
<rect x="78.8" y="522.3" width="112.4" height="112.9" fill="none" stroke="#7a7a7a" stroke-width="1.25"/>
<text transform="translate(71.0,639.6) scale(0.87,1)" font-size="12" text-anchor="end" stroke-width=".55">0</text>
<text transform="translate(71.0,620.7) scale(0.87,1)" font-size="12" text-anchor="end" stroke-width=".55">50</text>
<text transform="translate(71.0,601.9) scale(0.87,1)" font-size="12" text-anchor="end" stroke-width=".55">100</text>
<text transform="translate(71.0,583.1) scale(0.87,1)" font-size="12" text-anchor="end" stroke-width=".55">150</text>
<text transform="translate(71.0,564.3) scale(0.87,1)" font-size="12" text-anchor="end" stroke-width=".55">200</text>
<text transform="translate(71.0,545.5) scale(0.87,1)" font-size="12" text-anchor="end" stroke-width=".55">250</text>
<text transform="translate(71.0,526.6) scale(0.87,1)" font-size="12" text-anchor="end" stroke-width=".55">300</text>
<path d="M78.8 635.20h-3.2M78.8 616.38h-3.2M78.8 597.57h-3.2M78.8 578.75h-3.2M78.8 559.93h-3.2M78.8 541.12h-3.2M78.8 522.30h-3.2M78.80 635.2v3.2M116.27 635.2v3.2M153.73 635.2v3.2M191.20 635.2v3.2" stroke="#444" stroke-width="1" fill="none"/>
<path d="M78.8 522.3V635.2H191.2" stroke="#555" stroke-width="1.2" fill="none"/>
<rect x="90.0" y="630.8" width="15.5" height="4.4" fill="#000"/>
<path d="M97.8 630.8V629.9M94.7 629.9H100.8" stroke="#000" stroke-width="2" fill="none"/>
<rect x="127.4" y="579.9" width="15.5" height="55.3" fill="#000"/>
<path d="M135.2 579.9V579.0M132.1 579.0H138.2" stroke="#000" stroke-width="2" fill="none"/>
<rect x="165.0" y="534.8" width="15.0" height="100.4" fill="#000"/>
<path d="M172.5 534.8V533.8M169.4 533.8H175.6" stroke="#000" stroke-width="2" fill="none"/>
<text transform="translate(39.4,612.5) rotate(-90)" font-size="12.2">LDH release</text>
<text transform="translate(47.1,595) rotate(-90) scale(1.18,1)" font-size="9.2">ng/mL</text>
<text transform="translate(103.9,656.5) scale(1,1)" font-size="11.2" text-anchor="middle">mock</text>
<text transform="translate(136.1,656.5) scale(1,1)" font-size="11.2" text-anchor="middle">PMA</text>
<text transform="translate(135.5,670.5) scale(1,1)" font-size="11.2" text-anchor="middle">4h</text>
<text transform="translate(173.4,656.5) scale(1,1)" font-size="11.2" text-anchor="middle">PMA</text>
<text transform="translate(172.8,670.5) scale(1,1)" font-size="11.2" text-anchor="middle">16h</text>
<rect x="276.3" y="522.3" width="131.5" height="114.1" fill="none" stroke="#7a7a7a" stroke-width="1.25"/>
<text transform="translate(271.0,640.0) scale(0.87,1)" font-size="12" text-anchor="end" stroke-width=".55">0</text>
<text transform="translate(271.0,602.0) scale(0.87,1)" font-size="12" text-anchor="end" stroke-width=".55">50</text>
<text transform="translate(271.0,563.9) scale(0.87,1)" font-size="12" text-anchor="end" stroke-width=".55">100</text>
<text transform="translate(271.0,525.9) scale(0.87,1)" font-size="12" text-anchor="end" stroke-width=".55">150</text>
<path d="M276.3 636.40h-3.2M276.3 598.37h-3.2M276.3 560.33h-3.2M276.3 522.30h-3.2M276.30 636.4v3.2M309.18 636.4v3.2M342.05 636.4v3.2M374.93 636.4v3.2M407.80 636.4v3.2" stroke="#444" stroke-width="1" fill="none"/>
<path d="M276.3 522.3V636.4H407.8" stroke="#555" stroke-width="1.2" fill="none"/>
<rect x="286.1" y="609.2" width="13.4" height="27.2" fill="#000"/>
<path d="M292.8 609.2V606.8M290.1 606.8H295.5" stroke="#000" stroke-width="1.5" fill="none"/>
<rect x="318.8" y="608.9" width="13.5" height="27.5" fill="#000"/>
<path d="M325.6 608.9V607.3M322.9 607.3H328.2" stroke="#000" stroke-width="1.5" fill="none"/>
<rect x="351.3" y="596.2" width="13.6" height="40.2" fill="#000"/>
<path d="M358.1 596.2V594.2M355.4 594.2H360.8" stroke="#000" stroke-width="1.5" fill="none"/>
<rect x="384.0" y="539.8" width="13.8" height="96.6" fill="#000"/>
<path d="M390.9 539.8V538.0M388.2 538.0H393.6" stroke="#000" stroke-width="1.5" fill="none"/>
<text transform="translate(238,612.5) rotate(-90)" font-size="12.2">LDH release</text>
<text transform="translate(247.6,596) rotate(-90) scale(1.18,1)" font-size="9.2">ng/mL</text>
<text transform="translate(297.3,656.2) scale(0.9,1)" font-size="11.3" text-anchor="middle">mock</text>
<text transform="translate(326.8,656.2) scale(0.92,1)" font-size="11.3" text-anchor="middle">Zym</text>
<text transform="translate(326.8,669.9) scale(0.9,1)" font-size="11.3" text-anchor="middle">1h</text>
<text transform="translate(359.1,656.2) scale(0.92,1)" font-size="11.3" text-anchor="middle">Zym</text>
<text transform="translate(358.5,669.9) scale(0.9,1)" font-size="11.3" text-anchor="middle">4h</text>
<text transform="translate(392.1,656.2) scale(0.92,1)" font-size="11.3" text-anchor="middle">Zym</text>
<text transform="translate(391.5,669.9) scale(0.9,1)" font-size="11.3" text-anchor="middle">16h</text>
<text x="-1.2" y="707.4" font-size="17.3" font-weight="bold" stroke-width=".2">D</text>
<text transform="translate(112.1,847.9) scale(1,1)" font-size="12.5" text-anchor="end" stroke-width=".55">0</text>
<text transform="translate(110.6,827.3) scale(1,1)" font-size="12.5" text-anchor="end" stroke-width=".55">2000</text>
<text transform="translate(110.6,806.7) scale(1,1)" font-size="12.5" text-anchor="end" stroke-width=".55">4000</text>
<text transform="translate(110.6,786.0) scale(1,1)" font-size="12.5" text-anchor="end" stroke-width=".55">6000</text>
<text transform="translate(110.6,765.4) scale(1,1)" font-size="12.5" text-anchor="end" stroke-width=".55">8000</text>
<text transform="translate(110.1,744.8) scale(1,1)" font-size="12.5" text-anchor="end" stroke-width=".55">10000</text>
<text transform="translate(110.1,724.1) scale(1,1)" font-size="12.5" text-anchor="end" stroke-width=".55">12000</text>
<path d="M122.3 719V842.6H240M122.3 842.60h-4.6M122.3 822.55h-4.6M122.3 801.92h-4.6M122.3 781.29h-4.6M122.3 760.66h-4.6M122.3 740.03h-4.6M122.3 719.40h-4.6M122.3 842.6v3.2M180.8 842.6v3.2M240.0 842.6v3.2" stroke="#8c8c8c" stroke-width="0.95" fill="none"/>
<rect x="132.0" y="835.5" width="23.8" height="7.1" fill="#000"/>
<path d="M143.9 835.5V832.1M141.0 832.1H146.8" stroke="#000" stroke-width="1.5" fill="none"/>
<rect x="191.3" y="762.2" width="23.7" height="80.4" fill="#000"/>
<path d="M203.2 762.2V725.0M200.2 725.0H206.1" stroke="#000" stroke-width="1.5" fill="none"/>
<path d="M141 717.8H202" stroke="#000" stroke-width="1.7" fill="none"/>
<text x="170.8" y="716.4" font-size="15.5" font-weight="bold" text-anchor="middle">**</text>
<text transform="translate(72.8,838) rotate(-90)" font-size="11.85">relative fluorescence units</text>
<text transform="translate(143.9,863.8) scale(1,1)" font-size="12.5" text-anchor="middle">mock</text>
<text transform="translate(204.6,863.8) scale(1,1)" font-size="12.5" text-anchor="middle">PMA</text>
<path d="M120.8 873.6H240.6" stroke="#000" stroke-width="2.3" fill="none"/>
<text x="152" y="889" font-size="11.45">IP: 8-301</text>
</svg></body></html>
